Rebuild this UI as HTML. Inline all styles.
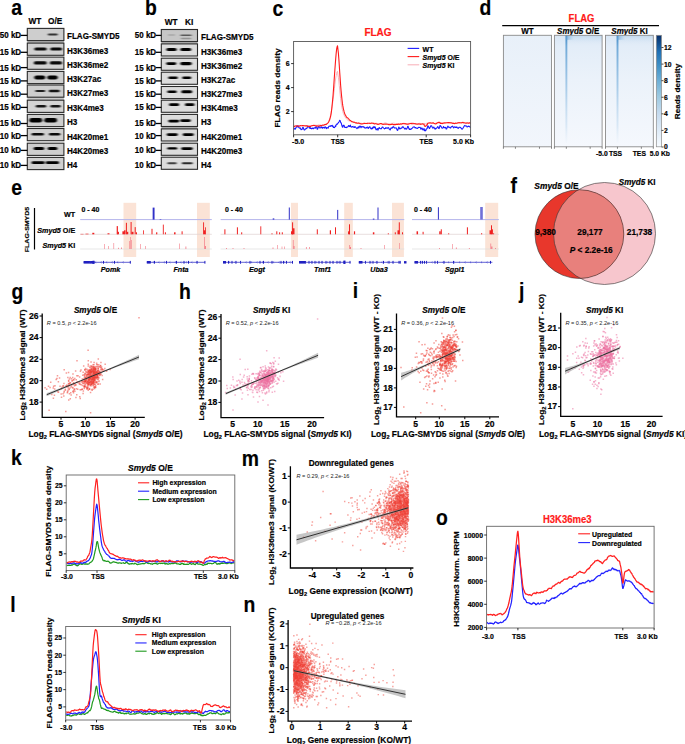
<!DOCTYPE html>
<html><head><meta charset="utf-8"><title>Figure</title>
<style>html,body{margin:0;padding:0;background:#fff;width:685px;height:744px;overflow:hidden;font-family:"Liberation Sans", sans-serif;}svg{display:block;}</style>
</head><body>
<svg width="685" height="744" viewBox="0 0 685 744" font-family='"Liberation Sans", sans-serif'><defs><filter id="blur1" x="-20%" y="-100%" width="140%" height="300%"><feGaussianBlur stdDeviation="0.9 0.45"/></filter><linearGradient id="hmv" x1="0" y1="0" x2="0" y2="1"><stop offset="0" stop-color="#d9e7f5"/><stop offset="0.1" stop-color="#e3edf8"/><stop offset="0.4" stop-color="#ebf2fa"/><stop offset="1" stop-color="#f5f8fd"/></linearGradient><linearGradient id="hmw" x1="0" y1="0" x2="0" y2="1"><stop offset="0" stop-color="#e8f0f9"/><stop offset="1" stop-color="#f2f6fc"/></linearGradient><linearGradient id="streak" x1="0" y1="0" x2="0" y2="1"><stop offset="0" stop-color="#3f88c5" stop-opacity="0.95"/><stop offset="0.1" stop-color="#5b9dd2" stop-opacity="0.85"/><stop offset="0.5" stop-color="#86b8e0" stop-opacity="0.65"/><stop offset="0.85" stop-color="#b5d3ec" stop-opacity="0.4"/><stop offset="1" stop-color="#d6e6f4" stop-opacity="0.1"/></linearGradient><linearGradient id="corner" x1="0" y1="0" x2="1" y2="0"><stop offset="0" stop-color="#6aa6d6" stop-opacity="0.75"/><stop offset="1" stop-color="#a9cbe9" stop-opacity="0"/></linearGradient><linearGradient id="topband" x1="0" y1="0" x2="0" y2="1"><stop offset="0" stop-color="#bcd6ee" stop-opacity="0.8"/><stop offset="1" stop-color="#dbe8f5" stop-opacity="0"/></linearGradient><linearGradient id="cbar" x1="0" y1="1" x2="0" y2="0"><stop offset="0" stop-color="#f7fbff"/><stop offset="0.15" stop-color="#deebf7"/><stop offset="0.3" stop-color="#c6dbef"/><stop offset="0.45" stop-color="#9ecae1"/><stop offset="0.6" stop-color="#6baed6"/><stop offset="0.72" stop-color="#4292c6"/><stop offset="0.85" stop-color="#2171b5"/><stop offset="1" stop-color="#08306b"/></linearGradient><clipPath id="c1"><circle cx="579.4" cy="234.1" r="44.4"/></clipPath></defs><rect x="27.3" y="40" width="36.6" height="3.5" fill="#b8b8b8" stroke="none" stroke-width="1" />
<rect x="27.3" y="96.8" width="36.6" height="3.6" fill="#c8c8c8" stroke="none" stroke-width="1" />
<rect x="27.3" y="28.4" width="36.6" height="12.2" fill="#cecece" stroke="#2a2a2a" stroke-width="1.1" />
<rect x="47.8" y="33.6" width="9.9" height="2" rx="1" fill="#000" opacity="0.75" filter="url(#blur1)"/>
<rect x="27.3" y="43.1" width="36.6" height="12.2" fill="#d0d0d0" stroke="#2a2a2a" stroke-width="1.1" />
<rect x="34.3" y="47.4" width="12.4" height="3" rx="1.5" fill="#000" opacity="0.95" filter="url(#blur1)"/>
<rect x="50.3" y="47.4" width="11.7" height="3" rx="1.5" fill="#000" opacity="0.95" filter="url(#blur1)"/>
<rect x="27.3" y="57.1" width="36.6" height="12.2" fill="#d2d2d2" stroke="#2a2a2a" stroke-width="1.1" />
<rect x="33.8" y="61.3" width="12.9" height="3.2" rx="1.6" fill="#000" opacity="0.95" filter="url(#blur1)"/>
<rect x="49.8" y="61.3" width="12.2" height="3.2" rx="1.6" fill="#000" opacity="0.95" filter="url(#blur1)"/>
<rect x="27.3" y="71.4" width="36.6" height="12.2" fill="#d0d0d0" stroke="#2a2a2a" stroke-width="1.1" />
<rect x="34.3" y="75.4" width="10.9" height="4.2" rx="2.1" fill="#000" opacity="1" filter="url(#blur1)"/>
<rect x="47.3" y="75.4" width="10.4" height="4.2" rx="2.1" fill="#000" opacity="1" filter="url(#blur1)"/>
<rect x="27.3" y="85" width="36.6" height="12.2" fill="#cecece" stroke="#2a2a2a" stroke-width="1.1" />
<rect x="35.3" y="89.9" width="9.9" height="2.2" rx="1.1" fill="#000" opacity="0.85" filter="url(#blur1)"/>
<rect x="48.8" y="89.75" width="10.9" height="2.5" rx="1.25" fill="#000" opacity="0.9" filter="url(#blur1)"/>
<rect x="27.3" y="100.2" width="36.6" height="12.2" fill="#d4d4d4" stroke="#2a2a2a" stroke-width="1.1" />
<rect x="35.8" y="105.1" width="10.4" height="2.4" rx="1.2" fill="#000" opacity="0.9" filter="url(#blur1)"/>
<rect x="50.4" y="105.1" width="10.2" height="2.4" rx="1.2" fill="#000" opacity="0.9" filter="url(#blur1)"/>
<rect x="27.3" y="114.4" width="36.6" height="12.2" fill="#cecece" stroke="#2a2a2a" stroke-width="1.1" />
<rect x="29.4" y="118.1" width="12.8" height="4.4" rx="2.2" fill="#000" opacity="1" filter="url(#blur1)"/>
<rect x="44.3" y="118.1" width="12.7" height="4.4" rx="2.2" fill="#000" opacity="1" filter="url(#blur1)"/>
<rect x="27.3" y="128.5" width="36.6" height="12.2" fill="#d0d0d0" stroke="#2a2a2a" stroke-width="1.1" />
<rect x="31.6" y="132.9" width="12.3" height="2.6" rx="1.3" fill="#000" opacity="0.95" filter="url(#blur1)"/>
<rect x="49" y="132.9" width="11.2" height="2.6" rx="1.3" fill="#000" opacity="0.95" filter="url(#blur1)"/>
<rect x="27.3" y="143.2" width="36.6" height="12.2" fill="#cecece" stroke="#2a2a2a" stroke-width="1.1" />
<rect x="33.7" y="146.9" width="10.5" height="3" rx="1.5" fill="#000" opacity="1" filter="url(#blur1)"/>
<rect x="47.7" y="146.9" width="9.7" height="3" rx="1.5" fill="#000" opacity="1" filter="url(#blur1)"/>
<rect x="27.3" y="157.4" width="36.6" height="12.2" fill="#d0d0d0" stroke="#2a2a2a" stroke-width="1.1" />
<rect x="31.6" y="161.3" width="13.1" height="2.8" rx="1.4" fill="#000" opacity="1" filter="url(#blur1)"/>
<rect x="45.8" y="161.3" width="13.2" height="2.8" rx="1.4" fill="#000" opacity="1" filter="url(#blur1)"/>
<line x1="20.8" y1="35.4" x2="27.3" y2="35.4" stroke="#000" stroke-width="1.3" />
<text font-size="8" font-weight="bold" text-anchor="end" stroke="#000" stroke-width="0.18" transform="translate(21.1 38.3) scale(1 1.12)">50 kD</text>
<text font-size="8.1" font-weight="bold" stroke="#000" stroke-width="0.18" transform="translate(67 39.4) scale(1 1.12)">FLAG-SMYD5</text>
<line x1="20.8" y1="52.3" x2="27.3" y2="52.3" stroke="#000" stroke-width="1.3" />
<text font-size="8" font-weight="bold" text-anchor="end" stroke="#000" stroke-width="0.18" transform="translate(21.1 55.2) scale(1 1.12)">15 kD</text>
<text font-size="8.1" font-weight="bold" stroke="#000" stroke-width="0.18" transform="translate(67 54.1) scale(1 1.12)">H3K36me3</text>
<line x1="20.8" y1="67.6" x2="27.3" y2="67.6" stroke="#000" stroke-width="1.3" />
<text font-size="8" font-weight="bold" text-anchor="end" stroke="#000" stroke-width="0.18" transform="translate(21.1 70.5) scale(1 1.12)">15 kD</text>
<text font-size="8.1" font-weight="bold" stroke="#000" stroke-width="0.18" transform="translate(67 68.1) scale(1 1.12)">H3K36me2</text>
<line x1="20.8" y1="80.9" x2="27.3" y2="80.9" stroke="#000" stroke-width="1.3" />
<text font-size="8" font-weight="bold" text-anchor="end" stroke="#000" stroke-width="0.18" transform="translate(21.1 83.8) scale(1 1.12)">15 kD</text>
<text font-size="8.1" font-weight="bold" stroke="#000" stroke-width="0.18" transform="translate(67 82.4) scale(1 1.12)">H3K27ac</text>
<line x1="20.8" y1="94.2" x2="27.3" y2="94.2" stroke="#000" stroke-width="1.3" />
<text font-size="8" font-weight="bold" text-anchor="end" stroke="#000" stroke-width="0.18" transform="translate(21.1 97.1) scale(1 1.12)">15 kD</text>
<text font-size="8.1" font-weight="bold" stroke="#000" stroke-width="0.18" transform="translate(67 96) scale(1 1.12)">H3K27me3</text>
<line x1="20.8" y1="107.4" x2="27.3" y2="107.4" stroke="#000" stroke-width="1.3" />
<text font-size="8" font-weight="bold" text-anchor="end" stroke="#000" stroke-width="0.18" transform="translate(21.1 110.3) scale(1 1.12)">15 kD</text>
<text font-size="8.1" font-weight="bold" stroke="#000" stroke-width="0.18" transform="translate(67 111.2) scale(1 1.12)">H3K4me3</text>
<line x1="20.8" y1="123.5" x2="27.3" y2="123.5" stroke="#000" stroke-width="1.3" />
<text font-size="8" font-weight="bold" text-anchor="end" stroke="#000" stroke-width="0.18" transform="translate(21.1 126.4) scale(1 1.12)">15 kD</text>
<text font-size="8.1" font-weight="bold" stroke="#000" stroke-width="0.18" transform="translate(67 125.4) scale(1 1.12)">H3</text>
<line x1="20.8" y1="135.6" x2="27.3" y2="135.6" stroke="#000" stroke-width="1.3" />
<text font-size="8" font-weight="bold" text-anchor="end" stroke="#000" stroke-width="0.18" transform="translate(21.1 138.5) scale(1 1.12)">10 kD</text>
<text font-size="8.1" font-weight="bold" stroke="#000" stroke-width="0.18" transform="translate(67 139.5) scale(1 1.12)">H4K20me1</text>
<line x1="20.8" y1="150.4" x2="27.3" y2="150.4" stroke="#000" stroke-width="1.3" />
<text font-size="8" font-weight="bold" text-anchor="end" stroke="#000" stroke-width="0.18" transform="translate(21.1 153.3) scale(1 1.12)">10 kD</text>
<text font-size="8.1" font-weight="bold" stroke="#000" stroke-width="0.18" transform="translate(67 154.2) scale(1 1.12)">H4K20me3</text>
<line x1="20.8" y1="165.4" x2="27.3" y2="165.4" stroke="#000" stroke-width="1.3" />
<text font-size="8" font-weight="bold" text-anchor="end" stroke="#000" stroke-width="0.18" transform="translate(21.1 168.3) scale(1 1.12)">10 kD</text>
<text font-size="8.1" font-weight="bold" stroke="#000" stroke-width="0.18" transform="translate(67 168.4) scale(1 1.12)">H4</text>
<text font-size="21.5" font-weight="bold" stroke="#000" stroke-width="0.18" transform="translate(11.2 15) scale(0.9 1)">a</text>
<text font-size="8.3" font-weight="bold" stroke="#000" stroke-width="0.18" transform="translate(28.4 24.3) scale(1 1.12)">WT</text>
<text font-size="8.3" font-weight="bold" stroke="#000" stroke-width="0.18" transform="translate(48 24.3) scale(1 1.12)">O/E</text>
<rect x="161.3" y="126.5" width="36.2" height="2.6" fill="#b0b0b0" stroke="none" stroke-width="1" />
<rect x="161.3" y="41" width="36.2" height="3" fill="#bcbcbc" stroke="none" stroke-width="1" />
<rect x="161.3" y="29.5" width="36.2" height="12.1" fill="#c6c6c6" stroke="#2a2a2a" stroke-width="1.1" />
<rect x="167.8" y="34.25" width="7.4" height="1.5" rx="0.75" fill="#000" opacity="0.15" filter="url(#blur1)"/>
<rect x="180.3" y="34.4" width="11.4" height="1.6" rx="0.8" fill="#000" opacity="0.55" filter="url(#blur1)"/>
<rect x="180.8" y="37.8" width="10.4" height="1.4" rx="0.7" fill="#000" opacity="0.25" filter="url(#blur1)"/>
<rect x="161.3" y="43.9" width="36.2" height="12.1" fill="#dcdcdc" stroke="#2a2a2a" stroke-width="1.1" />
<rect x="166.4" y="48.1" width="10.2" height="3" rx="1.5" fill="#000" opacity="1" filter="url(#blur1)"/>
<rect x="180.4" y="48.1" width="10.8" height="3" rx="1.5" fill="#000" opacity="1" filter="url(#blur1)"/>
<rect x="161.3" y="58.2" width="36.2" height="12.1" fill="#dcdcdc" stroke="#2a2a2a" stroke-width="1.1" />
<rect x="166.3" y="62.2" width="9.9" height="2.8" rx="1.4" fill="#000" opacity="1" filter="url(#blur1)"/>
<rect x="180.3" y="62" width="11.4" height="3.2" rx="1.6" fill="#000" opacity="1" filter="url(#blur1)"/>
<rect x="161.3" y="72.2" width="36.2" height="12.1" fill="#dcdcdc" stroke="#2a2a2a" stroke-width="1.1" />
<rect x="168.3" y="76.5" width="9.4" height="2.4" rx="1.2" fill="#000" opacity="1" filter="url(#blur1)"/>
<rect x="182.3" y="76.5" width="8.9" height="2.4" rx="1.2" fill="#000" opacity="1" filter="url(#blur1)"/>
<rect x="161.3" y="86.5" width="36.2" height="12.1" fill="#dcdcdc" stroke="#2a2a2a" stroke-width="1.1" />
<rect x="167.3" y="90.5" width="9.4" height="2.6" rx="1.3" fill="#000" opacity="1" filter="url(#blur1)"/>
<rect x="181.3" y="90.3" width="10.9" height="3" rx="1.5" fill="#000" opacity="1" filter="url(#blur1)"/>
<rect x="161.3" y="100.2" width="36.2" height="12.1" fill="#dcdcdc" stroke="#2a2a2a" stroke-width="1.1" />
<rect x="169.1" y="103.3" width="10" height="2.8" rx="1.4" fill="#000" opacity="1" filter="url(#blur1)"/>
<rect x="185" y="103.3" width="9.4" height="2.8" rx="1.4" fill="#000" opacity="1" filter="url(#blur1)"/>
<rect x="161.3" y="114.4" width="36.2" height="12.1" fill="#dcdcdc" stroke="#2a2a2a" stroke-width="1.1" />
<rect x="168.3" y="119.8" width="10.9" height="2.6" rx="1.3" fill="#000" opacity="1" filter="url(#blur1)"/>
<rect x="180.3" y="119.3" width="10.4" height="2.6" rx="1.3" fill="#000" opacity="1" filter="url(#blur1)"/>
<rect x="161.3" y="128.9" width="36.2" height="12.1" fill="#dadada" stroke="#2a2a2a" stroke-width="1.1" />
<rect x="166.8" y="133.3" width="10.9" height="2.6" rx="1.3" fill="#000" opacity="1" filter="url(#blur1)"/>
<rect x="182.8" y="133.3" width="10.9" height="2.6" rx="1.3" fill="#000" opacity="1" filter="url(#blur1)"/>
<rect x="161.3" y="143.2" width="36.2" height="12.1" fill="#dcdcdc" stroke="#2a2a2a" stroke-width="1.1" />
<rect x="167.3" y="147.2" width="9.9" height="2.4" rx="1.2" fill="#000" opacity="1" filter="url(#blur1)"/>
<rect x="181.3" y="147.2" width="11.4" height="2.8" rx="1.4" fill="#000" opacity="1" filter="url(#blur1)"/>
<rect x="161.3" y="157.2" width="36.2" height="12.1" fill="#dcdcdc" stroke="#2a2a2a" stroke-width="1.1" />
<rect x="167.3" y="162.35" width="9.4" height="1.9" rx="0.95" fill="#000" opacity="0.7" filter="url(#blur1)"/>
<rect x="181.8" y="162.3" width="10.9" height="2" rx="1" fill="#000" opacity="0.8" filter="url(#blur1)"/>
<line x1="155.8" y1="35.4" x2="161.3" y2="35.4" stroke="#000" stroke-width="1.3" />
<text font-size="8" font-weight="bold" text-anchor="end" stroke="#000" stroke-width="0.18" transform="translate(156.1 38.3) scale(1 1.12)">50 kD</text>
<text font-size="8.1" font-weight="bold" stroke="#000" stroke-width="0.18" transform="translate(201 40.45) scale(1 1.12)">FLAG-SMYD5</text>
<line x1="155.8" y1="52.3" x2="161.3" y2="52.3" stroke="#000" stroke-width="1.3" />
<text font-size="8" font-weight="bold" text-anchor="end" stroke="#000" stroke-width="0.18" transform="translate(156.1 55.2) scale(1 1.12)">15 kD</text>
<text font-size="8.1" font-weight="bold" stroke="#000" stroke-width="0.18" transform="translate(201 54.85) scale(1 1.12)">H3K36me3</text>
<line x1="155.8" y1="67.6" x2="161.3" y2="67.6" stroke="#000" stroke-width="1.3" />
<text font-size="8" font-weight="bold" text-anchor="end" stroke="#000" stroke-width="0.18" transform="translate(156.1 70.5) scale(1 1.12)">15 kD</text>
<text font-size="8.1" font-weight="bold" stroke="#000" stroke-width="0.18" transform="translate(201 69.15) scale(1 1.12)">H3K36me2</text>
<line x1="155.8" y1="80.9" x2="161.3" y2="80.9" stroke="#000" stroke-width="1.3" />
<text font-size="8" font-weight="bold" text-anchor="end" stroke="#000" stroke-width="0.18" transform="translate(156.1 83.8) scale(1 1.12)">15 kD</text>
<text font-size="8.1" font-weight="bold" stroke="#000" stroke-width="0.18" transform="translate(201 83.15) scale(1 1.12)">H3K27ac</text>
<line x1="155.8" y1="94.2" x2="161.3" y2="94.2" stroke="#000" stroke-width="1.3" />
<text font-size="8" font-weight="bold" text-anchor="end" stroke="#000" stroke-width="0.18" transform="translate(156.1 97.1) scale(1 1.12)">15 kD</text>
<text font-size="8.1" font-weight="bold" stroke="#000" stroke-width="0.18" transform="translate(201 97.45) scale(1 1.12)">H3K27me3</text>
<line x1="155.8" y1="107.4" x2="161.3" y2="107.4" stroke="#000" stroke-width="1.3" />
<text font-size="8" font-weight="bold" text-anchor="end" stroke="#000" stroke-width="0.18" transform="translate(156.1 110.3) scale(1 1.12)">15 kD</text>
<text font-size="8.1" font-weight="bold" stroke="#000" stroke-width="0.18" transform="translate(201 111.15) scale(1 1.12)">H3K4me3</text>
<line x1="155.8" y1="123.5" x2="161.3" y2="123.5" stroke="#000" stroke-width="1.3" />
<text font-size="8" font-weight="bold" text-anchor="end" stroke="#000" stroke-width="0.18" transform="translate(156.1 126.4) scale(1 1.12)">15 kD</text>
<text font-size="8.1" font-weight="bold" stroke="#000" stroke-width="0.18" transform="translate(201 125.35) scale(1 1.12)">H3</text>
<line x1="155.8" y1="135.6" x2="161.3" y2="135.6" stroke="#000" stroke-width="1.3" />
<text font-size="8" font-weight="bold" text-anchor="end" stroke="#000" stroke-width="0.18" transform="translate(156.1 138.5) scale(1 1.12)">10 kD</text>
<text font-size="8.1" font-weight="bold" stroke="#000" stroke-width="0.18" transform="translate(201 139.85) scale(1 1.12)">H4K20me1</text>
<line x1="155.8" y1="150.4" x2="161.3" y2="150.4" stroke="#000" stroke-width="1.3" />
<text font-size="8" font-weight="bold" text-anchor="end" stroke="#000" stroke-width="0.18" transform="translate(156.1 153.3) scale(1 1.12)">10 kD</text>
<text font-size="8.1" font-weight="bold" stroke="#000" stroke-width="0.18" transform="translate(201 154.15) scale(1 1.12)">H4K20me3</text>
<line x1="155.8" y1="165.4" x2="161.3" y2="165.4" stroke="#000" stroke-width="1.3" />
<text font-size="8" font-weight="bold" text-anchor="end" stroke="#000" stroke-width="0.18" transform="translate(156.1 168.3) scale(1 1.12)">10 kD</text>
<text font-size="8.1" font-weight="bold" stroke="#000" stroke-width="0.18" transform="translate(201 168.15) scale(1 1.12)">H4</text>
<text font-size="21.5" font-weight="bold" stroke="#000" stroke-width="0.18" transform="translate(145 15) scale(0.9 1)">b</text>
<text font-size="8.3" font-weight="bold" stroke="#000" stroke-width="0.18" transform="translate(164.8 24.8) scale(1 1.12)">WT</text>
<text font-size="8.3" font-weight="bold" stroke="#000" stroke-width="0.18" transform="translate(185 24.8) scale(1 1.12)">KI</text>
<text font-size="21.5" font-weight="bold" stroke="#000" stroke-width="0.18" transform="translate(272.5 16) scale(0.9 1)">c</text>
<path d="M293.6 125.32 294.04 125.31 294.49 125.38 294.93 125.27 295.37 125.56 295.82 125.54 296.26 125.52 296.71 125.48 297.15 125.58 297.59 125.53 298.04 125.66 298.48 125.52 298.92 125.6 299.37 125.6 299.81 125.45 300.25 125.48 300.7 125.54 301.14 125.58 301.58 125.43 302.03 125.51 302.47 125.73 302.92 125.83 303.36 125.94 303.8 126 304.25 126.01 304.69 126.06 305.13 126.06 305.58 125.86 306.02 126.03 306.46 125.88 306.91 125.96 307.35 126.08 307.8 126.07 308.24 126 308.68 126.14 309.13 126.01 309.57 126.01 310.01 125.87 310.46 125.75 310.9 125.7 311.34 125.72 311.79 125.68 312.23 125.68 312.68 125.6 313.12 125.49 313.56 125.35 314.01 125.43 314.45 125.36 314.89 125.22 315.34 125.19 315.78 125.19 316.22 125.19 316.67 125.34 317.11 125.32 317.55 125.28 318 125.17 318.44 124.86 318.89 124.9 319.33 124.92 319.77 125.02 320.22 124.94 320.66 124.88 321.1 125.08 321.55 125.19 321.99 125.26 322.43 125.21 322.88 124.92 323.32 124.98 323.77 124.82 324.21 124.54 324.65 124.63 325.1 124.49 325.54 124.27 325.98 124.11 326.43 123.89 326.87 123.72 327.31 123.48 327.76 122.92 328.2 122.16 328.65 121.46 329.09 120.41 329.53 119.07 329.98 117.63 330.42 115.89 330.86 113.82 331.31 111.57 331.75 109.12 332.19 106.28 332.64 103.17 333.08 99.59 333.52 95.99 333.97 92.26 334.41 88.47 334.86 84.49 335.3 81.06 335.74 77.95 336.19 75.4 336.63 73.37 337.07 71.98 337.52 71.32 337.96 75.02 338.4 77.32 338.85 81.08 339.29 85.56 339.74 90.15 340.18 94.49 340.62 98.56 341.07 102.12 341.51 105.26 341.95 107.69 342.4 109.82 342.84 111.63 343.28 113.27 343.73 114.39 344.17 115.28 344.62 116.17 345.06 116.99 345.5 117.63 345.95 118.26 346.39 118.72 346.83 119.24 347.28 119.74 347.72 120.11 348.16 120.55 348.61 120.75 349.05 120.76 349.49 120.97 349.94 121.1 350.38 121.28 350.83 121.36 351.27 121.52 351.71 121.61 352.16 121.92 352.6 121.89 353.04 122.02 353.49 122.16 353.93 122.33 354.37 122.19 354.82 122.48 355.26 122.54 355.71 122.76 356.15 122.97 356.59 122.87 357.04 122.85 357.48 122.98 357.92 122.83 358.37 122.92 358.81 122.92 359.25 122.64 359.7 122.7 360.14 122.99 360.58 123.31 361.03 123.54 361.47 123.38 361.92 123.44 362.36 123.64 362.8 123.69 363.25 123.59 363.69 123.28 364.13 123.13 364.58 123.2 365.02 123.14 365.46 123.19 365.91 123.21 366.35 123.18 366.8 123.09 367.24 122.94 367.68 123.06 368.13 123.31 368.57 123.3 369.01 123.32 369.46 123.2 369.9 123.23 370.34 123.54 370.79 123.55 371.23 123.25 371.68 123.31 372.12 123.26 372.56 123.38 373.01 123.41 373.45 123.28 373.89 123.15 374.34 123.19 374.78 123.19 375.22 123.27 375.67 123.25 376.11 123.29 376.55 123.25 377 123.35 377.44 123.49 377.89 123.47 378.33 123.53 378.77 123.47 379.22 123.57 379.66 123.58 380.1 123.54 380.55 123.5 380.99 123.55 381.43 123.51 381.88 123.51 382.32 123.6 382.77 123.6 383.21 123.48 383.65 123.43 384.1 123.27 384.54 123.07 384.98 123.03 385.43 122.95 385.87 123.06 386.31 123.23 386.76 123.27 387.2 123.54 387.65 123.69 388.09 123.86 388.53 123.76 388.98 123.78 389.42 123.68 389.86 123.7 390.31 123.56 390.75 123.58 391.19 123.4 391.64 123.44 392.08 123.31 392.52 123.36 392.97 123.38 393.41 123.17 393.86 123.3 394.3 123.33 394.74 123.35 395.19 123.44 395.63 123.57 396.07 123.6 396.52 123.64 396.96 123.55 397.4 123.64 397.85 123.64 398.29 123.64 398.74 123.66 399.18 123.68 399.62 123.79 400.07 123.89 400.51 123.96 400.95 123.92 401.4 123.98 401.84 123.87 402.28 123.62 402.73 123.51 403.17 123.33 403.62 123.26 404.06 123.3 404.5 123.42 404.95 123.44 405.39 123.78 405.83 123.92 406.28 123.97 406.72 123.82 407.16 123.68 407.61 123.63 408.05 123.55 408.49 123.44 408.94 123.31 409.38 123.39 409.83 123.46 410.27 123.31 410.71 123.15 411.16 122.99 411.6 122.9 412.04 123 412.49 122.87 412.93 122.79 413.37 123.08 413.82 123.16 414.26 123.5 414.71 123.53 415.15 123.42 415.59 123.55 416.04 123.76 416.48 123.84 416.92 123.81 417.37 123.61 417.81 123.54 418.25 123.59 418.7 123.7 419.14 123.49 419.58 123.37 420.03 123.41 420.47 123.42 420.92 123.67 421.36 123.7 421.8 123.6 422.25 123.72 422.69 123.6 423.13 123.54 423.58 123.77 424.02 123.61 424.46 123.58 424.91 123.56 425.35 123.71 425.8 123.98 426.24 123.38 426.68 123.19 427.13 123.16 427.57 123.33 428.01 123.18 428.46 123.33 428.9 123.21 429.34 123.07 429.79 123.12 430.23 123.1 430.68 123.05 431.12 123.08 431.56 122.94 432.01 122.88 432.45 123.06 432.89 123.14 433.34 123.08 433.78 123.1 434.22 123.29 434.67 123.17 435.11 123.23 435.55 123.2 436 123.02 436.44 123.13 436.89 123.05 437.33 123.04 437.77 123.07 438.22 122.96 438.66 123.02 439.1 123.07 439.55 123.05 439.99 123.07 440.43 122.95 440.88 123.01 441.32 123.08 441.77 122.93 442.21 123.06 442.65 123.06 443.1 123.13 443.54 123.25 443.98 123.29 444.43 123.33 444.87 123.51 445.31 123.4 445.76 123.25 446.2 123.08 446.65 122.98 447.09 122.85 447.53 122.83 447.98 122.86 448.42 123.04 448.86 123.17 449.31 123.05 449.75 123.07 450.19 123.11 450.64 122.94 451.08 122.9 451.52 122.8 451.97 122.91 452.41 123.15 452.86 123.21 453.3 122.98 453.74 123.15 454.19 123.21 454.63 123.21 455.07 123.12 455.52 123.18 455.96 123.15 456.4 123.27 456.85 123.22 457.29 123.07 457.74 123.13 458.18 123.27 458.62 123 459.07 122.91 459.51 123.11 459.95 123.12 460.4 123.17 460.84 123.01 461.28 122.83 461.73 123 462.17 123.08 462.62 122.92 463.06 122.95 463.5 123.12 463.95 123.44 464.39 123.53 464.83 123.63 465.28 123.63 465.72 123.58 466.16 123.55 466.61 123.41 467.05 123.14 467.49 122.96 467.94 122.88 468.38 122.81 468.83 122.82 469.27 122.82 469.71 122.65 470.16 122.72 470.6 122.74" fill="none" stroke="#f9b4bc" stroke-width="1" stroke-linejoin="round" />
<path d="M293.6 129.52 294.04 128.81 294.49 128.9 294.93 128.32 295.37 129.13 295.82 128.1 296.26 127.18 296.71 126.47 297.15 126.17 297.59 126.82 298.04 125.82 298.48 126.6 298.92 127.69 299.37 128.04 299.81 128.15 300.25 127.86 300.7 128.96 301.14 129.72 301.58 129.27 302.03 129.47 302.47 127.87 302.92 127.43 303.36 127.73 303.8 129.26 304.25 129.88 304.69 130 305.13 129.28 305.58 129 306.02 128.39 306.46 128.61 306.91 128.32 307.35 127.18 307.8 126.12 308.24 126.35 308.68 126.62 309.13 127.76 309.57 127.55 310.01 128.47 310.46 127.7 310.9 128.53 311.34 128.52 311.79 128.89 312.23 127.95 312.68 128.18 313.12 128.43 313.56 128.63 314.01 127.76 314.45 127.9 314.89 127.9 315.34 128.14 315.78 126.97 316.22 126.72 316.67 127.24 317.11 129.08 317.55 129.29 318 127.99 318.44 126.75 318.89 126.33 319.33 127.17 319.77 127.94 320.22 127.99 320.66 127.67 321.1 126.6 321.55 127.68 321.99 127.62 322.43 128.27 322.88 127.13 323.32 127.5 323.77 127.48 324.21 128.17 324.65 127.21 325.1 126.87 325.54 126.94 325.98 128.1 326.43 128.63 326.87 127.48 327.31 127.87 327.76 127.75 328.2 128.16 328.65 126.61 329.09 126.24 329.53 126.15 329.98 126.35 330.42 125.75 330.86 126.12 331.31 125.64 331.75 126.01 332.19 125.21 332.64 126.58 333.08 126.13 333.52 127.48 333.97 127.56 334.41 127.61 334.86 127.17 335.3 125.88 335.74 126.33 336.19 124.66 336.63 124.41 337.07 123.92 337.52 124.13 337.96 123.19 338.4 122.56 338.85 122.05 339.29 121.24 339.74 120.34 340.18 120.7 340.62 122.28 341.07 122.78 341.51 124.01 341.95 125.79 342.4 126.95 342.84 127.24 343.28 125.26 343.73 125.25 344.17 125.55 344.62 127.32 345.06 127.36 345.5 127.44 345.95 127.26 346.39 127.65 346.83 127.24 347.28 126.94 347.72 126.86 348.16 126.26 348.61 125.46 349.05 126.38 349.49 125.74 349.94 126.57 350.38 125.1 350.83 126.81 351.27 126.73 351.71 127.27 352.16 126.85 352.6 126.6 353.04 126.4 353.49 127 353.93 127.51 354.37 127.48 354.82 126.63 355.26 126.76 355.71 127.29 356.15 127.74 356.59 128.16 357.04 128.69 357.48 127.82 357.92 127.48 358.37 126.79 358.81 127.99 359.25 127.14 359.7 126.31 360.14 126.06 360.58 126.47 361.03 127.78 361.47 126.78 361.92 126.58 362.36 126.64 362.8 126.92 363.25 127.23 363.69 126.6 364.13 127.07 364.58 127.61 365.02 128.12 365.46 128 365.91 127.69 366.35 127.92 366.8 127.21 367.24 127.3 367.68 127.12 368.13 128.53 368.57 128.08 369.01 127.31 369.46 126.83 369.9 126.75 370.34 128.03 370.79 128.36 371.23 129.06 371.68 128.3 372.12 127.86 372.56 128.68 373.01 127.09 373.45 127.79 373.89 126.58 374.34 127.76 374.78 126.89 375.22 126.95 375.67 128.88 376.11 129.88 376.55 129.63 377 128.61 377.44 128.61 377.89 130.21 378.33 129.12 378.77 128.33 379.22 127.58 379.66 128.29 380.1 128.61 380.55 128.73 380.99 128.81 381.43 128.63 381.88 127.78 382.32 127 382.77 127.12 383.21 127.65 383.65 128.09 384.1 128.44 384.54 128.85 384.98 128.47 385.43 128.35 385.87 127.64 386.31 127.9 386.76 128.28 387.2 128.01 387.65 128.12 388.09 127.6 388.53 127.73 388.98 128.35 389.42 129.43 389.86 129.78 390.31 129.86 390.75 128.29 391.19 128.01 391.64 127.81 392.08 128.23 392.52 127.68 392.97 126.82 393.41 126.66 393.86 127.13 394.3 127.86 394.74 128.11 395.19 128.03 395.63 127.95 396.07 127.73 396.52 128.61 396.96 129.41 397.4 130.43 397.85 130.08 398.29 128.55 398.74 127.07 399.18 127.35 399.62 128.84 400.07 129.04 400.51 128.29 400.95 128.19 401.4 128.06 401.84 128.2 402.28 126.82 402.73 127.19 403.17 126.82 403.62 127.34 404.06 128 404.5 128.58 404.95 129.09 405.39 128.18 405.83 128.57 406.28 129.01 406.72 129.09 407.16 127.99 407.61 126.46 408.05 126.25 408.49 127.61 408.94 128.71 409.38 129.55 409.83 128.79 410.27 129.54 410.71 129.26 411.16 129.11 411.6 128.49 412.04 128.43 412.49 127.96 412.93 127.45 413.37 126.96 413.82 127.06 414.26 126.87 414.71 127.21 415.15 127.93 415.59 127.5 416.04 127.94 416.48 128.11 416.92 128.38 417.37 128.51 417.81 127.93 418.25 127.75 418.7 127.34 419.14 127.5 419.58 127.57 420.03 127.23 420.47 128.07 420.92 129.22 421.36 128.92 421.8 127.93 422.25 128.32 422.69 129.7 423.13 129.89 423.58 129.32 424.02 128.39 424.46 130.76 424.91 130 425.35 130.84 425.8 130.56 426.24 129.09 426.68 128.89 427.13 128.54 427.57 126.64 428.01 125.9 428.46 126.61 428.9 127.71 429.34 128.49 429.79 128.06 430.23 126.96 430.68 125.88 431.12 125.78 431.56 125.82 432.01 126.67 432.45 127.78 432.89 128.14 433.34 127.66 433.78 127 434.22 127.88 434.67 128.41 435.11 129.21 435.55 128.35 436 128.63 436.44 127.95 436.89 127.86 437.33 127.25 437.77 126.46 438.22 127.2 438.66 128.39 439.1 128.6 439.55 127.32 439.99 125.46 440.43 125.8 440.88 126.24 441.32 126.91 441.77 127.72 442.21 128.29 442.65 128.1 443.1 127.73 443.54 126.46 443.98 127.5 444.43 127.43 444.87 127.84 445.31 127.36 445.76 127.72 446.2 128.98 446.65 129.05 447.09 127.69 447.53 126.78 447.98 126.14 448.42 127.18 448.86 126.96 449.31 127.17 449.75 127.38 450.19 128.04 450.64 127.99 451.08 126.92 451.52 126.71 451.97 126.56 452.41 126.13 452.86 126.51 453.3 127.4 453.74 127.93 454.19 127.3 454.63 126.71 455.07 127.08 455.52 127.47 455.96 127.16 456.4 127.46 456.85 126.88 457.29 127.75 457.74 128 458.18 128.35 458.62 127.99 459.07 127.21 459.51 127.29 459.95 127.33 460.4 127.58 460.84 127.83 461.28 128.35 461.73 129.04 462.17 129.18 462.62 128.62 463.06 127.98 463.5 127.1 463.95 126.58 464.39 125.71 464.83 125.53 465.28 125.9 465.72 125.97 466.16 126.02 466.61 126.15 467.05 126.84 467.49 126.88 467.94 126.53 468.38 126.16 468.83 126.52 469.27 126.28 469.71 126.97 470.16 126.98 470.6 127.52" fill="none" stroke="#1a1aff" stroke-width="1.1" stroke-linejoin="round" />
<path d="M293.6 126.48 294.04 126.8 294.49 126.56 294.93 126.15 295.37 126.03 295.82 126.02 296.26 126.03 296.71 125.84 297.15 125.95 297.59 125.89 298.04 126.29 298.48 126.36 298.92 126.17 299.37 126.16 299.81 126.06 300.25 125.69 300.7 125.55 301.14 125.69 301.58 125.69 302.03 125.74 302.47 125.44 302.92 125.48 303.36 125.73 303.8 125.67 304.25 125.72 304.69 125.73 305.13 125.68 305.58 125.87 306.02 125.82 306.46 125.69 306.91 126.23 307.35 125.95 307.8 126.05 308.24 126.4 308.68 126.44 309.13 126.35 309.57 126.5 310.01 126.25 310.46 126.38 310.9 126.24 311.34 125.79 311.79 125.72 312.23 125.78 312.68 125.54 313.12 125.4 313.56 125.52 314.01 125.41 314.45 125.51 314.89 125.63 315.34 125.74 315.78 125.85 316.22 126.14 316.67 125.89 317.11 125.87 317.55 126.15 318 126.08 318.44 126.06 318.89 125.95 319.33 125.84 319.77 126.02 320.22 125.94 320.66 125.49 321.1 125.75 321.55 125.63 321.99 125.63 322.43 125.37 322.88 124.95 323.32 125.15 323.77 125.19 324.21 124.95 324.65 124.59 325.1 124.55 325.54 124.4 325.98 124.75 326.43 124.18 326.87 123.91 327.31 123.39 327.76 123.08 328.2 122.55 328.65 121.96 329.09 120.99 329.53 120.23 329.98 118.7 330.42 117.18 330.86 115.11 331.31 112.36 331.75 108.8 332.19 104.55 332.64 99.95 333.08 95.13 333.52 89.16 333.97 82.77 334.41 76.27 334.86 69.93 335.3 63.97 335.74 58.17 336.19 53.15 336.63 49.22 337.07 46.9 337.52 45.71 337.96 49.62 338.4 53.26 338.85 59.04 339.29 65.48 339.74 72.47 340.18 78.89 340.62 85.29 341.07 90.65 341.51 95.37 341.95 99.19 342.4 103.14 342.84 105.93 343.28 108.3 343.73 110.15 344.17 111.91 344.62 113.35 345.06 114.64 345.5 115.27 345.95 116.05 346.39 117.01 346.83 117.4 347.28 117.85 347.72 118.01 348.16 118.38 348.61 118.69 349.05 119.51 349.49 119.84 349.94 120.36 350.38 120.44 350.83 120.83 351.27 121.2 351.71 121.66 352.16 121.61 352.6 121.85 353.04 122.02 353.49 122.3 353.93 122.17 354.37 122.27 354.82 122.39 355.26 122.73 355.71 122.91 356.15 122.78 356.59 122.81 357.04 123.23 357.48 123.22 357.92 123.18 358.37 123.05 358.81 123.13 359.25 123.33 359.7 123.48 360.14 123.63 360.58 123.79 361.03 123.96 361.47 124.07 361.92 123.76 362.36 123.79 362.8 123.86 363.25 123.66 363.69 123.53 364.13 123.19 364.58 123.47 365.02 123.49 365.46 123.52 365.91 123.5 366.35 123.52 366.8 123.47 367.24 123.58 367.68 123.28 368.13 123.19 368.57 123.18 369.01 123.23 369.46 123.25 369.9 123.5 370.34 123.35 370.79 123.24 371.23 123.17 371.68 123.14 372.12 123.19 372.56 123.29 373.01 123.11 373.45 123.51 373.89 123.61 374.34 123.93 374.78 123.71 375.22 123.75 375.67 123.64 376.11 123.84 376.55 123.9 377 124.06 377.44 124.23 377.89 124.45 378.33 124.21 378.77 124.34 379.22 124.17 379.66 123.81 380.1 123.67 380.55 123.48 380.99 123.54 381.43 123.92 381.88 123.84 382.32 124.18 382.77 124.33 383.21 124.37 383.65 124.24 384.1 124.22 384.54 124.11 384.98 124.17 385.43 124 385.87 124.12 386.31 124.12 386.76 124.3 387.2 124.32 387.65 124.32 388.09 124.4 388.53 124.63 388.98 124.63 389.42 124.81 389.86 124.63 390.31 124.43 390.75 124.59 391.19 124.54 391.64 124.26 392.08 124.39 392.52 124.14 392.97 124.37 393.41 124.8 393.86 124.57 394.3 124.61 394.74 124.58 395.19 124.61 395.63 124.59 396.07 124.43 396.52 124.34 396.96 124.4 397.4 124.39 397.85 124.48 398.29 124.06 398.74 124.12 399.18 124.37 399.62 124.32 400.07 124.24 400.51 123.9 400.95 123.85 401.4 124.08 401.84 124.03 402.28 123.9 402.73 123.46 403.17 123.53 403.62 123.75 404.06 123.7 404.5 123.63 404.95 123.88 405.39 123.62 405.83 123.96 406.28 123.88 406.72 124.12 407.16 124.25 407.61 124.26 408.05 123.95 408.49 124.1 408.94 123.91 409.38 123.81 409.83 123.67 410.27 123.45 410.71 123.45 411.16 123.6 411.6 123.61 412.04 123.6 412.49 123.67 412.93 123.72 413.37 123.74 413.82 123.55 414.26 123.57 414.71 123.69 415.15 123.89 415.59 123.75 416.04 123.96 416.48 124.01 416.92 124.11 417.37 124.2 417.81 123.97 418.25 123.88 418.7 124.13 419.14 123.84 419.58 124.11 420.03 124.36 420.47 123.99 420.92 124.33 421.36 124.14 421.8 124.07 422.25 123.96 422.69 123.74 423.13 123.97 423.58 124.32 424.02 124.16 424.46 126.03 424.91 126.21 425.35 126.3 425.8 126.4 426.24 125.13 426.68 125.15 427.13 125.05 427.57 123.52 428.01 123.19 428.46 123.03 428.9 122.93 429.34 122.85 429.79 122.94 430.23 123.06 430.68 122.87 431.12 122.96 431.56 123.1 432.01 123.17 432.45 122.97 432.89 122.85 433.34 122.89 433.78 123.2 434.22 123.46 434.67 123.61 435.11 123.7 435.55 123.88 436 123.72 436.44 123.69 436.89 123.09 437.33 122.74 437.77 122.76 438.22 122.49 438.66 122.3 439.1 122.49 439.55 122.32 439.99 122.85 440.43 123.41 440.88 123.21 441.32 123.41 441.77 123.25 442.21 123.24 442.65 123.57 443.1 123.24 443.54 122.96 443.98 123.04 444.43 122.75 444.87 122.94 445.31 122.86 445.76 122.68 446.2 122.78 446.65 122.74 447.09 122.68 447.53 122.81 447.98 122.49 448.42 122.53 448.86 122.67 449.31 122.69 449.75 122.63 450.19 122.67 450.64 122.74 451.08 122.9 451.52 122.95 451.97 122.83 452.41 123.3 452.86 123.37 453.3 123.19 453.74 123.31 454.19 123.57 454.63 123.65 455.07 123.56 455.52 123.17 455.96 123.21 456.4 123.34 456.85 123.2 457.29 123 457.74 122.91 458.18 122.75 458.62 122.72 459.07 122.56 459.51 122.73 459.95 122.8 460.4 122.79 460.84 122.74 461.28 122.83 461.73 122.81 462.17 122.6 462.62 122.41 463.06 122.38 463.5 122.78 463.95 122.69 464.39 122.74 464.83 122.8 465.28 122.91 465.72 123.09 466.16 123.14 466.61 123 467.05 122.85 467.49 122.94 467.94 123.03 468.38 123.3 468.83 123.25 469.27 122.99 469.71 122.79 470.16 123.09 470.6 122.91" fill="none" stroke="#ff1a1a" stroke-width="1.1" stroke-linejoin="round" />
<rect x="293.6" y="41.5" width="177" height="93.3" fill="none" stroke="#555" stroke-width="0.9" />
<line x1="291.1" y1="111.6" x2="293.6" y2="111.6" stroke="#000" stroke-width="0.8" />
<text font-size="7" font-weight="bold" text-anchor="end" stroke="#000" stroke-width="0.18" transform="translate(289.6 114.1) scale(1 1.12)">2</text>
<line x1="291.1" y1="87.6" x2="293.6" y2="87.6" stroke="#000" stroke-width="0.8" />
<text font-size="7" font-weight="bold" text-anchor="end" stroke="#000" stroke-width="0.18" transform="translate(289.6 90.1) scale(1 1.12)">4</text>
<line x1="291.1" y1="63.6" x2="293.6" y2="63.6" stroke="#000" stroke-width="0.8" />
<text font-size="7" font-weight="bold" text-anchor="end" stroke="#000" stroke-width="0.18" transform="translate(289.6 66.1) scale(1 1.12)">6</text>
<line x1="293.6" y1="134.8" x2="293.6" y2="137.3" stroke="#000" stroke-width="0.8" />
<line x1="337.7" y1="134.8" x2="337.7" y2="137.3" stroke="#000" stroke-width="0.8" />
<line x1="426.2" y1="134.8" x2="426.2" y2="137.3" stroke="#000" stroke-width="0.8" />
<line x1="470.6" y1="134.8" x2="470.6" y2="137.3" stroke="#000" stroke-width="0.8" />
<text font-size="7" font-weight="bold" stroke="#000" stroke-width="0.18" transform="translate(292.1 144) scale(1 1.12)">-5.0</text>
<text font-size="7" font-weight="bold" text-anchor="middle" stroke="#000" stroke-width="0.18" transform="translate(337.7 144) scale(1 1.12)">TSS</text>
<text font-size="7" font-weight="bold" text-anchor="middle" stroke="#000" stroke-width="0.18" transform="translate(426.2 144) scale(1 1.12)">TES</text>
<text font-size="7" font-weight="bold" text-anchor="end" stroke="#000" stroke-width="0.18" transform="translate(474.1 144) scale(1 1.12)">5.0 Kb</text>
<text font-size="8.4" font-weight="bold" text-anchor="middle" stroke="#000" stroke-width="0.18" transform="translate(280.2 88) scale(0.89 1) rotate(-90)">FLAG reads density</text>
<text font-size="10" font-weight="bold" text-anchor="middle" fill="#ff1a1a" stroke="#ff1a1a" stroke-width="0.18" transform="translate(378 36) scale(1 1.12)">FLAG</text>
<line x1="407.6" y1="48.4" x2="419.2" y2="48.4" stroke="#1a1aff" stroke-width="1.1" />
<text font-size="7" font-weight="bold" stroke="#000" stroke-width="0.18" transform="translate(422.6 51.6) scale(1 1.12)">WT</text>
<line x1="407.6" y1="56.6" x2="419.2" y2="56.6" stroke="#ff1a1a" stroke-width="1.1" />
<text font-size="7" font-weight="bold" stroke="#000" stroke-width="0.18" transform="translate(422.6 59.8) scale(1 1.12)"><tspan font-style="italic">Smyd5</tspan> O/E</text>
<line x1="407.6" y1="64.8" x2="419.2" y2="64.8" stroke="#f9b4bc" stroke-width="1.1" />
<text font-size="7" font-weight="bold" stroke="#000" stroke-width="0.18" transform="translate(422.6 68) scale(1 1.12)"><tspan font-style="italic">Smyd5</tspan> KI</text>
<text font-size="21.5" font-weight="bold" stroke="#000" stroke-width="0.18" transform="translate(479.5 15) scale(0.9 1)">d</text>
<text font-size="9.5" font-weight="bold" text-anchor="middle" fill="#ff1a1a" stroke="#ff1a1a" stroke-width="0.18" transform="translate(581.5 22.4) scale(1 1.12)">FLAG</text>
<line x1="502.2" y1="25.6" x2="659" y2="25.6" stroke="#000" stroke-width="1.1" />
<text font-size="8" font-weight="bold" text-anchor="middle" stroke="#000" stroke-width="0.18" transform="translate(527.5 34.3) scale(1 1.12)">WT</text>
<text font-size="8" font-weight="bold" text-anchor="middle" stroke="#000" stroke-width="0.18" transform="translate(578.2 34.3) scale(1 1.12)"><tspan font-style="italic">Smyd5</tspan> O/E</text>
<text font-size="8" font-weight="bold" text-anchor="middle" stroke="#000" stroke-width="0.18" transform="translate(629.5 34.3) scale(1 1.12)"><tspan font-style="italic">Smyd5</tspan> KI</text>
<rect x="503.4" y="35.3" width="48.1" height="111.5" fill="url(#hmw)" stroke="none" stroke-width="1" />
<rect x="503.4" y="35.3" width="48.1" height="111.5" fill="none" stroke="#8a8a8a" stroke-width="0.9" />
<line x1="503.4" y1="146.8" x2="503.4" y2="148.8" stroke="#555" stroke-width="0.7" />
<line x1="515.42" y1="146.8" x2="515.42" y2="148.8" stroke="#555" stroke-width="0.7" />
<line x1="539.48" y1="146.8" x2="539.48" y2="148.8" stroke="#555" stroke-width="0.7" />
<line x1="551.5" y1="146.8" x2="551.5" y2="148.8" stroke="#555" stroke-width="0.7" />
<rect x="554.4" y="35.3" width="47.7" height="111.5" fill="url(#hmv)" stroke="none" stroke-width="1" />
<rect x="566.33" y="35.3" width="35.78" height="9" fill="url(#topband)" stroke="none" stroke-width="1" />
<rect x="565.43" y="35.3" width="1.9" height="107.5" fill="url(#streak)" stroke="none" stroke-width="1" />
<rect x="566.33" y="35.3" width="8" height="4.5" fill="url(#corner)" stroke="none" stroke-width="1" />
<rect x="554.4" y="35.3" width="47.7" height="111.5" fill="none" stroke="#8a8a8a" stroke-width="0.9" />
<line x1="554.4" y1="146.8" x2="554.4" y2="148.8" stroke="#555" stroke-width="0.7" />
<line x1="566.33" y1="146.8" x2="566.33" y2="148.8" stroke="#555" stroke-width="0.7" />
<line x1="590.17" y1="146.8" x2="590.17" y2="148.8" stroke="#555" stroke-width="0.7" />
<line x1="602.1" y1="146.8" x2="602.1" y2="148.8" stroke="#555" stroke-width="0.7" />
<rect x="605.5" y="35.3" width="47.8" height="111.5" fill="url(#hmv)" stroke="none" stroke-width="1" />
<rect x="617.45" y="35.3" width="35.85" height="9" fill="url(#topband)" stroke="none" stroke-width="1" />
<rect x="616.55" y="35.3" width="1.9" height="107.5" fill="url(#streak)" stroke="none" stroke-width="1" />
<rect x="617.45" y="35.3" width="8" height="4.5" fill="url(#corner)" stroke="none" stroke-width="1" />
<rect x="605.5" y="35.3" width="47.8" height="111.5" fill="none" stroke="#8a8a8a" stroke-width="0.9" />
<line x1="605.5" y1="146.8" x2="605.5" y2="148.8" stroke="#555" stroke-width="0.7" />
<line x1="617.45" y1="146.8" x2="617.45" y2="148.8" stroke="#555" stroke-width="0.7" />
<line x1="641.35" y1="146.8" x2="641.35" y2="148.8" stroke="#555" stroke-width="0.7" />
<line x1="653.3" y1="146.8" x2="653.3" y2="148.8" stroke="#555" stroke-width="0.7" />
<rect x="656.3" y="35.3" width="5.2" height="111.5" fill="url(#cbar)" stroke="#8a8a8a" stroke-width="0.7" />
<line x1="661.5" y1="147" x2="663.5" y2="147" stroke="#000" stroke-width="0.7" />
<text font-size="6.8" font-weight="bold" stroke="#000" stroke-width="0.18" transform="translate(664 149.4) scale(1 1.12)">0</text>
<line x1="661.5" y1="130.42" x2="663.5" y2="130.42" stroke="#000" stroke-width="0.7" />
<text font-size="6.8" font-weight="bold" stroke="#000" stroke-width="0.18" transform="translate(664 132.82) scale(1 1.12)">2</text>
<line x1="661.5" y1="113.84" x2="663.5" y2="113.84" stroke="#000" stroke-width="0.7" />
<text font-size="6.8" font-weight="bold" stroke="#000" stroke-width="0.18" transform="translate(664 116.24) scale(1 1.12)">4</text>
<line x1="661.5" y1="97.26" x2="663.5" y2="97.26" stroke="#000" stroke-width="0.7" />
<text font-size="6.8" font-weight="bold" stroke="#000" stroke-width="0.18" transform="translate(664 99.66) scale(1 1.12)">6</text>
<line x1="661.5" y1="80.68" x2="663.5" y2="80.68" stroke="#000" stroke-width="0.7" />
<text font-size="6.8" font-weight="bold" stroke="#000" stroke-width="0.18" transform="translate(664 83.08) scale(1 1.12)">8</text>
<line x1="661.5" y1="64.1" x2="663.5" y2="64.1" stroke="#000" stroke-width="0.7" />
<text font-size="6.8" font-weight="bold" stroke="#000" stroke-width="0.18" transform="translate(664 66.5) scale(1 1.12)">10</text>
<line x1="661.5" y1="47.52" x2="663.5" y2="47.52" stroke="#000" stroke-width="0.7" />
<text font-size="6.8" font-weight="bold" stroke="#000" stroke-width="0.18" transform="translate(664 49.92) scale(1 1.12)">12</text>
<text font-size="8.2" font-weight="bold" text-anchor="middle" stroke="#000" stroke-width="0.18" transform="translate(679.6 91.5) scale(0.89 1) rotate(-90)">Reads density</text>
<text font-size="6.8" font-weight="bold" stroke="#000" stroke-width="0.18" transform="translate(596 155.8) scale(1 1.12)">-5.0</text>
<text font-size="6.8" font-weight="bold" text-anchor="middle" stroke="#000" stroke-width="0.18" transform="translate(615.5 155.8) scale(1 1.12)">TSS</text>
<text font-size="6.8" font-weight="bold" text-anchor="middle" stroke="#000" stroke-width="0.18" transform="translate(639.3 155.8) scale(1 1.12)">TES</text>
<text font-size="6.8" font-weight="bold" text-anchor="end" stroke="#000" stroke-width="0.18" transform="translate(670 155.8) scale(1 1.12)">5.0 Kb</text>
<text font-size="21.5" font-weight="bold" stroke="#000" stroke-width="0.18" transform="translate(11.2 194.5) scale(0.9 1)">e</text>
<text font-size="7" font-weight="bold" text-anchor="middle" stroke="#000" stroke-width="0.18" transform="translate(28.6 229.5) scale(0.89 1) rotate(-90)">FLAG-SMYD5</text>
<line x1="34.5" y1="208" x2="34.5" y2="249.5" stroke="#000" stroke-width="1.2" />
<text font-size="7.2" font-weight="bold" text-anchor="end" stroke="#000" stroke-width="0.18" transform="translate(75.2 216.8) scale(1 1.12)">WT</text>
<text font-size="7.2" font-weight="bold" text-anchor="end" stroke="#000" stroke-width="0.18" transform="translate(75.2 232.6) scale(1 1.12)"><tspan font-style="italic">Smyd5</tspan> O/E</text>
<text font-size="7.2" font-weight="bold" text-anchor="end" stroke="#000" stroke-width="0.18" transform="translate(75.2 247.6) scale(1 1.12)"><tspan font-style="italic">Smyd5</tspan> KI</text>
<rect x="123.5" y="202.8" width="12.7" height="54.2" fill="#fbe3d6" stroke="none" stroke-width="1" />
<rect x="197" y="202.8" width="12.8" height="54.2" fill="#fbe3d6" stroke="none" stroke-width="1" />
<rect x="291" y="202.8" width="7" height="54.2" fill="#fbe3d6" stroke="none" stroke-width="1" />
<rect x="344.2" y="202.8" width="8.6" height="54.2" fill="#fbe3d6" stroke="none" stroke-width="1" />
<rect x="392" y="202.8" width="11.9" height="54.2" fill="#fbe3d6" stroke="none" stroke-width="1" />
<rect x="485.2" y="202.8" width="13" height="54.2" fill="#fbe3d6" stroke="none" stroke-width="1" />
<text font-size="7" font-weight="bold" stroke="#000" stroke-width="0.18" transform="translate(81.4 211.8) scale(1 1.12)">0 - 40</text>
<line x1="80.2" y1="219.6" x2="211.8" y2="219.6" stroke="#b4b4ec" stroke-width="1" />
<line x1="80.2" y1="234.3" x2="211.8" y2="234.3" stroke="#e0d0d0" stroke-width="0.7" />
<line x1="80.2" y1="249" x2="211.8" y2="249" stroke="#dcdcdc" stroke-width="0.7" />
<text font-size="7" font-weight="bold" stroke="#000" stroke-width="0.18" transform="translate(224.9 211.8) scale(1 1.12)">0 - 40</text>
<line x1="220.6" y1="219.6" x2="404.3" y2="219.6" stroke="#b4b4ec" stroke-width="1" />
<line x1="220.6" y1="234.3" x2="404.3" y2="234.3" stroke="#e0d0d0" stroke-width="0.7" />
<line x1="220.6" y1="249" x2="404.3" y2="249" stroke="#dcdcdc" stroke-width="0.7" />
<text font-size="7" font-weight="bold" stroke="#000" stroke-width="0.18" transform="translate(414 211.8) scale(1 1.12)">0 - 40</text>
<line x1="412" y1="219.6" x2="498.9" y2="219.6" stroke="#b4b4ec" stroke-width="1" />
<line x1="412" y1="234.3" x2="498.9" y2="234.3" stroke="#e0d0d0" stroke-width="0.7" />
<line x1="412" y1="249" x2="498.9" y2="249" stroke="#dcdcdc" stroke-width="0.7" />
<rect x="152.65" y="207.6" width="1.9" height="12" fill="#3030c8" stroke="none" stroke-width="1" />
<rect x="288.8" y="207.5" width="1" height="12.1" fill="#3030c8" stroke="none" stroke-width="1" />
<rect x="337.2" y="209.9" width="1" height="9.7" fill="#3030c8" stroke="none" stroke-width="1" />
<rect x="377.5" y="207.5" width="1" height="12.1" fill="#3030c8" stroke="none" stroke-width="1" />
<rect x="437.9" y="207.2" width="1" height="12.4" fill="#3030c8" stroke="none" stroke-width="1" />
<rect x="480.2" y="207" width="2.6" height="12.6" fill="#7070d8" stroke="none" stroke-width="1" />
<rect x="272.7" y="218.4" width="1.6" height="1.2" fill="#3030c8" stroke="none" stroke-width="1" />
<rect x="372.8" y="218.6" width="1.6" height="1" fill="#3030c8" stroke="none" stroke-width="1" />
<rect x="159.7" y="219.1" width="1.6" height="0.5" fill="#3030c8" stroke="none" stroke-width="1" />
<rect x="92.3" y="232.8" width="2" height="1.5" fill="#f02020" stroke="none" stroke-width="1" />
<rect x="107.5" y="233.3" width="2" height="1" fill="#f02020" stroke="none" stroke-width="1" />
<rect x="116.7" y="226.1" width="1.2" height="8.2" fill="#f02020" stroke="none" stroke-width="1" />
<rect x="117.45" y="231.8" width="1.5" height="2.5" fill="#f02020" stroke="none" stroke-width="1" />
<rect x="122.4" y="231.3" width="2" height="3" fill="#f02020" stroke="none" stroke-width="1" />
<rect x="124.05" y="230.3" width="1.5" height="4" fill="#f02020" stroke="none" stroke-width="1" />
<rect x="125.9" y="222.8" width="1" height="11.5" fill="#f02020" stroke="none" stroke-width="1" />
<rect x="126.75" y="231.8" width="1.5" height="2.5" fill="#f02020" stroke="none" stroke-width="1" />
<rect x="130.6" y="222" width="1" height="12.3" fill="#f02020" stroke="none" stroke-width="1" />
<rect x="131.5" y="231.8" width="2" height="2.5" fill="#f02020" stroke="none" stroke-width="1" />
<rect x="134.7" y="227.1" width="1" height="7.2" fill="#f02020" stroke="none" stroke-width="1" />
<rect x="136" y="232.3" width="1" height="2" fill="#f02020" stroke="none" stroke-width="1" />
<rect x="143" y="230.3" width="0.8" height="4" fill="#f02020" stroke="none" stroke-width="1" />
<rect x="85.5" y="233.7" width="3" height="0.6" fill="#f02020" stroke="none" stroke-width="1" />
<rect x="80.5" y="233.9" width="3" height="0.4" fill="#f02020" stroke="none" stroke-width="1" />
<rect x="151.5" y="228.8" width="1" height="5.5" fill="#f02020" stroke="none" stroke-width="1" />
<rect x="156.1" y="232.3" width="1.2" height="2" fill="#f02020" stroke="none" stroke-width="1" />
<rect x="162.85" y="224.6" width="0.9" height="9.7" fill="#f02020" stroke="none" stroke-width="1" />
<rect x="164.9" y="232.3" width="1" height="2" fill="#f02020" stroke="none" stroke-width="1" />
<rect x="174.05" y="232.3" width="1.5" height="2" fill="#f02020" stroke="none" stroke-width="1" />
<rect x="181.6" y="231.3" width="1" height="3" fill="#f02020" stroke="none" stroke-width="1" />
<rect x="203.15" y="222.3" width="0.9" height="12" fill="#f02020" stroke="none" stroke-width="1" />
<rect x="203.85" y="230.3" width="1.5" height="4" fill="#f02020" stroke="none" stroke-width="1" />
<rect x="205.2" y="227.3" width="0.8" height="7" fill="#f02020" stroke="none" stroke-width="1" />
<rect x="224.4" y="229.3" width="1" height="5" fill="#f02020" stroke="none" stroke-width="1" />
<rect x="236.9" y="227.3" width="1" height="7" fill="#f02020" stroke="none" stroke-width="1" />
<rect x="241.2" y="232.3" width="1" height="2" fill="#f02020" stroke="none" stroke-width="1" />
<rect x="260.35" y="226.3" width="0.9" height="8" fill="#f02020" stroke="none" stroke-width="1" />
<rect x="271.5" y="233.3" width="1" height="1" fill="#f02020" stroke="none" stroke-width="1" />
<rect x="276.3" y="231.3" width="1" height="3" fill="#f02020" stroke="none" stroke-width="1" />
<rect x="279.1" y="232.3" width="1" height="2" fill="#f02020" stroke="none" stroke-width="1" />
<rect x="281.8" y="232.3" width="1" height="2" fill="#f02020" stroke="none" stroke-width="1" />
<rect x="292.1" y="222.3" width="1" height="12" fill="#f02020" stroke="none" stroke-width="1" />
<rect x="292.5" y="228.3" width="2" height="6" fill="#f02020" stroke="none" stroke-width="1" />
<rect x="291" y="231.3" width="2" height="3" fill="#f02020" stroke="none" stroke-width="1" />
<rect x="316.8" y="229.3" width="1" height="5" fill="#f02020" stroke="none" stroke-width="1" />
<rect x="329.8" y="230.3" width="1.2" height="4" fill="#f02020" stroke="none" stroke-width="1" />
<rect x="335" y="227.3" width="1" height="7" fill="#f02020" stroke="none" stroke-width="1" />
<rect x="349" y="224.3" width="1" height="10" fill="#f02020" stroke="none" stroke-width="1" />
<rect x="348.05" y="231.3" width="1.5" height="3" fill="#f02020" stroke="none" stroke-width="1" />
<rect x="353.9" y="231.3" width="1.2" height="3" fill="#f02020" stroke="none" stroke-width="1" />
<rect x="372.85" y="232.3" width="1.5" height="2" fill="#f02020" stroke="none" stroke-width="1" />
<rect x="387.8" y="233.3" width="1" height="1" fill="#f02020" stroke="none" stroke-width="1" />
<rect x="394.8" y="232.3" width="1" height="2" fill="#f02020" stroke="none" stroke-width="1" />
<rect x="398.8" y="222.3" width="1" height="12" fill="#f02020" stroke="none" stroke-width="1" />
<rect x="397.5" y="230.3" width="2" height="4" fill="#f02020" stroke="none" stroke-width="1" />
<rect x="402" y="232.3" width="1" height="2" fill="#f02020" stroke="none" stroke-width="1" />
<rect x="416.55" y="231.3" width="1.5" height="3" fill="#f02020" stroke="none" stroke-width="1" />
<rect x="422.6" y="231.8" width="1" height="2.5" fill="#f02020" stroke="none" stroke-width="1" />
<rect x="439.25" y="231.3" width="1.5" height="3" fill="#f02020" stroke="none" stroke-width="1" />
<rect x="440.8" y="229.3" width="1" height="5" fill="#f02020" stroke="none" stroke-width="1" />
<rect x="448.2" y="233.3" width="1" height="1" fill="#f02020" stroke="none" stroke-width="1" />
<rect x="466.9" y="227.3" width="1" height="7" fill="#f02020" stroke="none" stroke-width="1" />
<rect x="481" y="233.3" width="1.2" height="1" fill="#f02020" stroke="none" stroke-width="1" />
<rect x="489.55" y="230.3" width="1.5" height="4" fill="#f02020" stroke="none" stroke-width="1" />
<rect x="491" y="225.3" width="1" height="9" fill="#f02020" stroke="none" stroke-width="1" />
<rect x="491.7" y="229.3" width="1.2" height="5" fill="#f02020" stroke="none" stroke-width="1" />
<rect x="493.1" y="233.3" width="1" height="1" fill="#f02020" stroke="none" stroke-width="1" />
<rect x="104.1" y="244" width="0.6" height="5" fill="#f47a86" stroke="none" stroke-width="1" />
<rect x="108.2" y="246" width="0.6" height="3" fill="#f47a86" stroke="none" stroke-width="1" />
<rect x="113.5" y="243" width="0.6" height="6" fill="#f47a86" stroke="none" stroke-width="1" />
<rect x="118.1" y="247.8" width="0.8" height="1.2" fill="#f47a86" stroke="none" stroke-width="1" />
<rect x="121.1" y="247.5" width="0.8" height="1.5" fill="#f47a86" stroke="none" stroke-width="1" />
<rect x="129.3" y="241" width="0.6" height="8" fill="#f47a86" stroke="none" stroke-width="1" />
<rect x="130.3" y="237" width="0.6" height="12" fill="#f47a86" stroke="none" stroke-width="1" />
<rect x="131.3" y="240" width="0.6" height="9" fill="#f47a86" stroke="none" stroke-width="1" />
<rect x="140" y="244" width="0.6" height="5" fill="#f47a86" stroke="none" stroke-width="1" />
<rect x="145.1" y="246" width="0.6" height="3" fill="#f47a86" stroke="none" stroke-width="1" />
<rect x="179.2" y="243.5" width="0.6" height="5.5" fill="#f47a86" stroke="none" stroke-width="1" />
<rect x="185.5" y="246.5" width="0.8" height="2.5" fill="#f47a86" stroke="none" stroke-width="1" />
<rect x="204.25" y="237" width="0.7" height="12" fill="#f47a86" stroke="none" stroke-width="1" />
<rect x="204.9" y="246" width="1" height="3" fill="#f47a86" stroke="none" stroke-width="1" />
<rect x="226" y="248" width="0.8" height="1" fill="#f47a86" stroke="none" stroke-width="1" />
<rect x="232.6" y="248" width="0.8" height="1" fill="#f47a86" stroke="none" stroke-width="1" />
<rect x="243.6" y="248" width="0.8" height="1" fill="#f47a86" stroke="none" stroke-width="1" />
<rect x="272.6" y="247.5" width="0.8" height="1.5" fill="#f47a86" stroke="none" stroke-width="1" />
<rect x="277.1" y="245" width="0.6" height="4" fill="#f47a86" stroke="none" stroke-width="1" />
<rect x="281.7" y="246.5" width="0.6" height="2.5" fill="#f47a86" stroke="none" stroke-width="1" />
<rect x="284.1" y="246.5" width="0.6" height="2.5" fill="#f47a86" stroke="none" stroke-width="1" />
<rect x="292.85" y="240" width="0.7" height="9" fill="#f47a86" stroke="none" stroke-width="1" />
<rect x="293.5" y="246" width="1" height="3" fill="#f47a86" stroke="none" stroke-width="1" />
<rect x="305.95" y="247" width="0.7" height="2" fill="#f47a86" stroke="none" stroke-width="1" />
<rect x="309.25" y="247" width="0.7" height="2" fill="#f47a86" stroke="none" stroke-width="1" />
<rect x="349.3" y="245" width="0.8" height="4" fill="#f47a86" stroke="none" stroke-width="1" />
<rect x="350" y="247" width="1" height="2" fill="#f47a86" stroke="none" stroke-width="1" />
<rect x="360.6" y="248" width="0.8" height="1" fill="#f47a86" stroke="none" stroke-width="1" />
<rect x="384.3" y="245" width="0.6" height="4" fill="#f47a86" stroke="none" stroke-width="1" />
<rect x="399" y="243" width="0.6" height="6" fill="#f47a86" stroke="none" stroke-width="1" />
<rect x="439.1" y="248" width="0.8" height="1" fill="#f47a86" stroke="none" stroke-width="1" />
<rect x="452.2" y="244" width="0.6" height="5" fill="#f47a86" stroke="none" stroke-width="1" />
<rect x="455.9" y="247.5" width="0.8" height="1.5" fill="#f47a86" stroke="none" stroke-width="1" />
<rect x="468.9" y="248" width="0.8" height="1" fill="#f47a86" stroke="none" stroke-width="1" />
<rect x="490.45" y="243.5" width="0.7" height="5.5" fill="#f47a86" stroke="none" stroke-width="1" />
<rect x="491.2" y="246.5" width="1.2" height="2.5" fill="#f47a86" stroke="none" stroke-width="1" />
<rect x="495" y="248" width="0.8" height="1" fill="#f47a86" stroke="none" stroke-width="1" />
<line x1="83.6" y1="262.3" x2="130.6" y2="262.3" stroke="#2020c0" stroke-width="0.7" />
<rect x="83.6" y="261" width="9.7" height="2.6" fill="#2020c0" stroke="none" stroke-width="1" />
<rect x="93" y="260.9" width="1" height="2.8" fill="#2020c0" stroke="none" stroke-width="1" />
<rect x="103" y="260.9" width="1" height="2.8" fill="#2020c0" stroke="none" stroke-width="1" />
<rect x="114" y="260.9" width="1" height="2.8" fill="#2020c0" stroke="none" stroke-width="1" />
<rect x="129.8" y="260.9" width="1" height="2.8" fill="#2020c0" stroke="none" stroke-width="1" />
<path d="M89.6 262.3 l1.1 -0.9 M89.6 262.3 l1.1 0.9" stroke="#4040d0" stroke-width="0.5" fill="none"/>
<path d="M95.1 262.3 l1.1 -0.9 M95.1 262.3 l1.1 0.9" stroke="#4040d0" stroke-width="0.5" fill="none"/>
<path d="M100.6 262.3 l1.1 -0.9 M100.6 262.3 l1.1 0.9" stroke="#4040d0" stroke-width="0.5" fill="none"/>
<path d="M106.1 262.3 l1.1 -0.9 M106.1 262.3 l1.1 0.9" stroke="#4040d0" stroke-width="0.5" fill="none"/>
<path d="M111.6 262.3 l1.1 -0.9 M111.6 262.3 l1.1 0.9" stroke="#4040d0" stroke-width="0.5" fill="none"/>
<path d="M117.1 262.3 l1.1 -0.9 M117.1 262.3 l1.1 0.9" stroke="#4040d0" stroke-width="0.5" fill="none"/>
<path d="M122.6 262.3 l1.1 -0.9 M122.6 262.3 l1.1 0.9" stroke="#4040d0" stroke-width="0.5" fill="none"/>
<rect x="92.3" y="260.8" width="2.4" height="3" fill="#2020c0" stroke="none" stroke-width="1" />
<line x1="146.8" y1="262.3" x2="205.1" y2="262.3" stroke="#2020c0" stroke-width="0.7" />
<rect x="146.8" y="261" width="4" height="2.6" fill="#2020c0" stroke="none" stroke-width="1" />
<rect x="154" y="260.9" width="1" height="2.8" fill="#2020c0" stroke="none" stroke-width="1" />
<rect x="166" y="260.9" width="1" height="2.8" fill="#2020c0" stroke="none" stroke-width="1" />
<rect x="176" y="260.9" width="1" height="2.8" fill="#2020c0" stroke="none" stroke-width="1" />
<rect x="183.5" y="260.9" width="1" height="2.8" fill="#2020c0" stroke="none" stroke-width="1" />
<rect x="188" y="260.9" width="1" height="2.8" fill="#2020c0" stroke="none" stroke-width="1" />
<rect x="196.5" y="260.9" width="1" height="2.8" fill="#2020c0" stroke="none" stroke-width="1" />
<rect x="204.4" y="260.9" width="1" height="2.8" fill="#2020c0" stroke="none" stroke-width="1" />
<path d="M152.8 262.3 l1.1 -0.9 M152.8 262.3 l1.1 0.9" stroke="#4040d0" stroke-width="0.5" fill="none"/>
<path d="M158.3 262.3 l1.1 -0.9 M158.3 262.3 l1.1 0.9" stroke="#4040d0" stroke-width="0.5" fill="none"/>
<path d="M163.8 262.3 l1.1 -0.9 M163.8 262.3 l1.1 0.9" stroke="#4040d0" stroke-width="0.5" fill="none"/>
<path d="M169.3 262.3 l1.1 -0.9 M169.3 262.3 l1.1 0.9" stroke="#4040d0" stroke-width="0.5" fill="none"/>
<path d="M174.8 262.3 l1.1 -0.9 M174.8 262.3 l1.1 0.9" stroke="#4040d0" stroke-width="0.5" fill="none"/>
<path d="M180.3 262.3 l1.1 -0.9 M180.3 262.3 l1.1 0.9" stroke="#4040d0" stroke-width="0.5" fill="none"/>
<path d="M185.8 262.3 l1.1 -0.9 M185.8 262.3 l1.1 0.9" stroke="#4040d0" stroke-width="0.5" fill="none"/>
<path d="M191.3 262.3 l1.1 -0.9 M191.3 262.3 l1.1 0.9" stroke="#4040d0" stroke-width="0.5" fill="none"/>
<path d="M196.8 262.3 l1.1 -0.9 M196.8 262.3 l1.1 0.9" stroke="#4040d0" stroke-width="0.5" fill="none"/>
<line x1="223" y1="262.3" x2="293" y2="262.3" stroke="#2020c0" stroke-width="0.7" />
<rect x="223" y="261" width="3" height="2.6" fill="#2020c0" stroke="none" stroke-width="1" />
<rect x="228" y="260.9" width="1" height="2.8" fill="#2020c0" stroke="none" stroke-width="1" />
<rect x="231.5" y="260.9" width="1" height="2.8" fill="#2020c0" stroke="none" stroke-width="1" />
<rect x="235.5" y="260.9" width="1" height="2.8" fill="#2020c0" stroke="none" stroke-width="1" />
<rect x="240" y="260.9" width="1" height="2.8" fill="#2020c0" stroke="none" stroke-width="1" />
<rect x="249.5" y="260.9" width="1" height="2.8" fill="#2020c0" stroke="none" stroke-width="1" />
<rect x="259.5" y="260.9" width="1" height="2.8" fill="#2020c0" stroke="none" stroke-width="1" />
<rect x="263" y="260.9" width="1" height="2.8" fill="#2020c0" stroke="none" stroke-width="1" />
<rect x="271.5" y="260.9" width="1" height="2.8" fill="#2020c0" stroke="none" stroke-width="1" />
<rect x="280.5" y="260.9" width="1" height="2.8" fill="#2020c0" stroke="none" stroke-width="1" />
<rect x="283" y="260.9" width="1" height="2.8" fill="#2020c0" stroke="none" stroke-width="1" />
<rect x="286" y="260.9" width="1" height="2.8" fill="#2020c0" stroke="none" stroke-width="1" />
<rect x="292" y="260.9" width="1" height="2.8" fill="#2020c0" stroke="none" stroke-width="1" />
<path d="M229 262.3 l1.1 -0.9 M229 262.3 l1.1 0.9" stroke="#4040d0" stroke-width="0.5" fill="none"/>
<path d="M234.5 262.3 l1.1 -0.9 M234.5 262.3 l1.1 0.9" stroke="#4040d0" stroke-width="0.5" fill="none"/>
<path d="M240 262.3 l1.1 -0.9 M240 262.3 l1.1 0.9" stroke="#4040d0" stroke-width="0.5" fill="none"/>
<path d="M245.5 262.3 l1.1 -0.9 M245.5 262.3 l1.1 0.9" stroke="#4040d0" stroke-width="0.5" fill="none"/>
<path d="M251 262.3 l1.1 -0.9 M251 262.3 l1.1 0.9" stroke="#4040d0" stroke-width="0.5" fill="none"/>
<path d="M256.5 262.3 l1.1 -0.9 M256.5 262.3 l1.1 0.9" stroke="#4040d0" stroke-width="0.5" fill="none"/>
<path d="M262 262.3 l1.1 -0.9 M262 262.3 l1.1 0.9" stroke="#4040d0" stroke-width="0.5" fill="none"/>
<path d="M267.5 262.3 l1.1 -0.9 M267.5 262.3 l1.1 0.9" stroke="#4040d0" stroke-width="0.5" fill="none"/>
<path d="M273 262.3 l1.1 -0.9 M273 262.3 l1.1 0.9" stroke="#4040d0" stroke-width="0.5" fill="none"/>
<path d="M278.5 262.3 l1.1 -0.9 M278.5 262.3 l1.1 0.9" stroke="#4040d0" stroke-width="0.5" fill="none"/>
<path d="M284 262.3 l1.1 -0.9 M284 262.3 l1.1 0.9" stroke="#4040d0" stroke-width="0.5" fill="none"/>
<path d="M289.5 262.3 l1.1 -0.9 M289.5 262.3 l1.1 0.9" stroke="#4040d0" stroke-width="0.5" fill="none"/>
<line x1="299" y1="262.3" x2="350.5" y2="262.3" stroke="#2020c0" stroke-width="0.7" />
<rect x="299" y="261" width="7" height="2.6" fill="#2020c0" stroke="none" stroke-width="1" />
<rect x="308.5" y="260.9" width="1" height="2.8" fill="#2020c0" stroke="none" stroke-width="1" />
<rect x="311.5" y="260.9" width="1" height="2.8" fill="#2020c0" stroke="none" stroke-width="1" />
<rect x="314.5" y="260.9" width="1" height="2.8" fill="#2020c0" stroke="none" stroke-width="1" />
<rect x="318.5" y="260.9" width="1" height="2.8" fill="#2020c0" stroke="none" stroke-width="1" />
<rect x="321.5" y="260.9" width="1" height="2.8" fill="#2020c0" stroke="none" stroke-width="1" />
<rect x="325.5" y="260.9" width="1" height="2.8" fill="#2020c0" stroke="none" stroke-width="1" />
<rect x="329.5" y="260.9" width="1" height="2.8" fill="#2020c0" stroke="none" stroke-width="1" />
<rect x="332.5" y="260.9" width="1" height="2.8" fill="#2020c0" stroke="none" stroke-width="1" />
<rect x="336.5" y="260.9" width="1" height="2.8" fill="#2020c0" stroke="none" stroke-width="1" />
<rect x="339.5" y="260.9" width="1" height="2.8" fill="#2020c0" stroke="none" stroke-width="1" />
<rect x="343.5" y="260.9" width="1" height="2.8" fill="#2020c0" stroke="none" stroke-width="1" />
<rect x="349.5" y="260.9" width="1" height="2.8" fill="#2020c0" stroke="none" stroke-width="1" />
<path d="M305 262.3 l1.1 -0.9 M305 262.3 l1.1 0.9" stroke="#4040d0" stroke-width="0.5" fill="none"/>
<path d="M310.5 262.3 l1.1 -0.9 M310.5 262.3 l1.1 0.9" stroke="#4040d0" stroke-width="0.5" fill="none"/>
<path d="M316 262.3 l1.1 -0.9 M316 262.3 l1.1 0.9" stroke="#4040d0" stroke-width="0.5" fill="none"/>
<path d="M321.5 262.3 l1.1 -0.9 M321.5 262.3 l1.1 0.9" stroke="#4040d0" stroke-width="0.5" fill="none"/>
<path d="M327 262.3 l1.1 -0.9 M327 262.3 l1.1 0.9" stroke="#4040d0" stroke-width="0.5" fill="none"/>
<path d="M332.5 262.3 l1.1 -0.9 M332.5 262.3 l1.1 0.9" stroke="#4040d0" stroke-width="0.5" fill="none"/>
<path d="M338 262.3 l1.1 -0.9 M338 262.3 l1.1 0.9" stroke="#4040d0" stroke-width="0.5" fill="none"/>
<path d="M343.5 262.3 l1.1 -0.9 M343.5 262.3 l1.1 0.9" stroke="#4040d0" stroke-width="0.5" fill="none"/>
<rect x="343.5" y="260.6" width="2" height="3.4" fill="#2020c0" stroke="none" stroke-width="1" />
<line x1="358.8" y1="262.3" x2="400.4" y2="262.3" stroke="#2020c0" stroke-width="0.7" />
<rect x="358.8" y="261" width="3.7" height="2.6" fill="#2020c0" stroke="none" stroke-width="1" />
<rect x="365" y="260.9" width="1" height="2.8" fill="#2020c0" stroke="none" stroke-width="1" />
<rect x="369.5" y="260.9" width="1" height="2.8" fill="#2020c0" stroke="none" stroke-width="1" />
<rect x="372.5" y="260.9" width="1" height="2.8" fill="#2020c0" stroke="none" stroke-width="1" />
<rect x="376.5" y="260.9" width="1" height="2.8" fill="#2020c0" stroke="none" stroke-width="1" />
<rect x="383" y="260.9" width="1" height="2.8" fill="#2020c0" stroke="none" stroke-width="1" />
<rect x="388.5" y="260.9" width="1" height="2.8" fill="#2020c0" stroke="none" stroke-width="1" />
<rect x="392.5" y="260.9" width="1" height="2.8" fill="#2020c0" stroke="none" stroke-width="1" />
<rect x="398.5" y="260.9" width="1" height="2.8" fill="#2020c0" stroke="none" stroke-width="1" />
<rect x="399.7" y="260.9" width="1" height="2.8" fill="#2020c0" stroke="none" stroke-width="1" />
<path d="M364.8 262.3 l1.1 -0.9 M364.8 262.3 l1.1 0.9" stroke="#4040d0" stroke-width="0.5" fill="none"/>
<path d="M370.3 262.3 l1.1 -0.9 M370.3 262.3 l1.1 0.9" stroke="#4040d0" stroke-width="0.5" fill="none"/>
<path d="M375.8 262.3 l1.1 -0.9 M375.8 262.3 l1.1 0.9" stroke="#4040d0" stroke-width="0.5" fill="none"/>
<path d="M381.3 262.3 l1.1 -0.9 M381.3 262.3 l1.1 0.9" stroke="#4040d0" stroke-width="0.5" fill="none"/>
<path d="M386.8 262.3 l1.1 -0.9 M386.8 262.3 l1.1 0.9" stroke="#4040d0" stroke-width="0.5" fill="none"/>
<path d="M392.3 262.3 l1.1 -0.9 M392.3 262.3 l1.1 0.9" stroke="#4040d0" stroke-width="0.5" fill="none"/>
<line x1="414.5" y1="262.3" x2="492.4" y2="262.3" stroke="#2020c0" stroke-width="0.7" />
<rect x="414.5" y="261" width="3.5" height="2.6" fill="#2020c0" stroke="none" stroke-width="1" />
<rect x="420" y="260.9" width="1" height="2.8" fill="#2020c0" stroke="none" stroke-width="1" />
<rect x="422" y="260.9" width="1" height="2.8" fill="#2020c0" stroke="none" stroke-width="1" />
<rect x="424" y="260.9" width="1" height="2.8" fill="#2020c0" stroke="none" stroke-width="1" />
<rect x="426" y="260.9" width="1" height="2.8" fill="#2020c0" stroke="none" stroke-width="1" />
<rect x="434.5" y="260.9" width="1" height="2.8" fill="#2020c0" stroke="none" stroke-width="1" />
<rect x="437" y="260.9" width="1" height="2.8" fill="#2020c0" stroke="none" stroke-width="1" />
<rect x="443.5" y="260.9" width="1" height="2.8" fill="#2020c0" stroke="none" stroke-width="1" />
<rect x="453" y="260.9" width="1" height="2.8" fill="#2020c0" stroke="none" stroke-width="1" />
<rect x="490" y="260.9" width="1" height="2.8" fill="#2020c0" stroke="none" stroke-width="1" />
<path d="M420.5 262.3 l1.1 -0.9 M420.5 262.3 l1.1 0.9" stroke="#4040d0" stroke-width="0.5" fill="none"/>
<path d="M426 262.3 l1.1 -0.9 M426 262.3 l1.1 0.9" stroke="#4040d0" stroke-width="0.5" fill="none"/>
<path d="M431.5 262.3 l1.1 -0.9 M431.5 262.3 l1.1 0.9" stroke="#4040d0" stroke-width="0.5" fill="none"/>
<path d="M437 262.3 l1.1 -0.9 M437 262.3 l1.1 0.9" stroke="#4040d0" stroke-width="0.5" fill="none"/>
<path d="M442.5 262.3 l1.1 -0.9 M442.5 262.3 l1.1 0.9" stroke="#4040d0" stroke-width="0.5" fill="none"/>
<path d="M448 262.3 l1.1 -0.9 M448 262.3 l1.1 0.9" stroke="#4040d0" stroke-width="0.5" fill="none"/>
<path d="M453.5 262.3 l1.1 -0.9 M453.5 262.3 l1.1 0.9" stroke="#4040d0" stroke-width="0.5" fill="none"/>
<path d="M459 262.3 l1.1 -0.9 M459 262.3 l1.1 0.9" stroke="#4040d0" stroke-width="0.5" fill="none"/>
<path d="M464.5 262.3 l1.1 -0.9 M464.5 262.3 l1.1 0.9" stroke="#4040d0" stroke-width="0.5" fill="none"/>
<path d="M470 262.3 l1.1 -0.9 M470 262.3 l1.1 0.9" stroke="#4040d0" stroke-width="0.5" fill="none"/>
<path d="M475.5 262.3 l1.1 -0.9 M475.5 262.3 l1.1 0.9" stroke="#4040d0" stroke-width="0.5" fill="none"/>
<path d="M481 262.3 l1.1 -0.9 M481 262.3 l1.1 0.9" stroke="#4040d0" stroke-width="0.5" fill="none"/>
<path d="M486.5 262.3 l1.1 -0.9 M486.5 262.3 l1.1 0.9" stroke="#4040d0" stroke-width="0.5" fill="none"/>
<line x1="404" y1="262.3" x2="406.5" y2="262.3" stroke="#2020c0" stroke-width="2.4" />
<text font-size="7.2" font-weight="bold" text-anchor="middle" stroke="#000" stroke-width="0.18" font-style="italic" transform="translate(110.5 271.6) scale(1 1.12)">Pomk</text>
<text font-size="7.2" font-weight="bold" text-anchor="middle" stroke="#000" stroke-width="0.18" font-style="italic" transform="translate(181 271.6) scale(1 1.12)">Fnta</text>
<text font-size="7.2" font-weight="bold" text-anchor="middle" stroke="#000" stroke-width="0.18" font-style="italic" transform="translate(257 271.6) scale(1 1.12)">Eogt</text>
<text font-size="7.2" font-weight="bold" text-anchor="middle" stroke="#000" stroke-width="0.18" font-style="italic" transform="translate(322.5 271.6) scale(1 1.12)">Tmf1</text>
<text font-size="7.2" font-weight="bold" text-anchor="middle" stroke="#000" stroke-width="0.18" font-style="italic" transform="translate(379 271.6) scale(1 1.12)">Uba3</text>
<text font-size="7.2" font-weight="bold" text-anchor="middle" stroke="#000" stroke-width="0.18" font-style="italic" transform="translate(454.8 271.6) scale(1 1.12)">Sgpl1</text>
<text font-size="21.5" font-weight="bold" stroke="#000" stroke-width="0.18" transform="translate(510.5 193.4) scale(0.9 1)">f</text>
<circle cx="604.5" cy="233.5" r="51.0" fill="#f7c6cd"/>
<circle cx="579.4" cy="234.1" r="44.4" fill="#e8372c"/>
<circle cx="604.5" cy="233.5" r="51.0" fill="#e8807c" clip-path="url(#c1)"/>
<circle cx="604.5" cy="233.5" r="51.0" fill="none" stroke="#333" stroke-width="0.6"/>
<circle cx="579.4" cy="234.1" r="44.4" fill="none" stroke="#333" stroke-width="0.6"/>
<text font-size="8.4" font-weight="bold" text-anchor="middle" stroke="#000" stroke-width="0.18" transform="translate(556.5 188.6) scale(1 1.12)"><tspan font-style="italic">Smyd5</tspan> O/E</text>
<text font-size="8.1" font-weight="bold" text-anchor="middle" stroke="#000" stroke-width="0.18" transform="translate(637.2 185.2) scale(1 1.12)"><tspan font-style="italic">Smyd5</tspan> KI</text>
<text font-size="8.3" font-weight="bold" text-anchor="middle" stroke="#000" stroke-width="0.18" transform="translate(545.5 234.8) scale(1 1.12)">9,380</text>
<text font-size="8.3" font-weight="bold" text-anchor="middle" stroke="#000" stroke-width="0.18" transform="translate(590 234.8) scale(1 1.12)">29,177</text>
<text font-size="8.3" font-weight="bold" text-anchor="middle" stroke="#000" stroke-width="0.18" transform="translate(639.5 234.8) scale(1 1.12)">21,738</text>
<text font-size="8.3" font-weight="bold" text-anchor="middle" stroke="#000" stroke-width="0.18" transform="translate(591.2 252.7) scale(1 1.12)"><tspan font-style="italic">P</tspan> &lt; 2.2e-16</text>
<text font-size="21.5" font-weight="bold" stroke="#000" stroke-width="0.18" transform="translate(11.5 299) scale(0.9 1)">g</text>
<text font-size="8.2" font-weight="bold" text-anchor="middle" stroke="#000" stroke-width="0.18" transform="translate(95.5 313.4) scale(1 1.12)"><tspan font-style="italic">Smyd5</tspan> O/E</text>
<path d="M92.72 376.47h1.5v1.5h-1.5zM83.84 376.02h1.5v1.5h-1.5zM90.24 371h1.5v1.5h-1.5zM96.65 376.93h1.5v1.5h-1.5zM95.03 384.83h1.5v1.5h-1.5zM90.36 375.05h1.5v1.5h-1.5zM94.25 377.25h1.5v1.5h-1.5zM90.62 368.31h1.5v1.5h-1.5zM75.19 396.78h1.5v1.5h-1.5zM61.26 386.59h1.5v1.5h-1.5zM87.06 386.28h1.5v1.5h-1.5zM97.6 378.75h1.5v1.5h-1.5zM93.91 366.12h1.5v1.5h-1.5zM138.25 316.95h1.5v1.5h-1.5zM88.81 387.78h1.5v1.5h-1.5zM83.84 380.2h1.5v1.5h-1.5zM96.71 371.56h1.5v1.5h-1.5zM93.48 367.33h1.5v1.5h-1.5zM94.77 380.54h1.5v1.5h-1.5zM92.99 380.93h1.5v1.5h-1.5zM89.15 369.55h1.5v1.5h-1.5zM95.02 368.89h1.5v1.5h-1.5zM97.55 375.34h1.5v1.5h-1.5zM95.19 367.71h1.5v1.5h-1.5zM87.9 381.48h1.5v1.5h-1.5zM99.3 374.07h1.5v1.5h-1.5zM87.18 373.44h1.5v1.5h-1.5zM88.84 375.53h1.5v1.5h-1.5zM89.11 374.7h1.5v1.5h-1.5zM90.43 372.35h1.5v1.5h-1.5zM98.53 371.63h1.5v1.5h-1.5zM67.85 379.65h1.5v1.5h-1.5zM60.77 396.54h1.5v1.5h-1.5zM72.24 387.26h1.5v1.5h-1.5zM93.19 366.67h1.5v1.5h-1.5zM56.22 377.84h1.5v1.5h-1.5zM95.23 374.68h1.5v1.5h-1.5zM93.96 378.07h1.5v1.5h-1.5zM97.37 368.34h1.5v1.5h-1.5zM86.21 371.6h1.5v1.5h-1.5zM87.1 376.02h1.5v1.5h-1.5zM86.84 382.78h1.5v1.5h-1.5zM92.79 381.07h1.5v1.5h-1.5zM91.9 375.56h1.5v1.5h-1.5zM88.31 381.89h1.5v1.5h-1.5zM87.92 376.53h1.5v1.5h-1.5zM65.62 372.24h1.5v1.5h-1.5zM87.81 376.47h1.5v1.5h-1.5zM92.96 368.16h1.5v1.5h-1.5zM93.09 372.36h1.5v1.5h-1.5zM92.35 364.02h1.5v1.5h-1.5zM73.2 382.69h1.5v1.5h-1.5zM93.44 369.18h1.5v1.5h-1.5zM66.64 391.97h1.5v1.5h-1.5zM89.01 377.23h1.5v1.5h-1.5zM88.96 366.82h1.5v1.5h-1.5zM91.56 370.84h1.5v1.5h-1.5zM96.19 374.93h1.5v1.5h-1.5zM92.39 372.89h1.5v1.5h-1.5zM91.47 369.45h1.5v1.5h-1.5zM86.71 381.56h1.5v1.5h-1.5zM95.38 366h1.5v1.5h-1.5zM86.58 370.66h1.5v1.5h-1.5zM86.87 380.92h1.5v1.5h-1.5zM68.42 388.86h1.5v1.5h-1.5zM97.21 375.56h1.5v1.5h-1.5zM93.95 380.05h1.5v1.5h-1.5zM83.67 379.93h1.5v1.5h-1.5zM94.84 386.25h1.5v1.5h-1.5zM93.41 373.83h1.5v1.5h-1.5zM82.85 378.67h1.5v1.5h-1.5zM87.47 371.01h1.5v1.5h-1.5zM94.43 376.9h1.5v1.5h-1.5zM92.12 376.75h1.5v1.5h-1.5zM77.29 375.02h1.5v1.5h-1.5zM89.03 373.5h1.5v1.5h-1.5zM94.1 368.01h1.5v1.5h-1.5zM94.82 377.15h1.5v1.5h-1.5zM92.73 378.54h1.5v1.5h-1.5zM89.07 379.79h1.5v1.5h-1.5zM62.74 385.22h1.5v1.5h-1.5zM89.86 375.02h1.5v1.5h-1.5zM92.01 378.4h1.5v1.5h-1.5zM92.05 381.73h1.5v1.5h-1.5zM90.97 371h1.5v1.5h-1.5zM68.54 382.98h1.5v1.5h-1.5zM79.37 383.6h1.5v1.5h-1.5zM80.26 369.32h1.5v1.5h-1.5zM52.51 387.19h1.5v1.5h-1.5zM96.76 369.7h1.5v1.5h-1.5zM86.49 386.94h1.5v1.5h-1.5zM92.83 379.04h1.5v1.5h-1.5zM87.29 378.09h1.5v1.5h-1.5zM49.97 381.46h1.5v1.5h-1.5zM84.17 369.24h1.5v1.5h-1.5zM85.41 376.71h1.5v1.5h-1.5zM94.08 373.93h1.5v1.5h-1.5zM91.99 375.69h1.5v1.5h-1.5zM92.08 370.02h1.5v1.5h-1.5zM84.86 379.19h1.5v1.5h-1.5zM95.05 374.48h1.5v1.5h-1.5zM91.17 378.46h1.5v1.5h-1.5zM99.97 372.25h1.5v1.5h-1.5zM83.47 380.51h1.5v1.5h-1.5zM66.13 384.41h1.5v1.5h-1.5zM84.83 372.84h1.5v1.5h-1.5zM87.51 371.88h1.5v1.5h-1.5zM95.47 365.85h1.5v1.5h-1.5zM87.58 373.58h1.5v1.5h-1.5zM91.05 382.48h1.5v1.5h-1.5zM93.08 370.96h1.5v1.5h-1.5zM84.83 380.56h1.5v1.5h-1.5zM70.39 394.22h1.5v1.5h-1.5zM96.63 374.21h1.5v1.5h-1.5z" fill="#ee3a2f" fill-opacity="0.5"/>
<path d="M91.2 380.22h1.5v1.5h-1.5zM95.84 373.7h1.5v1.5h-1.5zM92.21 384.14h1.5v1.5h-1.5zM95.22 371.01h1.5v1.5h-1.5zM87.63 373.6h1.5v1.5h-1.5zM95.99 371.4h1.5v1.5h-1.5zM60.43 393.33h1.5v1.5h-1.5zM69.97 392.04h1.5v1.5h-1.5zM63.24 391.73h1.5v1.5h-1.5zM90.62 383.29h1.5v1.5h-1.5zM92.47 372.81h1.5v1.5h-1.5zM72.71 378.8h1.5v1.5h-1.5zM91.16 376.55h1.5v1.5h-1.5zM98.05 364.09h1.5v1.5h-1.5zM75.76 387.93h1.5v1.5h-1.5zM94.11 385.97h1.5v1.5h-1.5zM94.24 373.59h1.5v1.5h-1.5zM96.24 373.66h1.5v1.5h-1.5zM92.21 388.51h1.5v1.5h-1.5zM93.11 370.94h1.5v1.5h-1.5zM89.9 370.33h1.5v1.5h-1.5zM92.85 378.16h1.5v1.5h-1.5zM91.85 379.37h1.5v1.5h-1.5zM90.89 375.24h1.5v1.5h-1.5zM65.06 385.28h1.5v1.5h-1.5zM90.93 369.76h1.5v1.5h-1.5zM88.03 383.44h1.5v1.5h-1.5zM89.5 383.93h1.5v1.5h-1.5zM92.17 374.39h1.5v1.5h-1.5zM100.35 373.45h1.5v1.5h-1.5zM96.65 364h1.5v1.5h-1.5zM92.12 375.73h1.5v1.5h-1.5zM93.18 374.04h1.5v1.5h-1.5zM92.33 373.85h1.5v1.5h-1.5zM89.35 378.16h1.5v1.5h-1.5zM86.73 380.3h1.5v1.5h-1.5zM92.76 367.69h1.5v1.5h-1.5zM90.38 383.68h1.5v1.5h-1.5zM95.95 371.71h1.5v1.5h-1.5zM93.42 377.45h1.5v1.5h-1.5zM88.61 369.84h1.5v1.5h-1.5zM95.27 373.24h1.5v1.5h-1.5zM93.59 371.56h1.5v1.5h-1.5zM85.39 379.14h1.5v1.5h-1.5zM91.47 376.89h1.5v1.5h-1.5zM86.54 374.03h1.5v1.5h-1.5zM94.68 368.03h1.5v1.5h-1.5zM64.71 389.5h1.5v1.5h-1.5zM69.03 387.44h1.5v1.5h-1.5zM49.32 386.8h1.5v1.5h-1.5zM88.45 376.05h1.5v1.5h-1.5zM93.22 378.98h1.5v1.5h-1.5zM62.34 392.95h1.5v1.5h-1.5zM99.07 371.33h1.5v1.5h-1.5zM92.99 375.35h1.5v1.5h-1.5zM97.61 367.76h1.5v1.5h-1.5zM92.89 373.33h1.5v1.5h-1.5zM56.72 375.05h1.5v1.5h-1.5zM82.67 382.53h1.5v1.5h-1.5zM109.37 368.63h1.5v1.5h-1.5zM94.74 370.38h1.5v1.5h-1.5zM101.79 368.56h1.5v1.5h-1.5zM97.81 373.38h1.5v1.5h-1.5zM87.81 382.5h1.5v1.5h-1.5zM94.36 375.95h1.5v1.5h-1.5zM88.51 369.51h1.5v1.5h-1.5zM89.75 373.28h1.5v1.5h-1.5zM85.04 371.01h1.5v1.5h-1.5zM88.28 373.12h1.5v1.5h-1.5zM76.02 393.9h1.5v1.5h-1.5zM92.53 368.51h1.5v1.5h-1.5zM97.56 358.13h1.5v1.5h-1.5zM90.11 371.31h1.5v1.5h-1.5zM91.03 381.13h1.5v1.5h-1.5zM85.28 380.97h1.5v1.5h-1.5zM92.03 382.96h1.5v1.5h-1.5zM88.91 382.07h1.5v1.5h-1.5zM84.99 380.18h1.5v1.5h-1.5zM93.89 383.76h1.5v1.5h-1.5zM57.79 391.57h1.5v1.5h-1.5zM97.76 370.12h1.5v1.5h-1.5zM69.45 376.66h1.5v1.5h-1.5zM93.6 376.04h1.5v1.5h-1.5zM88.38 372.06h1.5v1.5h-1.5zM72.78 392h1.5v1.5h-1.5zM98 372.92h1.5v1.5h-1.5zM66.09 384.75h1.5v1.5h-1.5zM87.61 383.02h1.5v1.5h-1.5zM93.49 373.67h1.5v1.5h-1.5zM97.63 377.32h1.5v1.5h-1.5zM69.75 382.18h1.5v1.5h-1.5zM97.86 377.36h1.5v1.5h-1.5zM90.14 375.55h1.5v1.5h-1.5zM52.88 385.43h1.5v1.5h-1.5zM81.65 388.46h1.5v1.5h-1.5zM83.68 382.34h1.5v1.5h-1.5zM90.57 382.84h1.5v1.5h-1.5zM96.49 377.04h1.5v1.5h-1.5zM68.41 385.09h1.5v1.5h-1.5zM101.37 374.65h1.5v1.5h-1.5zM87.94 369.71h1.5v1.5h-1.5zM68.54 387.9h1.5v1.5h-1.5zM94.95 369.01h1.5v1.5h-1.5zM88.72 376.92h1.5v1.5h-1.5zM90.18 378.08h1.5v1.5h-1.5zM90.72 375.87h1.5v1.5h-1.5zM88.79 381.83h1.5v1.5h-1.5zM93.24 379.77h1.5v1.5h-1.5zM67.51 387.14h1.5v1.5h-1.5zM92.51 370.38h1.5v1.5h-1.5zM66.83 385.75h1.5v1.5h-1.5zM99.4 371.67h1.5v1.5h-1.5zM88.28 376.48h1.5v1.5h-1.5z" fill="#ee3a2f" fill-opacity="0.5"/>
<path d="M92.79 385.01h1.5v1.5h-1.5zM58.78 377.13h1.5v1.5h-1.5zM65.05 410.75h1.5v1.5h-1.5zM92.49 368.61h1.5v1.5h-1.5zM87.7 379.06h1.5v1.5h-1.5zM91.36 370.96h1.5v1.5h-1.5zM91.04 365.75h1.5v1.5h-1.5zM96.32 371.12h1.5v1.5h-1.5zM88.6 388.43h1.5v1.5h-1.5zM98.82 365.92h1.5v1.5h-1.5zM88.69 372.07h1.5v1.5h-1.5zM93.02 373.11h1.5v1.5h-1.5zM90.23 369.32h1.5v1.5h-1.5zM89.85 377.49h1.5v1.5h-1.5zM90.2 381.78h1.5v1.5h-1.5zM91.12 381.81h1.5v1.5h-1.5zM92.47 365.92h1.5v1.5h-1.5zM92.21 371.86h1.5v1.5h-1.5zM93.58 377.16h1.5v1.5h-1.5zM44.34 386.98h1.5v1.5h-1.5zM93.71 374.24h1.5v1.5h-1.5zM95.69 371.72h1.5v1.5h-1.5zM74.06 377.73h1.5v1.5h-1.5zM96.86 373.19h1.5v1.5h-1.5zM84.94 380.61h1.5v1.5h-1.5zM96.46 373.92h1.5v1.5h-1.5zM96.06 363.59h1.5v1.5h-1.5zM92.11 382.06h1.5v1.5h-1.5zM91.81 378.2h1.5v1.5h-1.5zM76.25 359.95h1.5v1.5h-1.5zM91.71 366.02h1.5v1.5h-1.5zM100.91 366.31h1.5v1.5h-1.5zM95.36 381.84h1.5v1.5h-1.5zM81.74 380.9h1.5v1.5h-1.5zM85.9 375.74h1.5v1.5h-1.5zM89.43 381.01h1.5v1.5h-1.5zM94.11 372.7h1.5v1.5h-1.5zM68.68 378.22h1.5v1.5h-1.5zM88.2 379.73h1.5v1.5h-1.5zM67.49 385.44h1.5v1.5h-1.5zM84.02 379.89h1.5v1.5h-1.5zM82.19 382.77h1.5v1.5h-1.5zM96.68 365.68h1.5v1.5h-1.5zM88.51 371.19h1.5v1.5h-1.5zM90.69 388.84h1.5v1.5h-1.5zM89.93 372.06h1.5v1.5h-1.5zM72.54 383.05h1.5v1.5h-1.5zM97.92 376.95h1.5v1.5h-1.5zM98.38 380.19h1.5v1.5h-1.5zM94.74 368.41h1.5v1.5h-1.5zM98.02 380.76h1.5v1.5h-1.5zM90.78 376.25h1.5v1.5h-1.5zM88.78 370.62h1.5v1.5h-1.5zM96.44 374.92h1.5v1.5h-1.5zM96.72 372.21h1.5v1.5h-1.5zM80.56 388.99h1.5v1.5h-1.5zM83.38 380.67h1.5v1.5h-1.5zM79.66 370.56h1.5v1.5h-1.5zM93.03 377.03h1.5v1.5h-1.5zM98.18 371.67h1.5v1.5h-1.5zM68.73 392.9h1.5v1.5h-1.5zM74.99 383.75h1.5v1.5h-1.5zM94.86 367.77h1.5v1.5h-1.5zM69.22 381.95h1.5v1.5h-1.5zM90.36 371.52h1.5v1.5h-1.5zM87.56 377.76h1.5v1.5h-1.5zM83.36 374.07h1.5v1.5h-1.5zM95.91 362.54h1.5v1.5h-1.5zM85.95 382.22h1.5v1.5h-1.5zM86.22 374.6h1.5v1.5h-1.5zM91.39 376.13h1.5v1.5h-1.5zM55.43 378.67h1.5v1.5h-1.5zM81.63 381.95h1.5v1.5h-1.5zM73.03 379.2h1.5v1.5h-1.5zM78.88 376.17h1.5v1.5h-1.5zM73.76 384.94h1.5v1.5h-1.5zM96.67 370.31h1.5v1.5h-1.5zM88.43 379.1h1.5v1.5h-1.5zM79.01 395.96h1.5v1.5h-1.5zM92.26 380.43h1.5v1.5h-1.5zM77.34 381.95h1.5v1.5h-1.5zM64.56 388.5h1.5v1.5h-1.5zM76.11 374.88h1.5v1.5h-1.5zM84 381.2h1.5v1.5h-1.5zM88.94 378.08h1.5v1.5h-1.5zM92.64 365.97h1.5v1.5h-1.5zM94.23 383.48h1.5v1.5h-1.5zM92.99 383.67h1.5v1.5h-1.5zM89.17 369.67h1.5v1.5h-1.5zM80.45 383.92h1.5v1.5h-1.5zM97.75 373.15h1.5v1.5h-1.5zM87.34 373.79h1.5v1.5h-1.5zM83.88 385.76h1.5v1.5h-1.5zM87.34 378.71h1.5v1.5h-1.5zM92.93 375.45h1.5v1.5h-1.5zM76.96 388.49h1.5v1.5h-1.5zM94.94 377.05h1.5v1.5h-1.5zM90.63 377.68h1.5v1.5h-1.5zM91.48 389.38h1.5v1.5h-1.5zM91.96 369.96h1.5v1.5h-1.5zM96.5 374.51h1.5v1.5h-1.5zM95.31 371.9h1.5v1.5h-1.5zM82.58 390.14h1.5v1.5h-1.5zM88.77 375.97h1.5v1.5h-1.5zM95.67 371.71h1.5v1.5h-1.5zM99.88 364.64h1.5v1.5h-1.5zM91.06 375.8h1.5v1.5h-1.5zM100.41 368.56h1.5v1.5h-1.5zM72.19 390.7h1.5v1.5h-1.5zM90.86 388.9h1.5v1.5h-1.5zM72.22 373.31h1.5v1.5h-1.5zM91.07 378.15h1.5v1.5h-1.5zM79.51 397.66h1.5v1.5h-1.5z" fill="#ee3a2f" fill-opacity="0.5"/>
<path d="M93.36 361.68h1.5v1.5h-1.5zM89.49 365.39h1.5v1.5h-1.5zM81.81 384.75h1.5v1.5h-1.5zM81.51 378.37h1.5v1.5h-1.5zM81.3 388.51h1.5v1.5h-1.5zM92.75 376.24h1.5v1.5h-1.5zM78.95 381.74h1.5v1.5h-1.5zM87.76 370.69h1.5v1.5h-1.5zM93.76 373.64h1.5v1.5h-1.5zM90.43 375.39h1.5v1.5h-1.5zM87.51 383.95h1.5v1.5h-1.5zM92.96 380.9h1.5v1.5h-1.5zM96.06 376.91h1.5v1.5h-1.5zM93.71 373.61h1.5v1.5h-1.5zM91.32 367.98h1.5v1.5h-1.5zM63.51 390.43h1.5v1.5h-1.5zM83.67 385.46h1.5v1.5h-1.5zM87.35 349.45h1.5v1.5h-1.5zM94.41 368.29h1.5v1.5h-1.5zM85.96 387.17h1.5v1.5h-1.5zM86.39 376.93h1.5v1.5h-1.5zM94.29 373.75h1.5v1.5h-1.5zM63.18 382.82h1.5v1.5h-1.5zM84.46 377.06h1.5v1.5h-1.5zM70.24 386.34h1.5v1.5h-1.5zM86.53 371.82h1.5v1.5h-1.5zM91.42 378.63h1.5v1.5h-1.5zM67.97 380.39h1.5v1.5h-1.5zM90.77 384.99h1.5v1.5h-1.5zM85.23 382.51h1.5v1.5h-1.5zM88.7 377.8h1.5v1.5h-1.5zM90.49 380.19h1.5v1.5h-1.5zM84.01 369.05h1.5v1.5h-1.5zM86.87 386.45h1.5v1.5h-1.5zM92.31 376.56h1.5v1.5h-1.5zM90.08 366.79h1.5v1.5h-1.5zM93.61 375.86h1.5v1.5h-1.5zM90.26 380.16h1.5v1.5h-1.5zM75.49 378.94h1.5v1.5h-1.5zM93.97 371.47h1.5v1.5h-1.5zM72.97 389.79h1.5v1.5h-1.5zM92.95 386.4h1.5v1.5h-1.5zM88.59 371.75h1.5v1.5h-1.5zM89.84 370h1.5v1.5h-1.5zM87.15 381.26h1.5v1.5h-1.5zM88.07 378.04h1.5v1.5h-1.5zM92.56 366.85h1.5v1.5h-1.5zM91.84 377.66h1.5v1.5h-1.5zM60.42 388.36h1.5v1.5h-1.5zM53.93 388.17h1.5v1.5h-1.5zM89.39 376.77h1.5v1.5h-1.5zM82.36 392.85h1.5v1.5h-1.5zM71.31 380.14h1.5v1.5h-1.5zM93.74 371.37h1.5v1.5h-1.5zM93.97 373.2h1.5v1.5h-1.5zM72.54 390.41h1.5v1.5h-1.5zM90.13 368.49h1.5v1.5h-1.5zM84.92 384.1h1.5v1.5h-1.5zM67.73 382.82h1.5v1.5h-1.5zM90.19 375.29h1.5v1.5h-1.5zM97.28 367.13h1.5v1.5h-1.5zM66.78 390.99h1.5v1.5h-1.5zM87.76 379.61h1.5v1.5h-1.5zM89.74 384.23h1.5v1.5h-1.5zM92.83 380.25h1.5v1.5h-1.5zM93.57 368.72h1.5v1.5h-1.5zM98.38 372.75h1.5v1.5h-1.5zM87.12 369.27h1.5v1.5h-1.5zM86.1 368.61h1.5v1.5h-1.5zM92.57 378.58h1.5v1.5h-1.5zM95.93 381.92h1.5v1.5h-1.5zM92.58 382.34h1.5v1.5h-1.5zM73.79 388.22h1.5v1.5h-1.5zM97.62 383.2h1.5v1.5h-1.5zM100.45 367.2h1.5v1.5h-1.5zM84.36 382.8h1.5v1.5h-1.5zM94.32 372.34h1.5v1.5h-1.5zM89.41 377.26h1.5v1.5h-1.5zM84.51 380.47h1.5v1.5h-1.5zM89.64 365.26h1.5v1.5h-1.5zM72.89 382.04h1.5v1.5h-1.5zM95.35 372.16h1.5v1.5h-1.5zM90.73 375.35h1.5v1.5h-1.5zM85.28 368.96h1.5v1.5h-1.5zM52.62 397.59h1.5v1.5h-1.5zM92.63 365.93h1.5v1.5h-1.5zM94.81 381.7h1.5v1.5h-1.5zM79.45 388.97h1.5v1.5h-1.5zM90.28 368.96h1.5v1.5h-1.5zM97.54 372.69h1.5v1.5h-1.5zM93.5 386.99h1.5v1.5h-1.5zM90.79 383.68h1.5v1.5h-1.5zM93.77 379.28h1.5v1.5h-1.5zM86.18 387.9h1.5v1.5h-1.5zM95.37 372.47h1.5v1.5h-1.5zM71.92 376.72h1.5v1.5h-1.5zM94.26 366.91h1.5v1.5h-1.5zM94.05 376.86h1.5v1.5h-1.5zM85.8 381.95h1.5v1.5h-1.5zM96.21 381.07h1.5v1.5h-1.5zM89.15 373.05h1.5v1.5h-1.5zM90.7 378.79h1.5v1.5h-1.5zM101.3 368.04h1.5v1.5h-1.5zM97.73 365.75h1.5v1.5h-1.5zM87.19 369.6h1.5v1.5h-1.5zM93.66 367.63h1.5v1.5h-1.5zM81.69 380.03h1.5v1.5h-1.5zM89.4 378.04h1.5v1.5h-1.5zM88.43 381.69h1.5v1.5h-1.5zM87.42 380.82h1.5v1.5h-1.5zM87.55 360.06h1.5v1.5h-1.5zM57.64 381.08h1.5v1.5h-1.5zM88.94 375.89h1.5v1.5h-1.5z" fill="#ee3a2f" fill-opacity="0.5"/>
<path d="M94.99 370.74h1.5v1.5h-1.5zM92.96 369.52h1.5v1.5h-1.5zM90.14 372.2h1.5v1.5h-1.5zM51.06 393.73h1.5v1.5h-1.5zM83.63 387.86h1.5v1.5h-1.5zM85.44 375.06h1.5v1.5h-1.5zM69.53 398.02h1.5v1.5h-1.5zM90.79 379.55h1.5v1.5h-1.5zM85.49 377.97h1.5v1.5h-1.5zM63.06 395.25h1.5v1.5h-1.5zM47.74 385.57h1.5v1.5h-1.5zM89.56 373.89h1.5v1.5h-1.5zM95.21 376.6h1.5v1.5h-1.5zM98.97 374.66h1.5v1.5h-1.5zM63.44 368.89h1.5v1.5h-1.5zM91.05 368.52h1.5v1.5h-1.5zM90.42 383.52h1.5v1.5h-1.5zM97.9 372.77h1.5v1.5h-1.5zM93.19 372.12h1.5v1.5h-1.5zM85.6 378.42h1.5v1.5h-1.5zM100.21 369.13h1.5v1.5h-1.5zM89.7 376.17h1.5v1.5h-1.5zM98.89 374.13h1.5v1.5h-1.5zM90.22 374.51h1.5v1.5h-1.5zM90.29 361.37h1.5v1.5h-1.5zM85 377.62h1.5v1.5h-1.5zM86.93 387.42h1.5v1.5h-1.5zM89.27 381.59h1.5v1.5h-1.5zM86.1 373.7h1.5v1.5h-1.5zM53.66 394.62h1.5v1.5h-1.5zM96 374.53h1.5v1.5h-1.5zM67.21 390.08h1.5v1.5h-1.5zM87.59 376.46h1.5v1.5h-1.5zM90.78 375.42h1.5v1.5h-1.5zM90.19 379.74h1.5v1.5h-1.5zM93.02 382.22h1.5v1.5h-1.5zM103.2 369.51h1.5v1.5h-1.5zM67.11 376.77h1.5v1.5h-1.5zM93.55 379.29h1.5v1.5h-1.5zM89.51 371.28h1.5v1.5h-1.5zM84.7 367.74h1.5v1.5h-1.5zM96.74 376.2h1.5v1.5h-1.5zM96.61 378.73h1.5v1.5h-1.5zM92.94 370.11h1.5v1.5h-1.5zM96.52 376.01h1.5v1.5h-1.5zM94.14 372.91h1.5v1.5h-1.5zM99.08 373.36h1.5v1.5h-1.5zM74.87 370.19h1.5v1.5h-1.5zM94.34 371.31h1.5v1.5h-1.5zM94.24 368.94h1.5v1.5h-1.5zM104.44 363.41h1.5v1.5h-1.5zM99.43 383.36h1.5v1.5h-1.5zM99.15 370.91h1.5v1.5h-1.5zM74.99 384.53h1.5v1.5h-1.5zM67.23 389.47h1.5v1.5h-1.5zM92 381.8h1.5v1.5h-1.5zM45.95 388.45h1.5v1.5h-1.5zM105.82 370.52h1.5v1.5h-1.5zM88.42 374.62h1.5v1.5h-1.5zM96.19 374.78h1.5v1.5h-1.5zM82.94 365.35h1.5v1.5h-1.5zM95.16 374.73h1.5v1.5h-1.5zM59.3 385.53h1.5v1.5h-1.5zM71.75 386.77h1.5v1.5h-1.5zM70.7 384.91h1.5v1.5h-1.5zM89.3 378.05h1.5v1.5h-1.5zM65.95 386.08h1.5v1.5h-1.5zM95.93 371.69h1.5v1.5h-1.5zM70.64 377.93h1.5v1.5h-1.5zM90.3 380.77h1.5v1.5h-1.5zM84.93 380.99h1.5v1.5h-1.5zM74.15 390.58h1.5v1.5h-1.5zM93.69 372.34h1.5v1.5h-1.5zM91.17 376.77h1.5v1.5h-1.5zM84.61 373.84h1.5v1.5h-1.5zM92.74 380.48h1.5v1.5h-1.5zM84.05 372.74h1.5v1.5h-1.5zM97.13 383.42h1.5v1.5h-1.5zM88.82 381.37h1.5v1.5h-1.5zM96.33 373.95h1.5v1.5h-1.5zM99.25 374.23h1.5v1.5h-1.5zM88.3 378.96h1.5v1.5h-1.5zM87.53 363.48h1.5v1.5h-1.5zM94.28 374.17h1.5v1.5h-1.5zM85.52 386.21h1.5v1.5h-1.5zM93.07 377.79h1.5v1.5h-1.5zM88.98 369.22h1.5v1.5h-1.5zM101.9 378.73h1.5v1.5h-1.5zM90.21 379.46h1.5v1.5h-1.5zM91.06 374.5h1.5v1.5h-1.5zM93.96 378.97h1.5v1.5h-1.5zM87.52 365.18h1.5v1.5h-1.5zM94.98 373.07h1.5v1.5h-1.5zM93.64 370.45h1.5v1.5h-1.5zM93.9 375.02h1.5v1.5h-1.5zM90.68 370.63h1.5v1.5h-1.5zM48.35 409.55h1.5v1.5h-1.5zM89.49 384.95h1.5v1.5h-1.5zM83.74 385.64h1.5v1.5h-1.5zM93 370.72h1.5v1.5h-1.5zM89.16 376.81h1.5v1.5h-1.5zM80.85 381.06h1.5v1.5h-1.5zM82.01 374.6h1.5v1.5h-1.5zM93.22 364.08h1.5v1.5h-1.5zM87.18 380.91h1.5v1.5h-1.5zM71 384.03h1.5v1.5h-1.5zM82.41 371.49h1.5v1.5h-1.5zM96.49 375.43h1.5v1.5h-1.5zM87.58 383.39h1.5v1.5h-1.5zM94.14 371.26h1.5v1.5h-1.5zM71.58 379.69h1.5v1.5h-1.5zM94.26 370.94h1.5v1.5h-1.5zM94.08 386.48h1.5v1.5h-1.5z" fill="#ee3a2f" fill-opacity="0.5"/>
<path d="M88.55 381.86h1.5v1.5h-1.5zM91.18 370.88h1.5v1.5h-1.5zM101.37 370.45h1.5v1.5h-1.5zM94.15 374.1h1.5v1.5h-1.5zM83.79 380.55h1.5v1.5h-1.5zM67.8 371.75h1.5v1.5h-1.5zM91.29 374.36h1.5v1.5h-1.5zM93.92 387.75h1.5v1.5h-1.5zM68.17 383.44h1.5v1.5h-1.5zM87.16 384.64h1.5v1.5h-1.5zM91.98 374.58h1.5v1.5h-1.5zM83.55 378.13h1.5v1.5h-1.5zM102.07 369h1.5v1.5h-1.5zM62.12 385.32h1.5v1.5h-1.5zM104.1 367.68h1.5v1.5h-1.5zM83.25 381.09h1.5v1.5h-1.5zM89.09 370.8h1.5v1.5h-1.5zM94.91 375.18h1.5v1.5h-1.5zM97.88 369.4h1.5v1.5h-1.5zM95.7 371.5h1.5v1.5h-1.5zM94.65 373.39h1.5v1.5h-1.5zM54.24 384.99h1.5v1.5h-1.5zM89.7 382.57h1.5v1.5h-1.5zM89.85 412.05h1.5v1.5h-1.5zM73.61 388.82h1.5v1.5h-1.5zM99.58 366.57h1.5v1.5h-1.5zM89.62 376.44h1.5v1.5h-1.5zM97.05 372.55h1.5v1.5h-1.5zM91.88 370.39h1.5v1.5h-1.5zM84.59 385.69h1.5v1.5h-1.5zM91.99 380.52h1.5v1.5h-1.5zM83.51 386.78h1.5v1.5h-1.5zM92.18 373.91h1.5v1.5h-1.5zM87.5 384.29h1.5v1.5h-1.5zM89.05 371.06h1.5v1.5h-1.5zM96.64 374.55h1.5v1.5h-1.5zM92.21 377.33h1.5v1.5h-1.5zM92.93 370.19h1.5v1.5h-1.5zM99.71 366.34h1.5v1.5h-1.5zM92.08 378.05h1.5v1.5h-1.5zM83.75 374.68h1.5v1.5h-1.5zM96.03 381.6h1.5v1.5h-1.5zM88.15 383.46h1.5v1.5h-1.5zM88.01 370.59h1.5v1.5h-1.5zM87.44 374.32h1.5v1.5h-1.5zM85.42 379.53h1.5v1.5h-1.5zM94.1 368.58h1.5v1.5h-1.5zM93.97 378.9h1.5v1.5h-1.5zM96.21 374.48h1.5v1.5h-1.5zM92.94 374.7h1.5v1.5h-1.5zM95.42 375.04h1.5v1.5h-1.5zM95.74 376.23h1.5v1.5h-1.5zM90.08 381.09h1.5v1.5h-1.5zM93.11 381.96h1.5v1.5h-1.5zM87.02 382.85h1.5v1.5h-1.5zM84.99 377.79h1.5v1.5h-1.5zM87.73 373.95h1.5v1.5h-1.5zM96.48 375.31h1.5v1.5h-1.5zM88.91 377.76h1.5v1.5h-1.5zM88.38 379.16h1.5v1.5h-1.5zM91.43 366.83h1.5v1.5h-1.5zM88.67 370.55h1.5v1.5h-1.5zM93.17 376.96h1.5v1.5h-1.5zM94.41 377.1h1.5v1.5h-1.5zM94.29 369.46h1.5v1.5h-1.5zM99.7 365.05h1.5v1.5h-1.5zM97.35 370.19h1.5v1.5h-1.5zM100.2 361.8h1.5v1.5h-1.5zM93.54 367.14h1.5v1.5h-1.5zM89.76 371.5h1.5v1.5h-1.5zM78.68 383.04h1.5v1.5h-1.5zM89.81 391.87h1.5v1.5h-1.5zM91.13 374.57h1.5v1.5h-1.5zM57.05 390.96h1.5v1.5h-1.5zM90 371.4h1.5v1.5h-1.5zM91.72 378.63h1.5v1.5h-1.5zM97.87 371.21h1.5v1.5h-1.5zM93.55 376.01h1.5v1.5h-1.5zM88.43 388.49h1.5v1.5h-1.5zM87.56 373.79h1.5v1.5h-1.5zM76.38 380.9h1.5v1.5h-1.5zM91.88 383.06h1.5v1.5h-1.5zM73.36 383.86h1.5v1.5h-1.5zM90.66 381.24h1.5v1.5h-1.5zM84 386.23h1.5v1.5h-1.5zM90.74 373.49h1.5v1.5h-1.5zM83.46 377.61h1.5v1.5h-1.5zM62.49 385.14h1.5v1.5h-1.5zM90.86 365.24h1.5v1.5h-1.5zM87.52 379.5h1.5v1.5h-1.5zM93.45 381.71h1.5v1.5h-1.5zM91.16 374.82h1.5v1.5h-1.5zM92.38 371.17h1.5v1.5h-1.5zM93.26 376.54h1.5v1.5h-1.5zM68 399.3h1.5v1.5h-1.5zM94.39 375.5h1.5v1.5h-1.5zM83.87 384.23h1.5v1.5h-1.5zM94.32 379.07h1.5v1.5h-1.5zM94.67 371.34h1.5v1.5h-1.5zM88.64 383.37h1.5v1.5h-1.5zM94.85 386.8h1.5v1.5h-1.5zM83.34 385.13h1.5v1.5h-1.5zM91.08 373.91h1.5v1.5h-1.5zM96.33 375.97h1.5v1.5h-1.5zM91.7 372.01h1.5v1.5h-1.5zM92.71 371.49h1.5v1.5h-1.5zM86.9 384.8h1.5v1.5h-1.5zM86.44 388.33h1.5v1.5h-1.5zM78.66 383.3h1.5v1.5h-1.5zM94.16 378.98h1.5v1.5h-1.5zM87.49 389.57h1.5v1.5h-1.5zM90.54 383.57h1.5v1.5h-1.5zM95.17 378.02h1.5v1.5h-1.5z" fill="#ee3a2f" fill-opacity="0.5"/>
<path d="M46.7 393.1 L49.78 391.97 L52.85 390.84 L55.93 389.69 L59.01 388.54 L62.08 387.37 L65.16 386.2 L68.24 385.02 L71.31 383.83 L74.39 382.63 L77.47 381.42 L80.54 380.21 L83.62 378.98 L86.7 377.75 L89.77 376.5 L92.85 375.25 L95.93 373.99 L99 372.71 L102.08 371.42 L105.16 370.11 L108.23 368.79 L111.31 367.45 L114.39 366.1 L117.46 364.74 L120.54 363.36 L123.62 361.97 L126.69 360.57 L129.77 359.15 L132.85 357.71 L135.92 356.26 L139 354.8 L139 359.2 L135.92 360.25 L132.85 361.32 L129.77 362.39 L126.69 363.49 L123.62 364.59 L120.54 365.72 L117.46 366.85 L114.39 368 L111.31 369.17 L108.23 370.34 L105.16 371.54 L102.08 372.74 L99 373.97 L95.93 375.2 L92.85 376.45 L89.77 377.71 L86.7 378.98 L83.62 380.26 L80.54 381.55 L77.47 382.84 L74.39 384.15 L71.31 385.46 L68.24 386.79 L65.16 388.12 L62.08 389.46 L59.01 390.81 L55.93 392.17 L52.85 393.54 L49.78 394.91 L46.7 396.3Z" fill="#a0a0a0" fill-opacity="0.6"/>
<line x1="46.7" y1="394.7" x2="139" y2="357" stroke="#151515" stroke-width="0.85" />
<path d="M42.2 313.5 V417.3 H144.8" fill="none" stroke="#000" stroke-width="1.3"/>
<line x1="39.6" y1="316" x2="42.2" y2="316" stroke="#000" stroke-width="1" />
<text font-size="8.6" font-weight="bold" text-anchor="end" stroke="#000" stroke-width="0.18" transform="translate(38.6 318.8) scale(1 1.12)">26</text>
<line x1="39.6" y1="337.6" x2="42.2" y2="337.6" stroke="#000" stroke-width="1" />
<text font-size="8.6" font-weight="bold" text-anchor="end" stroke="#000" stroke-width="0.18" transform="translate(38.6 340.4) scale(1 1.12)">24</text>
<line x1="39.6" y1="359.3" x2="42.2" y2="359.3" stroke="#000" stroke-width="1" />
<text font-size="8.6" font-weight="bold" text-anchor="end" stroke="#000" stroke-width="0.18" transform="translate(38.6 362.1) scale(1 1.12)">22</text>
<line x1="39.6" y1="380.7" x2="42.2" y2="380.7" stroke="#000" stroke-width="1" />
<text font-size="8.6" font-weight="bold" text-anchor="end" stroke="#000" stroke-width="0.18" transform="translate(38.6 383.5) scale(1 1.12)">20</text>
<line x1="39.6" y1="402.1" x2="42.2" y2="402.1" stroke="#000" stroke-width="1" />
<text font-size="8.6" font-weight="bold" text-anchor="end" stroke="#000" stroke-width="0.18" transform="translate(38.6 404.9) scale(1 1.12)">18</text>
<line x1="61" y1="417.3" x2="61" y2="419.7" stroke="#000" stroke-width="1" />
<text font-size="8.6" font-weight="bold" text-anchor="middle" stroke="#000" stroke-width="0.18" transform="translate(61 426.6) scale(1 1.12)">5</text>
<line x1="85.4" y1="417.3" x2="85.4" y2="419.7" stroke="#000" stroke-width="1" />
<text font-size="8.6" font-weight="bold" text-anchor="middle" stroke="#000" stroke-width="0.18" transform="translate(85.4 426.6) scale(1 1.12)">10</text>
<line x1="110.5" y1="417.3" x2="110.5" y2="419.7" stroke="#000" stroke-width="1" />
<text font-size="8.6" font-weight="bold" text-anchor="middle" stroke="#000" stroke-width="0.18" transform="translate(110.5 426.6) scale(1 1.12)">15</text>
<line x1="135.1" y1="417.3" x2="135.1" y2="419.7" stroke="#000" stroke-width="1" />
<text font-size="8.6" font-weight="bold" text-anchor="middle" stroke="#000" stroke-width="0.18" transform="translate(135.1 426.6) scale(1 1.12)">20</text>
<text font-size="5.6" fill="#1a1a1a" transform="translate(46.8 325.4) scale(1 1.12)"><tspan font-style="italic">R</tspan> = 0.5, <tspan font-style="italic">p</tspan> &lt; 2.2e-16</text>
<text font-size="8.4" font-weight="bold" text-anchor="middle" stroke="#000" stroke-width="0.18" transform="translate(24.6 365) scale(0.89 1) rotate(-90)">Log<tspan font-size="5.6" dy="1.8">2</tspan><tspan dy="-1.8"> H3K36me3 signal (WT)</tspan></text>
<text font-size="8.4" font-weight="bold" stroke="#000" stroke-width="0.18" transform="translate(28.4 437.2) scale(1 1.12)">Log<tspan font-size="5.6" dy="1.8">2</tspan><tspan dy="-1.8"> FLAG-SMYD5 signal (<tspan font-style="italic">Smyd5</tspan> O/E)</tspan></text>
<text font-size="21.5" font-weight="bold" stroke="#000" stroke-width="0.18" transform="translate(179 298.6) scale(0.9 1)">h</text>
<text font-size="8.2" font-weight="bold" text-anchor="middle" stroke="#000" stroke-width="0.18" transform="translate(271.6 312.8) scale(1 1.12)"><tspan font-style="italic">Smyd5</tspan> KI</text>
<path d="M265.88 392.34h1.5v1.5h-1.5zM263.45 386.84h1.5v1.5h-1.5zM235.04 388.29h1.5v1.5h-1.5zM266.58 386.08h1.5v1.5h-1.5zM271.51 372.48h1.5v1.5h-1.5zM270.87 373.93h1.5v1.5h-1.5zM252.18 372.79h1.5v1.5h-1.5zM268.46 381.05h1.5v1.5h-1.5zM234.43 394.25h1.5v1.5h-1.5zM266.76 373.68h1.5v1.5h-1.5zM276.8 376.88h1.5v1.5h-1.5zM259.53 379h1.5v1.5h-1.5zM261.74 383.98h1.5v1.5h-1.5zM251.02 386.5h1.5v1.5h-1.5zM273.7 375.75h1.5v1.5h-1.5zM252.77 382.15h1.5v1.5h-1.5zM265.73 373.7h1.5v1.5h-1.5zM270.58 380.27h1.5v1.5h-1.5zM269.45 374.46h1.5v1.5h-1.5zM261.95 381.29h1.5v1.5h-1.5zM263.23 376.96h1.5v1.5h-1.5zM260.12 371.46h1.5v1.5h-1.5zM267.33 381.93h1.5v1.5h-1.5zM262.2 380.67h1.5v1.5h-1.5zM264.94 386.2h1.5v1.5h-1.5zM236.88 384.06h1.5v1.5h-1.5zM272.9 380.27h1.5v1.5h-1.5zM258.89 384.15h1.5v1.5h-1.5zM271.11 370.33h1.5v1.5h-1.5zM255.14 378.75h1.5v1.5h-1.5zM242.86 376.23h1.5v1.5h-1.5zM266.95 376.58h1.5v1.5h-1.5zM258.87 374.45h1.5v1.5h-1.5zM269.35 362.28h1.5v1.5h-1.5zM264.92 377.35h1.5v1.5h-1.5zM270.07 376.23h1.5v1.5h-1.5zM267.52 371.52h1.5v1.5h-1.5zM261.59 370.61h1.5v1.5h-1.5zM267.5 379.04h1.5v1.5h-1.5zM268.1 373.02h1.5v1.5h-1.5zM265.95 350.05h1.5v1.5h-1.5zM271.44 381.74h1.5v1.5h-1.5zM267.94 370.85h1.5v1.5h-1.5zM271.87 373.34h1.5v1.5h-1.5zM267.97 377.38h1.5v1.5h-1.5zM263.75 373.66h1.5v1.5h-1.5zM268.35 378.49h1.5v1.5h-1.5zM262.86 379.89h1.5v1.5h-1.5zM272.8 365.81h1.5v1.5h-1.5zM268.83 381.4h1.5v1.5h-1.5zM247.45 380.09h1.5v1.5h-1.5zM271.82 380.08h1.5v1.5h-1.5zM266.39 380.86h1.5v1.5h-1.5zM268.13 374.39h1.5v1.5h-1.5zM263.44 383.31h1.5v1.5h-1.5zM251.09 373.45h1.5v1.5h-1.5zM256.14 391.39h1.5v1.5h-1.5zM259.56 382.47h1.5v1.5h-1.5zM265.18 374.54h1.5v1.5h-1.5zM267.02 377.74h1.5v1.5h-1.5zM260.88 368.66h1.5v1.5h-1.5zM247.55 382.54h1.5v1.5h-1.5zM262.28 381.12h1.5v1.5h-1.5zM260.6 382.18h1.5v1.5h-1.5zM266.59 384.33h1.5v1.5h-1.5zM263.1 381.92h1.5v1.5h-1.5zM265.76 372.07h1.5v1.5h-1.5zM259.75 367.08h1.5v1.5h-1.5zM268.48 384.4h1.5v1.5h-1.5zM273.31 381.53h1.5v1.5h-1.5zM265.23 376.73h1.5v1.5h-1.5zM268.89 366.99h1.5v1.5h-1.5zM264.8 386.14h1.5v1.5h-1.5zM272.42 371.76h1.5v1.5h-1.5zM269.05 377.05h1.5v1.5h-1.5zM262.86 382.89h1.5v1.5h-1.5zM260.61 380.8h1.5v1.5h-1.5zM267.3 374.12h1.5v1.5h-1.5zM264.58 375.11h1.5v1.5h-1.5zM257.17 372.75h1.5v1.5h-1.5zM251.08 382.3h1.5v1.5h-1.5zM248.49 377.51h1.5v1.5h-1.5zM269.72 367.27h1.5v1.5h-1.5zM262.79 379.71h1.5v1.5h-1.5zM261.49 383.31h1.5v1.5h-1.5zM270.23 370.57h1.5v1.5h-1.5zM270.51 375.08h1.5v1.5h-1.5zM251.84 383.39h1.5v1.5h-1.5zM267.29 378.47h1.5v1.5h-1.5zM262.93 376.18h1.5v1.5h-1.5zM272.53 378.36h1.5v1.5h-1.5zM270.54 376.77h1.5v1.5h-1.5zM268.22 376.01h1.5v1.5h-1.5zM241.42 378.64h1.5v1.5h-1.5zM271.47 369.19h1.5v1.5h-1.5zM254.33 387.68h1.5v1.5h-1.5zM272.34 373.88h1.5v1.5h-1.5zM261.9 382.68h1.5v1.5h-1.5zM277.61 371.44h1.5v1.5h-1.5zM269.73 376.68h1.5v1.5h-1.5zM267.5 373.6h1.5v1.5h-1.5z" fill="#ec6a9c" fill-opacity="0.5"/>
<path d="M268.48 377.79h1.5v1.5h-1.5zM267.9 385.27h1.5v1.5h-1.5zM266.5 382.84h1.5v1.5h-1.5zM253.94 376.95h1.5v1.5h-1.5zM271.61 378h1.5v1.5h-1.5zM263.68 370.8h1.5v1.5h-1.5zM242.26 384.26h1.5v1.5h-1.5zM266.56 375.77h1.5v1.5h-1.5zM267.45 376.75h1.5v1.5h-1.5zM247.52 384.54h1.5v1.5h-1.5zM266.28 379.39h1.5v1.5h-1.5zM272.83 371.94h1.5v1.5h-1.5zM264.36 375.74h1.5v1.5h-1.5zM267.63 376.37h1.5v1.5h-1.5zM264.07 385.18h1.5v1.5h-1.5zM266.92 380.3h1.5v1.5h-1.5zM257.27 376.35h1.5v1.5h-1.5zM270.03 386.98h1.5v1.5h-1.5zM255.4 380.45h1.5v1.5h-1.5zM246.93 385.75h1.5v1.5h-1.5zM264.29 379.59h1.5v1.5h-1.5zM257.37 389.37h1.5v1.5h-1.5zM266.8 378.09h1.5v1.5h-1.5zM269.47 383.14h1.5v1.5h-1.5zM270.87 365.98h1.5v1.5h-1.5zM262.95 381.39h1.5v1.5h-1.5zM262.28 399.38h1.5v1.5h-1.5zM270.79 372.91h1.5v1.5h-1.5zM265.63 378.94h1.5v1.5h-1.5zM246.67 389.42h1.5v1.5h-1.5zM271.99 373.23h1.5v1.5h-1.5zM239.54 387.98h1.5v1.5h-1.5zM258.18 372.8h1.5v1.5h-1.5zM269.13 377.1h1.5v1.5h-1.5zM277.17 382.52h1.5v1.5h-1.5zM264.65 382.47h1.5v1.5h-1.5zM236.59 384.68h1.5v1.5h-1.5zM260.6 376.16h1.5v1.5h-1.5zM262.74 380.22h1.5v1.5h-1.5zM268.2 376.35h1.5v1.5h-1.5zM271.38 378.43h1.5v1.5h-1.5zM279.34 375.61h1.5v1.5h-1.5zM242.98 384.66h1.5v1.5h-1.5zM266.73 368.94h1.5v1.5h-1.5zM274.64 375.87h1.5v1.5h-1.5zM269.66 362.46h1.5v1.5h-1.5zM263.43 380.67h1.5v1.5h-1.5zM268.33 389.53h1.5v1.5h-1.5zM271.36 375.2h1.5v1.5h-1.5zM265.61 377.38h1.5v1.5h-1.5zM269.47 380.8h1.5v1.5h-1.5zM263.39 385.18h1.5v1.5h-1.5zM272.12 376.13h1.5v1.5h-1.5zM269.77 376.36h1.5v1.5h-1.5zM263.95 374.1h1.5v1.5h-1.5zM271.3 368.75h1.5v1.5h-1.5zM263.41 378.45h1.5v1.5h-1.5zM267.43 378.52h1.5v1.5h-1.5zM270.41 372.49h1.5v1.5h-1.5zM257.94 389.1h1.5v1.5h-1.5zM261.43 375.16h1.5v1.5h-1.5zM274.57 360.38h1.5v1.5h-1.5zM275.12 368.35h1.5v1.5h-1.5zM263.06 377.8h1.5v1.5h-1.5zM268.85 381.43h1.5v1.5h-1.5zM265.35 373.67h1.5v1.5h-1.5zM270.85 365.62h1.5v1.5h-1.5zM270.24 376.7h1.5v1.5h-1.5zM279.33 375.69h1.5v1.5h-1.5zM255.81 385.7h1.5v1.5h-1.5zM269.09 374.26h1.5v1.5h-1.5zM272.63 385.47h1.5v1.5h-1.5zM248.46 379.01h1.5v1.5h-1.5zM259.06 370.42h1.5v1.5h-1.5zM261.93 378.38h1.5v1.5h-1.5zM258.57 387.97h1.5v1.5h-1.5zM267.16 370.91h1.5v1.5h-1.5zM248.64 380.95h1.5v1.5h-1.5zM273.96 390.73h1.5v1.5h-1.5zM316.85 318.15h1.5v1.5h-1.5zM257.34 388.68h1.5v1.5h-1.5zM262.67 387.75h1.5v1.5h-1.5zM257.31 373.82h1.5v1.5h-1.5zM266.31 375.32h1.5v1.5h-1.5zM265.72 369.53h1.5v1.5h-1.5zM277.72 363.49h1.5v1.5h-1.5zM273.1 374.52h1.5v1.5h-1.5zM266.03 385.98h1.5v1.5h-1.5zM266.65 387.18h1.5v1.5h-1.5zM272.5 376.23h1.5v1.5h-1.5zM245.7 386.78h1.5v1.5h-1.5zM264.3 370.28h1.5v1.5h-1.5zM273.34 356.96h1.5v1.5h-1.5zM267.75 387.72h1.5v1.5h-1.5zM270.55 372.31h1.5v1.5h-1.5zM265.86 383.25h1.5v1.5h-1.5zM264.33 378.51h1.5v1.5h-1.5zM266.38 375.05h1.5v1.5h-1.5zM266.56 378.53h1.5v1.5h-1.5zM267.46 380.29h1.5v1.5h-1.5zM260.37 380.71h1.5v1.5h-1.5z" fill="#ec6a9c" fill-opacity="0.5"/>
<path d="M282.11 371.08h1.5v1.5h-1.5zM269.63 373.77h1.5v1.5h-1.5zM226.52 387.68h1.5v1.5h-1.5zM271.65 373.93h1.5v1.5h-1.5zM250.99 384.62h1.5v1.5h-1.5zM269 382.72h1.5v1.5h-1.5zM260.75 369.67h1.5v1.5h-1.5zM252.83 373.36h1.5v1.5h-1.5zM261.22 380.07h1.5v1.5h-1.5zM239.54 373.63h1.5v1.5h-1.5zM262.94 384.82h1.5v1.5h-1.5zM265.32 367.82h1.5v1.5h-1.5zM264.28 392.19h1.5v1.5h-1.5zM272.97 363.17h1.5v1.5h-1.5zM264.91 378.75h1.5v1.5h-1.5zM266.2 374.11h1.5v1.5h-1.5zM257.57 385.06h1.5v1.5h-1.5zM271.57 375.68h1.5v1.5h-1.5zM271.94 361.78h1.5v1.5h-1.5zM260.1 377.17h1.5v1.5h-1.5zM267.41 374.99h1.5v1.5h-1.5zM264.96 374.42h1.5v1.5h-1.5zM250.33 388.72h1.5v1.5h-1.5zM260.15 366.83h1.5v1.5h-1.5zM266.05 378.75h1.5v1.5h-1.5zM267.8 387.26h1.5v1.5h-1.5zM266.79 376.83h1.5v1.5h-1.5zM271.72 379.68h1.5v1.5h-1.5zM267.61 375.88h1.5v1.5h-1.5zM236.26 380.24h1.5v1.5h-1.5zM243.72 381.74h1.5v1.5h-1.5zM264.23 381.71h1.5v1.5h-1.5zM235.69 384.84h1.5v1.5h-1.5zM274.72 374.77h1.5v1.5h-1.5zM267.3 384.21h1.5v1.5h-1.5zM264.66 376.16h1.5v1.5h-1.5zM266.94 379.13h1.5v1.5h-1.5zM265.17 379.95h1.5v1.5h-1.5zM268.32 373.67h1.5v1.5h-1.5zM247.57 387.59h1.5v1.5h-1.5zM267.6 378.8h1.5v1.5h-1.5zM278.05 378.2h1.5v1.5h-1.5zM264.07 370.22h1.5v1.5h-1.5zM260.3 379.5h1.5v1.5h-1.5zM258.39 386.7h1.5v1.5h-1.5zM269.85 376.76h1.5v1.5h-1.5zM261.5 374.2h1.5v1.5h-1.5zM239.43 387.8h1.5v1.5h-1.5zM266.6 380.41h1.5v1.5h-1.5zM246.23 383.13h1.5v1.5h-1.5zM263.22 383.04h1.5v1.5h-1.5zM255.65 378.85h1.5v1.5h-1.5zM262.86 382.55h1.5v1.5h-1.5zM265.13 379.13h1.5v1.5h-1.5zM259.95 381.69h1.5v1.5h-1.5zM265.45 385.54h1.5v1.5h-1.5zM267.11 381.07h1.5v1.5h-1.5zM233.04 386.76h1.5v1.5h-1.5zM263.24 377.71h1.5v1.5h-1.5zM260.71 384.32h1.5v1.5h-1.5zM271.77 371.75h1.5v1.5h-1.5zM270.25 382.8h1.5v1.5h-1.5zM263.62 384.99h1.5v1.5h-1.5zM256.13 381.15h1.5v1.5h-1.5zM256.39 376.88h1.5v1.5h-1.5zM257.7 377.99h1.5v1.5h-1.5zM265.43 377.75h1.5v1.5h-1.5zM271.73 371.96h1.5v1.5h-1.5zM268.34 375.21h1.5v1.5h-1.5zM273.31 371.54h1.5v1.5h-1.5zM251.15 385.8h1.5v1.5h-1.5zM259.39 374.73h1.5v1.5h-1.5zM273.1 373.11h1.5v1.5h-1.5zM265.55 384.05h1.5v1.5h-1.5zM278.46 357.16h1.5v1.5h-1.5zM257.18 376.3h1.5v1.5h-1.5zM257.52 383.86h1.5v1.5h-1.5zM262.09 376.36h1.5v1.5h-1.5zM264.68 385.75h1.5v1.5h-1.5zM258.39 383.68h1.5v1.5h-1.5zM251.72 391.42h1.5v1.5h-1.5zM258.87 371.74h1.5v1.5h-1.5zM248.54 378.21h1.5v1.5h-1.5zM271.47 380.6h1.5v1.5h-1.5zM270.63 362.97h1.5v1.5h-1.5zM266.69 378.23h1.5v1.5h-1.5zM263.66 385.48h1.5v1.5h-1.5zM255.45 385.94h1.5v1.5h-1.5zM262.97 378.54h1.5v1.5h-1.5zM261.96 385.66h1.5v1.5h-1.5zM264.07 379.16h1.5v1.5h-1.5zM259.16 381.63h1.5v1.5h-1.5zM246.2 386.83h1.5v1.5h-1.5zM271.73 386.28h1.5v1.5h-1.5zM232.83 385.42h1.5v1.5h-1.5zM252 391.71h1.5v1.5h-1.5zM268.31 369.75h1.5v1.5h-1.5zM265.47 386.55h1.5v1.5h-1.5zM266.04 373.98h1.5v1.5h-1.5zM270.56 380.2h1.5v1.5h-1.5z" fill="#ec6a9c" fill-opacity="0.5"/>
<path d="M257.69 382.19h1.5v1.5h-1.5zM246.51 384.32h1.5v1.5h-1.5zM254.21 386.13h1.5v1.5h-1.5zM268.62 382.52h1.5v1.5h-1.5zM264.71 374.23h1.5v1.5h-1.5zM274.14 372.78h1.5v1.5h-1.5zM257.75 376.5h1.5v1.5h-1.5zM271.64 382.26h1.5v1.5h-1.5zM247.34 380.46h1.5v1.5h-1.5zM262.24 381.28h1.5v1.5h-1.5zM273.37 372.41h1.5v1.5h-1.5zM247.24 393.96h1.5v1.5h-1.5zM266.67 376.96h1.5v1.5h-1.5zM273.58 374.05h1.5v1.5h-1.5zM277.39 378.53h1.5v1.5h-1.5zM250.77 380.08h1.5v1.5h-1.5zM267.86 376.33h1.5v1.5h-1.5zM262.5 374.69h1.5v1.5h-1.5zM252.21 383.4h1.5v1.5h-1.5zM261.6 377.62h1.5v1.5h-1.5zM268.47 369.54h1.5v1.5h-1.5zM266.94 381.79h1.5v1.5h-1.5zM267.83 380.56h1.5v1.5h-1.5zM252.16 372.96h1.5v1.5h-1.5zM269.42 383.46h1.5v1.5h-1.5zM259.88 383.94h1.5v1.5h-1.5zM272.44 376.17h1.5v1.5h-1.5zM267.81 379.44h1.5v1.5h-1.5zM258.44 372.7h1.5v1.5h-1.5zM261.5 379.38h1.5v1.5h-1.5zM257.3 385.18h1.5v1.5h-1.5zM270.37 380.61h1.5v1.5h-1.5zM269.51 372.07h1.5v1.5h-1.5zM241.79 392.24h1.5v1.5h-1.5zM272.96 377.58h1.5v1.5h-1.5zM268.11 382.26h1.5v1.5h-1.5zM269.35 371.9h1.5v1.5h-1.5zM266.2 379.25h1.5v1.5h-1.5zM239.22 380.62h1.5v1.5h-1.5zM255.9 382.7h1.5v1.5h-1.5zM256.73 391.75h1.5v1.5h-1.5zM268.03 381.25h1.5v1.5h-1.5zM271.93 369.19h1.5v1.5h-1.5zM266.26 376.79h1.5v1.5h-1.5zM243.45 374.46h1.5v1.5h-1.5zM269.8 372.39h1.5v1.5h-1.5zM233.86 386.49h1.5v1.5h-1.5zM230.69 384.38h1.5v1.5h-1.5zM274.99 380.49h1.5v1.5h-1.5zM224.84 391.63h1.5v1.5h-1.5zM239.17 381.36h1.5v1.5h-1.5zM263.39 372.67h1.5v1.5h-1.5zM266.81 371.75h1.5v1.5h-1.5zM255.53 372.91h1.5v1.5h-1.5zM244.46 368.8h1.5v1.5h-1.5zM253.84 387.59h1.5v1.5h-1.5zM264.04 388.07h1.5v1.5h-1.5zM263.09 384.58h1.5v1.5h-1.5zM250.07 385.88h1.5v1.5h-1.5zM255.32 372.95h1.5v1.5h-1.5zM264.63 375.72h1.5v1.5h-1.5zM267.59 373.61h1.5v1.5h-1.5zM273.57 378.54h1.5v1.5h-1.5zM268.68 367.75h1.5v1.5h-1.5zM261.49 379.53h1.5v1.5h-1.5zM258.75 390.81h1.5v1.5h-1.5zM268.16 374.36h1.5v1.5h-1.5zM269.31 378.08h1.5v1.5h-1.5zM262.47 384.44h1.5v1.5h-1.5zM264.5 383.17h1.5v1.5h-1.5zM267.75 381.99h1.5v1.5h-1.5zM272.13 376.66h1.5v1.5h-1.5zM265.3 382.03h1.5v1.5h-1.5zM268.04 372.36h1.5v1.5h-1.5zM266.94 382.44h1.5v1.5h-1.5zM256.26 386.64h1.5v1.5h-1.5zM268.2 368.67h1.5v1.5h-1.5zM263.17 375.7h1.5v1.5h-1.5zM265.1 370.15h1.5v1.5h-1.5zM271.5 371.1h1.5v1.5h-1.5zM266.64 380.39h1.5v1.5h-1.5zM265.42 379.99h1.5v1.5h-1.5zM271.62 375.63h1.5v1.5h-1.5zM266.25 371.51h1.5v1.5h-1.5zM261.04 389.92h1.5v1.5h-1.5zM264.08 383.88h1.5v1.5h-1.5zM268.19 390.99h1.5v1.5h-1.5zM272.88 366.04h1.5v1.5h-1.5zM261.66 392.02h1.5v1.5h-1.5zM266.45 371.58h1.5v1.5h-1.5zM270.94 380.03h1.5v1.5h-1.5zM244.31 383.06h1.5v1.5h-1.5zM248.68 375.31h1.5v1.5h-1.5zM259.03 378.28h1.5v1.5h-1.5zM264.51 382.17h1.5v1.5h-1.5zM265.01 370.44h1.5v1.5h-1.5zM267.54 381.85h1.5v1.5h-1.5zM266.92 376.01h1.5v1.5h-1.5zM267.74 372.84h1.5v1.5h-1.5zM274.7 370.49h1.5v1.5h-1.5z" fill="#ec6a9c" fill-opacity="0.5"/>
<path d="M229.63 387.27h1.5v1.5h-1.5zM253.05 381.58h1.5v1.5h-1.5zM265.35 383.36h1.5v1.5h-1.5zM267.66 370.02h1.5v1.5h-1.5zM269.01 369.88h1.5v1.5h-1.5zM261.04 381.35h1.5v1.5h-1.5zM267.5 374.12h1.5v1.5h-1.5zM267 372.4h1.5v1.5h-1.5zM268.07 376.06h1.5v1.5h-1.5zM268.16 380.4h1.5v1.5h-1.5zM257.36 383.88h1.5v1.5h-1.5zM272.76 377.24h1.5v1.5h-1.5zM258.67 374.24h1.5v1.5h-1.5zM247.38 383.24h1.5v1.5h-1.5zM268.19 376.1h1.5v1.5h-1.5zM266.99 378.9h1.5v1.5h-1.5zM266.63 378.37h1.5v1.5h-1.5zM258.22 377.5h1.5v1.5h-1.5zM265.63 385.12h1.5v1.5h-1.5zM262.65 389.43h1.5v1.5h-1.5zM264.22 372.79h1.5v1.5h-1.5zM246.42 376.09h1.5v1.5h-1.5zM266.11 380.82h1.5v1.5h-1.5zM260.25 377.56h1.5v1.5h-1.5zM269.69 378.78h1.5v1.5h-1.5zM265.98 382.87h1.5v1.5h-1.5zM265.09 375.34h1.5v1.5h-1.5zM264.71 378.35h1.5v1.5h-1.5zM264.76 367.06h1.5v1.5h-1.5zM271.53 371.52h1.5v1.5h-1.5zM268.48 373.64h1.5v1.5h-1.5zM263.61 378.12h1.5v1.5h-1.5zM258.87 379.18h1.5v1.5h-1.5zM268.25 373.53h1.5v1.5h-1.5zM269.06 372.34h1.5v1.5h-1.5zM273 362.3h1.5v1.5h-1.5zM275.13 369.19h1.5v1.5h-1.5zM232.38 378.73h1.5v1.5h-1.5zM268.17 383.74h1.5v1.5h-1.5zM254.17 386.39h1.5v1.5h-1.5zM267.07 378.64h1.5v1.5h-1.5zM265.05 375.23h1.5v1.5h-1.5zM268.15 371.74h1.5v1.5h-1.5zM245.22 384.33h1.5v1.5h-1.5zM252.19 389.58h1.5v1.5h-1.5zM271.15 368.2h1.5v1.5h-1.5zM226.01 384.74h1.5v1.5h-1.5zM254.5 382.51h1.5v1.5h-1.5zM263.47 376.97h1.5v1.5h-1.5zM259.96 372.01h1.5v1.5h-1.5zM275.7 369h1.5v1.5h-1.5zM264.55 375.91h1.5v1.5h-1.5zM265.39 379.92h1.5v1.5h-1.5zM252.75 396.25h1.5v1.5h-1.5zM262.72 378.88h1.5v1.5h-1.5zM262.34 375.86h1.5v1.5h-1.5zM255.44 389.04h1.5v1.5h-1.5zM269.18 375.19h1.5v1.5h-1.5zM282.82 380.58h1.5v1.5h-1.5zM239.45 386.87h1.5v1.5h-1.5zM269.02 379.48h1.5v1.5h-1.5zM280.53 370.03h1.5v1.5h-1.5zM264.75 393.25h1.5v1.5h-1.5zM262.33 374.62h1.5v1.5h-1.5zM264.72 376.3h1.5v1.5h-1.5zM253.13 382.34h1.5v1.5h-1.5zM260.38 379.65h1.5v1.5h-1.5zM264.15 381.27h1.5v1.5h-1.5zM273.62 369.9h1.5v1.5h-1.5zM264.13 378.94h1.5v1.5h-1.5zM256.87 377.3h1.5v1.5h-1.5zM265.15 379.71h1.5v1.5h-1.5zM271.25 370.37h1.5v1.5h-1.5zM263.9 375.54h1.5v1.5h-1.5zM273.96 372.05h1.5v1.5h-1.5zM267.79 371.96h1.5v1.5h-1.5zM237.98 379.5h1.5v1.5h-1.5zM250.65 384.39h1.5v1.5h-1.5zM267.77 385.47h1.5v1.5h-1.5zM262.02 374.64h1.5v1.5h-1.5zM262.92 369.94h1.5v1.5h-1.5zM267.4 379.14h1.5v1.5h-1.5zM266.15 381.99h1.5v1.5h-1.5zM261.47 374.94h1.5v1.5h-1.5zM261.14 373.1h1.5v1.5h-1.5zM274.74 372.93h1.5v1.5h-1.5zM256.78 377.95h1.5v1.5h-1.5zM261.48 379.47h1.5v1.5h-1.5zM240.45 388.94h1.5v1.5h-1.5zM259.72 382.14h1.5v1.5h-1.5zM259.63 387h1.5v1.5h-1.5zM258.56 381.47h1.5v1.5h-1.5zM264.43 380.45h1.5v1.5h-1.5zM241.23 381.56h1.5v1.5h-1.5zM264.61 368.91h1.5v1.5h-1.5zM247.74 379.79h1.5v1.5h-1.5zM278.43 379.55h1.5v1.5h-1.5zM265.96 391.14h1.5v1.5h-1.5zM271.56 391.61h1.5v1.5h-1.5zM260.2 380.44h1.5v1.5h-1.5z" fill="#ec6a9c" fill-opacity="0.5"/>
<path d="M258.61 374.33h1.5v1.5h-1.5zM264.47 381.61h1.5v1.5h-1.5zM262.29 365.9h1.5v1.5h-1.5zM267.89 378.12h1.5v1.5h-1.5zM265.15 382.66h1.5v1.5h-1.5zM268.72 378.26h1.5v1.5h-1.5zM259.33 384.44h1.5v1.5h-1.5zM257.77 379.99h1.5v1.5h-1.5zM267 378.27h1.5v1.5h-1.5zM262.04 385.75h1.5v1.5h-1.5zM273.33 373.38h1.5v1.5h-1.5zM239.58 382.67h1.5v1.5h-1.5zM269.64 377.9h1.5v1.5h-1.5zM246.58 378.16h1.5v1.5h-1.5zM267.81 376.74h1.5v1.5h-1.5zM275.82 382.91h1.5v1.5h-1.5zM261.52 379.97h1.5v1.5h-1.5zM272.33 377.83h1.5v1.5h-1.5zM256.61 379.08h1.5v1.5h-1.5zM232.1 376.22h1.5v1.5h-1.5zM263.06 379.3h1.5v1.5h-1.5zM247.04 368.48h1.5v1.5h-1.5zM268.1 377.75h1.5v1.5h-1.5zM266.66 372.83h1.5v1.5h-1.5zM265.26 382.78h1.5v1.5h-1.5zM263.36 378.51h1.5v1.5h-1.5zM261.69 379.73h1.5v1.5h-1.5zM274.92 374.41h1.5v1.5h-1.5zM241.19 398.32h1.5v1.5h-1.5zM263.97 385.15h1.5v1.5h-1.5zM269.93 374.79h1.5v1.5h-1.5zM266.1 373.22h1.5v1.5h-1.5zM239.35 358.55h1.5v1.5h-1.5zM280.11 372.01h1.5v1.5h-1.5zM257.25 401.25h1.5v1.5h-1.5zM263.26 386.4h1.5v1.5h-1.5zM264.67 379.96h1.5v1.5h-1.5zM262.59 373.06h1.5v1.5h-1.5zM260.73 381.11h1.5v1.5h-1.5zM269.76 372.8h1.5v1.5h-1.5zM264.5 365.35h1.5v1.5h-1.5zM266.88 377.49h1.5v1.5h-1.5zM258.87 379.2h1.5v1.5h-1.5zM256.16 384.59h1.5v1.5h-1.5zM264.45 387.29h1.5v1.5h-1.5zM267.73 366.35h1.5v1.5h-1.5zM232.25 409.25h1.5v1.5h-1.5zM266.08 377.42h1.5v1.5h-1.5zM276.4 383.23h1.5v1.5h-1.5zM269.5 379.63h1.5v1.5h-1.5zM243.93 385.32h1.5v1.5h-1.5zM264.46 378.53h1.5v1.5h-1.5zM257.89 381.29h1.5v1.5h-1.5zM268.71 378.78h1.5v1.5h-1.5zM265.54 380.39h1.5v1.5h-1.5zM258.73 395.87h1.5v1.5h-1.5zM267.25 404.25h1.5v1.5h-1.5zM272.94 369.52h1.5v1.5h-1.5zM267.82 375.31h1.5v1.5h-1.5zM249.01 388.84h1.5v1.5h-1.5zM265.71 378.65h1.5v1.5h-1.5zM262.32 385.26h1.5v1.5h-1.5zM271.4 379.63h1.5v1.5h-1.5zM263.65 377.59h1.5v1.5h-1.5zM270.61 369.72h1.5v1.5h-1.5zM264.34 380h1.5v1.5h-1.5zM272.44 379.58h1.5v1.5h-1.5zM269.02 377.76h1.5v1.5h-1.5zM264.65 377.57h1.5v1.5h-1.5zM254.09 377.69h1.5v1.5h-1.5zM257.67 378.43h1.5v1.5h-1.5zM259.41 386.27h1.5v1.5h-1.5zM266.48 376.68h1.5v1.5h-1.5zM266.7 375.47h1.5v1.5h-1.5zM272.7 369.3h1.5v1.5h-1.5zM263.16 371.01h1.5v1.5h-1.5zM258.57 382.1h1.5v1.5h-1.5zM271.9 376.1h1.5v1.5h-1.5zM264.06 379.7h1.5v1.5h-1.5zM258.11 382.07h1.5v1.5h-1.5zM271.26 375.24h1.5v1.5h-1.5zM263.88 380.2h1.5v1.5h-1.5zM269.39 370.05h1.5v1.5h-1.5zM262.92 388.07h1.5v1.5h-1.5zM271.78 373.27h1.5v1.5h-1.5zM269.01 369.92h1.5v1.5h-1.5zM266.8 376.09h1.5v1.5h-1.5zM273.76 372.28h1.5v1.5h-1.5zM260.75 384.74h1.5v1.5h-1.5zM259.1 380.2h1.5v1.5h-1.5zM264.05 378.36h1.5v1.5h-1.5zM266.65 374.88h1.5v1.5h-1.5zM258.02 375.17h1.5v1.5h-1.5zM262.6 371.24h1.5v1.5h-1.5zM267.58 385.04h1.5v1.5h-1.5zM266.07 380.83h1.5v1.5h-1.5zM272.7 378.99h1.5v1.5h-1.5zM252.16 383.13h1.5v1.5h-1.5zM267.43 377.12h1.5v1.5h-1.5zM269.04 377.66h1.5v1.5h-1.5z" fill="#ec6a9c" fill-opacity="0.5"/>
<path d="M225.8 392.4 L228.88 391.2 L231.95 390 L235.03 388.79 L238.11 387.57 L241.18 386.35 L244.26 385.12 L247.34 383.89 L250.41 382.66 L253.49 381.41 L256.57 380.17 L259.64 378.91 L262.72 377.66 L265.8 376.39 L268.87 375.12 L271.95 373.85 L275.03 372.56 L278.1 371.26 L281.18 369.94 L284.26 368.61 L287.33 367.26 L290.41 365.89 L293.49 364.5 L296.56 363.1 L299.64 361.68 L302.72 360.24 L305.79 358.78 L308.87 357.31 L311.95 355.83 L315.02 354.32 L318.1 352.8 L318.1 357.8 L315.02 358.83 L311.95 359.88 L308.87 360.95 L305.79 362.03 L302.72 363.13 L299.64 364.24 L296.56 365.38 L293.49 366.53 L290.41 367.69 L287.33 368.88 L284.26 370.08 L281.18 371.3 L278.1 372.53 L275.03 373.78 L271.95 375.05 L268.87 376.33 L265.8 377.61 L262.72 378.9 L259.64 380.2 L256.57 381.5 L253.49 382.81 L250.41 384.12 L247.34 385.43 L244.26 386.76 L241.18 388.08 L238.11 389.42 L235.03 390.75 L231.95 392.1 L228.88 393.45 L225.8 394.8Z" fill="#a0a0a0" fill-opacity="0.6"/>
<line x1="225.8" y1="393.6" x2="318.1" y2="355.3" stroke="#151515" stroke-width="0.85" />
<path d="M221 314 V417.6 H324.1" fill="none" stroke="#000" stroke-width="1.3"/>
<line x1="218.4" y1="316.8" x2="221" y2="316.8" stroke="#000" stroke-width="1" />
<text font-size="8.6" font-weight="bold" text-anchor="end" stroke="#000" stroke-width="0.18" transform="translate(217.4 319.6) scale(1 1.12)">26</text>
<line x1="218.4" y1="338.2" x2="221" y2="338.2" stroke="#000" stroke-width="1" />
<text font-size="8.6" font-weight="bold" text-anchor="end" stroke="#000" stroke-width="0.18" transform="translate(217.4 341) scale(1 1.12)">24</text>
<line x1="218.4" y1="359.6" x2="221" y2="359.6" stroke="#000" stroke-width="1" />
<text font-size="8.6" font-weight="bold" text-anchor="end" stroke="#000" stroke-width="0.18" transform="translate(217.4 362.4) scale(1 1.12)">22</text>
<line x1="218.4" y1="381" x2="221" y2="381" stroke="#000" stroke-width="1" />
<text font-size="8.6" font-weight="bold" text-anchor="end" stroke="#000" stroke-width="0.18" transform="translate(217.4 383.8) scale(1 1.12)">20</text>
<line x1="218.4" y1="402.4" x2="221" y2="402.4" stroke="#000" stroke-width="1" />
<text font-size="8.6" font-weight="bold" text-anchor="end" stroke="#000" stroke-width="0.18" transform="translate(217.4 405.2) scale(1 1.12)">18</text>
<text font-size="8.6" font-weight="bold" text-anchor="middle" stroke="#000" stroke-width="0.18" transform="translate(232.6 426.8) scale(1 1.12)">5</text>
<text font-size="8.6" font-weight="bold" text-anchor="middle" stroke="#000" stroke-width="0.18" transform="translate(257.8 426.8) scale(1 1.12)">10</text>
<text font-size="8.6" font-weight="bold" text-anchor="middle" stroke="#000" stroke-width="0.18" transform="translate(284.7 426.8) scale(1 1.12)">15</text>
<text font-size="8.6" font-weight="bold" text-anchor="middle" stroke="#000" stroke-width="0.18" transform="translate(312 426.8) scale(1 1.12)">20</text>
<text font-size="5.6" fill="#1a1a1a" transform="translate(225.7 325.4) scale(1 1.12)"><tspan font-style="italic">R</tspan> = 0.52, <tspan font-style="italic">p</tspan> &lt; 2.2e-16</text>
<text font-size="8.4" font-weight="bold" text-anchor="middle" stroke="#000" stroke-width="0.18" transform="translate(204.4 365) scale(0.89 1) rotate(-90)">Log<tspan font-size="5.6" dy="1.8">2</tspan><tspan dy="-1.8"> H3K36me3 signal (WT)</tspan></text>
<text font-size="8.4" font-weight="bold" stroke="#000" stroke-width="0.18" transform="translate(203.4 437.2) scale(1 1.12)">Log<tspan font-size="5.6" dy="1.8">2</tspan><tspan dy="-1.8"> FLAG-SMYD5 signal (<tspan font-style="italic">Smyd5</tspan> KI)</tspan></text>
<text font-size="21.5" font-weight="bold" stroke="#000" stroke-width="0.18" transform="translate(352.8 297.9) scale(0.9 1)">i</text>
<text font-size="8.2" font-weight="bold" text-anchor="middle" stroke="#000" stroke-width="0.18" transform="translate(443.8 313.4) scale(1 1.12)"><tspan font-style="italic">Smyd5</tspan> O/E</text>
<path d="M454.4 356.71h1.5v1.5h-1.5zM449.66 338.98h1.5v1.5h-1.5zM442.78 349.53h1.5v1.5h-1.5zM441.28 356.87h1.5v1.5h-1.5zM453.15 359.04h1.5v1.5h-1.5zM400.25 366.75h1.5v1.5h-1.5zM454.29 342.87h1.5v1.5h-1.5zM427.39 368.61h1.5v1.5h-1.5zM452.14 353.58h1.5v1.5h-1.5zM445.81 355.34h1.5v1.5h-1.5zM437.64 360.94h1.5v1.5h-1.5zM434.26 376.11h1.5v1.5h-1.5zM446.71 335.39h1.5v1.5h-1.5zM444.44 361.83h1.5v1.5h-1.5zM442.1 352.99h1.5v1.5h-1.5zM446.14 352.22h1.5v1.5h-1.5zM451.94 357.05h1.5v1.5h-1.5zM446.36 337.74h1.5v1.5h-1.5zM440.49 356.45h1.5v1.5h-1.5zM452.94 348.98h1.5v1.5h-1.5zM443.02 340.39h1.5v1.5h-1.5zM451.64 351.62h1.5v1.5h-1.5zM448.51 351.58h1.5v1.5h-1.5zM456.2 349.09h1.5v1.5h-1.5zM450.57 361.07h1.5v1.5h-1.5zM453.7 348.11h1.5v1.5h-1.5zM455.29 346.08h1.5v1.5h-1.5zM429.36 363.91h1.5v1.5h-1.5zM442.07 373.3h1.5v1.5h-1.5zM445.13 372.13h1.5v1.5h-1.5zM451.89 345.07h1.5v1.5h-1.5zM447.78 351.14h1.5v1.5h-1.5zM443.53 361.53h1.5v1.5h-1.5zM441.85 342.42h1.5v1.5h-1.5zM445.69 350.76h1.5v1.5h-1.5zM432.84 374.3h1.5v1.5h-1.5zM432.23 357.4h1.5v1.5h-1.5zM433.5 389.81h1.5v1.5h-1.5zM441.62 351.03h1.5v1.5h-1.5zM428.78 360.91h1.5v1.5h-1.5zM445.28 355.12h1.5v1.5h-1.5zM428.64 354.38h1.5v1.5h-1.5zM448.78 359.88h1.5v1.5h-1.5zM444.85 357.34h1.5v1.5h-1.5zM446.23 352.93h1.5v1.5h-1.5zM457.14 345.21h1.5v1.5h-1.5zM447.76 360.8h1.5v1.5h-1.5zM415.84 366.25h1.5v1.5h-1.5zM436.73 370.03h1.5v1.5h-1.5zM449.17 350.86h1.5v1.5h-1.5zM447.15 375.58h1.5v1.5h-1.5zM452.29 345.65h1.5v1.5h-1.5zM449.56 349.31h1.5v1.5h-1.5zM441.39 358.3h1.5v1.5h-1.5zM453.84 331.04h1.5v1.5h-1.5zM443.54 360.95h1.5v1.5h-1.5zM442.42 359.9h1.5v1.5h-1.5zM442.64 346.43h1.5v1.5h-1.5zM449.1 350.18h1.5v1.5h-1.5zM444.89 349.24h1.5v1.5h-1.5zM450.61 354.88h1.5v1.5h-1.5zM450.86 347.79h1.5v1.5h-1.5zM449.46 357.65h1.5v1.5h-1.5zM447.09 353.08h1.5v1.5h-1.5zM429.6 351.43h1.5v1.5h-1.5zM441.53 364.89h1.5v1.5h-1.5zM444.37 380.66h1.5v1.5h-1.5zM450.32 346.93h1.5v1.5h-1.5zM455.1 344.41h1.5v1.5h-1.5zM445.98 340.6h1.5v1.5h-1.5zM435.82 355.73h1.5v1.5h-1.5zM451.4 325.01h1.5v1.5h-1.5zM448.35 350.09h1.5v1.5h-1.5zM448.23 339.22h1.5v1.5h-1.5zM450.59 347.46h1.5v1.5h-1.5zM448.07 351.99h1.5v1.5h-1.5zM446.01 340.46h1.5v1.5h-1.5zM424.14 343.69h1.5v1.5h-1.5zM452.4 334.17h1.5v1.5h-1.5zM443.73 351.15h1.5v1.5h-1.5zM447.42 342.02h1.5v1.5h-1.5zM447.29 359.64h1.5v1.5h-1.5zM439.86 356.21h1.5v1.5h-1.5zM444.36 356.83h1.5v1.5h-1.5zM454.37 364.77h1.5v1.5h-1.5zM455.36 348.54h1.5v1.5h-1.5zM448.09 362.28h1.5v1.5h-1.5zM446.88 374.91h1.5v1.5h-1.5zM442.9 356.42h1.5v1.5h-1.5zM439.74 347.84h1.5v1.5h-1.5zM447.33 359.85h1.5v1.5h-1.5zM423.88 376.72h1.5v1.5h-1.5zM425.53 353.81h1.5v1.5h-1.5zM453.84 344.05h1.5v1.5h-1.5zM452.7 352.35h1.5v1.5h-1.5zM428.02 376.33h1.5v1.5h-1.5zM452.97 351.91h1.5v1.5h-1.5zM447.62 355.93h1.5v1.5h-1.5zM444.4 356.91h1.5v1.5h-1.5zM446.68 358.08h1.5v1.5h-1.5zM442.09 354h1.5v1.5h-1.5zM453.99 353.37h1.5v1.5h-1.5zM441.6 346h1.5v1.5h-1.5zM444.22 340.13h1.5v1.5h-1.5zM450.07 363.85h1.5v1.5h-1.5zM444.86 353.35h1.5v1.5h-1.5zM448.44 359.08h1.5v1.5h-1.5zM442.59 336.1h1.5v1.5h-1.5zM442.98 350.49h1.5v1.5h-1.5zM440.22 369.31h1.5v1.5h-1.5zM448.47 353.15h1.5v1.5h-1.5zM431 364.85h1.5v1.5h-1.5zM446.57 344.64h1.5v1.5h-1.5zM442.48 352h1.5v1.5h-1.5zM445.32 360.65h1.5v1.5h-1.5zM426.54 369.49h1.5v1.5h-1.5zM449.11 334.58h1.5v1.5h-1.5zM443.87 363.02h1.5v1.5h-1.5z" fill="#ee3a2f" fill-opacity="0.5"/>
<path d="M450.28 358.74h1.5v1.5h-1.5zM445.47 360.87h1.5v1.5h-1.5zM450.33 350.73h1.5v1.5h-1.5zM454.19 349.8h1.5v1.5h-1.5zM442.59 342.12h1.5v1.5h-1.5zM425.37 361.61h1.5v1.5h-1.5zM442.82 343.2h1.5v1.5h-1.5zM448.4 354.99h1.5v1.5h-1.5zM419.21 381.46h1.5v1.5h-1.5zM444.38 360.54h1.5v1.5h-1.5zM452.76 344.1h1.5v1.5h-1.5zM448.97 344.97h1.5v1.5h-1.5zM440.06 359.21h1.5v1.5h-1.5zM447.28 352.99h1.5v1.5h-1.5zM428 353.48h1.5v1.5h-1.5zM426.13 401.89h1.5v1.5h-1.5zM424.83 375.89h1.5v1.5h-1.5zM424.62 355.31h1.5v1.5h-1.5zM441.59 366.98h1.5v1.5h-1.5zM451.01 351.47h1.5v1.5h-1.5zM446.99 350.45h1.5v1.5h-1.5zM438.83 347.44h1.5v1.5h-1.5zM455.38 345.84h1.5v1.5h-1.5zM428.74 386.46h1.5v1.5h-1.5zM448.31 372.72h1.5v1.5h-1.5zM445.99 352.45h1.5v1.5h-1.5zM452.79 352.33h1.5v1.5h-1.5zM434.6 356.17h1.5v1.5h-1.5zM452.08 348.14h1.5v1.5h-1.5zM450.23 352.42h1.5v1.5h-1.5zM449.59 350.77h1.5v1.5h-1.5zM451.69 348.29h1.5v1.5h-1.5zM445.66 352.99h1.5v1.5h-1.5zM427.45 371.28h1.5v1.5h-1.5zM454.77 380.29h1.5v1.5h-1.5zM447.97 359.23h1.5v1.5h-1.5zM449.34 336.5h1.5v1.5h-1.5zM440.58 365.5h1.5v1.5h-1.5zM440.88 343.23h1.5v1.5h-1.5zM445.13 354.25h1.5v1.5h-1.5zM443.91 348.99h1.5v1.5h-1.5zM437.22 347.33h1.5v1.5h-1.5zM448.71 341.21h1.5v1.5h-1.5zM445.11 364.68h1.5v1.5h-1.5zM444.07 354.46h1.5v1.5h-1.5zM454.59 345.12h1.5v1.5h-1.5zM439.6 356.22h1.5v1.5h-1.5zM431.93 362.02h1.5v1.5h-1.5zM450.25 346.04h1.5v1.5h-1.5zM449.23 354.79h1.5v1.5h-1.5zM443.05 339.59h1.5v1.5h-1.5zM427.37 358.75h1.5v1.5h-1.5zM450.6 354.77h1.5v1.5h-1.5zM444.33 369.98h1.5v1.5h-1.5zM447.64 344.01h1.5v1.5h-1.5zM430.59 368.69h1.5v1.5h-1.5zM446.64 350.28h1.5v1.5h-1.5zM450.58 355.24h1.5v1.5h-1.5zM449.19 357.34h1.5v1.5h-1.5zM441.18 365.74h1.5v1.5h-1.5zM449.59 355.1h1.5v1.5h-1.5zM449.19 341.41h1.5v1.5h-1.5zM444.35 408.75h1.5v1.5h-1.5zM443.8 368.22h1.5v1.5h-1.5zM426.51 360.64h1.5v1.5h-1.5zM428.57 359.87h1.5v1.5h-1.5zM446.44 367.31h1.5v1.5h-1.5zM436.65 365.01h1.5v1.5h-1.5zM447.04 357.03h1.5v1.5h-1.5zM450.17 346.45h1.5v1.5h-1.5zM425.71 370.41h1.5v1.5h-1.5zM455.7 346.36h1.5v1.5h-1.5zM445.19 342.79h1.5v1.5h-1.5zM454.4 340.72h1.5v1.5h-1.5zM441.52 354.1h1.5v1.5h-1.5zM447.65 334h1.5v1.5h-1.5zM444.21 362.73h1.5v1.5h-1.5zM436.88 355.9h1.5v1.5h-1.5zM441.7 363.9h1.5v1.5h-1.5zM452.42 357.72h1.5v1.5h-1.5zM421.79 353.12h1.5v1.5h-1.5zM447.41 356.33h1.5v1.5h-1.5zM446.17 356.07h1.5v1.5h-1.5zM443.88 354.92h1.5v1.5h-1.5zM446.41 357.44h1.5v1.5h-1.5zM446.42 373.26h1.5v1.5h-1.5zM445.1 349.07h1.5v1.5h-1.5zM455.99 333.72h1.5v1.5h-1.5zM420.01 370.59h1.5v1.5h-1.5zM433.28 363.66h1.5v1.5h-1.5zM435.81 355.36h1.5v1.5h-1.5zM443.97 367.58h1.5v1.5h-1.5zM420.42 360.95h1.5v1.5h-1.5zM440.64 369.51h1.5v1.5h-1.5zM448.43 361.8h1.5v1.5h-1.5zM433.33 342.17h1.5v1.5h-1.5zM455.45 345.97h1.5v1.5h-1.5zM447.64 334.3h1.5v1.5h-1.5zM435.24 354.78h1.5v1.5h-1.5zM443.83 349.51h1.5v1.5h-1.5zM454.17 344.35h1.5v1.5h-1.5zM447.58 358.48h1.5v1.5h-1.5zM439.63 363.71h1.5v1.5h-1.5zM451.46 352.58h1.5v1.5h-1.5zM440.41 341.02h1.5v1.5h-1.5zM443.27 347.02h1.5v1.5h-1.5zM451.16 347.27h1.5v1.5h-1.5zM447.07 356.08h1.5v1.5h-1.5zM450.2 352.98h1.5v1.5h-1.5zM452.12 358.67h1.5v1.5h-1.5zM447.01 360.24h1.5v1.5h-1.5zM444.09 346.53h1.5v1.5h-1.5zM450.89 353.12h1.5v1.5h-1.5zM451.99 370.07h1.5v1.5h-1.5zM457.92 350.64h1.5v1.5h-1.5zM448.51 343.62h1.5v1.5h-1.5zM451.21 347.35h1.5v1.5h-1.5zM451.51 363.83h1.5v1.5h-1.5z" fill="#ee3a2f" fill-opacity="0.5"/>
<path d="M455.24 329.51h1.5v1.5h-1.5zM447.59 364.51h1.5v1.5h-1.5zM446.38 344.87h1.5v1.5h-1.5zM444.4 353.29h1.5v1.5h-1.5zM444.97 357.88h1.5v1.5h-1.5zM443.33 350.82h1.5v1.5h-1.5zM433.32 364.78h1.5v1.5h-1.5zM447.35 358.75h1.5v1.5h-1.5zM421.11 362.52h1.5v1.5h-1.5zM414.57 356.55h1.5v1.5h-1.5zM444.98 360.52h1.5v1.5h-1.5zM450.32 346.64h1.5v1.5h-1.5zM436.72 346.13h1.5v1.5h-1.5zM442.67 363.68h1.5v1.5h-1.5zM447.68 358h1.5v1.5h-1.5zM421.21 367.35h1.5v1.5h-1.5zM425.52 349.84h1.5v1.5h-1.5zM442.3 350.07h1.5v1.5h-1.5zM451.83 360.41h1.5v1.5h-1.5zM439.21 355.56h1.5v1.5h-1.5zM448.02 355.19h1.5v1.5h-1.5zM428.28 375.35h1.5v1.5h-1.5zM444.68 343.62h1.5v1.5h-1.5zM417.37 370.77h1.5v1.5h-1.5zM449.52 337.01h1.5v1.5h-1.5zM450.57 368.4h1.5v1.5h-1.5zM434.78 362.23h1.5v1.5h-1.5zM446.09 341.34h1.5v1.5h-1.5zM418 361.82h1.5v1.5h-1.5zM449.78 364.05h1.5v1.5h-1.5zM444.79 352.93h1.5v1.5h-1.5zM452.61 352.14h1.5v1.5h-1.5zM431.89 377.94h1.5v1.5h-1.5zM440.62 364.44h1.5v1.5h-1.5zM445.69 345.22h1.5v1.5h-1.5zM433.51 350.32h1.5v1.5h-1.5zM445.86 349.45h1.5v1.5h-1.5zM457.8 338.03h1.5v1.5h-1.5zM450.73 350.65h1.5v1.5h-1.5zM448.9 351.02h1.5v1.5h-1.5zM439.31 363.58h1.5v1.5h-1.5zM435.72 373.84h1.5v1.5h-1.5zM450.05 350.15h1.5v1.5h-1.5zM438.03 355.42h1.5v1.5h-1.5zM454.08 358.49h1.5v1.5h-1.5zM411.13 369.19h1.5v1.5h-1.5zM446.77 351.74h1.5v1.5h-1.5zM442.28 364.61h1.5v1.5h-1.5zM448.03 357.93h1.5v1.5h-1.5zM450.23 355.27h1.5v1.5h-1.5zM441.85 362.84h1.5v1.5h-1.5zM440.54 368.14h1.5v1.5h-1.5zM435.38 348.02h1.5v1.5h-1.5zM451.46 339.47h1.5v1.5h-1.5zM444.91 348.25h1.5v1.5h-1.5zM456.49 349.5h1.5v1.5h-1.5zM445.67 367.77h1.5v1.5h-1.5zM417.52 362.65h1.5v1.5h-1.5zM426.16 352.29h1.5v1.5h-1.5zM441.48 344.43h1.5v1.5h-1.5zM441.65 348.35h1.5v1.5h-1.5zM428.86 348.67h1.5v1.5h-1.5zM455.69 365.5h1.5v1.5h-1.5zM445.55 357.85h1.5v1.5h-1.5zM442.75 353.5h1.5v1.5h-1.5zM434.45 371.09h1.5v1.5h-1.5zM449.09 367.47h1.5v1.5h-1.5zM448.07 345.16h1.5v1.5h-1.5zM456.68 336.13h1.5v1.5h-1.5zM449.26 347.24h1.5v1.5h-1.5zM411.47 367.05h1.5v1.5h-1.5zM450.73 353.47h1.5v1.5h-1.5zM450.65 326.43h1.5v1.5h-1.5zM451.14 360.75h1.5v1.5h-1.5zM445.32 339.34h1.5v1.5h-1.5zM450.55 341.47h1.5v1.5h-1.5zM443.81 359.62h1.5v1.5h-1.5zM445.65 364.39h1.5v1.5h-1.5zM438.78 357.69h1.5v1.5h-1.5zM444.92 354.03h1.5v1.5h-1.5zM449.67 359.02h1.5v1.5h-1.5zM445.71 349.49h1.5v1.5h-1.5zM442.93 362.86h1.5v1.5h-1.5zM448.69 351.25h1.5v1.5h-1.5zM449.45 354.94h1.5v1.5h-1.5zM450.8 346.53h1.5v1.5h-1.5zM448.16 346.29h1.5v1.5h-1.5zM444.28 366.04h1.5v1.5h-1.5zM451.51 353.32h1.5v1.5h-1.5zM448.75 353.45h1.5v1.5h-1.5zM450.15 344.17h1.5v1.5h-1.5zM427.12 370.86h1.5v1.5h-1.5zM450.09 345.95h1.5v1.5h-1.5zM447.62 340.33h1.5v1.5h-1.5zM443.72 350.31h1.5v1.5h-1.5zM444.62 360.63h1.5v1.5h-1.5zM449.87 370.17h1.5v1.5h-1.5zM445.07 355.87h1.5v1.5h-1.5zM445.28 353.38h1.5v1.5h-1.5zM445.01 359.01h1.5v1.5h-1.5zM443.79 349.59h1.5v1.5h-1.5zM442.31 355.84h1.5v1.5h-1.5zM447.21 347.62h1.5v1.5h-1.5zM421.37 343.9h1.5v1.5h-1.5zM450.3 338.33h1.5v1.5h-1.5zM430.44 347.22h1.5v1.5h-1.5zM441.7 363.82h1.5v1.5h-1.5zM416.35 356.28h1.5v1.5h-1.5zM447.02 339.07h1.5v1.5h-1.5zM425.05 385.62h1.5v1.5h-1.5zM443.75 353.58h1.5v1.5h-1.5zM449.74 362.95h1.5v1.5h-1.5zM446.89 359.51h1.5v1.5h-1.5zM438.6 356.94h1.5v1.5h-1.5zM418.29 340.92h1.5v1.5h-1.5zM445.9 359.5h1.5v1.5h-1.5zM439.22 377.37h1.5v1.5h-1.5zM439.46 369.33h1.5v1.5h-1.5z" fill="#ee3a2f" fill-opacity="0.5"/>
<path d="M450.72 356.24h1.5v1.5h-1.5zM444.26 344.53h1.5v1.5h-1.5zM445.27 365.96h1.5v1.5h-1.5zM462 359.71h1.5v1.5h-1.5zM452.89 344.91h1.5v1.5h-1.5zM440.23 359.14h1.5v1.5h-1.5zM448.93 339.55h1.5v1.5h-1.5zM418.45 372.05h1.5v1.5h-1.5zM433.33 390.86h1.5v1.5h-1.5zM419.83 361.01h1.5v1.5h-1.5zM454.6 333.98h1.5v1.5h-1.5zM431.71 348.06h1.5v1.5h-1.5zM444.3 355.46h1.5v1.5h-1.5zM451.89 358.6h1.5v1.5h-1.5zM444.49 348.26h1.5v1.5h-1.5zM432.94 361.71h1.5v1.5h-1.5zM451.8 357.78h1.5v1.5h-1.5zM449.43 357.15h1.5v1.5h-1.5zM456.04 341.05h1.5v1.5h-1.5zM446.08 353.01h1.5v1.5h-1.5zM447.51 361.01h1.5v1.5h-1.5zM431.36 353.97h1.5v1.5h-1.5zM453.57 365.06h1.5v1.5h-1.5zM444.14 362.38h1.5v1.5h-1.5zM454.58 348.76h1.5v1.5h-1.5zM453.96 355.76h1.5v1.5h-1.5zM446.23 363.09h1.5v1.5h-1.5zM446.35 343.87h1.5v1.5h-1.5zM435.07 382.2h1.5v1.5h-1.5zM448.07 346.38h1.5v1.5h-1.5zM443.55 352.7h1.5v1.5h-1.5zM448.21 367.59h1.5v1.5h-1.5zM419.95 411.95h1.5v1.5h-1.5zM446.07 354.83h1.5v1.5h-1.5zM441.45 346.09h1.5v1.5h-1.5zM448.86 353.13h1.5v1.5h-1.5zM452.98 356.75h1.5v1.5h-1.5zM449.6 358.52h1.5v1.5h-1.5zM446.81 359.03h1.5v1.5h-1.5zM434.04 390.29h1.5v1.5h-1.5zM453.12 360.55h1.5v1.5h-1.5zM449.31 352.69h1.5v1.5h-1.5zM446.76 365.41h1.5v1.5h-1.5zM451.1 357.83h1.5v1.5h-1.5zM426.11 375.19h1.5v1.5h-1.5zM451.18 371.1h1.5v1.5h-1.5zM431.75 403.25h1.5v1.5h-1.5zM435.25 371.63h1.5v1.5h-1.5zM449.42 354.46h1.5v1.5h-1.5zM452.15 345.69h1.5v1.5h-1.5zM444.78 358.02h1.5v1.5h-1.5zM452.99 358.77h1.5v1.5h-1.5zM441.35 363.5h1.5v1.5h-1.5zM446.95 353.89h1.5v1.5h-1.5zM446.69 354.39h1.5v1.5h-1.5zM442.12 352.88h1.5v1.5h-1.5zM437.69 351.58h1.5v1.5h-1.5zM451.59 348.93h1.5v1.5h-1.5zM444.93 361.92h1.5v1.5h-1.5zM435.09 381.81h1.5v1.5h-1.5zM447.53 357.48h1.5v1.5h-1.5zM439.85 360.48h1.5v1.5h-1.5zM437.23 367.56h1.5v1.5h-1.5zM447.09 341.92h1.5v1.5h-1.5zM444.54 340.41h1.5v1.5h-1.5zM444.74 347.53h1.5v1.5h-1.5zM445.7 360.97h1.5v1.5h-1.5zM444 346.89h1.5v1.5h-1.5zM455.01 329.79h1.5v1.5h-1.5zM455.39 360.65h1.5v1.5h-1.5zM440.67 343.97h1.5v1.5h-1.5zM426.82 389.09h1.5v1.5h-1.5zM428.25 358.18h1.5v1.5h-1.5zM453.06 342.21h1.5v1.5h-1.5zM455.8 346.39h1.5v1.5h-1.5zM441.92 350.06h1.5v1.5h-1.5zM449.42 357.6h1.5v1.5h-1.5zM439.16 354.4h1.5v1.5h-1.5zM449.88 339.01h1.5v1.5h-1.5zM424.51 355.09h1.5v1.5h-1.5zM452.3 349.47h1.5v1.5h-1.5zM443.36 345.74h1.5v1.5h-1.5zM430.4 366.24h1.5v1.5h-1.5zM454.42 353.82h1.5v1.5h-1.5zM443.19 357.51h1.5v1.5h-1.5zM431.87 362.81h1.5v1.5h-1.5zM445.65 344.85h1.5v1.5h-1.5zM445.93 358.77h1.5v1.5h-1.5zM456.73 336.16h1.5v1.5h-1.5zM446.43 335.93h1.5v1.5h-1.5zM451.88 354.65h1.5v1.5h-1.5zM442.35 348.21h1.5v1.5h-1.5zM441.08 332.76h1.5v1.5h-1.5zM461.7 341.25h1.5v1.5h-1.5zM447.35 362.94h1.5v1.5h-1.5zM428.02 372.11h1.5v1.5h-1.5zM447.89 340.44h1.5v1.5h-1.5zM446.61 342.69h1.5v1.5h-1.5zM454.52 360.24h1.5v1.5h-1.5zM448.87 345.21h1.5v1.5h-1.5zM439.21 350.42h1.5v1.5h-1.5zM439.8 361.11h1.5v1.5h-1.5zM444.49 341.66h1.5v1.5h-1.5zM448.62 341.12h1.5v1.5h-1.5zM436.56 361.94h1.5v1.5h-1.5zM444.57 351.48h1.5v1.5h-1.5zM452.26 344.03h1.5v1.5h-1.5zM443.39 343.08h1.5v1.5h-1.5zM452.29 366.28h1.5v1.5h-1.5zM425.79 383.1h1.5v1.5h-1.5zM448.38 354.82h1.5v1.5h-1.5zM451.32 347.26h1.5v1.5h-1.5zM453.32 365.18h1.5v1.5h-1.5zM444.93 361.08h1.5v1.5h-1.5zM443.55 341.58h1.5v1.5h-1.5zM453 340.63h1.5v1.5h-1.5zM441.9 359.64h1.5v1.5h-1.5zM451.56 357.33h1.5v1.5h-1.5z" fill="#ee3a2f" fill-opacity="0.5"/>
<path d="M449.89 362.03h1.5v1.5h-1.5zM426.33 349.99h1.5v1.5h-1.5zM446.37 357.66h1.5v1.5h-1.5zM449.81 359.32h1.5v1.5h-1.5zM454.7 344.15h1.5v1.5h-1.5zM453.16 347.81h1.5v1.5h-1.5zM445.29 356.88h1.5v1.5h-1.5zM451.76 348.71h1.5v1.5h-1.5zM445.21 361.21h1.5v1.5h-1.5zM444.67 352.61h1.5v1.5h-1.5zM444.96 361.44h1.5v1.5h-1.5zM450.21 350.96h1.5v1.5h-1.5zM435.73 357.08h1.5v1.5h-1.5zM442.01 359.02h1.5v1.5h-1.5zM429.32 380.29h1.5v1.5h-1.5zM433.21 382.82h1.5v1.5h-1.5zM448.66 357.77h1.5v1.5h-1.5zM446.96 354.99h1.5v1.5h-1.5zM445.6 368.78h1.5v1.5h-1.5zM439.11 368.85h1.5v1.5h-1.5zM442.64 347.18h1.5v1.5h-1.5zM434.9 360.58h1.5v1.5h-1.5zM434.88 348.77h1.5v1.5h-1.5zM433.4 360.83h1.5v1.5h-1.5zM441.53 356.56h1.5v1.5h-1.5zM447.01 359.75h1.5v1.5h-1.5zM433.31 352.21h1.5v1.5h-1.5zM448.24 348.12h1.5v1.5h-1.5zM448.91 350.19h1.5v1.5h-1.5zM451.03 357.5h1.5v1.5h-1.5zM449.19 350.22h1.5v1.5h-1.5zM448.39 352.87h1.5v1.5h-1.5zM453.44 360.55h1.5v1.5h-1.5zM450.97 345.8h1.5v1.5h-1.5zM435.24 340.08h1.5v1.5h-1.5zM441.29 349.53h1.5v1.5h-1.5zM433.06 351.08h1.5v1.5h-1.5zM451.92 346.91h1.5v1.5h-1.5zM450.64 355.11h1.5v1.5h-1.5zM422.56 359.87h1.5v1.5h-1.5zM455.36 343.66h1.5v1.5h-1.5zM441.4 388.25h1.5v1.5h-1.5zM444.98 348.65h1.5v1.5h-1.5zM439.96 345.21h1.5v1.5h-1.5zM427.82 384.77h1.5v1.5h-1.5zM447.97 355.07h1.5v1.5h-1.5zM445.34 367.85h1.5v1.5h-1.5zM447.67 342.54h1.5v1.5h-1.5zM443.05 336.62h1.5v1.5h-1.5zM450.5 351.83h1.5v1.5h-1.5zM452.26 350.52h1.5v1.5h-1.5zM434.84 382.13h1.5v1.5h-1.5zM450.04 360.68h1.5v1.5h-1.5zM440.95 405.04h1.5v1.5h-1.5zM447 352.27h1.5v1.5h-1.5zM442.08 343.64h1.5v1.5h-1.5zM440.73 351.79h1.5v1.5h-1.5zM444.83 361.46h1.5v1.5h-1.5zM451.9 356.71h1.5v1.5h-1.5zM450.18 342.33h1.5v1.5h-1.5zM454.63 349.06h1.5v1.5h-1.5zM450.14 359.02h1.5v1.5h-1.5zM439.23 364.77h1.5v1.5h-1.5zM445.96 352.89h1.5v1.5h-1.5zM453.75 340.5h1.5v1.5h-1.5zM442.06 355.98h1.5v1.5h-1.5zM449.86 348.29h1.5v1.5h-1.5zM443.62 364.88h1.5v1.5h-1.5zM453.29 335.69h1.5v1.5h-1.5zM448.69 346.04h1.5v1.5h-1.5zM447.76 362.05h1.5v1.5h-1.5zM445.52 352.37h1.5v1.5h-1.5zM421.18 361.22h1.5v1.5h-1.5zM440.17 359.34h1.5v1.5h-1.5zM453.45 357.84h1.5v1.5h-1.5zM445.96 352.12h1.5v1.5h-1.5zM447.85 357.93h1.5v1.5h-1.5zM450.76 347.72h1.5v1.5h-1.5zM415.68 352.52h1.5v1.5h-1.5zM449.14 365.58h1.5v1.5h-1.5zM438.05 343.75h1.5v1.5h-1.5zM444.53 354.23h1.5v1.5h-1.5zM444.42 349.34h1.5v1.5h-1.5zM443.35 339.88h1.5v1.5h-1.5zM421.97 369.28h1.5v1.5h-1.5zM451.94 345.1h1.5v1.5h-1.5zM445.22 338.34h1.5v1.5h-1.5zM446.45 344.22h1.5v1.5h-1.5zM441.75 317.35h1.5v1.5h-1.5zM447.47 353.09h1.5v1.5h-1.5zM450.42 359.46h1.5v1.5h-1.5zM440.36 367.12h1.5v1.5h-1.5zM443.34 352.68h1.5v1.5h-1.5zM445.05 357.9h1.5v1.5h-1.5zM453.51 342.96h1.5v1.5h-1.5zM458.42 350.11h1.5v1.5h-1.5zM446.33 359.28h1.5v1.5h-1.5zM441.83 358.16h1.5v1.5h-1.5zM445.2 357.86h1.5v1.5h-1.5zM453.47 356.34h1.5v1.5h-1.5zM447.37 370.41h1.5v1.5h-1.5zM446.88 351.96h1.5v1.5h-1.5zM438.68 354.36h1.5v1.5h-1.5zM444.76 346.44h1.5v1.5h-1.5zM450.76 342.15h1.5v1.5h-1.5zM446.5 361.12h1.5v1.5h-1.5zM440.07 365.84h1.5v1.5h-1.5zM444.91 353.48h1.5v1.5h-1.5zM449.29 355.55h1.5v1.5h-1.5zM450.92 352.97h1.5v1.5h-1.5zM438.93 363.76h1.5v1.5h-1.5zM442.37 341.64h1.5v1.5h-1.5zM445.2 357.25h1.5v1.5h-1.5zM441.23 355.7h1.5v1.5h-1.5zM449.13 343.82h1.5v1.5h-1.5zM439.27 372.4h1.5v1.5h-1.5zM439.78 364.4h1.5v1.5h-1.5zM443.18 341.49h1.5v1.5h-1.5z" fill="#ee3a2f" fill-opacity="0.5"/>
<path d="M441.76 354.14h1.5v1.5h-1.5zM444.43 361.56h1.5v1.5h-1.5zM446.38 344.26h1.5v1.5h-1.5zM446.05 367.08h1.5v1.5h-1.5zM446.22 356.95h1.5v1.5h-1.5zM438.96 364.23h1.5v1.5h-1.5zM420.48 353.26h1.5v1.5h-1.5zM455.46 366.82h1.5v1.5h-1.5zM459.18 354.23h1.5v1.5h-1.5zM443.69 365.01h1.5v1.5h-1.5zM442.21 351.69h1.5v1.5h-1.5zM451.17 341.91h1.5v1.5h-1.5zM422.91 388.21h1.5v1.5h-1.5zM439.86 359.92h1.5v1.5h-1.5zM442.48 349.6h1.5v1.5h-1.5zM449.72 349.56h1.5v1.5h-1.5zM436.5 353.95h1.5v1.5h-1.5zM443.98 379.48h1.5v1.5h-1.5zM441.04 360.6h1.5v1.5h-1.5zM439.2 362.75h1.5v1.5h-1.5zM452.96 344.18h1.5v1.5h-1.5zM447.87 349.94h1.5v1.5h-1.5zM444.82 365.65h1.5v1.5h-1.5zM434.8 361.34h1.5v1.5h-1.5zM427.23 362.47h1.5v1.5h-1.5zM444.32 352.21h1.5v1.5h-1.5zM428.89 383.35h1.5v1.5h-1.5zM456.5 349.37h1.5v1.5h-1.5zM422.97 354.46h1.5v1.5h-1.5zM448.98 356.63h1.5v1.5h-1.5zM446.98 348.84h1.5v1.5h-1.5zM451.84 362.98h1.5v1.5h-1.5zM437.25 354.09h1.5v1.5h-1.5zM445.58 365.11h1.5v1.5h-1.5zM444.1 364.84h1.5v1.5h-1.5zM445.67 349.34h1.5v1.5h-1.5zM443.18 349.14h1.5v1.5h-1.5zM447.97 363.27h1.5v1.5h-1.5zM427.96 362.76h1.5v1.5h-1.5zM439.47 363.34h1.5v1.5h-1.5zM442.2 351.02h1.5v1.5h-1.5zM443.88 349.23h1.5v1.5h-1.5zM447.99 343.07h1.5v1.5h-1.5zM451.91 356.81h1.5v1.5h-1.5zM447.46 341.63h1.5v1.5h-1.5zM454.18 344.93h1.5v1.5h-1.5zM403.05 406.15h1.5v1.5h-1.5zM451.81 346.66h1.5v1.5h-1.5zM436.04 356.24h1.5v1.5h-1.5zM455.5 345.38h1.5v1.5h-1.5zM441.78 354.91h1.5v1.5h-1.5zM431.14 360.33h1.5v1.5h-1.5zM437.47 381.43h1.5v1.5h-1.5zM448.95 362h1.5v1.5h-1.5zM429.72 348.28h1.5v1.5h-1.5zM454.12 348.32h1.5v1.5h-1.5zM445.37 347.28h1.5v1.5h-1.5zM441.21 341.59h1.5v1.5h-1.5zM443.64 356.03h1.5v1.5h-1.5zM432.76 359.03h1.5v1.5h-1.5zM445.2 341.11h1.5v1.5h-1.5zM430.74 372.59h1.5v1.5h-1.5zM440.71 350.1h1.5v1.5h-1.5zM448.38 369.84h1.5v1.5h-1.5zM445.46 371.68h1.5v1.5h-1.5zM441.48 370.21h1.5v1.5h-1.5zM450.92 354.46h1.5v1.5h-1.5zM448.67 360.12h1.5v1.5h-1.5zM432.79 358.84h1.5v1.5h-1.5zM453.61 325.39h1.5v1.5h-1.5zM433.75 356.35h1.5v1.5h-1.5zM439.66 367.44h1.5v1.5h-1.5zM443.87 351.66h1.5v1.5h-1.5zM449.07 351.35h1.5v1.5h-1.5zM448.75 339.21h1.5v1.5h-1.5zM418.92 361.91h1.5v1.5h-1.5zM438.07 368.1h1.5v1.5h-1.5zM430.88 352.58h1.5v1.5h-1.5zM444.26 345.62h1.5v1.5h-1.5zM442.03 376.3h1.5v1.5h-1.5zM450.42 366.91h1.5v1.5h-1.5zM446.91 348.6h1.5v1.5h-1.5zM442.68 370.56h1.5v1.5h-1.5zM443.29 349.01h1.5v1.5h-1.5zM441.1 365.03h1.5v1.5h-1.5zM432.62 356.36h1.5v1.5h-1.5zM446.11 355.99h1.5v1.5h-1.5zM429.77 354.9h1.5v1.5h-1.5zM427.5 364.58h1.5v1.5h-1.5zM422.99 369.75h1.5v1.5h-1.5zM446.25 356.1h1.5v1.5h-1.5zM427.12 347.4h1.5v1.5h-1.5zM453.29 354.69h1.5v1.5h-1.5zM451.94 336.68h1.5v1.5h-1.5zM424.97 365.44h1.5v1.5h-1.5zM433.02 357.63h1.5v1.5h-1.5zM439.9 356.15h1.5v1.5h-1.5zM449.06 358.23h1.5v1.5h-1.5zM450.49 347.01h1.5v1.5h-1.5zM443.51 346.41h1.5v1.5h-1.5zM428.46 371.95h1.5v1.5h-1.5zM448.22 342.34h1.5v1.5h-1.5zM423.57 355.19h1.5v1.5h-1.5zM448.08 344.12h1.5v1.5h-1.5zM447.15 344.46h1.5v1.5h-1.5zM449.37 348.93h1.5v1.5h-1.5zM445.25 357.65h1.5v1.5h-1.5zM448.71 356.31h1.5v1.5h-1.5zM444.75 356.42h1.5v1.5h-1.5zM437.03 356.25h1.5v1.5h-1.5zM435.1 374.47h1.5v1.5h-1.5zM440.11 346.4h1.5v1.5h-1.5zM451.17 336.99h1.5v1.5h-1.5zM439.88 367h1.5v1.5h-1.5zM443.03 345.84h1.5v1.5h-1.5zM449.42 354.42h1.5v1.5h-1.5zM422.72 358.23h1.5v1.5h-1.5zM440.27 348.93h1.5v1.5h-1.5z" fill="#ee3a2f" fill-opacity="0.5"/>
<path d="M401.1 372.8 L403.07 372.25 L405.05 371.69 L407.02 371.09 L408.99 370.48 L410.97 369.84 L412.94 369.18 L414.91 368.5 L416.89 367.8 L418.86 367.07 L420.83 366.32 L422.81 365.55 L424.78 364.75 L426.75 363.93 L428.73 363.09 L430.7 362.22 L432.67 361.34 L434.65 360.43 L436.62 359.51 L438.59 358.59 L440.57 357.65 L442.54 356.71 L444.51 355.76 L446.49 354.81 L448.46 353.84 L450.43 352.87 L452.41 351.89 L454.38 350.91 L456.35 349.91 L458.33 348.91 L460.3 347.9 L460.3 350.7 L458.33 351.51 L456.35 352.33 L454.38 353.15 L452.41 353.99 L450.43 354.83 L448.46 355.68 L446.49 356.53 L444.51 357.4 L442.54 358.27 L440.57 359.15 L438.59 360.03 L436.62 360.93 L434.65 361.83 L432.67 362.74 L430.7 363.68 L428.73 364.63 L426.75 365.61 L424.78 366.61 L422.81 367.63 L420.83 368.68 L418.86 369.75 L416.89 370.84 L414.91 371.96 L412.94 373.1 L410.97 374.26 L408.99 375.44 L407.02 376.65 L405.05 377.87 L403.07 379.13 L401.1 380.4Z" fill="#a0a0a0" fill-opacity="0.6"/>
<line x1="401.1" y1="376.6" x2="460.3" y2="349.3" stroke="#151515" stroke-width="0.85" />
<path d="M396.5 313.6 V416.8 H499" fill="none" stroke="#000" stroke-width="1.3"/>
<line x1="393.9" y1="329.4" x2="396.5" y2="329.4" stroke="#000" stroke-width="1" />
<text font-size="8.6" font-weight="bold" text-anchor="end" stroke="#000" stroke-width="0.18" transform="translate(392.9 332.2) scale(1 1.12)">21</text>
<line x1="393.9" y1="348.9" x2="396.5" y2="348.9" stroke="#000" stroke-width="1" />
<text font-size="8.6" font-weight="bold" text-anchor="end" stroke="#000" stroke-width="0.18" transform="translate(392.9 351.7) scale(1 1.12)">20</text>
<line x1="393.9" y1="368.4" x2="396.5" y2="368.4" stroke="#000" stroke-width="1" />
<text font-size="8.6" font-weight="bold" text-anchor="end" stroke="#000" stroke-width="0.18" transform="translate(392.9 371.2) scale(1 1.12)">19</text>
<line x1="393.9" y1="387.9" x2="396.5" y2="387.9" stroke="#000" stroke-width="1" />
<text font-size="8.6" font-weight="bold" text-anchor="end" stroke="#000" stroke-width="0.18" transform="translate(392.9 390.7) scale(1 1.12)">18</text>
<line x1="393.9" y1="407.4" x2="396.5" y2="407.4" stroke="#000" stroke-width="1" />
<text font-size="8.6" font-weight="bold" text-anchor="end" stroke="#000" stroke-width="0.18" transform="translate(392.9 410.2) scale(1 1.12)">17</text>
<line x1="415.7" y1="416.8" x2="415.7" y2="419.2" stroke="#000" stroke-width="1" />
<text font-size="8.6" font-weight="bold" text-anchor="middle" stroke="#000" stroke-width="0.18" transform="translate(415.7 426.8) scale(1 1.12)">5</text>
<line x1="439.3" y1="416.8" x2="439.3" y2="419.2" stroke="#000" stroke-width="1" />
<text font-size="8.6" font-weight="bold" text-anchor="middle" stroke="#000" stroke-width="0.18" transform="translate(439.3 426.8) scale(1 1.12)">10</text>
<line x1="464.8" y1="416.8" x2="464.8" y2="419.2" stroke="#000" stroke-width="1" />
<text font-size="8.6" font-weight="bold" text-anchor="middle" stroke="#000" stroke-width="0.18" transform="translate(464.8 426.8) scale(1 1.12)">15</text>
<line x1="489.8" y1="416.8" x2="489.8" y2="419.2" stroke="#000" stroke-width="1" />
<text font-size="8.6" font-weight="bold" text-anchor="middle" stroke="#000" stroke-width="0.18" transform="translate(489.8 426.8) scale(1 1.12)">20</text>
<text font-size="5.6" fill="#1a1a1a" transform="translate(401.2 325.2) scale(1 1.12)"><tspan font-style="italic">R</tspan> = 0.36, <tspan font-style="italic">p</tspan> &lt; 2.2e-16</text>
<text font-size="8.4" font-weight="bold" text-anchor="middle" stroke="#000" stroke-width="0.18" transform="translate(379.4 359.5) scale(0.89 1) rotate(-90)">Log<tspan font-size="5.6" dy="1.8">2</tspan><tspan dy="-1.8"> H3K36me3 signal (WT - KO)</tspan></text>
<text font-size="8.4" font-weight="bold" stroke="#000" stroke-width="0.18" transform="translate(371 437.2) scale(1 1.12)">Log<tspan font-size="5.6" dy="1.8">2</tspan><tspan dy="-1.8"> FLAG-SMYD5 signal (<tspan font-style="italic">Smyd5</tspan> O/E)</tspan></text>
<text font-size="21.5" font-weight="bold" stroke="#000" stroke-width="0.18" transform="translate(519 298) scale(0.9 1)">j</text>
<text font-size="8.2" font-weight="bold" text-anchor="middle" stroke="#000" stroke-width="0.18" transform="translate(604.6 312.8) scale(1 1.12)"><tspan font-style="italic">Smyd5</tspan> KI</text>
<path d="M609.55 351.45h1.5v1.5h-1.5zM602.03 372.89h1.5v1.5h-1.5zM612.41 353.18h1.5v1.5h-1.5zM586.22 356.76h1.5v1.5h-1.5zM614.92 341.58h1.5v1.5h-1.5zM605.55 351.04h1.5v1.5h-1.5zM612.87 348.43h1.5v1.5h-1.5zM603.71 353.03h1.5v1.5h-1.5zM612.04 349.06h1.5v1.5h-1.5zM612.24 345.28h1.5v1.5h-1.5zM606.27 348.17h1.5v1.5h-1.5zM600.15 393.55h1.5v1.5h-1.5zM604.49 359.68h1.5v1.5h-1.5zM602.5 349.58h1.5v1.5h-1.5zM604.56 347.21h1.5v1.5h-1.5zM603.44 361.71h1.5v1.5h-1.5zM606 345.98h1.5v1.5h-1.5zM592.54 365.36h1.5v1.5h-1.5zM600.12 374.1h1.5v1.5h-1.5zM599.55 360.93h1.5v1.5h-1.5zM600.01 370.22h1.5v1.5h-1.5zM593.53 354.87h1.5v1.5h-1.5zM592.67 352.92h1.5v1.5h-1.5zM605.89 351.52h1.5v1.5h-1.5zM601.05 344.53h1.5v1.5h-1.5zM582.85 354.03h1.5v1.5h-1.5zM608.22 348.93h1.5v1.5h-1.5zM597.34 364.99h1.5v1.5h-1.5zM604.28 364.12h1.5v1.5h-1.5zM592.94 362.57h1.5v1.5h-1.5zM608.84 347.82h1.5v1.5h-1.5zM603.7 351.95h1.5v1.5h-1.5zM600.01 354.34h1.5v1.5h-1.5zM603.55 347.78h1.5v1.5h-1.5zM608.66 361.68h1.5v1.5h-1.5zM574.33 366.99h1.5v1.5h-1.5zM597.95 356.01h1.5v1.5h-1.5zM606.71 346.03h1.5v1.5h-1.5zM606.48 354.63h1.5v1.5h-1.5zM602.85 360.08h1.5v1.5h-1.5zM619.44 346.28h1.5v1.5h-1.5zM610.02 358.69h1.5v1.5h-1.5zM606.44 355.86h1.5v1.5h-1.5zM600.23 358.36h1.5v1.5h-1.5zM598.53 361.28h1.5v1.5h-1.5zM603.56 352.06h1.5v1.5h-1.5zM610.15 353.33h1.5v1.5h-1.5zM590.07 357.88h1.5v1.5h-1.5zM606.13 351.25h1.5v1.5h-1.5zM592.95 345.37h1.5v1.5h-1.5zM612.86 345.85h1.5v1.5h-1.5zM604.57 370.43h1.5v1.5h-1.5zM616.37 336.74h1.5v1.5h-1.5zM606.31 359.81h1.5v1.5h-1.5zM587.2 363.34h1.5v1.5h-1.5zM603.86 354.43h1.5v1.5h-1.5zM601.78 365.17h1.5v1.5h-1.5zM603.5 352.33h1.5v1.5h-1.5zM598.68 363.13h1.5v1.5h-1.5zM582.56 364.93h1.5v1.5h-1.5zM587.02 354.25h1.5v1.5h-1.5zM608.14 364.1h1.5v1.5h-1.5zM598.45 352.93h1.5v1.5h-1.5zM599.58 356.41h1.5v1.5h-1.5zM604.99 353.97h1.5v1.5h-1.5zM584.68 360.37h1.5v1.5h-1.5zM592.64 353.26h1.5v1.5h-1.5zM590.1 369.69h1.5v1.5h-1.5zM610.81 345.52h1.5v1.5h-1.5zM605.88 359.53h1.5v1.5h-1.5zM607.74 359.45h1.5v1.5h-1.5zM592.27 358.39h1.5v1.5h-1.5zM598.76 352.53h1.5v1.5h-1.5zM606.01 349.44h1.5v1.5h-1.5zM610.74 358.33h1.5v1.5h-1.5zM593.91 340.04h1.5v1.5h-1.5zM614.56 344.72h1.5v1.5h-1.5zM583.43 353.32h1.5v1.5h-1.5zM603.18 346.55h1.5v1.5h-1.5zM608.44 347.14h1.5v1.5h-1.5zM613.61 357.73h1.5v1.5h-1.5zM602.2 357.62h1.5v1.5h-1.5zM589.71 353.07h1.5v1.5h-1.5zM586.5 342.45h1.5v1.5h-1.5zM615.75 334.09h1.5v1.5h-1.5zM606.03 359.57h1.5v1.5h-1.5zM608.3 357.64h1.5v1.5h-1.5zM604.77 353.34h1.5v1.5h-1.5zM606.61 361.11h1.5v1.5h-1.5zM600 360.4h1.5v1.5h-1.5zM606.78 366.19h1.5v1.5h-1.5zM599.69 354.57h1.5v1.5h-1.5zM606.85 361.68h1.5v1.5h-1.5zM601.13 356.11h1.5v1.5h-1.5zM610.2 355.19h1.5v1.5h-1.5zM601.84 342.03h1.5v1.5h-1.5zM600.76 351.39h1.5v1.5h-1.5zM602.99 362.01h1.5v1.5h-1.5zM575.88 361.77h1.5v1.5h-1.5zM596.85 356.18h1.5v1.5h-1.5zM609.16 339.3h1.5v1.5h-1.5zM603.11 343.77h1.5v1.5h-1.5zM599.74 351.47h1.5v1.5h-1.5zM609.77 337.9h1.5v1.5h-1.5zM601.88 352.34h1.5v1.5h-1.5zM608.05 367.39h1.5v1.5h-1.5zM602.4 350.11h1.5v1.5h-1.5zM599.41 355.72h1.5v1.5h-1.5zM609.94 361.42h1.5v1.5h-1.5zM617.81 340.05h1.5v1.5h-1.5zM600.15 369.57h1.5v1.5h-1.5zM603.82 365.4h1.5v1.5h-1.5zM603.71 344.66h1.5v1.5h-1.5z" fill="#ec6a9c" fill-opacity="0.5"/>
<path d="M599.87 362.01h1.5v1.5h-1.5zM602.88 353.5h1.5v1.5h-1.5zM603.33 369.24h1.5v1.5h-1.5zM600.36 363.35h1.5v1.5h-1.5zM602.87 346.7h1.5v1.5h-1.5zM596.79 354.88h1.5v1.5h-1.5zM599.67 343.42h1.5v1.5h-1.5zM611.47 354.34h1.5v1.5h-1.5zM598.97 366.55h1.5v1.5h-1.5zM598.92 353.26h1.5v1.5h-1.5zM607.78 347.99h1.5v1.5h-1.5zM602.48 360.68h1.5v1.5h-1.5zM605.15 362.37h1.5v1.5h-1.5zM611.19 363.12h1.5v1.5h-1.5zM606.68 348.55h1.5v1.5h-1.5zM612.49 372.51h1.5v1.5h-1.5zM585.35 345.77h1.5v1.5h-1.5zM605.2 359.8h1.5v1.5h-1.5zM608.36 358.69h1.5v1.5h-1.5zM607.82 350.7h1.5v1.5h-1.5zM601.76 341.34h1.5v1.5h-1.5zM606.89 353.51h1.5v1.5h-1.5zM612.78 350.35h1.5v1.5h-1.5zM600.91 352.1h1.5v1.5h-1.5zM601.94 362.49h1.5v1.5h-1.5zM583.18 364.38h1.5v1.5h-1.5zM599.41 357.24h1.5v1.5h-1.5zM607.97 342.76h1.5v1.5h-1.5zM599.32 354.86h1.5v1.5h-1.5zM604.35 355.49h1.5v1.5h-1.5zM602.61 364.38h1.5v1.5h-1.5zM602.89 362.27h1.5v1.5h-1.5zM608.24 360.89h1.5v1.5h-1.5zM611.14 354.5h1.5v1.5h-1.5zM595.53 343.21h1.5v1.5h-1.5zM607.25 350.52h1.5v1.5h-1.5zM598.68 364.09h1.5v1.5h-1.5zM608.95 360.51h1.5v1.5h-1.5zM607.22 362.43h1.5v1.5h-1.5zM599.21 350.41h1.5v1.5h-1.5zM602.47 330.64h1.5v1.5h-1.5zM605.15 355.2h1.5v1.5h-1.5zM609.49 356.85h1.5v1.5h-1.5zM569.12 369.07h1.5v1.5h-1.5zM582.8 366.26h1.5v1.5h-1.5zM610.09 353.96h1.5v1.5h-1.5zM606.86 369.56h1.5v1.5h-1.5zM608.17 354.86h1.5v1.5h-1.5zM594.49 371.92h1.5v1.5h-1.5zM609.98 343.22h1.5v1.5h-1.5zM597.21 356.02h1.5v1.5h-1.5zM602.89 360.37h1.5v1.5h-1.5zM607.61 364.23h1.5v1.5h-1.5zM611.88 346.08h1.5v1.5h-1.5zM607.73 359.52h1.5v1.5h-1.5zM609.93 360.09h1.5v1.5h-1.5zM602.35 359.25h1.5v1.5h-1.5zM604.14 362.59h1.5v1.5h-1.5zM609.43 370.97h1.5v1.5h-1.5zM604.43 345.9h1.5v1.5h-1.5zM605.93 369.94h1.5v1.5h-1.5zM600.23 352.81h1.5v1.5h-1.5zM605.28 352.38h1.5v1.5h-1.5zM605.81 364.32h1.5v1.5h-1.5zM609.66 350.29h1.5v1.5h-1.5zM610.17 358.24h1.5v1.5h-1.5zM594.47 383.53h1.5v1.5h-1.5zM580.79 356.41h1.5v1.5h-1.5zM618.61 360.22h1.5v1.5h-1.5zM600.12 364.53h1.5v1.5h-1.5zM605.49 347.16h1.5v1.5h-1.5zM597.55 377.22h1.5v1.5h-1.5zM596.92 365.79h1.5v1.5h-1.5zM609.27 350.44h1.5v1.5h-1.5zM597.04 354.58h1.5v1.5h-1.5zM576.05 346.29h1.5v1.5h-1.5zM612.59 345.8h1.5v1.5h-1.5zM586.08 363.12h1.5v1.5h-1.5zM593.99 349.05h1.5v1.5h-1.5zM578.77 345.29h1.5v1.5h-1.5zM604.52 354.08h1.5v1.5h-1.5zM596.1 345.13h1.5v1.5h-1.5zM604.36 344.42h1.5v1.5h-1.5zM572.11 353.06h1.5v1.5h-1.5zM572.05 407.95h1.5v1.5h-1.5zM590.19 362.75h1.5v1.5h-1.5zM612.52 363.15h1.5v1.5h-1.5zM609.41 355.73h1.5v1.5h-1.5zM595.59 354.48h1.5v1.5h-1.5zM610.06 358.18h1.5v1.5h-1.5zM601.21 349.52h1.5v1.5h-1.5zM592.25 355.39h1.5v1.5h-1.5zM605.46 337.76h1.5v1.5h-1.5zM604.69 332.08h1.5v1.5h-1.5zM601.04 352.36h1.5v1.5h-1.5zM582.98 345.3h1.5v1.5h-1.5zM614.78 346.32h1.5v1.5h-1.5zM603.61 347.04h1.5v1.5h-1.5zM589.48 363.27h1.5v1.5h-1.5zM601.27 358.62h1.5v1.5h-1.5zM609.09 365.63h1.5v1.5h-1.5zM598.16 366.11h1.5v1.5h-1.5zM602.08 368.95h1.5v1.5h-1.5zM616.92 349.32h1.5v1.5h-1.5zM595.04 351.72h1.5v1.5h-1.5zM605.73 369.28h1.5v1.5h-1.5zM605.39 365.12h1.5v1.5h-1.5zM599.75 364.59h1.5v1.5h-1.5zM593.27 380.88h1.5v1.5h-1.5zM609.85 349.43h1.5v1.5h-1.5zM599.14 350.72h1.5v1.5h-1.5zM609.4 363.32h1.5v1.5h-1.5z" fill="#ec6a9c" fill-opacity="0.5"/>
<path d="M610.04 351.9h1.5v1.5h-1.5zM608.57 340.05h1.5v1.5h-1.5zM615.12 362.25h1.5v1.5h-1.5zM610.16 352.65h1.5v1.5h-1.5zM603.83 355.36h1.5v1.5h-1.5zM593.26 381.18h1.5v1.5h-1.5zM580.65 366.26h1.5v1.5h-1.5zM591.25 353.61h1.5v1.5h-1.5zM610.71 352.36h1.5v1.5h-1.5zM606.93 339.91h1.5v1.5h-1.5zM595.57 363.01h1.5v1.5h-1.5zM584.43 342.16h1.5v1.5h-1.5zM611.25 356.78h1.5v1.5h-1.5zM599.71 352.1h1.5v1.5h-1.5zM610.31 339.4h1.5v1.5h-1.5zM611.79 357.57h1.5v1.5h-1.5zM602.64 347.82h1.5v1.5h-1.5zM600.01 356.47h1.5v1.5h-1.5zM610.45 353.88h1.5v1.5h-1.5zM604.02 342.28h1.5v1.5h-1.5zM606.68 360.52h1.5v1.5h-1.5zM599.67 372.4h1.5v1.5h-1.5zM585.09 337.84h1.5v1.5h-1.5zM609.05 339.28h1.5v1.5h-1.5zM612.1 366.3h1.5v1.5h-1.5zM604.12 346.49h1.5v1.5h-1.5zM584.34 351.87h1.5v1.5h-1.5zM603.93 371.62h1.5v1.5h-1.5zM603.39 365h1.5v1.5h-1.5zM607.84 365.16h1.5v1.5h-1.5zM609.91 356.72h1.5v1.5h-1.5zM609.11 350.34h1.5v1.5h-1.5zM610.81 359.28h1.5v1.5h-1.5zM601.83 368.8h1.5v1.5h-1.5zM599.85 368.55h1.5v1.5h-1.5zM607.22 352.18h1.5v1.5h-1.5zM601.25 356.68h1.5v1.5h-1.5zM610.86 327.04h1.5v1.5h-1.5zM610.16 341.22h1.5v1.5h-1.5zM566.75 359.25h1.5v1.5h-1.5zM592.93 371.19h1.5v1.5h-1.5zM590.13 363.25h1.5v1.5h-1.5zM582.29 365.19h1.5v1.5h-1.5zM594.78 368.1h1.5v1.5h-1.5zM605.75 357.64h1.5v1.5h-1.5zM604.61 348.61h1.5v1.5h-1.5zM605.81 357.78h1.5v1.5h-1.5zM613.46 357.42h1.5v1.5h-1.5zM604.41 359.08h1.5v1.5h-1.5zM606 348.77h1.5v1.5h-1.5zM609.07 370.86h1.5v1.5h-1.5zM589.71 362.25h1.5v1.5h-1.5zM598.54 365.6h1.5v1.5h-1.5zM600.41 349.2h1.5v1.5h-1.5zM582.02 363.06h1.5v1.5h-1.5zM608.36 361.82h1.5v1.5h-1.5zM581.87 357h1.5v1.5h-1.5zM600.89 353.15h1.5v1.5h-1.5zM593.18 354.62h1.5v1.5h-1.5zM578.58 368.62h1.5v1.5h-1.5zM602.59 378.61h1.5v1.5h-1.5zM592.17 375.22h1.5v1.5h-1.5zM611.37 368.12h1.5v1.5h-1.5zM604.17 355.15h1.5v1.5h-1.5zM609.51 344.46h1.5v1.5h-1.5zM599.47 348.93h1.5v1.5h-1.5zM574.73 351.48h1.5v1.5h-1.5zM587.38 365.01h1.5v1.5h-1.5zM590.21 353.46h1.5v1.5h-1.5zM601.64 356.05h1.5v1.5h-1.5zM596.35 352.7h1.5v1.5h-1.5zM613 342.44h1.5v1.5h-1.5zM603.33 361.35h1.5v1.5h-1.5zM604.94 336.45h1.5v1.5h-1.5zM602.52 363.93h1.5v1.5h-1.5zM601.34 363.7h1.5v1.5h-1.5zM605.5 357.33h1.5v1.5h-1.5zM619.29 345.77h1.5v1.5h-1.5zM608.8 338.96h1.5v1.5h-1.5zM597.44 351.99h1.5v1.5h-1.5zM601.92 362.43h1.5v1.5h-1.5zM599.85 375.88h1.5v1.5h-1.5zM597.02 361.45h1.5v1.5h-1.5zM616.33 344.67h1.5v1.5h-1.5zM611.78 345.68h1.5v1.5h-1.5zM608.36 366.07h1.5v1.5h-1.5zM598.79 359.34h1.5v1.5h-1.5zM597.34 385.86h1.5v1.5h-1.5zM598.94 350.32h1.5v1.5h-1.5zM602.42 335.75h1.5v1.5h-1.5zM594.41 354.12h1.5v1.5h-1.5zM600.99 389h1.5v1.5h-1.5zM602.32 363.64h1.5v1.5h-1.5zM600.49 364.82h1.5v1.5h-1.5zM611.69 353.08h1.5v1.5h-1.5zM585.35 357.03h1.5v1.5h-1.5zM607.77 349.36h1.5v1.5h-1.5zM603.08 351.45h1.5v1.5h-1.5zM609.33 350.4h1.5v1.5h-1.5zM608.39 350.19h1.5v1.5h-1.5zM607.73 338.17h1.5v1.5h-1.5zM604.34 368.32h1.5v1.5h-1.5zM608.62 355.01h1.5v1.5h-1.5zM605.35 359.11h1.5v1.5h-1.5zM597.7 353.78h1.5v1.5h-1.5zM606.73 350.88h1.5v1.5h-1.5zM615.63 363.92h1.5v1.5h-1.5zM616.69 344.03h1.5v1.5h-1.5zM607.04 339.05h1.5v1.5h-1.5zM598.61 349.71h1.5v1.5h-1.5zM603.94 350.74h1.5v1.5h-1.5zM609.6 357.2h1.5v1.5h-1.5z" fill="#ec6a9c" fill-opacity="0.5"/>
<path d="M595.32 358.35h1.5v1.5h-1.5zM593.56 340.37h1.5v1.5h-1.5zM596.76 354.62h1.5v1.5h-1.5zM596.67 344.27h1.5v1.5h-1.5zM594.55 364.73h1.5v1.5h-1.5zM605.87 355.28h1.5v1.5h-1.5zM600.29 353.67h1.5v1.5h-1.5zM616.1 341.4h1.5v1.5h-1.5zM606.08 363.86h1.5v1.5h-1.5zM604.14 375.53h1.5v1.5h-1.5zM595.17 361.16h1.5v1.5h-1.5zM600.46 355.1h1.5v1.5h-1.5zM605.81 342h1.5v1.5h-1.5zM606.22 356.41h1.5v1.5h-1.5zM606.95 358.15h1.5v1.5h-1.5zM610.1 374.59h1.5v1.5h-1.5zM609.64 354.8h1.5v1.5h-1.5zM608.9 371.71h1.5v1.5h-1.5zM606.09 362.58h1.5v1.5h-1.5zM609.66 354.31h1.5v1.5h-1.5zM596.22 365.09h1.5v1.5h-1.5zM606.75 350.89h1.5v1.5h-1.5zM604.9 344.44h1.5v1.5h-1.5zM594.73 379.98h1.5v1.5h-1.5zM605.01 353.72h1.5v1.5h-1.5zM596.14 384.48h1.5v1.5h-1.5zM605.76 355.3h1.5v1.5h-1.5zM606.09 349.15h1.5v1.5h-1.5zM600.16 348.89h1.5v1.5h-1.5zM605.6 358.65h1.5v1.5h-1.5zM604.33 348.04h1.5v1.5h-1.5zM606.71 365.21h1.5v1.5h-1.5zM604.9 355.58h1.5v1.5h-1.5zM607.72 359.91h1.5v1.5h-1.5zM611.21 355.19h1.5v1.5h-1.5zM599.24 362.94h1.5v1.5h-1.5zM598.67 363.66h1.5v1.5h-1.5zM603.71 343.37h1.5v1.5h-1.5zM601.7 357.93h1.5v1.5h-1.5zM610.54 353.77h1.5v1.5h-1.5zM603.98 350.57h1.5v1.5h-1.5zM604.94 349.89h1.5v1.5h-1.5zM594.91 359.9h1.5v1.5h-1.5zM608.13 354.3h1.5v1.5h-1.5zM609.05 354.12h1.5v1.5h-1.5zM604.48 353.27h1.5v1.5h-1.5zM607.85 343.26h1.5v1.5h-1.5zM600.35 341.12h1.5v1.5h-1.5zM605.44 359.79h1.5v1.5h-1.5zM610.43 353.87h1.5v1.5h-1.5zM601.75 360.44h1.5v1.5h-1.5zM602.7 347.38h1.5v1.5h-1.5zM608.99 346.85h1.5v1.5h-1.5zM612.08 347.71h1.5v1.5h-1.5zM605.13 344.88h1.5v1.5h-1.5zM601.33 360.61h1.5v1.5h-1.5zM609.32 373.24h1.5v1.5h-1.5zM599.44 343.35h1.5v1.5h-1.5zM601.44 348.13h1.5v1.5h-1.5zM603.81 360.26h1.5v1.5h-1.5zM608.34 352.8h1.5v1.5h-1.5zM600.78 365.79h1.5v1.5h-1.5zM583.14 354.87h1.5v1.5h-1.5zM606.58 365.93h1.5v1.5h-1.5zM611.41 360.97h1.5v1.5h-1.5zM595.64 372.34h1.5v1.5h-1.5zM605.59 350.26h1.5v1.5h-1.5zM600.48 355.95h1.5v1.5h-1.5zM607.09 350.58h1.5v1.5h-1.5zM599.71 352.36h1.5v1.5h-1.5zM604.14 367.65h1.5v1.5h-1.5zM599.14 351.35h1.5v1.5h-1.5zM604.45 349.25h1.5v1.5h-1.5zM598.05 382.86h1.5v1.5h-1.5zM605.18 345.6h1.5v1.5h-1.5zM606.1 369.1h1.5v1.5h-1.5zM601.47 365.19h1.5v1.5h-1.5zM587.64 350.87h1.5v1.5h-1.5zM609.41 347.52h1.5v1.5h-1.5zM601.34 356.97h1.5v1.5h-1.5zM599.48 355.04h1.5v1.5h-1.5zM592.51 355.36h1.5v1.5h-1.5zM604.05 327.82h1.5v1.5h-1.5zM599.38 360.09h1.5v1.5h-1.5zM608.04 358.87h1.5v1.5h-1.5zM602.66 371.06h1.5v1.5h-1.5zM616.81 351.63h1.5v1.5h-1.5zM610.32 350.98h1.5v1.5h-1.5zM610.09 350.62h1.5v1.5h-1.5zM607.8 342.74h1.5v1.5h-1.5zM605.61 349.32h1.5v1.5h-1.5zM594.95 356.53h1.5v1.5h-1.5zM592.02 350.93h1.5v1.5h-1.5zM605.7 355.42h1.5v1.5h-1.5zM582.33 367.59h1.5v1.5h-1.5zM603.11 358.09h1.5v1.5h-1.5zM602.75 341.2h1.5v1.5h-1.5zM596.38 354.49h1.5v1.5h-1.5zM607.37 360.97h1.5v1.5h-1.5zM609.5 347.86h1.5v1.5h-1.5zM582.7 373.91h1.5v1.5h-1.5zM580.17 361.47h1.5v1.5h-1.5zM600.03 353.78h1.5v1.5h-1.5zM602.06 364.7h1.5v1.5h-1.5zM609.65 353.48h1.5v1.5h-1.5zM600.93 373.52h1.5v1.5h-1.5zM575.96 357.41h1.5v1.5h-1.5zM603.4 370.5h1.5v1.5h-1.5zM592.19 355.76h1.5v1.5h-1.5zM597.85 353.22h1.5v1.5h-1.5zM600.38 341.01h1.5v1.5h-1.5zM604.43 339.14h1.5v1.5h-1.5z" fill="#ec6a9c" fill-opacity="0.5"/>
<path d="M606.03 346.09h1.5v1.5h-1.5zM615.68 339.77h1.5v1.5h-1.5zM608.75 346.65h1.5v1.5h-1.5zM609.04 354.7h1.5v1.5h-1.5zM606.32 339.57h1.5v1.5h-1.5zM607.06 358.78h1.5v1.5h-1.5zM606.52 359.97h1.5v1.5h-1.5zM611.03 359.86h1.5v1.5h-1.5zM594.35 344.16h1.5v1.5h-1.5zM600.22 362.63h1.5v1.5h-1.5zM613.02 324.13h1.5v1.5h-1.5zM603.82 342.33h1.5v1.5h-1.5zM580.91 372.08h1.5v1.5h-1.5zM597.11 347.19h1.5v1.5h-1.5zM607.43 359.29h1.5v1.5h-1.5zM599.21 356.49h1.5v1.5h-1.5zM600.57 358.15h1.5v1.5h-1.5zM584.94 354.94h1.5v1.5h-1.5zM608.83 361.27h1.5v1.5h-1.5zM566.75 355.25h1.5v1.5h-1.5zM609.78 349.5h1.5v1.5h-1.5zM602.2 371.48h1.5v1.5h-1.5zM596.2 387.74h1.5v1.5h-1.5zM584.14 363.97h1.5v1.5h-1.5zM601.98 335.65h1.5v1.5h-1.5zM617.18 350.9h1.5v1.5h-1.5zM602.65 361.5h1.5v1.5h-1.5zM604.92 358.42h1.5v1.5h-1.5zM594.67 367.44h1.5v1.5h-1.5zM611.25 350.05h1.5v1.5h-1.5zM599.42 359.72h1.5v1.5h-1.5zM605.13 352.92h1.5v1.5h-1.5zM602.71 351.96h1.5v1.5h-1.5zM604.99 368.97h1.5v1.5h-1.5zM596.27 359.17h1.5v1.5h-1.5zM600.47 350.12h1.5v1.5h-1.5zM604.07 341.32h1.5v1.5h-1.5zM599.04 354.99h1.5v1.5h-1.5zM609.31 340.96h1.5v1.5h-1.5zM602.06 365.75h1.5v1.5h-1.5zM611.63 350.41h1.5v1.5h-1.5zM598.71 360.21h1.5v1.5h-1.5zM598.56 359.95h1.5v1.5h-1.5zM607.36 353.03h1.5v1.5h-1.5zM604.07 359.39h1.5v1.5h-1.5zM611.55 359.39h1.5v1.5h-1.5zM579.47 344.75h1.5v1.5h-1.5zM603.63 366.19h1.5v1.5h-1.5zM613.43 349.65h1.5v1.5h-1.5zM605.13 344.85h1.5v1.5h-1.5zM600.36 365.93h1.5v1.5h-1.5zM609.29 357.76h1.5v1.5h-1.5zM583.63 363.82h1.5v1.5h-1.5zM607.93 360.41h1.5v1.5h-1.5zM590.87 350.9h1.5v1.5h-1.5zM610.37 350.89h1.5v1.5h-1.5zM604.7 354.02h1.5v1.5h-1.5zM594.36 371.05h1.5v1.5h-1.5zM608.58 361.88h1.5v1.5h-1.5zM599.58 358.98h1.5v1.5h-1.5zM598.14 381.89h1.5v1.5h-1.5zM604.1 351.66h1.5v1.5h-1.5zM618.41 357.13h1.5v1.5h-1.5zM611.1 360.95h1.5v1.5h-1.5zM601.15 352.78h1.5v1.5h-1.5zM599.34 348.59h1.5v1.5h-1.5zM601.71 365.83h1.5v1.5h-1.5zM612.71 352.87h1.5v1.5h-1.5zM605.4 356.23h1.5v1.5h-1.5zM606.24 369.33h1.5v1.5h-1.5zM603.36 356.1h1.5v1.5h-1.5zM609.22 347.65h1.5v1.5h-1.5zM612.47 357.3h1.5v1.5h-1.5zM598.69 377.18h1.5v1.5h-1.5zM612.27 357.53h1.5v1.5h-1.5zM610.82 338.93h1.5v1.5h-1.5zM589.51 379.53h1.5v1.5h-1.5zM608.15 352.47h1.5v1.5h-1.5zM602.98 347.31h1.5v1.5h-1.5zM606.23 355.05h1.5v1.5h-1.5zM609.72 346.78h1.5v1.5h-1.5zM606.7 364.75h1.5v1.5h-1.5zM609.79 345.99h1.5v1.5h-1.5zM593.12 342.28h1.5v1.5h-1.5zM606.25 316.75h1.5v1.5h-1.5zM593.2 385.49h1.5v1.5h-1.5zM604.89 363.2h1.5v1.5h-1.5zM605.73 345.21h1.5v1.5h-1.5zM604.45 360.14h1.5v1.5h-1.5zM622.09 357.51h1.5v1.5h-1.5zM597.76 347.51h1.5v1.5h-1.5zM594.43 376.15h1.5v1.5h-1.5zM583.4 344.6h1.5v1.5h-1.5zM604.89 358.02h1.5v1.5h-1.5zM571.2 367.36h1.5v1.5h-1.5zM611.72 356.26h1.5v1.5h-1.5zM599.87 352.45h1.5v1.5h-1.5zM591.81 383.55h1.5v1.5h-1.5zM607.91 358.23h1.5v1.5h-1.5zM617.78 357.56h1.5v1.5h-1.5zM594.3 343.49h1.5v1.5h-1.5zM608.58 360.67h1.5v1.5h-1.5zM606.37 350.93h1.5v1.5h-1.5zM607.03 344.89h1.5v1.5h-1.5zM598.37 338.22h1.5v1.5h-1.5zM592.79 361.81h1.5v1.5h-1.5zM606.59 365.91h1.5v1.5h-1.5zM606.76 361.01h1.5v1.5h-1.5zM603.59 331h1.5v1.5h-1.5zM598.11 366.28h1.5v1.5h-1.5zM607.78 358.58h1.5v1.5h-1.5zM613.63 345.48h1.5v1.5h-1.5z" fill="#ec6a9c" fill-opacity="0.5"/>
<path d="M605.07 341.34h1.5v1.5h-1.5zM611.68 353.35h1.5v1.5h-1.5zM606.76 355.25h1.5v1.5h-1.5zM606.91 350.08h1.5v1.5h-1.5zM597.74 346.7h1.5v1.5h-1.5zM599.06 350.57h1.5v1.5h-1.5zM612.14 342.19h1.5v1.5h-1.5zM606.41 348.41h1.5v1.5h-1.5zM607.7 348.53h1.5v1.5h-1.5zM617.03 343.69h1.5v1.5h-1.5zM601.44 350.07h1.5v1.5h-1.5zM604.22 366.48h1.5v1.5h-1.5zM606.92 336.57h1.5v1.5h-1.5zM599.59 346.39h1.5v1.5h-1.5zM609.17 357.13h1.5v1.5h-1.5zM614.37 349.29h1.5v1.5h-1.5zM614 341.8h1.5v1.5h-1.5zM599.06 344.74h1.5v1.5h-1.5zM585.53 345.62h1.5v1.5h-1.5zM600.28 356.52h1.5v1.5h-1.5zM601.69 357.03h1.5v1.5h-1.5zM601.8 357.43h1.5v1.5h-1.5zM607.9 366.79h1.5v1.5h-1.5zM605.69 374.92h1.5v1.5h-1.5zM606.14 357.95h1.5v1.5h-1.5zM599.31 362.84h1.5v1.5h-1.5zM612.08 368.21h1.5v1.5h-1.5zM600.32 371.1h1.5v1.5h-1.5zM594.77 362.83h1.5v1.5h-1.5zM607.88 357.19h1.5v1.5h-1.5zM597.76 359.53h1.5v1.5h-1.5zM609.91 340.22h1.5v1.5h-1.5zM599.17 359.32h1.5v1.5h-1.5zM601.45 345.14h1.5v1.5h-1.5zM612.45 352.67h1.5v1.5h-1.5zM567.68 371.52h1.5v1.5h-1.5zM588.04 347.31h1.5v1.5h-1.5zM601.39 361.35h1.5v1.5h-1.5zM599.15 351.18h1.5v1.5h-1.5zM588.34 346.08h1.5v1.5h-1.5zM578.21 357.42h1.5v1.5h-1.5zM606.66 348.01h1.5v1.5h-1.5zM604.62 364.02h1.5v1.5h-1.5zM600.53 363.89h1.5v1.5h-1.5zM612.11 341.94h1.5v1.5h-1.5zM591.12 359.36h1.5v1.5h-1.5zM608.71 357h1.5v1.5h-1.5zM577.42 355.29h1.5v1.5h-1.5zM605.15 365.06h1.5v1.5h-1.5zM601.3 359.93h1.5v1.5h-1.5zM610.6 363.85h1.5v1.5h-1.5zM598.43 350.29h1.5v1.5h-1.5zM600.42 363.5h1.5v1.5h-1.5zM597.17 357.02h1.5v1.5h-1.5zM606.32 365.08h1.5v1.5h-1.5zM613.35 348.1h1.5v1.5h-1.5zM604.97 348.55h1.5v1.5h-1.5zM606.64 355.32h1.5v1.5h-1.5zM607.12 347.52h1.5v1.5h-1.5zM608.51 370.48h1.5v1.5h-1.5zM585.09 347.25h1.5v1.5h-1.5zM603.41 347.82h1.5v1.5h-1.5zM603.33 349.75h1.5v1.5h-1.5zM613.74 355.95h1.5v1.5h-1.5zM604.33 354.59h1.5v1.5h-1.5zM602.91 356.71h1.5v1.5h-1.5zM601.81 367.77h1.5v1.5h-1.5zM606.15 352.59h1.5v1.5h-1.5zM608.64 349.04h1.5v1.5h-1.5zM600.17 388.36h1.5v1.5h-1.5zM605.25 340.89h1.5v1.5h-1.5zM606.48 346.43h1.5v1.5h-1.5zM595.8 345.22h1.5v1.5h-1.5zM600.17 358.65h1.5v1.5h-1.5zM603.86 348.01h1.5v1.5h-1.5zM615.51 354.08h1.5v1.5h-1.5zM600.07 370.09h1.5v1.5h-1.5zM607.09 359.38h1.5v1.5h-1.5zM610.91 355.72h1.5v1.5h-1.5zM584.22 359.45h1.5v1.5h-1.5zM617.93 343.61h1.5v1.5h-1.5zM595.89 369.72h1.5v1.5h-1.5zM602.73 354.91h1.5v1.5h-1.5zM608.75 352.49h1.5v1.5h-1.5zM600.94 370.57h1.5v1.5h-1.5zM598.61 351.61h1.5v1.5h-1.5zM582.07 340.93h1.5v1.5h-1.5zM607.94 355.62h1.5v1.5h-1.5zM608.85 361.38h1.5v1.5h-1.5zM611.16 353.19h1.5v1.5h-1.5zM603.65 360.29h1.5v1.5h-1.5zM617.46 352.18h1.5v1.5h-1.5zM590.93 360.35h1.5v1.5h-1.5zM601.27 361.94h1.5v1.5h-1.5zM600.35 366.15h1.5v1.5h-1.5zM609.67 353.53h1.5v1.5h-1.5zM605.87 340.53h1.5v1.5h-1.5zM610.15 343.44h1.5v1.5h-1.5zM596.67 365.64h1.5v1.5h-1.5zM605.57 366.91h1.5v1.5h-1.5zM601.78 364.6h1.5v1.5h-1.5zM605.86 351.81h1.5v1.5h-1.5zM609.52 352.04h1.5v1.5h-1.5zM610.16 343.92h1.5v1.5h-1.5zM607.47 355.09h1.5v1.5h-1.5zM608.67 344.96h1.5v1.5h-1.5zM601.74 358.58h1.5v1.5h-1.5zM601.2 360.63h1.5v1.5h-1.5zM601.36 364.84h1.5v1.5h-1.5zM597.46 366.3h1.5v1.5h-1.5zM608.58 360.4h1.5v1.5h-1.5zM595.82 357.37h1.5v1.5h-1.5z" fill="#ec6a9c" fill-opacity="0.5"/>
<path d="M565.1 368 L566.92 367.52 L568.75 367.02 L570.57 366.5 L572.39 365.96 L574.22 365.4 L576.04 364.83 L577.86 364.23 L579.69 363.62 L581.51 362.99 L583.33 362.35 L585.16 361.68 L586.98 360.99 L588.8 360.29 L590.63 359.57 L592.45 358.83 L594.27 358.07 L596.1 357.3 L597.92 356.51 L599.74 355.72 L601.57 354.92 L603.39 354.11 L605.21 353.3 L607.04 352.47 L608.86 351.64 L610.68 350.81 L612.51 349.96 L614.33 349.11 L616.15 348.25 L617.98 347.38 L619.8 346.5 L619.8 349.3 L617.98 349.98 L616.15 350.66 L614.33 351.35 L612.51 352.05 L610.68 352.76 L608.86 353.48 L607.04 354.2 L605.21 354.93 L603.39 355.67 L601.57 356.41 L599.74 357.17 L597.92 357.93 L596.1 358.7 L594.27 359.48 L592.45 360.27 L590.63 361.08 L588.8 361.92 L586.98 362.77 L585.16 363.63 L583.33 364.52 L581.51 365.43 L579.69 366.35 L577.86 367.29 L576.04 368.25 L574.22 369.23 L572.39 370.23 L570.57 371.24 L568.75 372.28 L566.92 373.33 L565.1 374.4Z" fill="#a0a0a0" fill-opacity="0.6"/>
<line x1="565.1" y1="371.2" x2="619.8" y2="347.9" stroke="#151515" stroke-width="0.85" />
<path d="M560.7 312.8 V416.3 H662.6" fill="none" stroke="#000" stroke-width="1.3"/>
<line x1="558.1" y1="328" x2="560.7" y2="328" stroke="#000" stroke-width="1" />
<text font-size="8.6" font-weight="bold" text-anchor="end" stroke="#000" stroke-width="0.18" transform="translate(557.1 330.8) scale(1 1.12)">21</text>
<line x1="558.1" y1="347.65" x2="560.7" y2="347.65" stroke="#000" stroke-width="1" />
<text font-size="8.6" font-weight="bold" text-anchor="end" stroke="#000" stroke-width="0.18" transform="translate(557.1 350.45) scale(1 1.12)">20</text>
<line x1="558.1" y1="367.3" x2="560.7" y2="367.3" stroke="#000" stroke-width="1" />
<text font-size="8.6" font-weight="bold" text-anchor="end" stroke="#000" stroke-width="0.18" transform="translate(557.1 370.1) scale(1 1.12)">19</text>
<line x1="558.1" y1="386.95" x2="560.7" y2="386.95" stroke="#000" stroke-width="1" />
<text font-size="8.6" font-weight="bold" text-anchor="end" stroke="#000" stroke-width="0.18" transform="translate(557.1 389.75) scale(1 1.12)">18</text>
<line x1="558.1" y1="406.6" x2="560.7" y2="406.6" stroke="#000" stroke-width="1" />
<text font-size="8.6" font-weight="bold" text-anchor="end" stroke="#000" stroke-width="0.18" transform="translate(557.1 409.4) scale(1 1.12)">17</text>
<text font-size="8.6" font-weight="bold" text-anchor="middle" stroke="#000" stroke-width="0.18" transform="translate(572.8 426.8) scale(1 1.12)">5</text>
<text font-size="8.6" font-weight="bold" text-anchor="middle" stroke="#000" stroke-width="0.18" transform="translate(597.5 426.8) scale(1 1.12)">10</text>
<text font-size="8.6" font-weight="bold" text-anchor="middle" stroke="#000" stroke-width="0.18" transform="translate(625.3 426.8) scale(1 1.12)">15</text>
<text font-size="8.6" font-weight="bold" text-anchor="middle" stroke="#000" stroke-width="0.18" transform="translate(651.6 426.8) scale(1 1.12)">20</text>
<text font-size="5.6" fill="#1a1a1a" transform="translate(565.4 325.2) scale(1 1.12)"><tspan font-style="italic">R</tspan> = 0.35, <tspan font-style="italic">p</tspan> &lt; 2.2e-16</text>
<text font-size="8.4" font-weight="bold" text-anchor="middle" stroke="#000" stroke-width="0.18" transform="translate(544.4 359.5) scale(0.89 1) rotate(-90)">Log<tspan font-size="5.6" dy="1.8">2</tspan><tspan dy="-1.8"> H3K36me3 signal (WT - KO)</tspan></text>
<text font-size="8.4" font-weight="bold" stroke="#000" stroke-width="0.18" transform="translate(539 437.2) scale(1 1.12)">Log<tspan font-size="5.6" dy="1.8">2</tspan><tspan dy="-1.8"> FLAG-SMYD5 signal (<tspan font-style="italic">Smyd5</tspan> KI)</tspan></text>
<text font-size="21.5" font-weight="bold" stroke="#000" stroke-width="0.18" transform="translate(11 465) scale(0.9 1)">k</text>
<text font-size="8.5" font-weight="bold" text-anchor="middle" stroke="#000" stroke-width="0.18" transform="translate(150.4 471) scale(1 1.12)"><tspan font-style="italic">Smyd5</tspan> O/E</text>
<path d="M66.7 565.4 67.1 565.59 67.5 565.3 67.9 565.36 68.3 565.32 68.7 565.39 69.1 565.15 69.5 565.23 69.9 565.4 70.3 565.33 70.7 565.2 71.1 565.3 71.5 565.07 71.9 564.91 72.3 565.18 72.7 564.79 73.1 564.41 73.5 564.3 73.9 564 74.3 563.72 74.7 564.05 75.1 564.55 75.5 564.65 75.9 565.24 76.3 565.4 76.7 565.74 77.1 565.7 77.5 565.8 77.9 565.62 78.3 565.29 78.7 564.78 79.1 564.41 79.5 564.27 79.9 563.68 80.3 563.79 80.7 563.86 81.1 564.21 81.5 564.13 81.9 564.42 82.3 564.35 82.7 564.03 83.1 563.91 83.5 563.93 83.9 563.69 84.3 563.83 84.7 564.22 85.1 564.17 85.5 563.77 85.9 564.22 86.3 564.13 86.7 564.13 87.1 563.87 87.5 564.27 87.9 564.29 88.3 564.04 88.7 563.93 89.1 563.67 89.5 563.21 89.9 562.7 90.3 562.31 90.7 562.33 91.1 562.19 91.5 561.71 91.9 561.46 92.3 560.89 92.7 560.07 93.1 559.56 93.5 558.5 93.9 556.7 94.3 554.92 94.7 553.06 95.1 550.97 95.5 549.59 95.9 547.67 96.3 545.42 96.7 542.45 97.1 541.51 97.5 541.58 97.9 543.32 98.3 545.57 98.7 548.05 99.1 549.58 99.5 551.38 99.9 552.69 100.3 553.57 100.7 554.61 101.1 555.4 101.5 556.18 101.9 557.14 102.3 558.43 102.7 559.58 103.1 560.39 103.5 560.63 103.9 560.83 104.3 560.79 104.7 560.44 105.1 560.9 105.5 561.07 105.9 561.29 106.3 561.29 106.7 561.49 107.1 561.39 107.5 561.37 107.9 561.11 108.3 561.21 108.7 561.5 109.1 561.85 109.5 562.33 109.9 562.84 110.3 563.16 110.7 562.93 111.1 562.99 111.5 562.98 111.9 562.54 112.3 562.22 112.7 562.27 113.1 561.98 113.5 561.72 113.9 561.81 114.3 562.12 114.7 562.09 115.1 562.28 115.5 562.26 115.9 562.28 116.3 562.42 116.7 562.68 117.1 562.83 117.5 562.88 117.9 563.23 118.3 563.17 118.7 563.15 119.1 562.73 119.5 562.97 119.9 562.99 120.3 562.93 120.7 563.02 121.1 563.41 121.5 563.31 121.9 563 122.3 562.98 122.7 563.02 123.1 562.89 123.5 562.69 123.9 563.27 124.3 563.42 124.7 563.32 125.1 563.36 125.5 563.06 125.9 562.44 126.3 562.29 126.7 562.63 127.1 562.34 127.5 562.74 127.9 563.41 128.3 563.61 128.7 563.46 129.1 564.11 129.5 564.25 129.9 563.86 130.3 563.89 130.7 564 131.1 563.58 131.5 563.91 131.9 563.62 132.3 563.35 132.7 563.78 133.1 563.89 133.5 563.73 133.9 563.87 134.3 563.95 134.7 563.21 135.1 563.24 135.5 563.24 135.9 563.78 136.3 564.01 136.7 564.46 137.1 564.44 137.5 564.6 137.9 564.38 138.3 564.47 138.7 564.09 139.1 564.15 139.5 564.13 139.9 564.14 140.3 563.9 140.7 563.85 141.1 563.88 141.5 563.71 141.9 563.73 142.3 563.61 142.7 563.67 143.1 563.78 143.5 563.47 143.9 563.51 144.3 563.62 144.7 563.66 145.1 563.1 145.5 563.01 145.9 562.62 146.3 562.51 146.7 562.32 147.1 562.86 147.5 563.19 147.9 563.34 148.3 563.06 148.7 563.55 149.1 563.42 149.5 563.51 149.9 563.44 150.3 563.84 150.7 563.7 151.1 563.8 151.5 563.88 151.9 563.98 152.3 564.37 152.7 563.87 153.1 563.72 153.5 563.72 153.9 563.71 154.3 563.24 154.7 563.27 155.1 563.61 155.5 563.05 155.9 563.2 156.3 563.33 156.7 563.84 157.1 563.89 157.5 564.13 157.9 563.88 158.3 563.78 158.7 563.28 159.1 563.15 159.5 563.22 159.9 563.4 160.3 563.25 160.7 563.59 161.1 563.31 161.5 563.37 161.9 563.13 162.3 563.55 162.7 563.42 163.1 563.05 163.5 563.19 163.9 563.34 164.3 562.98 164.7 563.59 165.1 564.08 165.5 563.69 165.9 563.63 166.3 563.88 166.7 563.35 167.1 563.61 167.5 564.08 167.9 564.04 168.3 563.98 168.7 564.15 169.1 563.83 169.5 563.54 169.9 563.87 170.3 563.95 170.7 563.56 171.1 563.53 171.5 563.55 171.9 563.35 172.3 563.13 172.7 563.67 173.1 563.59 173.5 563.46 173.9 563.53 174.3 563.23 174.7 562.77 175.1 563.09 175.5 563.04 175.9 562.84 176.3 563.49 176.7 563.79 177.1 563.68 177.5 563.99 177.9 564.02 178.3 563.88 178.7 563.75 179.1 564.23 179.5 564.29 179.9 564.36 180.3 564.29 180.7 564.35 181.1 563.6 181.5 563.34 181.9 563.7 182.3 563.44 182.7 563.32 183.1 563.79 183.5 564.25 183.9 563.76 184.3 564.32 184.7 564.37 185.1 564.49 185.5 564.3 185.9 564.45 186.3 564.31 186.7 564.49 187.1 564.02 187.5 564.35 187.9 564.34 188.3 564.42 188.7 564.23 189.1 564.02 189.5 563.39 189.9 563.44 190.3 563.35 190.7 563.79 191.1 564.17 191.5 564.33 191.9 564.12 192.3 563.98 192.7 563.7 193.1 563.26 193.5 563.57 193.9 564.03 194.3 564.48 194.7 564.25 195.1 564.69 195.5 564.44 195.9 563.97 196.3 563.36 196.7 563.35 197.1 563.44 197.5 563.53 197.9 564.05 198.3 564.14 198.7 564.06 199.1 564.05 199.5 564.04 199.9 563.91 200.3 564.23 200.7 564.39 201.1 564.54 201.5 564.45 201.9 564.63 202.3 564.83 202.7 565.22 203.1 565.34 203.5 565.33 203.9 565.09 204.3 564.82 204.7 564.45 205.1 564.07 205.5 564.65 205.9 564.67 206.3 564.31 206.7 564.18 207.1 564.45 207.5 563.29 207.9 563.08 208.3 563.31 208.7 563.38 209.1 563.19 209.5 563.51 209.9 563.55 210.3 563.42 210.7 563.52 211.1 563.43 211.5 563.62 211.9 563.83 212.3 563.76 212.7 563.63 213.1 563.53 213.5 563.45 213.9 562.93 214.3 562.59 214.7 562.43 215.1 562.53 215.5 562.45 215.9 562.65 216.3 563.57 216.7 564.04 217.1 563.93 217.5 563.92 217.9 564.26 218.3 563.54 218.7 563.55 219.1 563.69 219.5 564.07 219.9 563.65 220.3 563.96 220.7 563.36 221.1 563.2 221.5 563.13 221.9 563.39 222.3 562.84 222.7 563.32 223.1 563.43 223.5 563.19 223.9 562.9 224.3 563.19 224.7 562.93 225.1 563.02 225.5 563.11 225.9 563.44 226.3 563.62 226.7 563.47 227.1 563.3 227.5 563.61 227.9 563.18 228.3 563.08 228.7 563.17 229.1 562.96 229.5 562.57 229.9 562.95 230.3 563.03 230.7 563.26 231.1 563.61 231.5 563.24 231.9 563.2 232.3 563.12 232.7 562.98 233.1 562.78 233.5 562.92 233.9 562.98 234.3 562.74" fill="none" stroke="#1f9a1f" stroke-width="1.2" stroke-linejoin="round" />
<path d="M66.7 563.46 67.1 563.24 67.5 563.29 67.9 563.31 68.3 563.61 68.7 563.77 69.1 563.79 69.5 563.43 69.9 563.32 70.3 563.21 70.7 563.19 71.1 563.51 71.5 563.76 71.9 563.64 72.3 563.21 72.7 563.23 73.1 562.96 73.5 562.85 73.9 562.93 74.3 563.13 74.7 562.93 75.1 563.25 75.5 563.48 75.9 563.56 76.3 563.84 76.7 564.02 77.1 563.71 77.5 563.95 77.9 563.76 78.3 563.74 78.7 563.58 79.1 563.47 79.5 562.66 79.9 562.33 80.3 562.45 80.7 562.72 81.1 562.69 81.5 563.08 81.9 563.48 82.3 563.04 82.7 563.07 83.1 562.95 83.5 562.82 83.9 562.23 84.3 562.64 84.7 562.3 85.1 562.58 85.5 562.24 85.9 562.37 86.3 561.75 86.7 561.39 87.1 561.08 87.5 561.24 87.9 561.03 88.3 560.57 88.7 560.3 89.1 559.8 89.5 559.12 89.9 558.45 90.3 557.86 90.7 556.61 91.1 555.42 91.5 554.6 91.9 552.27 92.3 548.71 92.7 544.1 93.1 538.57 93.5 533.01 93.9 527.63 94.3 522.46 94.7 517.81 95.1 514.43 95.5 511.5 95.9 508.86 96.3 506.06 96.7 504.18 97.1 505.19 97.5 508.14 97.9 512.07 98.3 516.06 98.7 520.59 99.1 524.05 99.5 527.58 99.9 530.91 100.3 534.15 100.7 537.02 101.1 540.32 101.5 543.15 101.9 545.22 102.3 546.67 102.7 547.78 103.1 548.48 103.5 549.46 103.9 550.31 104.3 550.74 104.7 551.25 105.1 552.32 105.5 552.78 105.9 553.31 106.3 553.74 106.7 554.4 107.1 554.47 107.5 554.77 107.9 554.96 108.3 555.56 108.7 555.94 109.1 556.15 109.5 556.64 109.9 557.42 110.3 557.91 110.7 557.84 111.1 558.17 111.5 558.5 111.9 558.37 112.3 558.19 112.7 558.38 113.1 558.3 113.5 558.24 113.9 558.44 114.3 558.35 114.7 558.52 115.1 559 115.5 559.09 115.9 559.27 116.3 559.48 116.7 559.76 117.1 559.5 117.5 559.85 117.9 559.69 118.3 559.72 118.7 559.41 119.1 559.54 119.5 559.21 119.9 559.24 120.3 559.37 120.7 559.7 121.1 559.98 121.5 560.08 121.9 560.46 122.3 560.42 122.7 560.2 123.1 559.93 123.5 560.16 123.9 559.76 124.3 559.76 124.7 560.21 125.1 560.75 125.5 560.95 125.9 561.02 126.3 561.31 126.7 561.28 127.1 561.05 127.5 560.6 127.9 560.84 128.3 560.59 128.7 560.29 129.1 560.68 129.5 561.11 129.9 560.96 130.3 561.04 130.7 561.37 131.1 560.95 131.5 560.96 131.9 561.11 132.3 561.33 132.7 561.29 133.1 561.22 133.5 560.81 133.9 560.72 134.3 560.64 134.7 560.56 135.1 560.73 135.5 561.04 135.9 561.33 136.3 561.3 136.7 561.57 137.1 561.92 137.5 561.99 137.9 561.94 138.3 562.3 138.7 562.18 139.1 561.87 139.5 561.79 139.9 561.63 140.3 561.23 140.7 561.24 141.1 561.41 141.5 561.26 141.9 561.37 142.3 561.61 142.7 561.43 143.1 561.1 143.5 561.22 143.9 560.9 144.3 560.85 144.7 560.88 145.1 561.36 145.5 561.59 145.9 561.86 146.3 561.87 146.7 562.21 147.1 562.13 147.5 562.01 147.9 562.05 148.3 561.81 148.7 561.47 149.1 561.17 149.5 561.02 149.9 561.33 150.3 561.26 150.7 561.3 151.1 561.4 151.5 561.59 151.9 561.59 152.3 561.67 152.7 561.57 153.1 561.52 153.5 561.47 153.9 561.13 154.3 561.24 154.7 561.54 155.1 561.35 155.5 561.24 155.9 561.55 156.3 561.97 156.7 561.94 157.1 561.97 157.5 561.93 157.9 561.54 158.3 561.06 158.7 560.84 159.1 561.2 159.5 561.39 159.9 561.41 160.3 561.47 160.7 561.35 161.1 561.34 161.5 560.97 161.9 561.14 162.3 561.03 162.7 561.05 163.1 560.6 163.5 561.1 163.9 561.04 164.3 561.75 164.7 561.75 165.1 561.82 165.5 561.76 165.9 561.87 166.3 561.36 166.7 561.2 167.1 561.63 167.5 561.63 167.9 561.6 168.3 561.55 168.7 562 169.1 561.66 169.5 561.57 169.9 561.48 170.3 561.79 170.7 561.6 171.1 561.64 171.5 561.82 171.9 561.89 172.3 561.68 172.7 561.72 173.1 561.94 173.5 561.64 173.9 561.69 174.3 562.03 174.7 562.14 175.1 561.85 175.5 561.76 175.9 561.71 176.3 561.16 176.7 560.83 177.1 560.84 177.5 560.86 177.9 560.98 178.3 560.94 178.7 561.48 179.1 561.48 179.5 561.69 179.9 561.65 180.3 561.94 180.7 561.79 181.1 561.76 181.5 561.36 181.9 561.21 182.3 560.89 182.7 560.68 183.1 561 183.5 561.35 183.9 561.29 184.3 561.38 184.7 561.43 185.1 561.24 185.5 561.01 185.9 561.16 186.3 561.17 186.7 561.26 187.1 561.22 187.5 561.65 187.9 561.75 188.3 561.93 188.7 561.88 189.1 562.03 189.5 562.1 189.9 562.14 190.3 562.17 190.7 562.24 191.1 562.44 191.5 561.94 191.9 561.85 192.3 561.68 192.7 561.86 193.1 561.52 193.5 561.78 193.9 561.51 194.3 561.67 194.7 561.58 195.1 561.95 195.5 561.76 195.9 561.87 196.3 562.53 196.7 562.56 197.1 562.28 197.5 562.59 197.9 562.22 198.3 561.84 198.7 561.71 199.1 561.47 199.5 561.59 199.9 561.93 200.3 561.49 200.7 561.56 201.1 561.95 201.5 561.87 201.9 562.26 202.3 562.53 202.7 562.52 203.1 562.84 203.5 563.18 203.9 563.12 204.3 563.17 204.7 563.11 205.1 562.7 205.5 562.09 205.9 562.08 206.3 561.68 206.7 561.58 207.1 561.37 207.5 561.09 207.9 561.01 208.3 561.02 208.7 560.84 209.1 560.88 209.5 560.98 209.9 560.67 210.3 560.59 210.7 560.83 211.1 560.84 211.5 560.78 211.9 560.96 212.3 561.17 212.7 560.91 213.1 560.98 213.5 561.29 213.9 561.45 214.3 561.29 214.7 561.64 215.1 561.58 215.5 561.63 215.9 561.29 216.3 561.44 216.7 561.4 217.1 561.23 217.5 560.79 217.9 560.85 218.3 560.8 218.7 560.75 219.1 561.07 219.5 561.41 219.9 561.63 220.3 561.71 220.7 561.73 221.1 561.78 221.5 561.94 221.9 561.74 222.3 561.79 222.7 561.66 223.1 561.43 223.5 561.37 223.9 561.54 224.3 561.46 224.7 561.75 225.1 562.19 225.5 562.56 225.9 562.44 226.3 562.71 226.7 562.69 227.1 562.51 227.5 562.31 227.9 562.41 228.3 562.39 228.7 562.34 229.1 562.18 229.5 562.1 229.9 562.11 230.3 562.2 230.7 562.25 231.1 562.43 231.5 562.65 231.9 562.42 232.3 562.19 232.7 562.23 233.1 562.13 233.5 561.74 233.9 562.08 234.3 562.12" fill="none" stroke="#2222ff" stroke-width="1.2" stroke-linejoin="round" />
<path d="M66.7 562.64 67.1 562.48 67.5 562.91 67.9 562.64 68.3 562.19 68.7 561.98 69.1 561.93 69.5 561.99 69.9 561.95 70.3 562.29 70.7 562.02 71.1 561.87 71.5 561.64 71.9 562.03 72.3 561.67 72.7 561.53 73.1 561.75 73.5 561.73 73.9 561.25 74.3 561.13 74.7 561.4 75.1 561.31 75.5 561.42 75.9 561.32 76.3 561.97 76.7 562.07 77.1 561.95 77.5 561.93 77.9 562.22 78.3 562.21 78.7 562.41 79.1 562.38 79.5 562.14 79.9 561.97 80.3 561.35 80.7 561.15 81.1 560.97 81.5 561.26 81.9 561.22 82.3 561.14 82.7 561.08 83.1 560.69 83.5 560.06 83.9 560.07 84.3 559.99 84.7 559.67 85.1 560.03 85.5 559.98 85.9 559.71 86.3 559.31 86.7 558.55 87.1 558.08 87.5 557.1 87.9 556.08 88.3 555.73 88.7 555.42 89.1 554.14 89.5 553.32 89.9 552.15 90.3 549.87 90.7 547.46 91.1 545.15 91.5 542.85 91.9 539.37 92.3 534.44 92.7 527.83 93.1 520.83 93.5 513.18 93.9 505.94 94.3 498.64 94.7 492.44 95.1 488.15 95.5 485.26 95.9 481.93 96.3 479.29 96.7 478.9 97.1 480.56 97.5 485.29 97.9 490.12 98.3 494.54 98.7 498.88 99.1 503.38 99.5 507.6 99.9 511.91 100.3 515.95 100.7 520.15 101.1 523.98 101.5 527.26 101.9 530.29 102.3 533.35 102.7 535.76 103.1 537.93 103.5 540.35 103.9 541.87 104.3 543.25 104.7 544.38 105.1 545.25 105.5 545.62 105.9 546.51 106.3 547.29 106.7 547.95 107.1 548.23 107.5 549.08 107.9 549.99 108.3 550.32 108.7 550.88 109.1 552.2 109.5 552.79 109.9 553.13 110.3 553.5 110.7 553.69 111.1 553.72 111.5 553.86 111.9 553.81 112.3 553.99 112.7 554.29 113.1 554.3 113.5 554.35 113.9 554.89 114.3 555.15 114.7 555.38 115.1 555.5 115.5 555.94 115.9 555.89 116.3 556.14 116.7 556.36 117.1 556.19 117.5 556.29 117.9 556.67 118.3 557.11 118.7 557.19 119.1 557.61 119.5 557.79 119.9 557.73 120.3 557.67 120.7 557.94 121.1 558.16 121.5 558.01 121.9 558.14 122.3 557.8 122.7 557.93 123.1 557.81 123.5 558.12 123.9 558.01 124.3 558.47 124.7 558.45 125.1 558.81 125.5 558.53 125.9 558.97 126.3 559 126.7 558.81 127.1 558.75 127.5 559.02 127.9 558.84 128.3 558.78 128.7 559.03 129.1 558.99 129.5 559.06 129.9 558.98 130.3 559.07 130.7 559.15 131.1 559.45 131.5 559.54 131.9 560.07 132.3 560.23 132.7 559.99 133.1 559.92 133.5 559.79 133.9 559.65 134.3 559.92 134.7 560.14 135.1 560.06 135.5 560.81 135.9 560.84 136.3 560.74 136.7 561.02 137.1 561.07 137.5 560.62 137.9 560.71 138.3 560.23 138.7 560.42 139.1 560.28 139.5 560.11 139.9 560.17 140.3 560.66 140.7 560.13 141.1 560.39 141.5 560.39 141.9 560.14 142.3 559.84 142.7 559.93 143.1 559.98 143.5 560.24 143.9 560.45 144.3 560.94 144.7 561.11 145.1 560.9 145.5 560.83 145.9 561.1 146.3 560.93 146.7 561.01 147.1 561.13 147.5 561.24 147.9 561 148.3 561 148.7 560.91 149.1 560.77 149.5 560.56 149.9 560.56 150.3 560.72 150.7 560.94 151.1 561.12 151.5 561.13 151.9 561.18 152.3 561.16 152.7 560.68 153.1 560.83 153.5 561.12 153.9 561.34 154.3 560.99 154.7 561.04 155.1 561.05 155.5 560.57 155.9 560.1 156.3 560.11 156.7 560.17 157.1 559.63 157.5 559.95 157.9 560.3 158.3 560.62 158.7 560.92 159.1 561.24 159.5 561.59 159.9 561.5 160.3 561.63 160.7 561.24 161.1 561.39 161.5 560.87 161.9 560.84 162.3 560.67 162.7 560.77 163.1 560.74 163.5 561.21 163.9 561.25 164.3 561.34 164.7 561.4 165.1 561.23 165.5 560.78 165.9 560.71 166.3 560.84 166.7 561.11 167.1 561.25 167.5 561.25 167.9 561.32 168.3 561.04 168.7 560.58 169.1 560.23 169.5 560.4 169.9 560.13 170.3 560.52 170.7 560.92 171.1 561.07 171.5 561.04 171.9 561.55 172.3 561.03 172.7 561.19 173.1 561.49 173.5 561.89 173.9 561.68 174.3 561.8 174.7 561.76 175.1 561.69 175.5 561.6 175.9 561.48 176.3 561.97 176.7 561.85 177.1 561.93 177.5 561.61 177.9 561.65 178.3 561.27 178.7 561.33 179.1 561.42 179.5 561.45 179.9 561.25 180.3 561.47 180.7 561.38 181.1 561.06 181.5 561.41 181.9 561.73 182.3 560.98 182.7 560.96 183.1 561.25 183.5 561.19 183.9 560.93 184.3 561.78 184.7 561.69 185.1 561.49 185.5 561.35 185.9 561.45 186.3 561.3 186.7 561.67 187.1 561.7 187.5 561.96 187.9 561.82 188.3 561.62 188.7 561.76 189.1 561.79 189.5 561.72 189.9 561.78 190.3 561.77 190.7 561.4 191.1 561.41 191.5 561.13 191.9 561.22 192.3 561.41 192.7 561.68 193.1 561.67 193.5 561.86 193.9 562.05 194.3 561.69 194.7 561.13 195.1 561.44 195.5 561.57 195.9 561.4 196.3 561.69 196.7 561.82 197.1 561.21 197.5 561.01 197.9 560.7 198.3 560.81 198.7 560.87 199.1 561.2 199.5 561.53 199.9 562.21 200.3 561.97 200.7 562.32 201.1 562.16 201.5 561.9 201.9 561.97 202.3 562.73 202.7 562.82 203.1 563.3 203.5 563.12 203.9 561.98 204.3 560.61 204.7 560.04 205.1 559.16 205.5 558.74 205.9 558.85 206.3 558.42 206.7 558.06 207.1 558.07 207.5 558.03 207.9 557.99 208.3 558.02 208.7 557.68 209.1 557.25 209.5 556.77 209.9 556.38 210.3 556.7 210.7 557.15 211.1 557.21 211.5 557.58 211.9 557.52 212.3 557.28 212.7 556.82 213.1 556.65 213.5 556.52 213.9 556.82 214.3 556.84 214.7 556.96 215.1 557.12 215.5 557.11 215.9 557.01 216.3 557.17 216.7 557.06 217.1 557.33 217.5 557.49 217.9 557.9 218.3 558.09 218.7 558.41 219.1 558.27 219.5 557.83 219.9 557.62 220.3 557.73 220.7 558.07 221.1 557.73 221.5 557.99 221.9 557.96 222.3 557.5 222.7 557.24 223.1 557.81 223.5 557.89 223.9 558 224.3 557.93 224.7 557.73 225.1 557.58 225.5 557.91 225.9 557.62 226.3 557.94 226.7 558.34 227.1 558.55 227.5 558.57 227.9 558.81 228.3 558.98 228.7 559.04 229.1 559.54 229.5 559.57 229.9 560.03 230.3 559.98 230.7 559.86 231.1 559.77 231.5 559.78 231.9 559.82 232.3 560 232.7 560.45 233.1 560.65 233.5 560.41 233.9 560.54 234.3 560.51" fill="none" stroke="#ff2020" stroke-width="1.2" stroke-linejoin="round" />
<rect x="66.2" y="475" width="168.6" height="95.6" fill="none" stroke="#666" stroke-width="0.9" />
<line x1="63.8" y1="553.8" x2="66.2" y2="553.8" stroke="#000" stroke-width="0.8" />
<text font-size="6.9" font-weight="bold" text-anchor="end" stroke="#000" stroke-width="0.18" transform="translate(62.7 556.3) scale(1 1.12)">5</text>
<line x1="63.8" y1="536.8" x2="66.2" y2="536.8" stroke="#000" stroke-width="0.8" />
<text font-size="6.9" font-weight="bold" text-anchor="end" stroke="#000" stroke-width="0.18" transform="translate(62.7 539.3) scale(1 1.12)">10</text>
<line x1="63.8" y1="519.8" x2="66.2" y2="519.8" stroke="#000" stroke-width="0.8" />
<text font-size="6.9" font-weight="bold" text-anchor="end" stroke="#000" stroke-width="0.18" transform="translate(62.7 522.3) scale(1 1.12)">15</text>
<line x1="63.8" y1="502.8" x2="66.2" y2="502.8" stroke="#000" stroke-width="0.8" />
<text font-size="6.9" font-weight="bold" text-anchor="end" stroke="#000" stroke-width="0.18" transform="translate(62.7 505.3) scale(1 1.12)">20</text>
<line x1="63.8" y1="485.8" x2="66.2" y2="485.8" stroke="#000" stroke-width="0.8" />
<text font-size="6.9" font-weight="bold" text-anchor="end" stroke="#000" stroke-width="0.18" transform="translate(62.7 488.3) scale(1 1.12)">25</text>
<line x1="66.2" y1="570.6" x2="66.2" y2="572.9" stroke="#000" stroke-width="0.8" />
<line x1="97" y1="570.6" x2="97" y2="572.9" stroke="#000" stroke-width="0.8" />
<line x1="203.3" y1="570.6" x2="203.3" y2="572.9" stroke="#000" stroke-width="0.8" />
<line x1="234.8" y1="570.6" x2="234.8" y2="572.9" stroke="#000" stroke-width="0.8" />
<text font-size="6.9" font-weight="bold" text-anchor="middle" stroke="#000" stroke-width="0.18" transform="translate(67 578.7) scale(1 1.12)">-3.0</text>
<text font-size="6.9" font-weight="bold" text-anchor="middle" stroke="#000" stroke-width="0.18" transform="translate(98 578.7) scale(1 1.12)">TSS</text>
<text font-size="6.9" font-weight="bold" text-anchor="middle" stroke="#000" stroke-width="0.18" transform="translate(200.6 578.7) scale(1 1.12)">TES</text>
<text font-size="6.9" font-weight="bold" text-anchor="end" stroke="#000" stroke-width="0.18" transform="translate(238.8 578.7) scale(1 1.12)">3.0 Kb</text>
<text font-size="8.4" font-weight="bold" text-anchor="middle" stroke="#000" stroke-width="0.18" transform="translate(51.1 521.3) scale(0.89 1) rotate(-90)">FLAG-SMYD5 reads density</text>
<line x1="138" y1="482.8" x2="149.2" y2="482.8" stroke="#ff2020" stroke-width="1.1" />
<text font-size="6.9" font-weight="bold" stroke="#000" stroke-width="0.18" transform="translate(152.4 485.3) scale(1 1.12)">High expression</text>
<line x1="138" y1="491.2" x2="149.2" y2="491.2" stroke="#2222ff" stroke-width="1.1" />
<text font-size="6.9" font-weight="bold" stroke="#000" stroke-width="0.18" transform="translate(152.4 493.7) scale(1 1.12)">Medium expression</text>
<line x1="138" y1="499.6" x2="149.2" y2="499.6" stroke="#1f9a1f" stroke-width="1.1" />
<text font-size="6.9" font-weight="bold" stroke="#000" stroke-width="0.18" transform="translate(152.4 502.1) scale(1 1.12)">Low expression</text>
<text font-size="21.5" font-weight="bold" stroke="#000" stroke-width="0.18" transform="translate(10.3 611.5) scale(0.9 1)">l</text>
<text font-size="8.5" font-weight="bold" text-anchor="middle" stroke="#000" stroke-width="0.18" transform="translate(141.4 622.8) scale(1 1.12)"><tspan font-style="italic">Smyd5</tspan> KI</text>
<path d="M66.2 715.58 66.59 715.45 66.98 715.31 67.37 715.38 67.76 715.18 68.16 715.12 68.55 715.2 68.94 714.89 69.33 715.31 69.72 715.73 70.11 715.91 70.5 715.97 70.89 715.91 71.29 716.07 71.68 715.69 72.07 715.53 72.46 715.47 72.85 715.71 73.24 715.21 73.63 715.14 74.02 714.91 74.41 714.7 74.81 714.89 75.2 714.64 75.59 714.95 75.98 715.1 76.37 715.06 76.76 714.58 77.15 714.66 77.54 714.04 77.94 713.92 78.33 713.93 78.72 713.89 79.11 714 79.5 714.43 79.89 714.19 80.28 714.26 80.67 714.21 81.06 714.6 81.46 714.23 81.85 714.16 82.24 713.76 82.63 713.89 83.02 713.54 83.41 713.75 83.8 713.8 84.19 714.34 84.58 714.47 84.98 714.07 85.37 713.97 85.76 713.65 86.15 713.15 86.54 713.26 86.93 713 87.32 712.63 87.71 712.93 88.11 712.13 88.5 711.7 88.89 711.15 89.28 710.86 89.67 710.33 90.06 710.71 90.45 710.02 90.84 709.25 91.23 707.99 91.63 706.69 92.02 704.39 92.41 702.7 92.8 701.42 93.19 700.48 93.58 699.18 93.97 697.56 94.36 696.16 94.76 694.67 95.15 692.21 95.54 689.45 95.93 687.43 96.32 686.14 96.71 686.5 97.1 688.94 97.49 691.67 97.88 694.14 98.28 696.24 98.67 698.37 99.06 699.18 99.45 700.09 99.84 701.88 100.23 704.18 100.62 705.34 101.01 707.34 101.41 708.25 101.8 708.45 102.19 708.04 102.58 708.18 102.97 708.39 103.36 708.75 103.75 709.02 104.14 709.13 104.53 709.16 104.93 709.24 105.32 709.62 105.71 709.45 106.1 709.96 106.49 710.48 106.88 710.5 107.27 710.45 107.66 710.67 108.06 710.28 108.45 710.53 108.84 710.96 109.23 710.99 109.62 711.18 110.01 711.48 110.4 711.54 110.79 711.75 111.18 711.75 111.58 711.92 111.97 712.02 112.36 712.04 112.75 712.09 113.14 712.09 113.53 711.59 113.92 711.61 114.31 711.16 114.71 711.26 115.1 711.36 115.49 711.83 115.88 711.98 116.27 712.46 116.66 712.02 117.05 712.24 117.44 712.58 117.83 712.51 118.23 712.95 118.62 713.18 119.01 712.68 119.4 712.72 119.79 712.44 120.18 712.13 120.57 712.63 120.96 713.5 121.35 713.07 121.75 713.35 122.14 713.33 122.53 713.19 122.92 712.82 123.31 713.4 123.7 713.72 124.09 713.74 124.48 713.41 124.88 714.03 125.27 713.47 125.66 713.18 126.05 713.46 126.44 713.75 126.83 713.05 127.22 713.19 127.61 713.19 128 713.11 128.4 712.72 128.79 713.36 129.18 713.76 129.57 714.1 129.96 714.02 130.35 714.3 130.74 714.17 131.13 713.99 131.53 713.99 131.92 714.13 132.31 713.98 132.7 714.02 133.09 713.99 133.48 713.75 133.87 713.61 134.26 714.01 134.65 714.13 135.05 713.79 135.44 714.04 135.83 713.88 136.22 713.42 136.61 712.98 137 713.3 137.39 713.11 137.78 713.16 138.18 713.29 138.57 713.09 138.96 712.85 139.35 712.71 139.74 712.51 140.13 712.6 140.52 712.62 140.91 712.89 141.3 713.17 141.7 713.61 142.09 713.48 142.48 713.99 142.87 713.99 143.26 714.04 143.65 714.05 144.04 713.7 144.43 713.55 144.83 713.92 145.22 713.89 145.61 713.65 146 714.44 146.39 714.38 146.78 714.32 147.17 713.73 147.56 713.82 147.95 713.25 148.35 713.32 148.74 713.31 149.13 713.83 149.52 713.76 149.91 713.21 150.3 713.31 150.69 713.35 151.08 713.42 151.47 713.36 151.87 714.11 152.26 714.17 152.65 714.01 153.04 714.47 153.43 714.45 153.82 714.05 154.21 713.92 154.6 714.07 155 713.48 155.39 713.61 155.78 713.78 156.17 713.37 156.56 712.9 156.95 712.52 157.34 712.59 157.73 712.85 158.12 713.35 158.52 713.33 158.91 713.67 159.3 713.21 159.69 712.76 160.08 712.76 160.47 713.62 160.86 713.52 161.25 713.83 161.65 714.39 162.04 714.02 162.43 713.49 162.82 713.67 163.21 713.69 163.6 713.69 163.99 713.79 164.38 713.36 164.77 713.63 165.17 713.71 165.56 713.36 165.95 713.24 166.34 713.67 166.73 713.31 167.12 713.34 167.51 713.7 167.9 713.87 168.3 713.99 168.69 713.84 169.08 713.95 169.47 713.85 169.86 714.31 170.25 714.06 170.64 714.6 171.03 714.42 171.42 714.05 171.82 713.4 172.21 713.23 172.6 713.21 172.99 713.06 173.38 713.33 173.77 713.75 174.16 714.21 174.55 714.25 174.95 714.78 175.34 714.51 175.73 714.18 176.12 713.97 176.51 714.01 176.9 713.78 177.29 713.87 177.68 713.94 178.07 713.48 178.47 713.41 178.86 712.87 179.25 713.1 179.64 713.4 180.03 714.01 180.42 713.44 180.81 713.91 181.2 713.78 181.59 713.46 181.99 713.63 182.38 714.08 182.77 713.7 183.16 713.53 183.55 713.76 183.94 713.43 184.33 713.1 184.72 713.04 185.12 713.17 185.51 712.9 185.9 713.04 186.29 713.16 186.68 713.71 187.07 714.13 187.46 713.85 187.85 713.52 188.24 714.03 188.64 713.77 189.03 713.48 189.42 714.09 189.81 714.05 190.2 713.58 190.59 713.3 190.98 713.43 191.37 713.09 191.77 713.18 192.16 712.67 192.55 713.29 192.94 713.32 193.33 713.25 193.72 713.62 194.11 713.65 194.5 713.4 194.89 712.84 195.29 713.67 195.68 712.76 196.07 713.05 196.46 712.89 196.85 713.48 197.24 713.03 197.63 713.73 198.02 713.96 198.42 714.64 198.81 714.28 199.2 714.16 199.59 714.56 199.98 714.57 200.37 714.29 200.76 715.22 201.15 715.58 201.54 714.99 201.94 715.23 202.33 715.79 202.72 715.38 203.11 715.37 203.5 715.63 203.89 715.37 204.28 715.21 204.67 715.41 205.07 715.42 205.46 715.26 205.85 715.36 206.24 714.95 206.63 714.74 207.02 714.29 207.41 714.12 207.8 714.31 208.19 713.91 208.59 713.62 208.98 713.52 209.37 713.43 209.76 712.75 210.15 712.74 210.54 712.97 210.93 712.93 211.32 712.88 211.72 713.57 212.11 713.44 212.5 713.51 212.89 713.69 213.28 713.55 213.67 713.07 214.06 713.3 214.45 713.37 214.84 713.52 215.24 713.78 215.63 713.61 216.02 713.31 216.41 712.97 216.8 712.44 217.19 712.47 217.58 712.71 217.97 713.21 218.36 713.49 218.76 713.86 219.15 714.02 219.54 714.04 219.93 714.21 220.32 714.17 220.71 714.54 221.1 714.76 221.49 714.64 221.89 714.06 222.28 714.03 222.67 713.93 223.06 713.46 223.45 713.99 223.84 714.37 224.23 714.21 224.62 714.03 225.01 713.87 225.41 713.14 225.8 713.04 226.19 712.79 226.58 712.71 226.97 713.05 227.36 712.84 227.75 712.74 228.14 713.14 228.54 712.61 228.93 712.53 229.32 712.83 229.71 712.56 230.1 712.71" fill="none" stroke="#1f9a1f" stroke-width="1.2" stroke-linejoin="round" />
<path d="M66.2 713.62 66.59 713.89 66.98 714.39 67.37 714.3 67.76 714.44 68.16 714.31 68.55 714.32 68.94 714.12 69.33 713.89 69.72 713.98 70.11 714.01 70.5 713.49 70.89 713.07 71.29 713.28 71.68 713.41 72.07 713.54 72.46 713.78 72.85 713.81 73.24 713.72 73.63 713.47 74.02 712.99 74.41 713.13 74.81 713.1 75.2 713.09 75.59 713.1 75.98 713.52 76.37 713.57 76.76 713.82 77.15 713.45 77.54 713.11 77.94 713.14 78.33 713 78.72 712.52 79.11 712.3 79.5 712.64 79.89 712.84 80.28 712.88 80.67 713.11 81.06 713.52 81.46 712.78 81.85 712.12 82.24 712.13 82.63 712.31 83.02 711.81 83.41 712.54 83.8 712.73 84.19 712.44 84.58 711.8 84.98 711.71 85.37 710.76 85.76 710.21 86.15 709.69 86.54 709.04 86.93 708.6 87.32 708.2 87.71 707.83 88.11 707.34 88.5 706.55 88.89 706.06 89.28 704.55 89.67 701.06 90.06 696.28 90.45 692.08 90.84 687.14 91.23 682.3 91.63 678.08 92.02 673.59 92.41 669.29 92.8 665.08 93.19 661.53 93.58 658.56 93.97 657.05 94.36 655.9 94.76 654.75 95.15 653.33 95.54 652.01 95.93 651.73 96.32 652.65 96.71 654.84 97.1 656.81 97.49 659.99 97.88 664.51 98.28 670.09 98.67 676.14 99.06 683.19 99.45 689.56 99.84 694.06 100.23 696.34 100.62 696.72 101.01 695.91 101.41 696.03 101.8 697.28 102.19 698.72 102.58 699.82 102.97 700.87 103.36 702.11 103.75 702.45 104.14 702.93 104.53 703.74 104.93 704.27 105.32 704.41 105.71 705.8 106.1 706.62 106.49 706.83 106.88 707.36 107.27 708.03 107.66 707.95 108.06 707.91 108.45 707.88 108.84 708.16 109.23 708.17 109.62 707.95 110.01 707.81 110.4 708.02 110.79 707.79 111.18 707.48 111.58 708.19 111.97 708.6 112.36 708.58 112.75 708.74 113.14 709.39 113.53 709.43 113.92 709.28 114.31 709.51 114.71 709.56 115.1 709.59 115.49 709.17 115.88 709 116.27 709.01 116.66 709.18 117.05 709.33 117.44 709.49 117.83 710.18 118.23 710.24 118.62 710.62 119.01 710.49 119.4 710.98 119.79 710.77 120.18 710.84 120.57 710.8 120.96 710.59 121.35 710.16 121.75 710.59 122.14 710.34 122.53 710.13 122.92 710.64 123.31 711.2 123.7 710.82 124.09 711.2 124.48 711.15 124.88 711.04 125.27 711.02 125.66 711.25 126.05 711.27 126.44 711.6 126.83 711.71 127.22 711.55 127.61 711.42 128 711.24 128.4 711.3 128.79 711.05 129.18 711.22 129.57 711.71 129.96 712.2 130.35 712.52 130.74 712.55 131.13 712.4 131.53 711.84 131.92 711.4 132.31 710.63 132.7 710.6 133.09 710.72 133.48 711.03 133.87 711.41 134.26 711.97 134.65 712.36 135.05 712.04 135.44 711.89 135.83 711.81 136.22 711.84 136.61 711.62 137 711.69 137.39 711.63 137.78 711.8 138.18 711.68 138.57 711.69 138.96 711.65 139.35 711.82 139.74 711.19 140.13 711.05 140.52 711 140.91 711.04 141.3 711 141.7 711.41 142.09 712.05 142.48 712.19 142.87 712.44 143.26 712.25 143.65 711.86 144.04 711.49 144.43 711.86 144.83 711.54 145.22 711.68 145.61 712.22 146 712.03 146.39 711.19 146.78 711.59 147.17 711.58 147.56 711.51 147.95 711.31 148.35 711.95 148.74 711.96 149.13 711.85 149.52 711.81 149.91 711.88 150.3 711.61 150.69 711.24 151.08 711.3 151.47 711.08 151.87 711.43 152.26 711.49 152.65 711.45 153.04 711.81 153.43 712.05 153.82 712.01 154.21 712.05 154.6 712.41 155 712.13 155.39 711.85 155.78 711.68 156.17 711.73 156.56 711.62 156.95 711.81 157.34 711.66 157.73 711.71 158.12 711.53 158.52 711.46 158.91 711.38 159.3 711.74 159.69 711.56 160.08 711.86 160.47 711.91 160.86 712.01 161.25 712.24 161.65 712.31 162.04 711.96 162.43 711.99 162.82 711.97 163.21 711.8 163.6 711.65 163.99 711.54 164.38 711.35 164.77 711.02 165.17 711.08 165.56 711.32 165.95 711.82 166.34 711.99 166.73 712.5 167.12 712.38 167.51 712.48 167.9 712.24 168.3 712.35 168.69 712.24 169.08 712.39 169.47 712.54 169.86 712.51 170.25 712.51 170.64 712.64 171.03 712.54 171.42 712.27 171.82 712.35 172.21 712.17 172.6 711.87 172.99 712.09 173.38 712.22 173.77 712.26 174.16 712.21 174.55 711.97 174.95 712.17 175.34 711.99 175.73 712.02 176.12 712.08 176.51 712.34 176.9 711.8 177.29 711.92 177.68 712.18 178.07 712.13 178.47 712.2 178.86 712.27 179.25 712.39 179.64 711.99 180.03 712.21 180.42 711.92 180.81 711.59 181.2 711.21 181.59 711.16 181.99 710.87 182.38 710.99 182.77 711.55 183.16 711.58 183.55 711.85 183.94 712.09 184.33 712.02 184.72 711.64 185.12 711.94 185.51 711.94 185.9 711.85 186.29 711.96 186.68 712.14 187.07 711.81 187.46 711.75 187.85 711.87 188.24 712.24 188.64 712 189.03 712.09 189.42 712.09 189.81 711.92 190.2 711.52 190.59 711.77 190.98 711.88 191.37 711.86 191.77 712.06 192.16 711.83 192.55 711.94 192.94 711.58 193.33 711.91 193.72 712.01 194.11 712.2 194.5 712.29 194.89 712.7 195.29 712.46 195.68 712.43 196.07 712.62 196.46 712.43 196.85 712.58 197.24 712.47 197.63 712.26 198.02 712.02 198.42 711.69 198.81 711.87 199.2 712.06 199.59 711.93 199.98 712.36 200.37 713.04 200.76 712.69 201.15 712.59 201.54 712.84 201.94 712.92 202.33 712.89 202.72 713.35 203.11 713.37 203.5 713.38 203.89 712.64 204.28 712.36 204.67 712.06 205.07 711.57 205.46 711.24 205.85 711.55 206.24 711.64 206.63 711.68 207.02 711.77 207.41 711.71 207.8 711.34 208.19 711.22 208.59 710.8 208.98 710.75 209.37 710.47 209.76 710.61 210.15 710.47 210.54 710.53 210.93 710.59 211.32 710.87 211.72 711.09 212.11 710.77 212.5 710.88 212.89 711.07 213.28 711.19 213.67 711.18 214.06 711.6 214.45 711.67 214.84 711.91 215.24 712.06 215.63 711.89 216.02 711.79 216.41 711.52 216.8 711.28 217.19 710.93 217.58 710.67 217.97 710.58 218.36 710.49 218.76 710.3 219.15 710.36 219.54 710.64 219.93 710.64 220.32 711.05 220.71 711.52 221.1 711.77 221.49 711.5 221.89 711.23 222.28 710.99 222.67 710.53 223.06 710.01 223.45 709.91 223.84 709.93 224.23 709.99 224.62 710.43 225.01 711.12 225.41 711.26 225.8 711.5 226.19 711.35 226.58 710.78 226.97 710.45 227.36 710.65 227.75 710.62 228.14 711 228.54 711.25 228.93 711.47 229.32 711.37 229.71 711.65 230.1 711.5" fill="none" stroke="#2222ff" stroke-width="1.2" stroke-linejoin="round" />
<path d="M66.2 711.82 66.59 712.07 66.98 712.04 67.37 712.6 67.76 712.26 68.16 711.95 68.55 712.18 68.94 712.42 69.33 712.36 69.72 712.47 70.11 712.46 70.5 712.13 70.89 711.65 71.29 710.95 71.68 710.71 72.07 710.6 72.46 710.73 72.85 710.54 73.24 710.8 73.63 710.94 74.02 710.59 74.41 709.8 74.81 710.21 75.2 710.15 75.59 710.14 75.98 710.22 76.37 710.45 76.76 710.27 77.15 710.04 77.54 710.17 77.94 710.24 78.33 710.16 78.72 709.65 79.11 709.7 79.5 709.16 79.89 709.12 80.28 709.57 80.67 709.57 81.06 709.58 81.46 709.9 81.85 709.9 82.24 709.51 82.63 709.74 83.02 709.63 83.41 709.97 83.8 709.93 84.19 709.96 84.58 709.33 84.98 708.86 85.37 707.87 85.76 707.24 86.15 706.74 86.54 706.79 86.93 706.4 87.32 706.14 87.71 705.6 88.11 704.95 88.5 703.31 88.89 701.7 89.28 700.47 89.67 698.96 90.06 697.35 90.45 694.98 90.84 690.6 91.23 683.7 91.63 675.76 92.02 667.96 92.41 660.21 92.8 652.33 93.19 645.69 93.58 641.58 93.97 638.53 94.36 635.36 94.76 632.32 95.15 630.18 95.54 629.65 95.93 629.86 96.32 630.56 96.71 630.83 97.1 633.02 97.49 636.36 97.88 641.73 98.28 647.55 98.67 653.64 99.06 660.61 99.45 668.3 99.84 675.73 100.23 681.39 100.62 684.26 101.01 685.44 101.41 687.15 101.8 688.86 102.19 690.53 102.58 692.11 102.97 693.06 103.36 694.65 103.75 696.37 104.14 697.12 104.53 698.06 104.93 699.68 105.32 700.4 105.71 701.04 106.1 701.43 106.49 701.66 106.88 701.73 107.27 701.95 107.66 701.72 108.06 702.62 108.45 703.37 108.84 704.04 109.23 704.04 109.62 704.72 110.01 705.04 110.4 705.18 110.79 705.57 111.18 705.99 111.58 706.45 111.97 706.5 112.36 707.16 112.75 707.43 113.14 707.51 113.53 707.45 113.92 707.85 114.31 707.45 114.71 707.45 115.1 707.96 115.49 707.87 115.88 707.96 116.27 708.46 116.66 708.31 117.05 708.07 117.44 708.68 117.83 708.5 118.23 708.43 118.62 708.76 119.01 709.15 119.4 708.44 119.79 708.63 120.18 708.58 120.57 708.34 120.96 708.36 121.35 708.94 121.75 709.09 122.14 709.23 122.53 709.56 122.92 709.75 123.31 709.26 123.7 709.77 124.09 709.64 124.48 709.64 124.88 709.06 125.27 709.42 125.66 708.71 126.05 709.12 126.44 709.18 126.83 709.56 127.22 709.67 127.61 710.05 128 709.63 128.4 709.33 128.79 709.18 129.18 709.42 129.57 709.37 129.96 709.32 130.35 709.55 130.74 709.86 131.13 710.01 131.53 709.9 131.92 710.3 132.31 710.7 132.7 710.54 133.09 710.18 133.48 710.44 133.87 710.26 134.26 709.82 134.65 709.81 135.05 709.74 135.44 709.84 135.83 709.89 136.22 709.7 136.61 709.77 137 709.93 137.39 709.83 137.78 710.14 138.18 710.77 138.57 710.59 138.96 710.59 139.35 710.14 139.74 709.99 140.13 709.72 140.52 709.84 140.91 709.7 141.3 709.88 141.7 709.51 142.09 709.53 142.48 710.09 142.87 710.05 143.26 710.63 143.65 710.93 144.04 710.49 144.43 710.19 144.83 710.61 145.22 710.34 145.61 710.31 146 710.98 146.39 710.8 146.78 710.77 147.17 710.83 147.56 710.7 147.95 709.92 148.35 709.61 148.74 709.38 149.13 709.32 149.52 709.13 149.91 709.38 150.3 710.1 150.69 709.79 151.08 709.82 151.47 710.29 151.87 710.62 152.26 709.97 152.65 710.44 153.04 710.03 153.43 710.25 153.82 709.89 154.21 710.3 154.6 710.05 155 710.39 155.39 709.76 155.78 710.02 156.17 710.07 156.56 710.25 156.95 710.58 157.34 711 157.73 711.11 158.12 711.1 158.52 711.52 158.91 711.02 159.3 710.88 159.69 710.67 160.08 710.7 160.47 710.35 160.86 710.68 161.25 710.81 161.65 710.75 162.04 710.6 162.43 710.65 162.82 709.97 163.21 710.21 163.6 710.21 163.99 710.15 164.38 710.12 164.77 710.57 165.17 709.95 165.56 710.03 165.95 710.42 166.34 710.6 166.73 710.94 167.12 711.14 167.51 711.15 167.9 711.08 168.3 711.19 168.69 710.93 169.08 710.84 169.47 710.47 169.86 710.56 170.25 709.9 170.64 709.99 171.03 710.41 171.42 711.57 171.82 711.3 172.21 711.62 172.6 711.64 172.99 711.56 173.38 711.14 173.77 711.26 174.16 711.12 174.55 710.56 174.95 710.52 175.34 710.07 175.73 710.24 176.12 710.12 176.51 710.64 176.9 710.42 177.29 710.38 177.68 710.44 178.07 710.78 178.47 710.7 178.86 711.03 179.25 711.05 179.64 710.6 180.03 710.43 180.42 710.91 180.81 710.83 181.2 711.15 181.59 711.48 181.99 711.59 182.38 711.11 182.77 710.68 183.16 710.65 183.55 710.46 183.94 710.41 184.33 710.72 184.72 710.69 185.12 710.68 185.51 710.32 185.9 710.16 186.29 709.84 186.68 710.55 187.07 710.19 187.46 710.28 187.85 710.27 188.24 710.77 188.64 710.59 189.03 710.95 189.42 711.64 189.81 711.98 190.2 711.06 190.59 710.83 190.98 710.47 191.37 710.47 191.77 710.1 192.16 710.64 192.55 710.64 192.94 710.82 193.33 710.37 193.72 710.66 194.11 710.44 194.5 710.28 194.89 710.24 195.29 710 195.68 709.83 196.07 710.02 196.46 710.26 196.85 710.52 197.24 710.71 197.63 711.35 198.02 711.16 198.42 710.97 198.81 711.1 199.2 711 199.59 710.71 199.98 711.45 200.37 712.25 200.76 712.66 201.15 713.07 201.54 712.37 201.94 710.49 202.33 708.61 202.72 707.11 203.11 705.5 203.5 704.69 203.89 704.37 204.28 704.51 204.67 704.57 205.07 704.6 205.46 704.5 205.85 704.3 206.24 703.78 206.63 703.44 207.02 703.74 207.41 704 207.8 704.43 208.19 704.74 208.59 704.27 208.98 704.41 209.37 704.66 209.76 704.79 210.15 705.11 210.54 706.03 210.93 706.48 211.32 706.31 211.72 706.51 212.11 706.55 212.5 706.51 212.89 705.94 213.28 705.84 213.67 705.29 214.06 705.3 214.45 705.13 214.84 704.95 215.24 704.91 215.63 704.95 216.02 705.24 216.41 705.31 216.8 705.66 217.19 705.61 217.58 705.71 217.97 705.64 218.36 705.7 218.76 705.78 219.15 706.52 219.54 707.28 219.93 707.26 220.32 707.48 220.71 707.54 221.1 707.12 221.49 707.16 221.89 706.79 222.28 706.72 222.67 706.29 223.06 706.12 223.45 705.81 223.84 706.25 224.23 706.4 224.62 706.82 225.01 707 225.41 706.84 225.8 706.71 226.19 706.94 226.58 707.4 226.97 707.71 227.36 707.77 227.75 707.7 228.14 707.58 228.54 707.26 228.93 706.8 229.32 707.29 229.71 707.56 230.1 707.45" fill="none" stroke="#ff2020" stroke-width="1.2" stroke-linejoin="round" />
<rect x="65.7" y="626.5" width="164.9" height="93.5" fill="none" stroke="#666" stroke-width="0.9" />
<line x1="63.3" y1="706.88" x2="65.7" y2="706.88" stroke="#000" stroke-width="0.8" />
<text font-size="6.9" font-weight="bold" text-anchor="end" stroke="#000" stroke-width="0.18" transform="translate(62.2 709.38) scale(1 1.12)">5</text>
<line x1="63.3" y1="689.65" x2="65.7" y2="689.65" stroke="#000" stroke-width="0.8" />
<text font-size="6.9" font-weight="bold" text-anchor="end" stroke="#000" stroke-width="0.18" transform="translate(62.2 692.15) scale(1 1.12)">10</text>
<line x1="63.3" y1="672.43" x2="65.7" y2="672.43" stroke="#000" stroke-width="0.8" />
<text font-size="6.9" font-weight="bold" text-anchor="end" stroke="#000" stroke-width="0.18" transform="translate(62.2 674.93) scale(1 1.12)">15</text>
<line x1="63.3" y1="655.2" x2="65.7" y2="655.2" stroke="#000" stroke-width="0.8" />
<text font-size="6.9" font-weight="bold" text-anchor="end" stroke="#000" stroke-width="0.18" transform="translate(62.2 657.7) scale(1 1.12)">20</text>
<line x1="63.3" y1="637.98" x2="65.7" y2="637.98" stroke="#000" stroke-width="0.8" />
<text font-size="6.9" font-weight="bold" text-anchor="end" stroke="#000" stroke-width="0.18" transform="translate(62.2 640.48) scale(1 1.12)">25</text>
<line x1="65.7" y1="720" x2="65.7" y2="722.3" stroke="#000" stroke-width="0.8" />
<line x1="96.5" y1="720" x2="96.5" y2="722.3" stroke="#000" stroke-width="0.8" />
<line x1="200.4" y1="720" x2="200.4" y2="722.3" stroke="#000" stroke-width="0.8" />
<line x1="230.6" y1="720" x2="230.6" y2="722.3" stroke="#000" stroke-width="0.8" />
<text font-size="6.9" font-weight="bold" text-anchor="middle" stroke="#000" stroke-width="0.18" transform="translate(66.3 729.8) scale(1 1.12)">-3.0</text>
<text font-size="6.9" font-weight="bold" text-anchor="middle" stroke="#000" stroke-width="0.18" transform="translate(97.2 729.8) scale(1 1.12)">TSS</text>
<text font-size="6.9" font-weight="bold" text-anchor="middle" stroke="#000" stroke-width="0.18" transform="translate(199.8 729.8) scale(1 1.12)">TES</text>
<text font-size="6.9" font-weight="bold" text-anchor="end" stroke="#000" stroke-width="0.18" transform="translate(236.2 729.8) scale(1 1.12)">3.0 Kb</text>
<text font-size="8.4" font-weight="bold" text-anchor="middle" stroke="#000" stroke-width="0.18" transform="translate(51.8 673) scale(0.89 1) rotate(-90)">FLAG-SMYD5 reads density</text>
<line x1="135.3" y1="634.7" x2="146.6" y2="634.7" stroke="#ff2020" stroke-width="1.1" />
<text font-size="6.9" font-weight="bold" stroke="#000" stroke-width="0.18" transform="translate(151.8 637.2) scale(1 1.12)">High expression</text>
<line x1="135.3" y1="642.95" x2="146.6" y2="642.95" stroke="#2222ff" stroke-width="1.1" />
<text font-size="6.9" font-weight="bold" stroke="#000" stroke-width="0.18" transform="translate(151.8 645.45) scale(1 1.12)">Medium expression</text>
<line x1="135.3" y1="651.2" x2="146.6" y2="651.2" stroke="#1f9a1f" stroke-width="1.1" />
<text font-size="6.9" font-weight="bold" stroke="#000" stroke-width="0.18" transform="translate(151.8 653.7) scale(1 1.12)">Low expression</text>
<text font-size="21.5" font-weight="bold" stroke="#000" stroke-width="0.18" transform="translate(241.8 466.3) scale(0.9 1)">m</text>
<text font-size="8.2" font-weight="bold" text-anchor="middle" stroke="#000" stroke-width="0.18" transform="translate(351.2 466.3) scale(1 1.12)">Downregulated genes</text>
<path d="M401.57 500.76h1.45v1.45h-1.45zM387.38 523.54h1.45v1.45h-1.45zM384.99 518.16h1.45v1.45h-1.45zM405.64 506.18h1.45v1.45h-1.45zM401.96 507.49h1.45v1.45h-1.45zM379.74 526.59h1.45v1.45h-1.45zM397.42 517.03h1.45v1.45h-1.45zM401.41 515.75h1.45v1.45h-1.45zM390.08 527.33h1.45v1.45h-1.45zM386.1 504.66h1.45v1.45h-1.45zM387.05 518.38h1.45v1.45h-1.45zM402.62 494.43h1.45v1.45h-1.45zM381.84 514.05h1.45v1.45h-1.45zM380.01 505.49h1.45v1.45h-1.45zM400.43 520.04h1.45v1.45h-1.45zM405.54 521.86h1.45v1.45h-1.45zM382.98 499.29h1.45v1.45h-1.45zM407.05 505.38h1.45v1.45h-1.45zM383.78 495.48h1.45v1.45h-1.45zM399.85 497.27h1.45v1.45h-1.45zM393.7 505.14h1.45v1.45h-1.45zM395.15 506.89h1.45v1.45h-1.45zM391.99 536.36h1.45v1.45h-1.45zM404.05 510.77h1.45v1.45h-1.45zM393.41 512.91h1.45v1.45h-1.45zM405.68 510.15h1.45v1.45h-1.45zM395.26 527.31h1.45v1.45h-1.45zM405.57 502.33h1.45v1.45h-1.45zM404.47 483.61h1.45v1.45h-1.45zM404.84 498.02h1.45v1.45h-1.45zM403.78 507.27h1.45v1.45h-1.45zM388.35 502.64h1.45v1.45h-1.45zM376.5 509.09h1.45v1.45h-1.45zM394.54 502.54h1.45v1.45h-1.45zM398.48 527.97h1.45v1.45h-1.45zM397.64 525.41h1.45v1.45h-1.45zM400.21 512.91h1.45v1.45h-1.45zM407.53 507.01h1.45v1.45h-1.45zM393.95 511.25h1.45v1.45h-1.45zM394.97 511.64h1.45v1.45h-1.45zM383.4 515.21h1.45v1.45h-1.45zM359.86 549.33h1.45v1.45h-1.45zM402.46 514h1.45v1.45h-1.45zM386.06 533.68h1.45v1.45h-1.45zM399.63 506.8h1.45v1.45h-1.45zM401.83 518.79h1.45v1.45h-1.45zM396.11 490.02h1.45v1.45h-1.45zM389.16 508.87h1.45v1.45h-1.45zM404.39 494.22h1.45v1.45h-1.45zM394.02 501.7h1.45v1.45h-1.45zM399.62 507.53h1.45v1.45h-1.45zM380.35 526.66h1.45v1.45h-1.45zM407.19 515.67h1.45v1.45h-1.45zM398.65 516.17h1.45v1.45h-1.45zM407.65 485.43h1.45v1.45h-1.45zM388.18 529.2h1.45v1.45h-1.45zM394.7 508.27h1.45v1.45h-1.45zM399.64 513.3h1.45v1.45h-1.45zM399.59 490.77h1.45v1.45h-1.45zM406.68 474.41h1.45v1.45h-1.45zM403.57 514.78h1.45v1.45h-1.45zM404.07 523.27h1.45v1.45h-1.45zM399.65 524.64h1.45v1.45h-1.45zM399.28 508.33h1.45v1.45h-1.45zM399.29 493.7h1.45v1.45h-1.45zM383.28 508.75h1.45v1.45h-1.45zM401.55 516.78h1.45v1.45h-1.45zM400.84 495h1.45v1.45h-1.45zM399.69 496.85h1.45v1.45h-1.45zM403.61 502.61h1.45v1.45h-1.45zM407.39 520.31h1.45v1.45h-1.45zM387.45 517.8h1.45v1.45h-1.45zM402.42 506.35h1.45v1.45h-1.45zM399.86 522.58h1.45v1.45h-1.45zM406.03 505.04h1.45v1.45h-1.45zM396.66 495.17h1.45v1.45h-1.45zM400.55 502.69h1.45v1.45h-1.45zM383.72 510.99h1.45v1.45h-1.45zM383.1 515.71h1.45v1.45h-1.45zM399.65 500.86h1.45v1.45h-1.45zM396.03 493.6h1.45v1.45h-1.45zM402.68 507.35h1.45v1.45h-1.45zM403.63 527.35h1.45v1.45h-1.45zM402.32 501.23h1.45v1.45h-1.45zM376.52 502.2h1.45v1.45h-1.45zM394.26 527.14h1.45v1.45h-1.45zM398.62 492.64h1.45v1.45h-1.45zM394.99 509.49h1.45v1.45h-1.45zM389.5 511.73h1.45v1.45h-1.45zM391.73 478.83h1.45v1.45h-1.45zM395.36 509.35h1.45v1.45h-1.45zM405.53 492.18h1.45v1.45h-1.45zM400.94 500.78h1.45v1.45h-1.45zM398.24 525.51h1.45v1.45h-1.45zM392.22 526.56h1.45v1.45h-1.45zM406.79 499.48h1.45v1.45h-1.45zM399.11 501.12h1.45v1.45h-1.45zM387.47 510.07h1.45v1.45h-1.45zM406.3 500.83h1.45v1.45h-1.45zM393.26 532.42h1.45v1.45h-1.45zM402.54 512.55h1.45v1.45h-1.45zM395.86 524.8h1.45v1.45h-1.45zM384.64 517.11h1.45v1.45h-1.45zM396.28 524.98h1.45v1.45h-1.45zM400.75 491.17h1.45v1.45h-1.45zM389.44 483.94h1.45v1.45h-1.45zM386.28 507.85h1.45v1.45h-1.45zM401.72 497h1.45v1.45h-1.45zM378.95 506.83h1.45v1.45h-1.45zM375.32 512.76h1.45v1.45h-1.45zM401.62 516.71h1.45v1.45h-1.45zM399.05 537.02h1.45v1.45h-1.45zM385.92 513.93h1.45v1.45h-1.45zM385.44 517.46h1.45v1.45h-1.45zM396.23 497.22h1.45v1.45h-1.45zM400.99 485.15h1.45v1.45h-1.45zM405.61 529.99h1.45v1.45h-1.45zM395.3 516.78h1.45v1.45h-1.45zM388.58 513.54h1.45v1.45h-1.45zM407.7 509.48h1.45v1.45h-1.45zM397.09 502.72h1.45v1.45h-1.45zM394.18 534.12h1.45v1.45h-1.45zM388.8 504.7h1.45v1.45h-1.45zM398.14 513.71h1.45v1.45h-1.45zM403.69 512.2h1.45v1.45h-1.45zM397.11 523.47h1.45v1.45h-1.45zM401.56 482.1h1.45v1.45h-1.45zM405.05 533.58h1.45v1.45h-1.45zM393.47 510.11h1.45v1.45h-1.45zM407.15 518.38h1.45v1.45h-1.45zM403.06 490.27h1.45v1.45h-1.45zM402.9 522.72h1.45v1.45h-1.45zM401.05 520.52h1.45v1.45h-1.45zM371.42 503.31h1.45v1.45h-1.45zM403.01 510.25h1.45v1.45h-1.45zM394.66 488.05h1.45v1.45h-1.45zM404.25 495.46h1.45v1.45h-1.45zM350.17 517.14h1.45v1.45h-1.45zM386.53 509.31h1.45v1.45h-1.45zM385.94 529.31h1.45v1.45h-1.45zM388.95 517.88h1.45v1.45h-1.45zM394.81 509.62h1.45v1.45h-1.45zM400.88 505.76h1.45v1.45h-1.45zM406.35 518.14h1.45v1.45h-1.45zM395.67 517.24h1.45v1.45h-1.45zM405.75 508.22h1.45v1.45h-1.45zM396.85 498.3h1.45v1.45h-1.45zM370.36 508.55h1.45v1.45h-1.45zM404.2 527.84h1.45v1.45h-1.45zM403.71 511.02h1.45v1.45h-1.45zM378.3 523.61h1.45v1.45h-1.45zM406.96 513.66h1.45v1.45h-1.45zM399.61 507.43h1.45v1.45h-1.45zM405.02 507.23h1.45v1.45h-1.45zM404.34 522.82h1.45v1.45h-1.45zM401.68 496.17h1.45v1.45h-1.45zM404.76 511.42h1.45v1.45h-1.45zM381.04 517.48h1.45v1.45h-1.45zM371.42 523.36h1.45v1.45h-1.45zM389.02 492.96h1.45v1.45h-1.45zM403.14 513.77h1.45v1.45h-1.45zM398.16 495.43h1.45v1.45h-1.45zM398.79 509.54h1.45v1.45h-1.45zM390.8 501.28h1.45v1.45h-1.45zM403.79 505.61h1.45v1.45h-1.45zM406.48 526.22h1.45v1.45h-1.45zM401.61 522.55h1.45v1.45h-1.45zM395.72 477.72h1.45v1.45h-1.45zM399.7 517.85h1.45v1.45h-1.45zM405.16 503.83h1.45v1.45h-1.45zM397.46 519.27h1.45v1.45h-1.45zM394.87 497.25h1.45v1.45h-1.45zM399.99 496.6h1.45v1.45h-1.45zM398.06 493.05h1.45v1.45h-1.45zM405.79 509h1.45v1.45h-1.45zM394.33 500.28h1.45v1.45h-1.45zM392.64 514.1h1.45v1.45h-1.45zM397.53 507.44h1.45v1.45h-1.45zM397.78 500.9h1.45v1.45h-1.45zM399.65 531.41h1.45v1.45h-1.45zM385.33 497.73h1.45v1.45h-1.45zM393.74 516.71h1.45v1.45h-1.45zM386.74 514.62h1.45v1.45h-1.45zM403.99 501.74h1.45v1.45h-1.45zM402.7 522.85h1.45v1.45h-1.45zM400.88 518.08h1.45v1.45h-1.45zM399.64 509.58h1.45v1.45h-1.45zM386.73 531.4h1.45v1.45h-1.45zM402.99 493.77h1.45v1.45h-1.45zM390.97 513.62h1.45v1.45h-1.45zM407.19 509.85h1.45v1.45h-1.45zM399.85 504.05h1.45v1.45h-1.45zM398.84 502.14h1.45v1.45h-1.45zM386.02 507.6h1.45v1.45h-1.45zM399.92 508.47h1.45v1.45h-1.45zM402.35 507.36h1.45v1.45h-1.45zM404.87 512.97h1.45v1.45h-1.45zM396.88 510.71h1.45v1.45h-1.45zM393.04 488.24h1.45v1.45h-1.45zM403.99 499.62h1.45v1.45h-1.45zM387.89 522.07h1.45v1.45h-1.45zM404.87 499.51h1.45v1.45h-1.45zM388.75 518.2h1.45v1.45h-1.45zM390.76 499.14h1.45v1.45h-1.45zM395.36 503.09h1.45v1.45h-1.45zM384.12 509.26h1.45v1.45h-1.45zM400.32 531.64h1.45v1.45h-1.45zM311.17 524.47h1.45v1.45h-1.45zM391.85 514.52h1.45v1.45h-1.45zM385.95 502.47h1.45v1.45h-1.45zM387.57 505.18h1.45v1.45h-1.45zM384.92 528.7h1.45v1.45h-1.45zM393.94 517.98h1.45v1.45h-1.45zM398.3 486h1.45v1.45h-1.45zM401.12 487.32h1.45v1.45h-1.45zM400.33 509.15h1.45v1.45h-1.45zM404.44 506.65h1.45v1.45h-1.45zM406.92 486.3h1.45v1.45h-1.45zM395.57 521.37h1.45v1.45h-1.45zM403.77 500.37h1.45v1.45h-1.45zM406.21 504.9h1.45v1.45h-1.45zM402.77 484.36h1.45v1.45h-1.45zM407.55 507.68h1.45v1.45h-1.45zM406.93 504.08h1.45v1.45h-1.45zM403.39 511.85h1.45v1.45h-1.45zM394.14 514.88h1.45v1.45h-1.45zM407.19 527.86h1.45v1.45h-1.45zM407.06 502.24h1.45v1.45h-1.45zM393.7 531.54h1.45v1.45h-1.45zM405.29 507.89h1.45v1.45h-1.45zM385.26 528.5h1.45v1.45h-1.45zM398.67 511.87h1.45v1.45h-1.45zM403.57 521.34h1.45v1.45h-1.45zM396.49 484.72h1.45v1.45h-1.45zM383.19 515.45h1.45v1.45h-1.45zM405.33 507.23h1.45v1.45h-1.45zM407.56 509.51h1.45v1.45h-1.45zM402.43 518.18h1.45v1.45h-1.45zM389.22 504.86h1.45v1.45h-1.45zM404.89 502.14h1.45v1.45h-1.45zM389.37 538.89h1.45v1.45h-1.45zM390.21 507.69h1.45v1.45h-1.45zM402.28 521.18h1.45v1.45h-1.45zM398.66 517.12h1.45v1.45h-1.45zM404.99 515.58h1.45v1.45h-1.45zM400.42 503.38h1.45v1.45h-1.45zM394.67 506.05h1.45v1.45h-1.45zM395.65 509.7h1.45v1.45h-1.45zM397.21 500.85h1.45v1.45h-1.45zM380.78 504.63h1.45v1.45h-1.45zM387.65 519.55h1.45v1.45h-1.45zM398.32 506.33h1.45v1.45h-1.45zM405.18 501.26h1.45v1.45h-1.45zM391.44 511.5h1.45v1.45h-1.45zM394.39 511.9h1.45v1.45h-1.45zM376.47 529.24h1.45v1.45h-1.45zM397.72 508.73h1.45v1.45h-1.45zM398.11 514.93h1.45v1.45h-1.45zM405.51 480.89h1.45v1.45h-1.45zM397.3 515.28h1.45v1.45h-1.45zM406.63 522.72h1.45v1.45h-1.45zM401.21 533.45h1.45v1.45h-1.45zM392.01 504.53h1.45v1.45h-1.45zM401.4 485.8h1.45v1.45h-1.45zM403.63 509.75h1.45v1.45h-1.45zM302.9 536.19h1.45v1.45h-1.45zM407.05 484.05h1.45v1.45h-1.45zM397.89 483.01h1.45v1.45h-1.45zM396.81 517.27h1.45v1.45h-1.45zM385.93 496.46h1.45v1.45h-1.45zM396.48 531.35h1.45v1.45h-1.45zM388.86 506.09h1.45v1.45h-1.45zM394.44 519.07h1.45v1.45h-1.45zM402.25 504.48h1.45v1.45h-1.45zM376.77 514.65h1.45v1.45h-1.45zM406.48 485.64h1.45v1.45h-1.45zM390.96 513.53h1.45v1.45h-1.45zM405.25 504.23h1.45v1.45h-1.45zM397.58 501.63h1.45v1.45h-1.45zM395.62 500.22h1.45v1.45h-1.45zM394.41 521.35h1.45v1.45h-1.45zM401.67 512.71h1.45v1.45h-1.45zM404.68 527.05h1.45v1.45h-1.45zM399.63 515.14h1.45v1.45h-1.45zM404.01 485.08h1.45v1.45h-1.45zM406.1 494.54h1.45v1.45h-1.45zM400.63 514.12h1.45v1.45h-1.45zM370.3 513.43h1.45v1.45h-1.45z" fill="#ee3a2f" fill-opacity="0.47"/>
<path d="M390.45 520.37h1.45v1.45h-1.45zM396.7 536.74h1.45v1.45h-1.45zM405.24 488.03h1.45v1.45h-1.45zM389.44 502.12h1.45v1.45h-1.45zM392.33 507.47h1.45v1.45h-1.45zM403.19 507.31h1.45v1.45h-1.45zM404.72 502.11h1.45v1.45h-1.45zM399.86 511.37h1.45v1.45h-1.45zM374.71 520.5h1.45v1.45h-1.45zM405 524.49h1.45v1.45h-1.45zM401.52 513.74h1.45v1.45h-1.45zM407.72 499.21h1.45v1.45h-1.45zM401.81 511.03h1.45v1.45h-1.45zM403.84 508.08h1.45v1.45h-1.45zM389.45 505.32h1.45v1.45h-1.45zM394.74 513.77h1.45v1.45h-1.45zM403.75 503.6h1.45v1.45h-1.45zM397.93 502.01h1.45v1.45h-1.45zM405.92 491.01h1.45v1.45h-1.45zM390.34 480.6h1.45v1.45h-1.45zM396.33 498.59h1.45v1.45h-1.45zM404.15 512.69h1.45v1.45h-1.45zM398.64 517.74h1.45v1.45h-1.45zM406.54 500.69h1.45v1.45h-1.45zM397.34 510.53h1.45v1.45h-1.45zM394.59 521.22h1.45v1.45h-1.45zM397.88 502.3h1.45v1.45h-1.45zM389.95 501.54h1.45v1.45h-1.45zM396.66 499.51h1.45v1.45h-1.45zM394.31 529.36h1.45v1.45h-1.45zM405.15 486.19h1.45v1.45h-1.45zM396.79 486.32h1.45v1.45h-1.45zM391.72 512.26h1.45v1.45h-1.45zM406.19 523.79h1.45v1.45h-1.45zM388.92 531.9h1.45v1.45h-1.45zM398.47 526.43h1.45v1.45h-1.45zM388.16 489.43h1.45v1.45h-1.45zM399.52 513.61h1.45v1.45h-1.45zM392.6 490h1.45v1.45h-1.45zM405.21 505.19h1.45v1.45h-1.45zM397.57 524.49h1.45v1.45h-1.45zM397.52 488.55h1.45v1.45h-1.45zM359.57 532.68h1.45v1.45h-1.45zM407.57 500.55h1.45v1.45h-1.45zM397.37 511.75h1.45v1.45h-1.45zM402.48 502.8h1.45v1.45h-1.45zM394.39 488.66h1.45v1.45h-1.45zM404.23 511.77h1.45v1.45h-1.45zM388.18 497.58h1.45v1.45h-1.45zM387.13 500.55h1.45v1.45h-1.45zM391.19 534.07h1.45v1.45h-1.45zM390.7 506.96h1.45v1.45h-1.45zM400.98 491.25h1.45v1.45h-1.45zM381.56 527.87h1.45v1.45h-1.45zM404.66 503.69h1.45v1.45h-1.45zM405.26 513.43h1.45v1.45h-1.45zM404.41 508.04h1.45v1.45h-1.45zM403.85 501.01h1.45v1.45h-1.45zM391.29 521.47h1.45v1.45h-1.45zM406.33 510.75h1.45v1.45h-1.45zM380.2 490.06h1.45v1.45h-1.45zM399.28 492.07h1.45v1.45h-1.45zM404.5 513.83h1.45v1.45h-1.45zM395.81 518.86h1.45v1.45h-1.45zM398.9 497.08h1.45v1.45h-1.45zM399.97 486.83h1.45v1.45h-1.45zM399.05 514.99h1.45v1.45h-1.45zM331.39 538.3h1.45v1.45h-1.45zM397.07 495.77h1.45v1.45h-1.45zM393.28 509.31h1.45v1.45h-1.45zM394.61 519.29h1.45v1.45h-1.45zM356.18 518.46h1.45v1.45h-1.45zM400.29 500.29h1.45v1.45h-1.45zM403.12 527.39h1.45v1.45h-1.45zM389.19 506.77h1.45v1.45h-1.45zM400.18 510.48h1.45v1.45h-1.45zM402.83 518.8h1.45v1.45h-1.45zM390.43 527.15h1.45v1.45h-1.45zM406.11 508.82h1.45v1.45h-1.45zM401.85 495.21h1.45v1.45h-1.45zM373.15 515.28h1.45v1.45h-1.45zM407.23 504.9h1.45v1.45h-1.45zM405.2 515.16h1.45v1.45h-1.45zM391.22 499.79h1.45v1.45h-1.45zM407.29 491.62h1.45v1.45h-1.45zM393.14 509.68h1.45v1.45h-1.45zM395.45 521.04h1.45v1.45h-1.45zM393.23 519.12h1.45v1.45h-1.45zM401.57 526.88h1.45v1.45h-1.45zM392.7 501.68h1.45v1.45h-1.45zM404.15 525.4h1.45v1.45h-1.45zM399.02 502.01h1.45v1.45h-1.45zM401.31 507.82h1.45v1.45h-1.45zM404.77 488.05h1.45v1.45h-1.45zM392.2 499.95h1.45v1.45h-1.45zM366.66 525.81h1.45v1.45h-1.45zM401.63 520.34h1.45v1.45h-1.45zM406.55 497.63h1.45v1.45h-1.45zM400.51 509.9h1.45v1.45h-1.45zM397.22 496.1h1.45v1.45h-1.45zM378.46 501.26h1.45v1.45h-1.45zM394.65 512.66h1.45v1.45h-1.45zM404.5 517.11h1.45v1.45h-1.45zM406.03 501.67h1.45v1.45h-1.45zM401.51 493.88h1.45v1.45h-1.45zM360.91 529.25h1.45v1.45h-1.45zM392.56 527.71h1.45v1.45h-1.45zM399.03 497.31h1.45v1.45h-1.45zM399.68 483.05h1.45v1.45h-1.45zM369.55 519.99h1.45v1.45h-1.45zM395.37 517.2h1.45v1.45h-1.45zM398.58 510.34h1.45v1.45h-1.45zM399.16 515.34h1.45v1.45h-1.45zM386.35 510.92h1.45v1.45h-1.45zM401.37 513.92h1.45v1.45h-1.45zM401.38 514.04h1.45v1.45h-1.45zM392.46 506.86h1.45v1.45h-1.45zM392.75 511.75h1.45v1.45h-1.45zM378.1 504.03h1.45v1.45h-1.45zM395.88 504.51h1.45v1.45h-1.45zM389.04 517.02h1.45v1.45h-1.45zM399.69 494.45h1.45v1.45h-1.45zM397.89 509.12h1.45v1.45h-1.45zM400.96 514.96h1.45v1.45h-1.45zM397.36 502.45h1.45v1.45h-1.45zM395.24 526.18h1.45v1.45h-1.45zM399.08 497.06h1.45v1.45h-1.45zM391.2 508.83h1.45v1.45h-1.45zM397.95 515.09h1.45v1.45h-1.45zM387.52 527.88h1.45v1.45h-1.45zM393.1 523.03h1.45v1.45h-1.45zM407.46 495.51h1.45v1.45h-1.45zM356.49 506.85h1.45v1.45h-1.45zM406.98 504.54h1.45v1.45h-1.45zM404.81 510h1.45v1.45h-1.45zM402.64 510.11h1.45v1.45h-1.45zM392.01 517.02h1.45v1.45h-1.45zM396.58 495.39h1.45v1.45h-1.45zM392.12 515.71h1.45v1.45h-1.45zM406.75 518.91h1.45v1.45h-1.45zM398.67 498.64h1.45v1.45h-1.45zM392.51 523.81h1.45v1.45h-1.45zM403.18 507.71h1.45v1.45h-1.45zM329.66 512.99h1.45v1.45h-1.45zM398.81 522.36h1.45v1.45h-1.45zM403.21 513.5h1.45v1.45h-1.45zM396.24 528.92h1.45v1.45h-1.45zM405.18 505.28h1.45v1.45h-1.45zM386.16 531.72h1.45v1.45h-1.45zM401.09 497.14h1.45v1.45h-1.45zM402.9 488.15h1.45v1.45h-1.45zM384.61 512.15h1.45v1.45h-1.45zM405.56 480.6h1.45v1.45h-1.45zM400.75 507.13h1.45v1.45h-1.45zM398.33 515.03h1.45v1.45h-1.45zM378.83 498.26h1.45v1.45h-1.45zM407.32 512.46h1.45v1.45h-1.45zM393.3 501.6h1.45v1.45h-1.45zM390.65 513.54h1.45v1.45h-1.45zM393.26 522.15h1.45v1.45h-1.45zM404.49 519.99h1.45v1.45h-1.45zM398.75 503.12h1.45v1.45h-1.45zM397.87 527.14h1.45v1.45h-1.45zM395.2 500.76h1.45v1.45h-1.45zM397.04 513.23h1.45v1.45h-1.45zM406.14 507.23h1.45v1.45h-1.45zM393.78 515.43h1.45v1.45h-1.45zM400.89 512.7h1.45v1.45h-1.45zM388.63 510.38h1.45v1.45h-1.45zM406.37 513.13h1.45v1.45h-1.45zM396.36 515.63h1.45v1.45h-1.45zM385.8 504.51h1.45v1.45h-1.45zM396.08 508.13h1.45v1.45h-1.45zM394.64 538.69h1.45v1.45h-1.45zM404.6 515.45h1.45v1.45h-1.45zM403.84 505.13h1.45v1.45h-1.45zM385.34 506.22h1.45v1.45h-1.45zM402.68 499.63h1.45v1.45h-1.45zM394.69 517.37h1.45v1.45h-1.45zM406.59 489.04h1.45v1.45h-1.45zM405.1 522.46h1.45v1.45h-1.45zM391.39 485.4h1.45v1.45h-1.45zM398.69 499.13h1.45v1.45h-1.45zM406.31 528.69h1.45v1.45h-1.45zM393.24 526.01h1.45v1.45h-1.45zM377.24 507.86h1.45v1.45h-1.45zM383.68 506.08h1.45v1.45h-1.45zM393.13 506.94h1.45v1.45h-1.45zM392.8 519.82h1.45v1.45h-1.45zM398.8 508.89h1.45v1.45h-1.45zM405.7 493.18h1.45v1.45h-1.45zM406.74 507.39h1.45v1.45h-1.45zM396.35 530.48h1.45v1.45h-1.45zM397.65 510.8h1.45v1.45h-1.45zM392.77 528.61h1.45v1.45h-1.45zM395.15 512.36h1.45v1.45h-1.45zM390.45 509.78h1.45v1.45h-1.45zM404.95 489.82h1.45v1.45h-1.45zM406.17 502.28h1.45v1.45h-1.45zM391.15 504.64h1.45v1.45h-1.45zM398.58 521.76h1.45v1.45h-1.45zM402.82 510.75h1.45v1.45h-1.45zM399.22 516.65h1.45v1.45h-1.45zM399.93 498.85h1.45v1.45h-1.45zM399.05 505h1.45v1.45h-1.45zM402.61 494.95h1.45v1.45h-1.45zM388.78 505.63h1.45v1.45h-1.45zM407.22 510.97h1.45v1.45h-1.45zM394.23 521.36h1.45v1.45h-1.45zM393.28 506.42h1.45v1.45h-1.45zM403.55 510.83h1.45v1.45h-1.45zM401.12 523.12h1.45v1.45h-1.45zM398.89 507.98h1.45v1.45h-1.45zM387.43 516.31h1.45v1.45h-1.45zM386.1 521.91h1.45v1.45h-1.45zM400.26 512.69h1.45v1.45h-1.45zM397.63 495.44h1.45v1.45h-1.45zM398.68 499.02h1.45v1.45h-1.45zM399.83 502.45h1.45v1.45h-1.45zM396.25 509.87h1.45v1.45h-1.45zM387.12 524.9h1.45v1.45h-1.45zM395.25 513.43h1.45v1.45h-1.45zM402.02 511.1h1.45v1.45h-1.45zM389.62 494.84h1.45v1.45h-1.45zM393.73 480.56h1.45v1.45h-1.45zM388.07 524.25h1.45v1.45h-1.45zM384.2 534.41h1.45v1.45h-1.45zM398.77 508.05h1.45v1.45h-1.45zM399.37 504.99h1.45v1.45h-1.45zM394.34 516.72h1.45v1.45h-1.45zM400.46 523.6h1.45v1.45h-1.45zM396.37 496.1h1.45v1.45h-1.45zM391.31 506.88h1.45v1.45h-1.45zM393 488.24h1.45v1.45h-1.45zM394.73 515.71h1.45v1.45h-1.45zM394.26 522.9h1.45v1.45h-1.45zM402.93 529.1h1.45v1.45h-1.45zM403.71 498.5h1.45v1.45h-1.45zM396.2 520.99h1.45v1.45h-1.45zM395.93 510.87h1.45v1.45h-1.45zM392.49 510.27h1.45v1.45h-1.45zM401.48 515.58h1.45v1.45h-1.45zM406.79 512.69h1.45v1.45h-1.45zM395.9 510.09h1.45v1.45h-1.45zM406.57 528.67h1.45v1.45h-1.45zM399.28 500.95h1.45v1.45h-1.45zM398.33 486.13h1.45v1.45h-1.45zM396.94 501.9h1.45v1.45h-1.45zM402.22 499.97h1.45v1.45h-1.45zM392.2 476.75h1.45v1.45h-1.45zM387.3 518.09h1.45v1.45h-1.45zM403.77 515.45h1.45v1.45h-1.45zM381.94 509.26h1.45v1.45h-1.45zM322.37 490.81h1.45v1.45h-1.45zM404.65 520.48h1.45v1.45h-1.45zM394.99 498.1h1.45v1.45h-1.45zM370.62 513.42h1.45v1.45h-1.45zM389.54 526.28h1.45v1.45h-1.45zM396.21 503.13h1.45v1.45h-1.45zM399.55 516.48h1.45v1.45h-1.45zM392.73 487.21h1.45v1.45h-1.45zM394.64 502.87h1.45v1.45h-1.45zM400.72 488.06h1.45v1.45h-1.45zM399.09 499.53h1.45v1.45h-1.45zM404.27 485.67h1.45v1.45h-1.45zM402.83 501.36h1.45v1.45h-1.45zM390.31 501.93h1.45v1.45h-1.45zM405.62 499.37h1.45v1.45h-1.45zM396.92 522.54h1.45v1.45h-1.45zM403.1 493.31h1.45v1.45h-1.45zM395.14 515.56h1.45v1.45h-1.45zM394.2 523.35h1.45v1.45h-1.45zM406.02 510.1h1.45v1.45h-1.45zM399.43 510.1h1.45v1.45h-1.45zM403.29 507.89h1.45v1.45h-1.45zM402.72 482.24h1.45v1.45h-1.45zM401.63 514.36h1.45v1.45h-1.45zM407.1 482.06h1.45v1.45h-1.45zM398.41 531.28h1.45v1.45h-1.45zM406.94 509.68h1.45v1.45h-1.45zM393.27 522.62h1.45v1.45h-1.45zM399.66 507.56h1.45v1.45h-1.45zM404.07 503.19h1.45v1.45h-1.45zM402.64 504.3h1.45v1.45h-1.45zM388.13 498.97h1.45v1.45h-1.45zM405.54 511.04h1.45v1.45h-1.45zM399.25 505.89h1.45v1.45h-1.45z" fill="#ee3a2f" fill-opacity="0.47"/>
<path d="M403.97 487.8h1.45v1.45h-1.45zM369.58 520.77h1.45v1.45h-1.45zM404.79 522.9h1.45v1.45h-1.45zM396.28 508.89h1.45v1.45h-1.45zM395.95 513.69h1.45v1.45h-1.45zM386.46 505.22h1.45v1.45h-1.45zM393.29 506.23h1.45v1.45h-1.45zM406.9 525.55h1.45v1.45h-1.45zM394.14 512.16h1.45v1.45h-1.45zM396.14 502.8h1.45v1.45h-1.45zM403.77 499.97h1.45v1.45h-1.45zM403.86 519.23h1.45v1.45h-1.45zM356.48 499.37h1.45v1.45h-1.45zM406.39 507.5h1.45v1.45h-1.45zM401.11 520.19h1.45v1.45h-1.45zM386.95 502.13h1.45v1.45h-1.45zM396.68 513.88h1.45v1.45h-1.45zM400.51 502.28h1.45v1.45h-1.45zM389.22 505.73h1.45v1.45h-1.45zM377.87 501.23h1.45v1.45h-1.45zM405.42 526.32h1.45v1.45h-1.45zM390.43 511.45h1.45v1.45h-1.45zM397.9 509.89h1.45v1.45h-1.45zM389.37 490.65h1.45v1.45h-1.45zM397.38 512.38h1.45v1.45h-1.45zM394.44 503.83h1.45v1.45h-1.45zM391.35 522.53h1.45v1.45h-1.45zM384.12 520.93h1.45v1.45h-1.45zM387.34 493.05h1.45v1.45h-1.45zM394.33 504.47h1.45v1.45h-1.45zM352.07 544.68h1.45v1.45h-1.45zM398.43 520.91h1.45v1.45h-1.45zM396.54 518.55h1.45v1.45h-1.45zM405.87 516.19h1.45v1.45h-1.45zM406.92 500.45h1.45v1.45h-1.45zM391.21 512.3h1.45v1.45h-1.45zM396.1 511.46h1.45v1.45h-1.45zM388.57 508.98h1.45v1.45h-1.45zM407.21 510.13h1.45v1.45h-1.45zM362.14 499.84h1.45v1.45h-1.45zM402.44 495.95h1.45v1.45h-1.45zM402.11 510.5h1.45v1.45h-1.45zM399.39 518.26h1.45v1.45h-1.45zM406.34 496.46h1.45v1.45h-1.45zM403.31 505.61h1.45v1.45h-1.45zM400.1 489.38h1.45v1.45h-1.45zM394.75 518.22h1.45v1.45h-1.45zM392.47 528.76h1.45v1.45h-1.45zM388.35 529.85h1.45v1.45h-1.45zM404.1 524.14h1.45v1.45h-1.45zM397.17 498.51h1.45v1.45h-1.45zM406.73 505.05h1.45v1.45h-1.45zM383.41 510.1h1.45v1.45h-1.45zM392.28 524.65h1.45v1.45h-1.45zM386.03 526.9h1.45v1.45h-1.45zM398.52 517.89h1.45v1.45h-1.45zM405.23 509.27h1.45v1.45h-1.45zM379.97 519.7h1.45v1.45h-1.45zM386.56 511.06h1.45v1.45h-1.45zM394.31 506.63h1.45v1.45h-1.45zM406.86 504.97h1.45v1.45h-1.45zM394.86 508.45h1.45v1.45h-1.45zM399.29 514.94h1.45v1.45h-1.45zM390.08 508.81h1.45v1.45h-1.45zM401.13 501.08h1.45v1.45h-1.45zM399.29 508.51h1.45v1.45h-1.45zM406.82 470.92h1.45v1.45h-1.45zM382.11 517.48h1.45v1.45h-1.45zM398.73 497.73h1.45v1.45h-1.45zM404.08 521.23h1.45v1.45h-1.45zM368.99 495.51h1.45v1.45h-1.45zM386.32 522.78h1.45v1.45h-1.45zM403.6 497.44h1.45v1.45h-1.45zM407.6 487.36h1.45v1.45h-1.45zM401.03 504.36h1.45v1.45h-1.45zM390.76 506.09h1.45v1.45h-1.45zM391.76 541.31h1.45v1.45h-1.45zM394.55 513.04h1.45v1.45h-1.45zM383.57 528.65h1.45v1.45h-1.45zM395.11 489.43h1.45v1.45h-1.45zM399.9 501.49h1.45v1.45h-1.45zM398.5 500.29h1.45v1.45h-1.45zM402.1 523.57h1.45v1.45h-1.45zM404.82 477.78h1.45v1.45h-1.45zM314.9 540.03h1.45v1.45h-1.45zM392.11 513.68h1.45v1.45h-1.45zM391.62 526.86h1.45v1.45h-1.45zM400.07 506.35h1.45v1.45h-1.45zM343.97 500.7h1.45v1.45h-1.45zM405.08 513.05h1.45v1.45h-1.45zM394.92 501.21h1.45v1.45h-1.45zM389.8 515.88h1.45v1.45h-1.45zM403.22 524.82h1.45v1.45h-1.45zM403.71 502.18h1.45v1.45h-1.45zM405.53 500.03h1.45v1.45h-1.45zM392.74 491.98h1.45v1.45h-1.45zM397.64 518.99h1.45v1.45h-1.45zM397.5 536.48h1.45v1.45h-1.45zM402.03 490.3h1.45v1.45h-1.45zM402.55 504.24h1.45v1.45h-1.45zM397.57 502.33h1.45v1.45h-1.45zM393.45 517.04h1.45v1.45h-1.45zM400.08 512.19h1.45v1.45h-1.45zM352.6 510.93h1.45v1.45h-1.45zM400 511.54h1.45v1.45h-1.45zM403.62 508.78h1.45v1.45h-1.45zM396.5 543.23h1.45v1.45h-1.45zM398.65 500.99h1.45v1.45h-1.45zM387.88 507.05h1.45v1.45h-1.45zM402.06 521.7h1.45v1.45h-1.45zM401.16 508.13h1.45v1.45h-1.45zM399.18 515.01h1.45v1.45h-1.45zM403.79 508.89h1.45v1.45h-1.45zM397.7 502.32h1.45v1.45h-1.45zM398.31 491.95h1.45v1.45h-1.45zM396.69 510.15h1.45v1.45h-1.45zM396.03 496.08h1.45v1.45h-1.45zM397.73 508.47h1.45v1.45h-1.45zM397.68 522.8h1.45v1.45h-1.45zM401.35 498.91h1.45v1.45h-1.45zM393.47 524.38h1.45v1.45h-1.45zM377.12 516.25h1.45v1.45h-1.45zM393.9 492.38h1.45v1.45h-1.45zM392.3 509.2h1.45v1.45h-1.45zM396.91 505.52h1.45v1.45h-1.45zM393.27 519.63h1.45v1.45h-1.45zM376.58 508.39h1.45v1.45h-1.45zM384.05 511.43h1.45v1.45h-1.45zM404.62 540.64h1.45v1.45h-1.45zM404.19 521.94h1.45v1.45h-1.45zM334.43 521.39h1.45v1.45h-1.45zM404.32 528.07h1.45v1.45h-1.45zM406.67 492.03h1.45v1.45h-1.45zM407.57 509.14h1.45v1.45h-1.45zM383.16 510.69h1.45v1.45h-1.45zM393.55 497.62h1.45v1.45h-1.45zM402.47 493.95h1.45v1.45h-1.45zM377.82 518.39h1.45v1.45h-1.45zM400.34 519.63h1.45v1.45h-1.45zM406.45 505.13h1.45v1.45h-1.45zM374.66 511.65h1.45v1.45h-1.45zM395.03 498.68h1.45v1.45h-1.45zM393.96 490.41h1.45v1.45h-1.45zM391.75 495.9h1.45v1.45h-1.45zM394.78 491.22h1.45v1.45h-1.45zM391.15 500.74h1.45v1.45h-1.45zM402.51 518.73h1.45v1.45h-1.45zM404.04 523.13h1.45v1.45h-1.45zM393.52 512.05h1.45v1.45h-1.45zM398.03 527.63h1.45v1.45h-1.45zM375.69 526.26h1.45v1.45h-1.45zM380.44 510.02h1.45v1.45h-1.45zM375.2 504.89h1.45v1.45h-1.45zM400.52 508.61h1.45v1.45h-1.45zM400.12 495.37h1.45v1.45h-1.45zM383.81 527.51h1.45v1.45h-1.45zM402.73 550.63h1.45v1.45h-1.45zM384.96 513.39h1.45v1.45h-1.45zM400.48 510.95h1.45v1.45h-1.45zM394.68 510.77h1.45v1.45h-1.45zM394.97 486.75h1.45v1.45h-1.45zM396.91 506.46h1.45v1.45h-1.45zM398.46 520.66h1.45v1.45h-1.45zM405.47 513.39h1.45v1.45h-1.45zM391.13 529.55h1.45v1.45h-1.45zM386.59 505.16h1.45v1.45h-1.45zM400.47 502.98h1.45v1.45h-1.45zM398.13 523.17h1.45v1.45h-1.45zM404.03 497.88h1.45v1.45h-1.45zM403.53 511.74h1.45v1.45h-1.45zM396.94 500.83h1.45v1.45h-1.45zM389.73 527.68h1.45v1.45h-1.45zM403.36 499h1.45v1.45h-1.45zM405.63 502.71h1.45v1.45h-1.45zM384.17 504.48h1.45v1.45h-1.45zM404.49 506.78h1.45v1.45h-1.45zM382.03 492.82h1.45v1.45h-1.45zM343.93 531.96h1.45v1.45h-1.45zM406.76 523.56h1.45v1.45h-1.45zM383.69 510.97h1.45v1.45h-1.45zM387.09 516.82h1.45v1.45h-1.45zM400.28 521.71h1.45v1.45h-1.45zM392.16 509.54h1.45v1.45h-1.45zM404.52 508.66h1.45v1.45h-1.45zM399.15 497.41h1.45v1.45h-1.45zM389.09 501.55h1.45v1.45h-1.45zM399.19 527.23h1.45v1.45h-1.45zM401.32 503.21h1.45v1.45h-1.45zM400.15 490.62h1.45v1.45h-1.45zM395.01 516.81h1.45v1.45h-1.45zM406.76 492.11h1.45v1.45h-1.45zM399.58 520.86h1.45v1.45h-1.45zM398.82 495.77h1.45v1.45h-1.45zM407.24 508.43h1.45v1.45h-1.45zM394.17 510.73h1.45v1.45h-1.45zM389.94 511.53h1.45v1.45h-1.45zM406.97 505.14h1.45v1.45h-1.45zM404.68 525.08h1.45v1.45h-1.45zM399.8 488.26h1.45v1.45h-1.45zM407.36 496h1.45v1.45h-1.45zM395.58 519.38h1.45v1.45h-1.45zM405.71 497.8h1.45v1.45h-1.45zM393.46 526.95h1.45v1.45h-1.45zM397.14 504.09h1.45v1.45h-1.45zM391.98 522.16h1.45v1.45h-1.45zM397.27 497.59h1.45v1.45h-1.45zM403.94 505.59h1.45v1.45h-1.45zM386.15 496.82h1.45v1.45h-1.45zM381.1 531.84h1.45v1.45h-1.45zM390.57 524.03h1.45v1.45h-1.45zM394.87 518.77h1.45v1.45h-1.45zM407.16 494.85h1.45v1.45h-1.45zM397.34 497.8h1.45v1.45h-1.45zM403.88 510.79h1.45v1.45h-1.45zM404.12 491.93h1.45v1.45h-1.45zM406.84 502.22h1.45v1.45h-1.45zM400.24 493.55h1.45v1.45h-1.45zM363.99 502.15h1.45v1.45h-1.45zM376.02 509.15h1.45v1.45h-1.45zM389.9 526.63h1.45v1.45h-1.45zM405.68 517.49h1.45v1.45h-1.45zM396.01 516.69h1.45v1.45h-1.45zM397.7 492.97h1.45v1.45h-1.45zM397.35 496.56h1.45v1.45h-1.45zM382.75 501.58h1.45v1.45h-1.45zM402.2 497.08h1.45v1.45h-1.45zM407.19 497.68h1.45v1.45h-1.45zM398.01 548.55h1.45v1.45h-1.45zM395.92 529.78h1.45v1.45h-1.45zM381.97 525.14h1.45v1.45h-1.45zM311.67 521.3h1.45v1.45h-1.45zM392.76 512.17h1.45v1.45h-1.45zM404.83 501.8h1.45v1.45h-1.45zM407.44 510.22h1.45v1.45h-1.45zM397.79 496.79h1.45v1.45h-1.45zM399.18 494.58h1.45v1.45h-1.45zM385 515.87h1.45v1.45h-1.45zM405.78 512.45h1.45v1.45h-1.45zM397.61 497.39h1.45v1.45h-1.45zM369.34 491.34h1.45v1.45h-1.45zM403.37 517.1h1.45v1.45h-1.45zM404.23 512.19h1.45v1.45h-1.45zM399.39 502.91h1.45v1.45h-1.45zM392.07 505.79h1.45v1.45h-1.45zM373.63 506.57h1.45v1.45h-1.45zM402.16 518.66h1.45v1.45h-1.45zM378.42 500.5h1.45v1.45h-1.45zM391.28 518.22h1.45v1.45h-1.45zM400.79 497.48h1.45v1.45h-1.45zM398.96 523.4h1.45v1.45h-1.45zM377.11 514.9h1.45v1.45h-1.45zM400.39 493.06h1.45v1.45h-1.45zM389.77 494.45h1.45v1.45h-1.45zM347.19 514.22h1.45v1.45h-1.45zM371.88 509.55h1.45v1.45h-1.45zM395.23 509.42h1.45v1.45h-1.45zM404.98 511.63h1.45v1.45h-1.45zM404.01 487.82h1.45v1.45h-1.45zM403.24 472.51h1.45v1.45h-1.45zM406.79 502.24h1.45v1.45h-1.45zM396.12 511.12h1.45v1.45h-1.45zM394.78 497.5h1.45v1.45h-1.45zM392.43 492.67h1.45v1.45h-1.45zM397.62 508.48h1.45v1.45h-1.45zM330.27 512.97h1.45v1.45h-1.45zM402.6 505.04h1.45v1.45h-1.45zM396.58 497.01h1.45v1.45h-1.45zM397.74 499.4h1.45v1.45h-1.45zM407.61 513.59h1.45v1.45h-1.45zM396.24 497.66h1.45v1.45h-1.45zM397.47 500.01h1.45v1.45h-1.45zM395.77 515.53h1.45v1.45h-1.45zM391.13 531.94h1.45v1.45h-1.45zM399.12 506.59h1.45v1.45h-1.45zM382.99 513.3h1.45v1.45h-1.45zM402.93 507.27h1.45v1.45h-1.45zM402.47 511.25h1.45v1.45h-1.45zM403.29 470.17h1.45v1.45h-1.45zM396.48 521.97h1.45v1.45h-1.45zM395.79 535.29h1.45v1.45h-1.45zM406.78 518.02h1.45v1.45h-1.45zM406.89 515.43h1.45v1.45h-1.45zM405.82 503.95h1.45v1.45h-1.45zM400.95 508.24h1.45v1.45h-1.45zM407.05 504.84h1.45v1.45h-1.45zM404.45 496.12h1.45v1.45h-1.45zM399.45 497.42h1.45v1.45h-1.45z" fill="#ee3a2f" fill-opacity="0.47"/>
<path d="M405.18 480.61h1.45v1.45h-1.45zM388.49 504.67h1.45v1.45h-1.45zM403.99 517.01h1.45v1.45h-1.45zM405.63 507.24h1.45v1.45h-1.45zM391.06 520.85h1.45v1.45h-1.45zM404.73 520.12h1.45v1.45h-1.45zM402.97 509.28h1.45v1.45h-1.45zM407.77 519.47h1.45v1.45h-1.45zM395.75 516.84h1.45v1.45h-1.45zM396.37 517.73h1.45v1.45h-1.45zM402.74 509.42h1.45v1.45h-1.45zM389.56 517.24h1.45v1.45h-1.45zM404.37 528.45h1.45v1.45h-1.45zM389.67 508.59h1.45v1.45h-1.45zM401.46 509.79h1.45v1.45h-1.45zM397.35 508.44h1.45v1.45h-1.45zM403.28 501.19h1.45v1.45h-1.45zM403.91 507.9h1.45v1.45h-1.45zM398.52 481.5h1.45v1.45h-1.45zM381.83 533.04h1.45v1.45h-1.45zM393.9 509.09h1.45v1.45h-1.45zM406.73 532.58h1.45v1.45h-1.45zM403.68 494.82h1.45v1.45h-1.45zM401.8 526.54h1.45v1.45h-1.45zM388.35 494.7h1.45v1.45h-1.45zM403.29 497.81h1.45v1.45h-1.45zM375.99 511.73h1.45v1.45h-1.45zM404.42 505.38h1.45v1.45h-1.45zM384.45 500.67h1.45v1.45h-1.45zM396.54 494.3h1.45v1.45h-1.45zM393.51 514.23h1.45v1.45h-1.45zM349.98 497.2h1.45v1.45h-1.45zM404.16 508.25h1.45v1.45h-1.45zM399.15 500.65h1.45v1.45h-1.45zM380.82 515.89h1.45v1.45h-1.45zM401.43 486.65h1.45v1.45h-1.45zM387.13 518.06h1.45v1.45h-1.45zM402.87 502.73h1.45v1.45h-1.45zM398.84 521.39h1.45v1.45h-1.45zM406.62 491.86h1.45v1.45h-1.45zM402 493.22h1.45v1.45h-1.45zM376.31 522.19h1.45v1.45h-1.45zM402.84 520.49h1.45v1.45h-1.45zM403.1 505.91h1.45v1.45h-1.45zM390.79 510.15h1.45v1.45h-1.45zM398.13 484.22h1.45v1.45h-1.45zM406.4 496.57h1.45v1.45h-1.45zM401.47 494.83h1.45v1.45h-1.45zM397.44 508.3h1.45v1.45h-1.45zM387.65 515.99h1.45v1.45h-1.45zM399.35 520.7h1.45v1.45h-1.45zM396.16 513.31h1.45v1.45h-1.45zM384.38 529.83h1.45v1.45h-1.45zM403.22 504.85h1.45v1.45h-1.45zM400.5 502.44h1.45v1.45h-1.45zM395.12 488.77h1.45v1.45h-1.45zM394.28 501.64h1.45v1.45h-1.45zM356.38 504.21h1.45v1.45h-1.45zM393.5 502.51h1.45v1.45h-1.45zM398.78 495.94h1.45v1.45h-1.45zM407.4 485.06h1.45v1.45h-1.45zM403.2 510.28h1.45v1.45h-1.45zM399.47 514.36h1.45v1.45h-1.45zM397.4 519.37h1.45v1.45h-1.45zM405.36 500.1h1.45v1.45h-1.45zM392.46 495.25h1.45v1.45h-1.45zM394.38 532.18h1.45v1.45h-1.45zM389.79 518.1h1.45v1.45h-1.45zM402.27 501.19h1.45v1.45h-1.45zM388.64 502.18h1.45v1.45h-1.45zM391.22 503.35h1.45v1.45h-1.45zM394.27 510.82h1.45v1.45h-1.45zM399.15 523.56h1.45v1.45h-1.45zM386.81 521.66h1.45v1.45h-1.45zM374.2 513.08h1.45v1.45h-1.45zM396.2 519.37h1.45v1.45h-1.45zM401.53 514.05h1.45v1.45h-1.45zM407.01 504.98h1.45v1.45h-1.45zM400.15 511.86h1.45v1.45h-1.45zM390.89 486.52h1.45v1.45h-1.45zM388.18 500.51h1.45v1.45h-1.45zM404.56 513.15h1.45v1.45h-1.45zM393.92 505.09h1.45v1.45h-1.45zM400.09 514.05h1.45v1.45h-1.45zM393.33 499.66h1.45v1.45h-1.45zM401.03 508.36h1.45v1.45h-1.45zM375.97 514.17h1.45v1.45h-1.45zM400.28 483.27h1.45v1.45h-1.45zM386.63 503.28h1.45v1.45h-1.45zM396.52 497.19h1.45v1.45h-1.45zM385.92 508.34h1.45v1.45h-1.45zM397.54 514.53h1.45v1.45h-1.45zM402.69 502.6h1.45v1.45h-1.45zM400.25 534.41h1.45v1.45h-1.45zM402.95 507.95h1.45v1.45h-1.45zM403.39 495.7h1.45v1.45h-1.45zM406.74 485.4h1.45v1.45h-1.45zM389.19 515.76h1.45v1.45h-1.45zM397.32 494.85h1.45v1.45h-1.45zM389.65 525.66h1.45v1.45h-1.45zM388.66 497.81h1.45v1.45h-1.45zM401.89 504.68h1.45v1.45h-1.45zM378.08 526.88h1.45v1.45h-1.45zM398.09 515.94h1.45v1.45h-1.45zM405.57 516.1h1.45v1.45h-1.45zM405.05 510.91h1.45v1.45h-1.45zM395.16 533.35h1.45v1.45h-1.45zM383.39 519.24h1.45v1.45h-1.45zM379.33 502.45h1.45v1.45h-1.45zM388.45 515.32h1.45v1.45h-1.45zM382.01 522.76h1.45v1.45h-1.45zM401.22 529.96h1.45v1.45h-1.45zM389.92 476.29h1.45v1.45h-1.45zM351.34 497.03h1.45v1.45h-1.45zM397.18 527.64h1.45v1.45h-1.45zM393.02 523.98h1.45v1.45h-1.45zM391.65 494.69h1.45v1.45h-1.45zM395.38 535.65h1.45v1.45h-1.45zM392.42 515.21h1.45v1.45h-1.45zM397.54 529.18h1.45v1.45h-1.45zM394.69 523.48h1.45v1.45h-1.45zM364.45 497.86h1.45v1.45h-1.45zM406.33 494.03h1.45v1.45h-1.45zM368.48 513.7h1.45v1.45h-1.45zM405.77 498.08h1.45v1.45h-1.45zM406.76 500.95h1.45v1.45h-1.45zM354.22 501.07h1.45v1.45h-1.45zM406.45 524.12h1.45v1.45h-1.45zM398.34 499.21h1.45v1.45h-1.45zM370.79 530.27h1.45v1.45h-1.45zM406.7 505.66h1.45v1.45h-1.45zM398.42 519.4h1.45v1.45h-1.45zM404.25 511.68h1.45v1.45h-1.45zM400.66 525.06h1.45v1.45h-1.45zM406.96 502.68h1.45v1.45h-1.45zM377.72 525.74h1.45v1.45h-1.45zM394.45 495.36h1.45v1.45h-1.45zM401.69 521.97h1.45v1.45h-1.45zM402.81 503.77h1.45v1.45h-1.45zM383.13 502.24h1.45v1.45h-1.45zM397.54 515.59h1.45v1.45h-1.45zM395.08 502.38h1.45v1.45h-1.45zM399.39 481.64h1.45v1.45h-1.45zM384.27 514.98h1.45v1.45h-1.45zM404.91 522.28h1.45v1.45h-1.45zM392.44 509.38h1.45v1.45h-1.45zM365.33 527.74h1.45v1.45h-1.45zM392.92 510.38h1.45v1.45h-1.45zM405.58 519.4h1.45v1.45h-1.45zM403 495.2h1.45v1.45h-1.45zM407.18 515.56h1.45v1.45h-1.45zM402.99 497.51h1.45v1.45h-1.45zM376.11 523.68h1.45v1.45h-1.45zM361.18 521.39h1.45v1.45h-1.45zM382.34 513.07h1.45v1.45h-1.45zM393.32 508.08h1.45v1.45h-1.45zM395.91 518.11h1.45v1.45h-1.45zM379.32 506.55h1.45v1.45h-1.45zM403.06 503.69h1.45v1.45h-1.45zM390.36 497.81h1.45v1.45h-1.45zM394.9 510.34h1.45v1.45h-1.45zM385.1 500.2h1.45v1.45h-1.45zM395.41 484.85h1.45v1.45h-1.45zM399.19 535.79h1.45v1.45h-1.45zM406.77 508.99h1.45v1.45h-1.45zM404.86 501.3h1.45v1.45h-1.45zM403.48 511.26h1.45v1.45h-1.45zM373.42 515.28h1.45v1.45h-1.45zM396.31 490.48h1.45v1.45h-1.45zM405.76 508.14h1.45v1.45h-1.45zM402.67 509.47h1.45v1.45h-1.45zM351.14 502.4h1.45v1.45h-1.45zM404.84 507.12h1.45v1.45h-1.45zM396.29 500.72h1.45v1.45h-1.45zM363.72 511.58h1.45v1.45h-1.45zM377.76 513.53h1.45v1.45h-1.45zM391.45 522.75h1.45v1.45h-1.45zM401.74 487.05h1.45v1.45h-1.45zM404.56 512.44h1.45v1.45h-1.45zM403.12 516.94h1.45v1.45h-1.45zM402.23 494.34h1.45v1.45h-1.45zM403.64 516.72h1.45v1.45h-1.45zM405.4 517.47h1.45v1.45h-1.45zM407.35 498.62h1.45v1.45h-1.45zM402.37 496.05h1.45v1.45h-1.45zM393.06 500.18h1.45v1.45h-1.45zM394.58 517.59h1.45v1.45h-1.45zM389.44 490.86h1.45v1.45h-1.45zM399.43 524.43h1.45v1.45h-1.45zM400.88 487.06h1.45v1.45h-1.45zM356.98 509.04h1.45v1.45h-1.45zM392.21 521.73h1.45v1.45h-1.45zM392.79 515.41h1.45v1.45h-1.45zM397.65 506.15h1.45v1.45h-1.45zM396.8 504.98h1.45v1.45h-1.45zM405.71 503.09h1.45v1.45h-1.45zM391.16 519.9h1.45v1.45h-1.45zM372.04 521.05h1.45v1.45h-1.45zM396.68 513.26h1.45v1.45h-1.45zM396.87 520.71h1.45v1.45h-1.45zM406.64 512.69h1.45v1.45h-1.45zM372.73 499.34h1.45v1.45h-1.45zM396.14 524.56h1.45v1.45h-1.45zM401.16 506.46h1.45v1.45h-1.45zM396.29 506.87h1.45v1.45h-1.45zM394.82 523.55h1.45v1.45h-1.45zM395.89 522.99h1.45v1.45h-1.45zM400.38 510.3h1.45v1.45h-1.45zM406.38 502.19h1.45v1.45h-1.45zM398.67 509.97h1.45v1.45h-1.45zM382.31 529.69h1.45v1.45h-1.45zM391.49 531.01h1.45v1.45h-1.45zM406.13 504.77h1.45v1.45h-1.45zM382.9 511.79h1.45v1.45h-1.45zM376.85 512.27h1.45v1.45h-1.45zM388.35 505.78h1.45v1.45h-1.45zM400.36 477.8h1.45v1.45h-1.45zM358.5 508.85h1.45v1.45h-1.45zM390.55 503.21h1.45v1.45h-1.45zM395.84 506.65h1.45v1.45h-1.45zM404.22 546.99h1.45v1.45h-1.45zM401.57 493.79h1.45v1.45h-1.45zM390.02 514.9h1.45v1.45h-1.45zM379.53 493.46h1.45v1.45h-1.45zM379.51 512.83h1.45v1.45h-1.45zM393.42 500.18h1.45v1.45h-1.45zM394.72 513.45h1.45v1.45h-1.45zM391.6 504.32h1.45v1.45h-1.45zM401.13 504.82h1.45v1.45h-1.45zM402.77 514.18h1.45v1.45h-1.45zM359.17 495.32h1.45v1.45h-1.45zM348.01 501.91h1.45v1.45h-1.45zM405.77 503.93h1.45v1.45h-1.45zM399.41 511.33h1.45v1.45h-1.45zM392.48 498.21h1.45v1.45h-1.45zM385.16 492.25h1.45v1.45h-1.45zM405.82 489.77h1.45v1.45h-1.45zM399.71 500.64h1.45v1.45h-1.45zM405.14 520.27h1.45v1.45h-1.45zM403.89 516.71h1.45v1.45h-1.45zM397.34 480.12h1.45v1.45h-1.45zM401.95 517.68h1.45v1.45h-1.45zM406.49 501.78h1.45v1.45h-1.45zM319.97 516.85h1.45v1.45h-1.45zM395.22 511.97h1.45v1.45h-1.45zM394.01 520.82h1.45v1.45h-1.45zM405.47 507.48h1.45v1.45h-1.45zM404.78 515.49h1.45v1.45h-1.45zM390.11 507.98h1.45v1.45h-1.45zM398.14 507.74h1.45v1.45h-1.45zM391.04 514.23h1.45v1.45h-1.45zM387.25 502.01h1.45v1.45h-1.45zM399.83 499.29h1.45v1.45h-1.45zM385.7 502.48h1.45v1.45h-1.45zM388.48 537.22h1.45v1.45h-1.45zM394.19 511.83h1.45v1.45h-1.45zM404.72 492.91h1.45v1.45h-1.45zM391.41 515.05h1.45v1.45h-1.45zM406.55 506.42h1.45v1.45h-1.45zM376.88 495.09h1.45v1.45h-1.45zM398.2 518.76h1.45v1.45h-1.45zM398.98 527.72h1.45v1.45h-1.45zM389.27 507.4h1.45v1.45h-1.45zM403.36 499.16h1.45v1.45h-1.45zM406.23 500.22h1.45v1.45h-1.45zM399.94 495.02h1.45v1.45h-1.45zM407.38 489.46h1.45v1.45h-1.45zM384.14 543.41h1.45v1.45h-1.45zM405.85 483.89h1.45v1.45h-1.45zM380.13 528.96h1.45v1.45h-1.45zM369.94 523.26h1.45v1.45h-1.45zM399.94 505.54h1.45v1.45h-1.45zM384.46 509.26h1.45v1.45h-1.45zM401.39 495.37h1.45v1.45h-1.45zM402.45 513.54h1.45v1.45h-1.45zM390.35 490.14h1.45v1.45h-1.45zM389.2 505.97h1.45v1.45h-1.45zM402.57 519.69h1.45v1.45h-1.45zM406.03 496.4h1.45v1.45h-1.45zM404.73 507.53h1.45v1.45h-1.45zM391.48 515.03h1.45v1.45h-1.45zM389.49 519.64h1.45v1.45h-1.45zM398.12 499.05h1.45v1.45h-1.45zM407.1 493.65h1.45v1.45h-1.45zM393.19 499.38h1.45v1.45h-1.45zM401.48 489.97h1.45v1.45h-1.45zM381.3 519.94h1.45v1.45h-1.45z" fill="#ee3a2f" fill-opacity="0.47"/>
<path d="M400.28 524.79h1.45v1.45h-1.45zM361.47 512.42h1.45v1.45h-1.45zM376.8 511.58h1.45v1.45h-1.45zM388.73 527.53h1.45v1.45h-1.45zM400.77 509.16h1.45v1.45h-1.45zM399.34 506.72h1.45v1.45h-1.45zM403.26 525.95h1.45v1.45h-1.45zM401.41 477.82h1.45v1.45h-1.45zM399.1 497.45h1.45v1.45h-1.45zM393.44 505h1.45v1.45h-1.45zM407.23 520.63h1.45v1.45h-1.45zM381.54 526.08h1.45v1.45h-1.45zM406.08 508.44h1.45v1.45h-1.45zM402.51 515.11h1.45v1.45h-1.45zM406.06 486.16h1.45v1.45h-1.45zM394.55 503.86h1.45v1.45h-1.45zM395 537.4h1.45v1.45h-1.45zM388.81 486.23h1.45v1.45h-1.45zM392.86 516.13h1.45v1.45h-1.45zM403.43 499.24h1.45v1.45h-1.45zM391.3 496.4h1.45v1.45h-1.45zM401.39 515.42h1.45v1.45h-1.45zM406.81 507.69h1.45v1.45h-1.45zM407.11 473.81h1.45v1.45h-1.45zM399.26 502.39h1.45v1.45h-1.45zM387.39 513.14h1.45v1.45h-1.45zM395.13 513.52h1.45v1.45h-1.45zM366.25 507.72h1.45v1.45h-1.45zM403.62 499.72h1.45v1.45h-1.45zM382.54 528.05h1.45v1.45h-1.45zM399.62 510.61h1.45v1.45h-1.45zM394.33 529.84h1.45v1.45h-1.45zM385.24 513.21h1.45v1.45h-1.45zM405.67 503.05h1.45v1.45h-1.45zM399.9 489.39h1.45v1.45h-1.45zM401.86 516.93h1.45v1.45h-1.45zM396.61 506.95h1.45v1.45h-1.45zM391.95 492.5h1.45v1.45h-1.45zM390.53 524.98h1.45v1.45h-1.45zM389.68 545.48h1.45v1.45h-1.45zM398.35 528.13h1.45v1.45h-1.45zM397.27 498.87h1.45v1.45h-1.45zM393.1 514.39h1.45v1.45h-1.45zM371.42 514.48h1.45v1.45h-1.45zM395.26 536.73h1.45v1.45h-1.45zM399.48 499.46h1.45v1.45h-1.45zM337.51 526.51h1.45v1.45h-1.45zM360.06 529.37h1.45v1.45h-1.45zM358.6 517.64h1.45v1.45h-1.45zM400.29 485.29h1.45v1.45h-1.45zM392.41 520.15h1.45v1.45h-1.45zM405.44 503.19h1.45v1.45h-1.45zM378.28 501.39h1.45v1.45h-1.45zM401.01 494.01h1.45v1.45h-1.45zM384.4 522.1h1.45v1.45h-1.45zM404.83 497.78h1.45v1.45h-1.45zM391.13 503.38h1.45v1.45h-1.45zM404.56 497.37h1.45v1.45h-1.45zM406.33 496.88h1.45v1.45h-1.45zM397.47 523.29h1.45v1.45h-1.45zM406.45 511.12h1.45v1.45h-1.45zM390.02 510.23h1.45v1.45h-1.45zM406.18 499.03h1.45v1.45h-1.45zM391.51 533.99h1.45v1.45h-1.45zM403 524.2h1.45v1.45h-1.45zM394.05 520.54h1.45v1.45h-1.45zM398.9 515.51h1.45v1.45h-1.45zM399.38 504.4h1.45v1.45h-1.45zM403.21 503.88h1.45v1.45h-1.45zM401.97 514.02h1.45v1.45h-1.45zM402.73 516.94h1.45v1.45h-1.45zM400.5 517.33h1.45v1.45h-1.45zM370.34 513.53h1.45v1.45h-1.45zM357 535.95h1.45v1.45h-1.45zM393.22 494.56h1.45v1.45h-1.45zM406.32 521.66h1.45v1.45h-1.45zM406.1 470.38h1.45v1.45h-1.45zM407.18 512.47h1.45v1.45h-1.45zM406.02 489.77h1.45v1.45h-1.45zM406.73 508.66h1.45v1.45h-1.45zM406.88 505.11h1.45v1.45h-1.45zM372.51 507.67h1.45v1.45h-1.45zM406.82 501.38h1.45v1.45h-1.45zM404.42 525.85h1.45v1.45h-1.45zM406.73 503.06h1.45v1.45h-1.45zM403.03 509.84h1.45v1.45h-1.45zM398.42 515.63h1.45v1.45h-1.45zM392.52 504.84h1.45v1.45h-1.45zM377.11 502.56h1.45v1.45h-1.45zM404.8 492.3h1.45v1.45h-1.45zM399.43 495.09h1.45v1.45h-1.45zM390.33 525.61h1.45v1.45h-1.45zM402.12 511.66h1.45v1.45h-1.45zM407.55 501.89h1.45v1.45h-1.45zM370.67 515.68h1.45v1.45h-1.45zM395.68 494.37h1.45v1.45h-1.45zM380.6 528.39h1.45v1.45h-1.45zM398.27 513.6h1.45v1.45h-1.45zM383.56 512.87h1.45v1.45h-1.45zM392.83 523.92h1.45v1.45h-1.45zM396.13 536.64h1.45v1.45h-1.45zM406.75 509.8h1.45v1.45h-1.45zM399.66 501.64h1.45v1.45h-1.45zM390.6 514.42h1.45v1.45h-1.45zM399.03 499.97h1.45v1.45h-1.45zM388.23 519.08h1.45v1.45h-1.45zM393.87 508.43h1.45v1.45h-1.45zM392.67 495.13h1.45v1.45h-1.45zM407.69 493.75h1.45v1.45h-1.45zM397.55 499.88h1.45v1.45h-1.45zM397.82 502.39h1.45v1.45h-1.45zM391.03 496.27h1.45v1.45h-1.45zM401.63 533.21h1.45v1.45h-1.45zM389.96 504.35h1.45v1.45h-1.45zM394.82 496.42h1.45v1.45h-1.45zM406.61 520.19h1.45v1.45h-1.45zM384.01 493.25h1.45v1.45h-1.45zM384.82 507.61h1.45v1.45h-1.45zM399.22 522.16h1.45v1.45h-1.45zM407.46 485.89h1.45v1.45h-1.45zM405.87 502.21h1.45v1.45h-1.45zM398.97 473.6h1.45v1.45h-1.45zM387.61 494.32h1.45v1.45h-1.45zM400.76 541.14h1.45v1.45h-1.45zM394.57 510.16h1.45v1.45h-1.45zM401.91 510.27h1.45v1.45h-1.45zM387.73 507.44h1.45v1.45h-1.45zM401.52 491.55h1.45v1.45h-1.45zM375.06 504.84h1.45v1.45h-1.45zM395.93 517.68h1.45v1.45h-1.45zM393.24 517.29h1.45v1.45h-1.45zM399.64 516.76h1.45v1.45h-1.45zM400.91 520.52h1.45v1.45h-1.45zM396 489.17h1.45v1.45h-1.45zM399.16 493.63h1.45v1.45h-1.45zM396.22 494.37h1.45v1.45h-1.45zM393.55 501.78h1.45v1.45h-1.45zM402.15 490.94h1.45v1.45h-1.45zM395.6 495.54h1.45v1.45h-1.45zM398.06 503.45h1.45v1.45h-1.45zM391.44 481.7h1.45v1.45h-1.45zM406.69 503.67h1.45v1.45h-1.45zM399.62 509.59h1.45v1.45h-1.45zM390.8 519.76h1.45v1.45h-1.45zM398.07 497.97h1.45v1.45h-1.45zM385.17 542.17h1.45v1.45h-1.45zM396.14 499.34h1.45v1.45h-1.45zM399.86 511.6h1.45v1.45h-1.45zM394.35 489.33h1.45v1.45h-1.45zM403.92 506.08h1.45v1.45h-1.45zM394.63 527.39h1.45v1.45h-1.45zM385.26 496.51h1.45v1.45h-1.45zM405.61 506.66h1.45v1.45h-1.45zM379.95 507.19h1.45v1.45h-1.45zM400.18 507.13h1.45v1.45h-1.45zM406.2 502.61h1.45v1.45h-1.45zM396.98 489.63h1.45v1.45h-1.45zM371.25 537.32h1.45v1.45h-1.45zM400.41 520.98h1.45v1.45h-1.45zM395.97 499.28h1.45v1.45h-1.45zM404.33 486.72h1.45v1.45h-1.45zM399.45 507.04h1.45v1.45h-1.45zM404.9 533.07h1.45v1.45h-1.45zM400.75 516.46h1.45v1.45h-1.45zM399.85 504.32h1.45v1.45h-1.45zM349.8 519.43h1.45v1.45h-1.45zM394.02 501.8h1.45v1.45h-1.45zM397.53 499.58h1.45v1.45h-1.45zM398.39 505.47h1.45v1.45h-1.45zM397.81 491.14h1.45v1.45h-1.45zM376.89 509.63h1.45v1.45h-1.45zM402.48 523.29h1.45v1.45h-1.45zM404.13 516.04h1.45v1.45h-1.45zM397.73 520.09h1.45v1.45h-1.45zM390.55 501.05h1.45v1.45h-1.45zM383.49 524.71h1.45v1.45h-1.45zM384.04 543.38h1.45v1.45h-1.45zM392.91 508.6h1.45v1.45h-1.45zM401.41 524.03h1.45v1.45h-1.45zM406.31 514.6h1.45v1.45h-1.45zM389.01 513.01h1.45v1.45h-1.45zM401.32 513.73h1.45v1.45h-1.45zM397.27 505.59h1.45v1.45h-1.45zM378.27 499.01h1.45v1.45h-1.45zM402.18 514.89h1.45v1.45h-1.45zM404.97 527.05h1.45v1.45h-1.45zM373.67 532.3h1.45v1.45h-1.45zM404.1 506.12h1.45v1.45h-1.45zM396.21 515.35h1.45v1.45h-1.45zM401.96 513.58h1.45v1.45h-1.45zM341.73 541.15h1.45v1.45h-1.45zM365.5 526.4h1.45v1.45h-1.45zM379.47 504.38h1.45v1.45h-1.45zM398.21 516.95h1.45v1.45h-1.45zM388.68 523.02h1.45v1.45h-1.45zM401.63 512.82h1.45v1.45h-1.45zM394.2 520.13h1.45v1.45h-1.45zM396.25 495.23h1.45v1.45h-1.45zM405.82 488.91h1.45v1.45h-1.45zM394.64 523.41h1.45v1.45h-1.45zM395.53 501.54h1.45v1.45h-1.45zM404.28 505.97h1.45v1.45h-1.45zM387.09 487.91h1.45v1.45h-1.45zM399.9 505.9h1.45v1.45h-1.45zM404.66 496.76h1.45v1.45h-1.45zM385.45 523.76h1.45v1.45h-1.45zM398.65 520.13h1.45v1.45h-1.45zM393.85 501.37h1.45v1.45h-1.45zM402.52 507.32h1.45v1.45h-1.45zM392.03 489.33h1.45v1.45h-1.45zM400.6 517.98h1.45v1.45h-1.45zM394.68 501.38h1.45v1.45h-1.45zM395.96 509.2h1.45v1.45h-1.45zM407.75 511.26h1.45v1.45h-1.45zM400.33 510.7h1.45v1.45h-1.45zM395.27 480.48h1.45v1.45h-1.45zM329.35 524.49h1.45v1.45h-1.45zM380.55 527.43h1.45v1.45h-1.45zM403.86 510.71h1.45v1.45h-1.45zM380.99 519.94h1.45v1.45h-1.45zM378.14 512.85h1.45v1.45h-1.45zM375.82 509.74h1.45v1.45h-1.45zM402.37 496.85h1.45v1.45h-1.45zM400.67 505.65h1.45v1.45h-1.45zM401.96 488.85h1.45v1.45h-1.45zM398.07 524.75h1.45v1.45h-1.45zM406.45 503.66h1.45v1.45h-1.45zM400.08 522.2h1.45v1.45h-1.45zM382.77 516.13h1.45v1.45h-1.45zM406.73 512.57h1.45v1.45h-1.45zM395.04 480.45h1.45v1.45h-1.45zM391.43 514.91h1.45v1.45h-1.45zM399.93 491.91h1.45v1.45h-1.45zM399.37 506.86h1.45v1.45h-1.45zM389.58 497.15h1.45v1.45h-1.45zM401.65 510.82h1.45v1.45h-1.45zM405.07 486.99h1.45v1.45h-1.45zM379.86 529.64h1.45v1.45h-1.45zM402.75 505.67h1.45v1.45h-1.45zM393.42 508.2h1.45v1.45h-1.45zM386.16 515.87h1.45v1.45h-1.45zM394.68 526.4h1.45v1.45h-1.45zM391.49 542.15h1.45v1.45h-1.45zM404.05 513.03h1.45v1.45h-1.45zM397.36 505.12h1.45v1.45h-1.45zM400.04 499.92h1.45v1.45h-1.45zM392.44 528.19h1.45v1.45h-1.45zM397.31 519h1.45v1.45h-1.45zM396.26 511.26h1.45v1.45h-1.45zM387.14 515.37h1.45v1.45h-1.45zM380.77 521.99h1.45v1.45h-1.45zM401.86 505.38h1.45v1.45h-1.45zM389.08 502.16h1.45v1.45h-1.45zM403.29 491.26h1.45v1.45h-1.45zM388.8 508.22h1.45v1.45h-1.45zM401.12 496.33h1.45v1.45h-1.45zM374.27 520.56h1.45v1.45h-1.45zM407 491.57h1.45v1.45h-1.45zM390.52 509.77h1.45v1.45h-1.45zM403.32 520.99h1.45v1.45h-1.45zM394.05 506.31h1.45v1.45h-1.45zM400.92 481.86h1.45v1.45h-1.45zM403.47 497.45h1.45v1.45h-1.45zM400.42 529.1h1.45v1.45h-1.45zM399.04 496.93h1.45v1.45h-1.45zM386.19 523.67h1.45v1.45h-1.45zM392.7 513.88h1.45v1.45h-1.45zM405.9 510.57h1.45v1.45h-1.45zM391.86 516.91h1.45v1.45h-1.45zM401.17 508.92h1.45v1.45h-1.45zM394.61 502.85h1.45v1.45h-1.45zM370.47 516.92h1.45v1.45h-1.45zM403.68 510.53h1.45v1.45h-1.45zM387.59 534.83h1.45v1.45h-1.45zM396.01 509.31h1.45v1.45h-1.45zM404.33 482.76h1.45v1.45h-1.45zM392.4 502.73h1.45v1.45h-1.45zM404.77 535.88h1.45v1.45h-1.45zM388.36 491.85h1.45v1.45h-1.45zM382.3 543.07h1.45v1.45h-1.45zM395.66 511.07h1.45v1.45h-1.45zM383.22 504.82h1.45v1.45h-1.45zM356.53 502.53h1.45v1.45h-1.45zM405.24 493.9h1.45v1.45h-1.45zM399.06 526.95h1.45v1.45h-1.45zM395.81 508.84h1.45v1.45h-1.45zM404.98 508.82h1.45v1.45h-1.45z" fill="#ee3a2f" fill-opacity="0.47"/>
<path d="M398.3 523.65h1.45v1.45h-1.45zM405.62 488.7h1.45v1.45h-1.45zM399.15 523.41h1.45v1.45h-1.45zM394.04 520.4h1.45v1.45h-1.45zM407.66 499.29h1.45v1.45h-1.45zM402.28 487.51h1.45v1.45h-1.45zM368.47 530.63h1.45v1.45h-1.45zM400.28 511.98h1.45v1.45h-1.45zM388.22 523.22h1.45v1.45h-1.45zM401.98 513.37h1.45v1.45h-1.45zM390.4 513.51h1.45v1.45h-1.45zM399.26 491.5h1.45v1.45h-1.45zM401.29 515.74h1.45v1.45h-1.45zM402.41 520.89h1.45v1.45h-1.45zM406.65 505.19h1.45v1.45h-1.45zM384.53 511.51h1.45v1.45h-1.45zM406.77 518.53h1.45v1.45h-1.45zM399.06 504.66h1.45v1.45h-1.45zM390.91 516.25h1.45v1.45h-1.45zM403.29 512.97h1.45v1.45h-1.45zM406.19 518.32h1.45v1.45h-1.45zM393.29 502.01h1.45v1.45h-1.45zM391.88 510.63h1.45v1.45h-1.45zM396.34 518.49h1.45v1.45h-1.45zM403.12 506.21h1.45v1.45h-1.45zM394.6 513.59h1.45v1.45h-1.45zM383.96 509.11h1.45v1.45h-1.45zM397.36 507.94h1.45v1.45h-1.45zM404.67 514.22h1.45v1.45h-1.45zM391.55 513.69h1.45v1.45h-1.45zM407.18 530.98h1.45v1.45h-1.45zM392.6 534.48h1.45v1.45h-1.45zM389.23 535.47h1.45v1.45h-1.45zM390.95 498.46h1.45v1.45h-1.45zM396.78 509.13h1.45v1.45h-1.45zM396.32 523.33h1.45v1.45h-1.45zM407.27 507.05h1.45v1.45h-1.45zM394.06 507.88h1.45v1.45h-1.45zM385.58 517.33h1.45v1.45h-1.45zM383.65 513.7h1.45v1.45h-1.45zM402.92 508.9h1.45v1.45h-1.45zM395.81 526.4h1.45v1.45h-1.45zM396.96 507.88h1.45v1.45h-1.45zM401.11 525.01h1.45v1.45h-1.45zM404.32 475.52h1.45v1.45h-1.45zM407.76 501.5h1.45v1.45h-1.45zM400.97 506.29h1.45v1.45h-1.45zM388.98 518.96h1.45v1.45h-1.45zM407.46 516.88h1.45v1.45h-1.45zM394.18 503.03h1.45v1.45h-1.45zM400.56 504.4h1.45v1.45h-1.45zM400.15 535.03h1.45v1.45h-1.45zM400.06 513.96h1.45v1.45h-1.45zM387.45 509.21h1.45v1.45h-1.45zM377.95 521.58h1.45v1.45h-1.45zM351.75 505.29h1.45v1.45h-1.45zM399.59 499.25h1.45v1.45h-1.45zM401.43 499.26h1.45v1.45h-1.45zM394.98 512.02h1.45v1.45h-1.45zM395.79 510.22h1.45v1.45h-1.45zM397.4 486.75h1.45v1.45h-1.45zM388.71 519.49h1.45v1.45h-1.45zM398.17 532.51h1.45v1.45h-1.45zM406.1 513.94h1.45v1.45h-1.45zM399.92 523.04h1.45v1.45h-1.45zM398.19 506.3h1.45v1.45h-1.45zM402.75 492.57h1.45v1.45h-1.45zM404.83 500.73h1.45v1.45h-1.45zM405.06 496.3h1.45v1.45h-1.45zM391.49 515.37h1.45v1.45h-1.45zM403.11 503.6h1.45v1.45h-1.45zM391.29 513.59h1.45v1.45h-1.45zM403.96 504.14h1.45v1.45h-1.45zM402.7 519.37h1.45v1.45h-1.45zM392.89 499.56h1.45v1.45h-1.45zM396.38 515.99h1.45v1.45h-1.45zM392.03 503.28h1.45v1.45h-1.45zM404.1 505.98h1.45v1.45h-1.45zM381.2 512.06h1.45v1.45h-1.45zM401.23 490.22h1.45v1.45h-1.45zM406.4 512.29h1.45v1.45h-1.45zM395.12 518.78h1.45v1.45h-1.45zM405.75 519.06h1.45v1.45h-1.45zM400.47 494.6h1.45v1.45h-1.45zM395.26 509.05h1.45v1.45h-1.45zM404.51 517.21h1.45v1.45h-1.45zM393.17 482.44h1.45v1.45h-1.45zM391.06 513.19h1.45v1.45h-1.45zM402.58 512.79h1.45v1.45h-1.45zM400.77 503.55h1.45v1.45h-1.45zM394.88 519.86h1.45v1.45h-1.45zM404.9 488.39h1.45v1.45h-1.45zM389.4 512.49h1.45v1.45h-1.45zM396.47 501.84h1.45v1.45h-1.45zM400.73 499.7h1.45v1.45h-1.45zM394.25 513.69h1.45v1.45h-1.45zM405.43 503.41h1.45v1.45h-1.45zM389.11 511.07h1.45v1.45h-1.45zM393.06 504.28h1.45v1.45h-1.45zM406.42 497.08h1.45v1.45h-1.45zM386.7 513.05h1.45v1.45h-1.45zM399.9 500.72h1.45v1.45h-1.45zM399.18 486.08h1.45v1.45h-1.45zM392.39 507.02h1.45v1.45h-1.45zM402.31 520.14h1.45v1.45h-1.45zM407.21 500.93h1.45v1.45h-1.45zM402.98 498.5h1.45v1.45h-1.45zM400.04 487.66h1.45v1.45h-1.45zM396.17 518.3h1.45v1.45h-1.45zM397.39 514.5h1.45v1.45h-1.45zM395.48 495.35h1.45v1.45h-1.45zM407.42 512.3h1.45v1.45h-1.45zM381.51 529.45h1.45v1.45h-1.45zM324.28 530.4h1.45v1.45h-1.45zM397.33 504.52h1.45v1.45h-1.45zM390.38 502.37h1.45v1.45h-1.45zM365.77 510.92h1.45v1.45h-1.45zM400.3 512.14h1.45v1.45h-1.45zM385.8 527.13h1.45v1.45h-1.45zM401.18 499.52h1.45v1.45h-1.45zM402.97 508.63h1.45v1.45h-1.45zM388.26 507.86h1.45v1.45h-1.45zM396.77 516.86h1.45v1.45h-1.45zM388.7 524.72h1.45v1.45h-1.45zM399.94 523.48h1.45v1.45h-1.45zM406.12 496.63h1.45v1.45h-1.45zM406.6 503.5h1.45v1.45h-1.45zM396.47 505.92h1.45v1.45h-1.45zM394.66 525.33h1.45v1.45h-1.45zM400.55 510.12h1.45v1.45h-1.45zM397.71 508.05h1.45v1.45h-1.45zM403.49 494.32h1.45v1.45h-1.45zM406.83 500.86h1.45v1.45h-1.45zM405.54 520.16h1.45v1.45h-1.45zM398.14 514.7h1.45v1.45h-1.45zM404.86 498.09h1.45v1.45h-1.45zM391.24 508.12h1.45v1.45h-1.45zM390.65 514.74h1.45v1.45h-1.45zM398.72 491.05h1.45v1.45h-1.45zM404.21 504.45h1.45v1.45h-1.45zM391.64 514.51h1.45v1.45h-1.45zM402.02 526.44h1.45v1.45h-1.45zM397.5 492.6h1.45v1.45h-1.45zM394.67 493.83h1.45v1.45h-1.45zM387.43 504.55h1.45v1.45h-1.45zM387.87 520.22h1.45v1.45h-1.45zM372.58 516.67h1.45v1.45h-1.45zM394.42 502.53h1.45v1.45h-1.45zM400.44 501.76h1.45v1.45h-1.45zM397.4 512.88h1.45v1.45h-1.45zM399.02 491.12h1.45v1.45h-1.45zM388.21 523.97h1.45v1.45h-1.45zM393.96 518.1h1.45v1.45h-1.45zM403.98 514.48h1.45v1.45h-1.45zM398.78 509.5h1.45v1.45h-1.45zM370.54 488.99h1.45v1.45h-1.45zM405.35 506.47h1.45v1.45h-1.45zM405.54 504.4h1.45v1.45h-1.45zM395.99 523.35h1.45v1.45h-1.45zM384.81 520.35h1.45v1.45h-1.45zM385.48 506.52h1.45v1.45h-1.45zM400.69 509.8h1.45v1.45h-1.45zM380.63 516.97h1.45v1.45h-1.45zM397.67 505.01h1.45v1.45h-1.45zM396.78 534.92h1.45v1.45h-1.45zM378.56 502.4h1.45v1.45h-1.45zM399.24 523.49h1.45v1.45h-1.45zM376.02 526.79h1.45v1.45h-1.45zM399.36 506.56h1.45v1.45h-1.45zM306.54 531.27h1.45v1.45h-1.45zM390.72 528.56h1.45v1.45h-1.45zM394.83 509.81h1.45v1.45h-1.45zM390.4 508.64h1.45v1.45h-1.45zM398.97 503.45h1.45v1.45h-1.45zM406.98 484.79h1.45v1.45h-1.45zM398.85 501.22h1.45v1.45h-1.45zM391.61 505.16h1.45v1.45h-1.45zM394.4 500.53h1.45v1.45h-1.45zM402.36 531.22h1.45v1.45h-1.45zM393.98 508.88h1.45v1.45h-1.45zM403.42 515.67h1.45v1.45h-1.45zM388.31 491.08h1.45v1.45h-1.45zM394.41 518.23h1.45v1.45h-1.45zM397.13 495.13h1.45v1.45h-1.45zM388.03 530.61h1.45v1.45h-1.45zM396.12 505.66h1.45v1.45h-1.45zM393.1 494.74h1.45v1.45h-1.45zM381.61 516.71h1.45v1.45h-1.45zM397.81 507.97h1.45v1.45h-1.45zM392.01 507.97h1.45v1.45h-1.45zM398.5 496.48h1.45v1.45h-1.45zM370.06 520.03h1.45v1.45h-1.45zM394.36 523.57h1.45v1.45h-1.45zM403.01 521.46h1.45v1.45h-1.45zM396.88 519.87h1.45v1.45h-1.45zM401.49 504.6h1.45v1.45h-1.45zM385.82 527.02h1.45v1.45h-1.45zM390.55 489.91h1.45v1.45h-1.45zM407 493.62h1.45v1.45h-1.45zM395.44 534.2h1.45v1.45h-1.45zM384.93 523.97h1.45v1.45h-1.45zM396.49 511.4h1.45v1.45h-1.45zM398.2 495.3h1.45v1.45h-1.45zM402.15 518.6h1.45v1.45h-1.45zM381.93 515.68h1.45v1.45h-1.45zM406.77 511.11h1.45v1.45h-1.45zM384.67 490.73h1.45v1.45h-1.45zM393.66 491.66h1.45v1.45h-1.45zM401.55 511.72h1.45v1.45h-1.45zM390.93 519.8h1.45v1.45h-1.45zM397.02 516.98h1.45v1.45h-1.45zM398.27 512.23h1.45v1.45h-1.45zM397.81 500.71h1.45v1.45h-1.45zM392.22 513.5h1.45v1.45h-1.45zM400.73 511.93h1.45v1.45h-1.45zM399.09 500.84h1.45v1.45h-1.45zM398 523.89h1.45v1.45h-1.45zM397.74 519.64h1.45v1.45h-1.45zM407.14 502.48h1.45v1.45h-1.45zM384.03 523.57h1.45v1.45h-1.45zM399.58 508.02h1.45v1.45h-1.45zM397.8 506h1.45v1.45h-1.45zM405.12 512.67h1.45v1.45h-1.45zM404.57 530.7h1.45v1.45h-1.45zM405.06 502.25h1.45v1.45h-1.45zM397.58 530.46h1.45v1.45h-1.45zM390.57 501.37h1.45v1.45h-1.45zM385.61 517.24h1.45v1.45h-1.45zM404.61 502.01h1.45v1.45h-1.45zM391.82 492.26h1.45v1.45h-1.45zM374.27 509.45h1.45v1.45h-1.45zM382.7 542.45h1.45v1.45h-1.45zM389.12 509.22h1.45v1.45h-1.45zM397.93 523.87h1.45v1.45h-1.45zM393.95 504.6h1.45v1.45h-1.45zM391.31 512h1.45v1.45h-1.45zM403.65 499.76h1.45v1.45h-1.45zM376.7 509.84h1.45v1.45h-1.45zM389.22 511.18h1.45v1.45h-1.45zM398.12 513.72h1.45v1.45h-1.45zM383.82 525.78h1.45v1.45h-1.45zM392.95 513.7h1.45v1.45h-1.45zM405.07 516.05h1.45v1.45h-1.45zM400.55 511.07h1.45v1.45h-1.45zM402.69 495.34h1.45v1.45h-1.45zM393.09 505.35h1.45v1.45h-1.45zM400.35 519.52h1.45v1.45h-1.45zM398.91 542.81h1.45v1.45h-1.45zM405.4 522.52h1.45v1.45h-1.45zM384.92 500.41h1.45v1.45h-1.45zM396.61 511.84h1.45v1.45h-1.45zM404.28 506.88h1.45v1.45h-1.45zM407.73 518.43h1.45v1.45h-1.45zM404.83 506.67h1.45v1.45h-1.45zM389.32 515.42h1.45v1.45h-1.45zM404.86 519.06h1.45v1.45h-1.45zM405.25 512.75h1.45v1.45h-1.45zM381.7 522.89h1.45v1.45h-1.45zM394.65 513.21h1.45v1.45h-1.45zM397.56 514.15h1.45v1.45h-1.45zM396.11 502.09h1.45v1.45h-1.45zM394.2 538.39h1.45v1.45h-1.45zM407.61 505.8h1.45v1.45h-1.45zM393.93 527.42h1.45v1.45h-1.45zM395.77 511.55h1.45v1.45h-1.45zM398.8 533.93h1.45v1.45h-1.45zM404.1 500.41h1.45v1.45h-1.45zM397.73 518.66h1.45v1.45h-1.45zM406.97 481.09h1.45v1.45h-1.45zM404.78 528.7h1.45v1.45h-1.45zM390.8 498.03h1.45v1.45h-1.45zM403.45 471.47h1.45v1.45h-1.45zM405.91 504.28h1.45v1.45h-1.45zM387.79 504.33h1.45v1.45h-1.45zM403.15 499.25h1.45v1.45h-1.45zM397.38 534.17h1.45v1.45h-1.45zM384.72 510.04h1.45v1.45h-1.45zM396.04 519.09h1.45v1.45h-1.45zM398.39 494.03h1.45v1.45h-1.45zM397.87 528.03h1.45v1.45h-1.45zM403.4 527.61h1.45v1.45h-1.45zM381.72 522.33h1.45v1.45h-1.45zM387.83 524.03h1.45v1.45h-1.45zM395.21 504.38h1.45v1.45h-1.45zM367.53 517.69h1.45v1.45h-1.45zM399.01 536.43h1.45v1.45h-1.45zM383.65 543.58h1.45v1.45h-1.45z" fill="#ee3a2f" fill-opacity="0.47"/>
<path d="M296.5 534.8 L300.22 534.09 L303.95 533.37 L307.67 532.62 L311.39 531.86 L315.12 531.08 L318.84 530.27 L322.56 529.45 L326.29 528.61 L330.01 527.76 L333.73 526.88 L337.46 525.98 L341.18 525.07 L344.9 524.13 L348.63 523.18 L352.35 522.21 L356.07 521.22 L359.8 520.21 L363.52 519.18 L367.24 518.13 L370.97 517.07 L374.69 516.01 L378.41 514.97 L382.14 513.93 L385.86 512.91 L389.58 511.9 L393.31 510.9 L397.03 509.91 L400.75 508.93 L404.48 507.96 L408.2 507 L408.2 508.6 L404.48 509.78 L400.75 510.94 L397.03 512.09 L393.31 513.24 L389.58 514.37 L385.86 515.49 L382.14 516.6 L378.41 517.7 L374.69 518.79 L370.97 519.87 L367.24 520.94 L363.52 522.02 L359.8 523.13 L356.07 524.25 L352.35 525.39 L348.63 526.55 L344.9 527.73 L341.18 528.93 L337.46 530.15 L333.73 531.39 L330.01 532.64 L326.29 533.92 L322.56 535.21 L318.84 536.53 L315.12 537.86 L311.39 539.21 L307.67 540.58 L303.95 541.97 L300.22 543.37 L296.5 544.8Z" fill="#a0a0a0" fill-opacity="0.6"/>
<line x1="296.5" y1="539.8" x2="408.2" y2="507.8" stroke="#151515" stroke-width="0.85" />
<path d="M290.4 466.3 V568 H413.4" fill="none" stroke="#000" stroke-width="1.3"/>
<line x1="287.8" y1="476.3" x2="290.4" y2="476.3" stroke="#000" stroke-width="1" />
<text font-size="8.6" font-weight="bold" text-anchor="end" stroke="#000" stroke-width="0.18" transform="translate(286.8 479.1) scale(1 1.12)">1</text>
<line x1="287.8" y1="502.1" x2="290.4" y2="502.1" stroke="#000" stroke-width="1" />
<text font-size="8.6" font-weight="bold" text-anchor="end" stroke="#000" stroke-width="0.18" transform="translate(286.8 504.9) scale(1 1.12)">0</text>
<line x1="287.8" y1="527.9" x2="290.4" y2="527.9" stroke="#000" stroke-width="1" />
<text font-size="8.6" font-weight="bold" text-anchor="end" stroke="#000" stroke-width="0.18" transform="translate(286.8 530.7) scale(1 1.12)">-1</text>
<line x1="287.8" y1="553.8" x2="290.4" y2="553.8" stroke="#000" stroke-width="1" />
<text font-size="8.6" font-weight="bold" text-anchor="end" stroke="#000" stroke-width="0.18" transform="translate(286.8 556.6) scale(1 1.12)">-2</text>
<line x1="312.3" y1="568" x2="312.3" y2="570.4" stroke="#000" stroke-width="1" />
<text font-size="8.6" font-weight="bold" text-anchor="middle" stroke="#000" stroke-width="0.18" transform="translate(312.3 578.2) scale(1 1.12)">-4</text>
<line x1="336.7" y1="568" x2="336.7" y2="570.4" stroke="#000" stroke-width="1" />
<text font-size="8.6" font-weight="bold" text-anchor="middle" stroke="#000" stroke-width="0.18" transform="translate(336.7 578.2) scale(1 1.12)">-3</text>
<line x1="361.4" y1="568" x2="361.4" y2="570.4" stroke="#000" stroke-width="1" />
<text font-size="8.6" font-weight="bold" text-anchor="middle" stroke="#000" stroke-width="0.18" transform="translate(361.4 578.2) scale(1 1.12)">-2</text>
<line x1="385.8" y1="568" x2="385.8" y2="570.4" stroke="#000" stroke-width="1" />
<text font-size="8.6" font-weight="bold" text-anchor="middle" stroke="#000" stroke-width="0.18" transform="translate(385.8 578.2) scale(1 1.12)">-1</text>
<line x1="410.8" y1="568" x2="410.8" y2="570.4" stroke="#000" stroke-width="1" />
<text font-size="8.6" font-weight="bold" text-anchor="middle" stroke="#000" stroke-width="0.18" transform="translate(410.8 578.2) scale(1 1.12)">0</text>
<text font-size="5.6" fill="#1a1a1a" transform="translate(296.5 478) scale(1 1.12)"><tspan font-style="italic">R</tspan> = 0.29, <tspan font-style="italic">p</tspan> &lt; 2.2e-16</text>
<text font-size="8.4" font-weight="bold" text-anchor="middle" stroke="#000" stroke-width="0.18" transform="translate(274.2 522) scale(0.89 1) rotate(-90)">Log<tspan font-size="5.6" dy="1.8">2</tspan><tspan dy="-1.8"> H3K36me3 signal (KO/WT)</tspan></text>
<text font-size="8.4" font-weight="bold" stroke="#000" stroke-width="0.18" transform="translate(288.6 593.7) scale(1 1.12)">Log<tspan font-size="5.6" dy="1.8">2</tspan><tspan dy="-1.8"> Gene expression (KO/WT)</tspan></text>
<text font-size="21.5" font-weight="bold" stroke="#000" stroke-width="0.18" transform="translate(243.5 612) scale(0.9 1)">n</text>
<text font-size="8.2" font-weight="bold" text-anchor="middle" stroke="#000" stroke-width="0.18" transform="translate(347.5 618.6) scale(1 1.12)">Upregulated genes</text>
<path d="M302.54 676.05h1.45v1.45h-1.45zM294.67 674.34h1.45v1.45h-1.45zM294.92 690.01h1.45v1.45h-1.45zM299.56 674.56h1.45v1.45h-1.45zM294.26 674.09h1.45v1.45h-1.45zM306.02 669.13h1.45v1.45h-1.45zM293.92 651.15h1.45v1.45h-1.45zM299.8 657.95h1.45v1.45h-1.45zM295.85 652.82h1.45v1.45h-1.45zM305.37 657.02h1.45v1.45h-1.45zM304.89 655.59h1.45v1.45h-1.45zM301.91 661.61h1.45v1.45h-1.45zM311.32 662.76h1.45v1.45h-1.45zM311.42 693.8h1.45v1.45h-1.45zM296.59 684.44h1.45v1.45h-1.45zM303.97 670.54h1.45v1.45h-1.45zM298.07 665.91h1.45v1.45h-1.45zM307.67 686.63h1.45v1.45h-1.45zM293.12 635h1.45v1.45h-1.45zM298.4 663.11h1.45v1.45h-1.45zM298.36 689.18h1.45v1.45h-1.45zM297.72 656.37h1.45v1.45h-1.45zM300.39 671.69h1.45v1.45h-1.45zM299.02 647.82h1.45v1.45h-1.45zM300.85 681.94h1.45v1.45h-1.45zM301.99 684.73h1.45v1.45h-1.45zM296.6 677.26h1.45v1.45h-1.45zM301.94 689.4h1.45v1.45h-1.45zM313.84 662.57h1.45v1.45h-1.45zM306.81 672.76h1.45v1.45h-1.45zM296.65 661.29h1.45v1.45h-1.45zM309.96 662.52h1.45v1.45h-1.45zM295.56 669.06h1.45v1.45h-1.45zM299.13 681.4h1.45v1.45h-1.45zM299.68 656.39h1.45v1.45h-1.45zM294.98 675.27h1.45v1.45h-1.45zM295.28 666.55h1.45v1.45h-1.45zM311.81 666.69h1.45v1.45h-1.45zM304.9 672.56h1.45v1.45h-1.45zM293.2 685.21h1.45v1.45h-1.45zM303.6 665.82h1.45v1.45h-1.45zM294.31 665.3h1.45v1.45h-1.45zM302.64 699.98h1.45v1.45h-1.45zM323.2 671.54h1.45v1.45h-1.45zM293.09 668.06h1.45v1.45h-1.45zM310.71 677.19h1.45v1.45h-1.45zM296.74 669.96h1.45v1.45h-1.45zM294.59 672.38h1.45v1.45h-1.45zM297.31 673.21h1.45v1.45h-1.45zM297.68 668.16h1.45v1.45h-1.45zM315.45 673.31h1.45v1.45h-1.45zM300.46 677.94h1.45v1.45h-1.45zM314.13 690.01h1.45v1.45h-1.45zM316.17 676.85h1.45v1.45h-1.45zM296.05 647.74h1.45v1.45h-1.45zM295.29 682.36h1.45v1.45h-1.45zM305.54 671.79h1.45v1.45h-1.45zM317.27 648.92h1.45v1.45h-1.45zM294.69 665.39h1.45v1.45h-1.45zM325.14 669.25h1.45v1.45h-1.45zM318.78 667.45h1.45v1.45h-1.45zM303.83 653.03h1.45v1.45h-1.45zM298.59 674.08h1.45v1.45h-1.45zM301.88 682.9h1.45v1.45h-1.45zM302.48 656.04h1.45v1.45h-1.45zM308.62 663.84h1.45v1.45h-1.45zM302.95 678.72h1.45v1.45h-1.45zM295.61 672.85h1.45v1.45h-1.45zM299.69 675.61h1.45v1.45h-1.45zM337.1 676.06h1.45v1.45h-1.45zM351.14 697.32h1.45v1.45h-1.45zM326.78 667.5h1.45v1.45h-1.45zM302.3 690.89h1.45v1.45h-1.45zM302.09 671.7h1.45v1.45h-1.45zM296.18 692.41h1.45v1.45h-1.45zM305.73 676.93h1.45v1.45h-1.45zM297.58 653.11h1.45v1.45h-1.45zM316.42 671.58h1.45v1.45h-1.45zM294.45 654.04h1.45v1.45h-1.45zM330.33 672.78h1.45v1.45h-1.45zM307.84 653.06h1.45v1.45h-1.45zM302.66 686.53h1.45v1.45h-1.45zM307 666.84h1.45v1.45h-1.45zM294.38 682.01h1.45v1.45h-1.45zM297.16 675.03h1.45v1.45h-1.45zM301.31 688.42h1.45v1.45h-1.45zM306.88 687.24h1.45v1.45h-1.45zM303.36 679.9h1.45v1.45h-1.45zM312.11 682.91h1.45v1.45h-1.45zM311.03 668.6h1.45v1.45h-1.45zM304.17 668h1.45v1.45h-1.45zM300.41 675.5h1.45v1.45h-1.45zM293.65 664.89h1.45v1.45h-1.45zM330.03 657.32h1.45v1.45h-1.45zM299.08 677.82h1.45v1.45h-1.45zM318.01 677.47h1.45v1.45h-1.45zM296.48 660.25h1.45v1.45h-1.45zM293.77 682.85h1.45v1.45h-1.45zM303.85 678.86h1.45v1.45h-1.45zM300.27 650.38h1.45v1.45h-1.45zM297.14 678.94h1.45v1.45h-1.45zM296.96 664.19h1.45v1.45h-1.45zM308.35 656.79h1.45v1.45h-1.45zM297.34 678.64h1.45v1.45h-1.45zM346.39 680.41h1.45v1.45h-1.45zM302.39 687.78h1.45v1.45h-1.45zM308.03 665.03h1.45v1.45h-1.45zM294.57 672.05h1.45v1.45h-1.45zM296.84 671.35h1.45v1.45h-1.45zM299.89 663.5h1.45v1.45h-1.45zM297.75 661.18h1.45v1.45h-1.45zM297.37 683.2h1.45v1.45h-1.45zM299.87 673.69h1.45v1.45h-1.45zM341.14 679.09h1.45v1.45h-1.45zM313.75 676.04h1.45v1.45h-1.45zM296.13 664.06h1.45v1.45h-1.45zM303.99 680.73h1.45v1.45h-1.45zM293.58 684.58h1.45v1.45h-1.45zM303.51 664.18h1.45v1.45h-1.45zM311.92 691.42h1.45v1.45h-1.45zM297.14 697.22h1.45v1.45h-1.45zM298.32 688.85h1.45v1.45h-1.45zM373.37 681.66h1.45v1.45h-1.45zM293.15 652.49h1.45v1.45h-1.45zM299.8 664.47h1.45v1.45h-1.45zM297.75 668.2h1.45v1.45h-1.45zM302.68 689.47h1.45v1.45h-1.45zM297.29 679.98h1.45v1.45h-1.45zM312.8 670.14h1.45v1.45h-1.45zM299.1 677.57h1.45v1.45h-1.45zM301.52 669.66h1.45v1.45h-1.45zM329.85 661.41h1.45v1.45h-1.45zM296.39 676.13h1.45v1.45h-1.45zM297 659.65h1.45v1.45h-1.45zM300.07 696.18h1.45v1.45h-1.45zM312.09 648.97h1.45v1.45h-1.45zM296.05 690.74h1.45v1.45h-1.45zM299.33 666.63h1.45v1.45h-1.45zM295.18 677.25h1.45v1.45h-1.45zM295.72 675.17h1.45v1.45h-1.45zM311.11 695.58h1.45v1.45h-1.45zM325.67 697.8h1.45v1.45h-1.45zM296.71 668.21h1.45v1.45h-1.45zM307.13 668.05h1.45v1.45h-1.45zM306.18 653.11h1.45v1.45h-1.45zM299.62 669.45h1.45v1.45h-1.45zM312.12 665.47h1.45v1.45h-1.45zM293.73 682.11h1.45v1.45h-1.45zM298.8 683.12h1.45v1.45h-1.45zM340.16 674.32h1.45v1.45h-1.45zM293.72 673.63h1.45v1.45h-1.45zM304.56 668.16h1.45v1.45h-1.45zM296.03 653.89h1.45v1.45h-1.45zM296.53 658.8h1.45v1.45h-1.45zM297.23 675.42h1.45v1.45h-1.45zM297.1 671.94h1.45v1.45h-1.45zM298.77 684.5h1.45v1.45h-1.45zM295.11 664.97h1.45v1.45h-1.45zM304.76 674.58h1.45v1.45h-1.45zM297.33 661.58h1.45v1.45h-1.45zM293.66 672.09h1.45v1.45h-1.45zM294.8 683.68h1.45v1.45h-1.45zM300.27 685.22h1.45v1.45h-1.45zM298.93 673.82h1.45v1.45h-1.45zM293.87 668.68h1.45v1.45h-1.45zM296.86 669.3h1.45v1.45h-1.45zM305.2 672.8h1.45v1.45h-1.45zM305.69 676.59h1.45v1.45h-1.45zM299.8 684.65h1.45v1.45h-1.45zM293.66 669.18h1.45v1.45h-1.45zM296.59 666.83h1.45v1.45h-1.45zM294.93 670.21h1.45v1.45h-1.45zM294.51 675.92h1.45v1.45h-1.45zM294.03 689h1.45v1.45h-1.45zM308.02 675.22h1.45v1.45h-1.45zM293.52 647.47h1.45v1.45h-1.45zM298.55 683.54h1.45v1.45h-1.45zM303.9 663.87h1.45v1.45h-1.45zM298.78 668.32h1.45v1.45h-1.45zM317.14 704.07h1.45v1.45h-1.45zM294.65 669.32h1.45v1.45h-1.45zM303.02 671.18h1.45v1.45h-1.45zM306.04 646.6h1.45v1.45h-1.45zM296.68 663.67h1.45v1.45h-1.45zM315.38 642.77h1.45v1.45h-1.45zM298.03 661.33h1.45v1.45h-1.45zM295.17 688.8h1.45v1.45h-1.45zM314.03 699.07h1.45v1.45h-1.45zM298.17 675.66h1.45v1.45h-1.45zM297.26 645.47h1.45v1.45h-1.45zM298.2 645.05h1.45v1.45h-1.45zM293.42 643.68h1.45v1.45h-1.45zM302.23 678.34h1.45v1.45h-1.45zM302.06 673.34h1.45v1.45h-1.45zM304.41 695.56h1.45v1.45h-1.45zM306.37 675.5h1.45v1.45h-1.45zM307.95 685.41h1.45v1.45h-1.45zM301.9 647.24h1.45v1.45h-1.45zM311.17 674.85h1.45v1.45h-1.45zM293.54 686.53h1.45v1.45h-1.45zM299.76 671.59h1.45v1.45h-1.45zM296.83 657.02h1.45v1.45h-1.45zM294.38 675.79h1.45v1.45h-1.45zM302.68 675.16h1.45v1.45h-1.45zM302.6 648.27h1.45v1.45h-1.45zM296.23 693.74h1.45v1.45h-1.45zM297.38 668.62h1.45v1.45h-1.45zM297.5 687.87h1.45v1.45h-1.45zM293.73 670.81h1.45v1.45h-1.45zM301.71 650.61h1.45v1.45h-1.45zM295.58 672.53h1.45v1.45h-1.45zM321.57 691.23h1.45v1.45h-1.45zM301.64 674.52h1.45v1.45h-1.45zM302.6 651.72h1.45v1.45h-1.45zM304.33 664.39h1.45v1.45h-1.45zM296.19 671.13h1.45v1.45h-1.45zM301.32 668.82h1.45v1.45h-1.45zM300.14 663.75h1.45v1.45h-1.45zM303.11 697.59h1.45v1.45h-1.45zM307.33 679.85h1.45v1.45h-1.45zM306.45 705.4h1.45v1.45h-1.45zM300.04 684.31h1.45v1.45h-1.45zM301.79 689.63h1.45v1.45h-1.45zM302.52 664.44h1.45v1.45h-1.45zM300.65 662.56h1.45v1.45h-1.45zM301.86 665.47h1.45v1.45h-1.45zM306.6 677.91h1.45v1.45h-1.45zM293.98 654.27h1.45v1.45h-1.45zM304.32 671.48h1.45v1.45h-1.45zM300.79 673.21h1.45v1.45h-1.45zM298.04 665.6h1.45v1.45h-1.45zM295.77 654.79h1.45v1.45h-1.45zM293.97 688.03h1.45v1.45h-1.45zM302.19 677.22h1.45v1.45h-1.45zM294.45 675.87h1.45v1.45h-1.45zM295.92 670.76h1.45v1.45h-1.45zM303.66 675.79h1.45v1.45h-1.45zM297.07 657.07h1.45v1.45h-1.45zM304.81 666.47h1.45v1.45h-1.45zM294.65 677.19h1.45v1.45h-1.45zM297.92 666.7h1.45v1.45h-1.45zM302.2 691.37h1.45v1.45h-1.45zM311.96 681.04h1.45v1.45h-1.45zM308.38 662h1.45v1.45h-1.45zM340.13 678.75h1.45v1.45h-1.45zM302.91 672.99h1.45v1.45h-1.45zM299.53 642.51h1.45v1.45h-1.45zM300.91 667.96h1.45v1.45h-1.45zM301.96 666.56h1.45v1.45h-1.45zM294.85 655.84h1.45v1.45h-1.45zM301.93 676.34h1.45v1.45h-1.45zM298.28 660.06h1.45v1.45h-1.45zM297.92 656.4h1.45v1.45h-1.45zM296.58 661.07h1.45v1.45h-1.45zM298.68 661.3h1.45v1.45h-1.45zM304.81 677.24h1.45v1.45h-1.45zM317.8 671.46h1.45v1.45h-1.45zM294.61 654.42h1.45v1.45h-1.45zM293.81 664.49h1.45v1.45h-1.45zM318.68 686.42h1.45v1.45h-1.45zM305.43 682.11h1.45v1.45h-1.45zM301.91 663.67h1.45v1.45h-1.45zM301.42 684.49h1.45v1.45h-1.45zM311.89 668.97h1.45v1.45h-1.45zM297.12 699.71h1.45v1.45h-1.45zM301.8 697.13h1.45v1.45h-1.45zM298.35 673.7h1.45v1.45h-1.45zM294.27 673.72h1.45v1.45h-1.45zM293.39 672.31h1.45v1.45h-1.45z" fill="#ee3a2f" fill-opacity="0.47"/>
<path d="M301.27 693.68h1.45v1.45h-1.45zM308.4 676.24h1.45v1.45h-1.45zM307.31 682.89h1.45v1.45h-1.45zM295.52 691.61h1.45v1.45h-1.45zM295 677.61h1.45v1.45h-1.45zM297.3 667.6h1.45v1.45h-1.45zM296.76 655.24h1.45v1.45h-1.45zM300.65 670.21h1.45v1.45h-1.45zM298.74 662.3h1.45v1.45h-1.45zM315.86 687.48h1.45v1.45h-1.45zM295.35 676.2h1.45v1.45h-1.45zM294.34 674.7h1.45v1.45h-1.45zM295.57 676.65h1.45v1.45h-1.45zM293.28 668.64h1.45v1.45h-1.45zM293.97 685.45h1.45v1.45h-1.45zM308.13 681.27h1.45v1.45h-1.45zM297.71 680.79h1.45v1.45h-1.45zM294.31 682.08h1.45v1.45h-1.45zM305.98 670.57h1.45v1.45h-1.45zM320.41 674.97h1.45v1.45h-1.45zM296.17 681.65h1.45v1.45h-1.45zM298.89 656.43h1.45v1.45h-1.45zM315.15 661.09h1.45v1.45h-1.45zM297.2 660.87h1.45v1.45h-1.45zM295.63 674.58h1.45v1.45h-1.45zM313.3 654.52h1.45v1.45h-1.45zM298.88 670.25h1.45v1.45h-1.45zM299.86 665h1.45v1.45h-1.45zM304.97 663.62h1.45v1.45h-1.45zM325.92 707.03h1.45v1.45h-1.45zM294.39 661.02h1.45v1.45h-1.45zM311.72 675.71h1.45v1.45h-1.45zM301.19 672.83h1.45v1.45h-1.45zM300.48 669.82h1.45v1.45h-1.45zM307.59 655.34h1.45v1.45h-1.45zM307.03 682.5h1.45v1.45h-1.45zM324.8 687.93h1.45v1.45h-1.45zM296.42 688.79h1.45v1.45h-1.45zM335.32 665.01h1.45v1.45h-1.45zM311.3 672.57h1.45v1.45h-1.45zM311.97 670.92h1.45v1.45h-1.45zM300.84 671.72h1.45v1.45h-1.45zM299.7 652.13h1.45v1.45h-1.45zM304.95 679.68h1.45v1.45h-1.45zM303.54 650.69h1.45v1.45h-1.45zM293.53 666.47h1.45v1.45h-1.45zM295.39 680.8h1.45v1.45h-1.45zM300.55 672.02h1.45v1.45h-1.45zM300.36 651.56h1.45v1.45h-1.45zM308.77 640.38h1.45v1.45h-1.45zM301.42 651.28h1.45v1.45h-1.45zM298.95 675.02h1.45v1.45h-1.45zM297.79 649.44h1.45v1.45h-1.45zM301.13 671.79h1.45v1.45h-1.45zM307.13 664.49h1.45v1.45h-1.45zM293.28 667.27h1.45v1.45h-1.45zM296.62 662.69h1.45v1.45h-1.45zM295.04 677.69h1.45v1.45h-1.45zM307.04 666.23h1.45v1.45h-1.45zM306.79 695.15h1.45v1.45h-1.45zM308.43 656.78h1.45v1.45h-1.45zM293.74 678.55h1.45v1.45h-1.45zM293.78 683.16h1.45v1.45h-1.45zM307.98 664.42h1.45v1.45h-1.45zM296.04 657.72h1.45v1.45h-1.45zM293.32 679.94h1.45v1.45h-1.45zM302.77 656.31h1.45v1.45h-1.45zM351.18 679.64h1.45v1.45h-1.45zM309.59 660.46h1.45v1.45h-1.45zM306.66 677.68h1.45v1.45h-1.45zM306.17 658.6h1.45v1.45h-1.45zM300.57 677.31h1.45v1.45h-1.45zM300.55 661.07h1.45v1.45h-1.45zM296.79 668.81h1.45v1.45h-1.45zM319.06 662.72h1.45v1.45h-1.45zM301.71 704.89h1.45v1.45h-1.45zM301.71 638.12h1.45v1.45h-1.45zM306.61 674.07h1.45v1.45h-1.45zM323.75 669.71h1.45v1.45h-1.45zM293.57 643.92h1.45v1.45h-1.45zM295.6 663.42h1.45v1.45h-1.45zM295.33 659.39h1.45v1.45h-1.45zM357.3 684.98h1.45v1.45h-1.45zM301.39 665.86h1.45v1.45h-1.45zM301.9 682.76h1.45v1.45h-1.45zM303.27 673.17h1.45v1.45h-1.45zM294.68 685.14h1.45v1.45h-1.45zM295.19 663.8h1.45v1.45h-1.45zM335.25 697.91h1.45v1.45h-1.45zM302.43 697.46h1.45v1.45h-1.45zM305.59 656.75h1.45v1.45h-1.45zM292.99 678.75h1.45v1.45h-1.45zM318.69 672.03h1.45v1.45h-1.45zM295.07 665.62h1.45v1.45h-1.45zM294.52 656.63h1.45v1.45h-1.45zM296.84 684.73h1.45v1.45h-1.45zM298.6 647.16h1.45v1.45h-1.45zM307.1 693.13h1.45v1.45h-1.45zM346.93 684.88h1.45v1.45h-1.45zM296.6 662.85h1.45v1.45h-1.45zM294.23 671.01h1.45v1.45h-1.45zM310.91 642.85h1.45v1.45h-1.45zM295.31 690.55h1.45v1.45h-1.45zM297.47 658.6h1.45v1.45h-1.45zM294.39 652.27h1.45v1.45h-1.45zM300.39 660.28h1.45v1.45h-1.45zM298.53 682.3h1.45v1.45h-1.45zM305.99 667.28h1.45v1.45h-1.45zM305.4 659.29h1.45v1.45h-1.45zM300.67 658.11h1.45v1.45h-1.45zM295.43 663.72h1.45v1.45h-1.45zM335.22 678.76h1.45v1.45h-1.45zM298.11 662.05h1.45v1.45h-1.45zM303.93 651.63h1.45v1.45h-1.45zM302.09 659.45h1.45v1.45h-1.45zM293.17 676.45h1.45v1.45h-1.45zM300.15 655.9h1.45v1.45h-1.45zM302.7 672.42h1.45v1.45h-1.45zM330.3 680.7h1.45v1.45h-1.45zM332.08 642.41h1.45v1.45h-1.45zM305.25 701.85h1.45v1.45h-1.45zM302.54 669.06h1.45v1.45h-1.45zM303.86 671.27h1.45v1.45h-1.45zM299.54 672.71h1.45v1.45h-1.45zM298.04 646.14h1.45v1.45h-1.45zM316.35 655.79h1.45v1.45h-1.45zM296.31 676.56h1.45v1.45h-1.45zM297.07 670h1.45v1.45h-1.45zM328.96 685.23h1.45v1.45h-1.45zM297.31 686.32h1.45v1.45h-1.45zM298.83 673.16h1.45v1.45h-1.45zM325.94 664.26h1.45v1.45h-1.45zM311.4 674.25h1.45v1.45h-1.45zM300.97 675.02h1.45v1.45h-1.45zM311.3 696.51h1.45v1.45h-1.45zM295.8 661.36h1.45v1.45h-1.45zM299.71 674.25h1.45v1.45h-1.45zM301.59 651.74h1.45v1.45h-1.45zM298 660.17h1.45v1.45h-1.45zM295.23 672.87h1.45v1.45h-1.45zM298.52 653.44h1.45v1.45h-1.45zM304.55 659.09h1.45v1.45h-1.45zM296.08 663.34h1.45v1.45h-1.45zM300.69 673.63h1.45v1.45h-1.45zM295.81 683.24h1.45v1.45h-1.45zM304.11 677.56h1.45v1.45h-1.45zM304.3 679.04h1.45v1.45h-1.45zM305.59 677.65h1.45v1.45h-1.45zM320.26 674.89h1.45v1.45h-1.45zM295.44 669.82h1.45v1.45h-1.45zM305.69 679.45h1.45v1.45h-1.45zM306.06 664.74h1.45v1.45h-1.45zM306.18 674.28h1.45v1.45h-1.45zM307.51 669.05h1.45v1.45h-1.45zM298.57 688.27h1.45v1.45h-1.45zM314.73 682.8h1.45v1.45h-1.45zM301.42 670.51h1.45v1.45h-1.45zM307.03 679.22h1.45v1.45h-1.45zM300.79 681.54h1.45v1.45h-1.45zM298.62 662.27h1.45v1.45h-1.45zM299.24 651.58h1.45v1.45h-1.45zM299.58 685.31h1.45v1.45h-1.45zM302.01 671.51h1.45v1.45h-1.45zM303.84 664.28h1.45v1.45h-1.45zM305.04 693.86h1.45v1.45h-1.45zM301.7 683.26h1.45v1.45h-1.45zM392.51 668.96h1.45v1.45h-1.45zM296.37 682.51h1.45v1.45h-1.45zM320.2 675.08h1.45v1.45h-1.45zM306.78 695.25h1.45v1.45h-1.45zM341.82 658.24h1.45v1.45h-1.45zM293.29 677.88h1.45v1.45h-1.45zM314.2 647.65h1.45v1.45h-1.45zM309.11 687.91h1.45v1.45h-1.45zM299.31 672.12h1.45v1.45h-1.45zM303.47 670.67h1.45v1.45h-1.45zM294.64 668.64h1.45v1.45h-1.45zM300.79 659.66h1.45v1.45h-1.45zM301.06 683.3h1.45v1.45h-1.45zM298.23 657.95h1.45v1.45h-1.45zM312.56 694.68h1.45v1.45h-1.45zM297.09 691.68h1.45v1.45h-1.45zM293.73 690.06h1.45v1.45h-1.45zM318.47 671.68h1.45v1.45h-1.45zM292.96 673.91h1.45v1.45h-1.45zM306.45 673.98h1.45v1.45h-1.45zM294.7 689.34h1.45v1.45h-1.45zM299.68 671.46h1.45v1.45h-1.45zM300.95 658.72h1.45v1.45h-1.45zM313.26 666.54h1.45v1.45h-1.45zM302 674.57h1.45v1.45h-1.45zM300.88 675.94h1.45v1.45h-1.45zM294.67 677.58h1.45v1.45h-1.45zM296.89 678.41h1.45v1.45h-1.45zM293.2 674.43h1.45v1.45h-1.45zM293.17 691.72h1.45v1.45h-1.45zM296.74 675.96h1.45v1.45h-1.45zM298.55 680.46h1.45v1.45h-1.45zM297.04 697.28h1.45v1.45h-1.45zM295.28 674.33h1.45v1.45h-1.45zM295.09 670.04h1.45v1.45h-1.45zM310.63 678.51h1.45v1.45h-1.45zM308.44 680.4h1.45v1.45h-1.45zM293.38 676.17h1.45v1.45h-1.45zM307.79 680.95h1.45v1.45h-1.45zM316.28 674.34h1.45v1.45h-1.45zM305.6 660h1.45v1.45h-1.45zM297.26 700.43h1.45v1.45h-1.45zM309.69 657.2h1.45v1.45h-1.45zM302.32 694.45h1.45v1.45h-1.45zM296.69 677.54h1.45v1.45h-1.45zM322.68 661.59h1.45v1.45h-1.45zM295.2 664.47h1.45v1.45h-1.45zM308.84 666.43h1.45v1.45h-1.45zM304.72 661.16h1.45v1.45h-1.45zM306.65 651.43h1.45v1.45h-1.45zM295.54 653.17h1.45v1.45h-1.45zM295.15 670.67h1.45v1.45h-1.45zM393.35 674.72h1.45v1.45h-1.45zM301.64 673.67h1.45v1.45h-1.45zM300.36 688.6h1.45v1.45h-1.45zM299.57 683.61h1.45v1.45h-1.45zM295.24 672.43h1.45v1.45h-1.45zM337.37 666.22h1.45v1.45h-1.45zM293.38 665.41h1.45v1.45h-1.45zM297.13 677.44h1.45v1.45h-1.45zM362.89 668.31h1.45v1.45h-1.45zM298.39 643.14h1.45v1.45h-1.45zM299.87 683.41h1.45v1.45h-1.45zM293.21 659.4h1.45v1.45h-1.45zM294.23 678.24h1.45v1.45h-1.45zM296.69 673.01h1.45v1.45h-1.45zM302.34 692.71h1.45v1.45h-1.45zM348.54 680.74h1.45v1.45h-1.45zM300.46 704.57h1.45v1.45h-1.45zM295.41 682.2h1.45v1.45h-1.45zM300.75 674.84h1.45v1.45h-1.45zM377.04 688.64h1.45v1.45h-1.45zM299.7 666.45h1.45v1.45h-1.45zM300.82 680.15h1.45v1.45h-1.45zM304.64 662.34h1.45v1.45h-1.45zM301.85 654.35h1.45v1.45h-1.45zM300.54 691.94h1.45v1.45h-1.45zM296.86 673.71h1.45v1.45h-1.45zM297.98 669.71h1.45v1.45h-1.45zM336 680.23h1.45v1.45h-1.45zM299.82 683.31h1.45v1.45h-1.45zM299.72 675.8h1.45v1.45h-1.45zM297.38 673.97h1.45v1.45h-1.45zM294.54 672.55h1.45v1.45h-1.45zM297.99 669.22h1.45v1.45h-1.45zM305.33 692.06h1.45v1.45h-1.45zM295.18 662.51h1.45v1.45h-1.45zM302 672.77h1.45v1.45h-1.45zM308.98 685.83h1.45v1.45h-1.45zM302.65 678.51h1.45v1.45h-1.45zM300.13 663.13h1.45v1.45h-1.45zM300.28 674.85h1.45v1.45h-1.45zM293.33 675.85h1.45v1.45h-1.45zM331.11 678.7h1.45v1.45h-1.45zM307.72 679.42h1.45v1.45h-1.45zM298.38 666.24h1.45v1.45h-1.45zM312.1 677.96h1.45v1.45h-1.45zM295.83 673h1.45v1.45h-1.45zM300.91 650.88h1.45v1.45h-1.45zM303.85 692.5h1.45v1.45h-1.45zM301.95 683.55h1.45v1.45h-1.45zM307.06 675.31h1.45v1.45h-1.45zM293.32 659.99h1.45v1.45h-1.45z" fill="#ee3a2f" fill-opacity="0.47"/>
<path d="M350 680.06h1.45v1.45h-1.45zM295.83 656.48h1.45v1.45h-1.45zM296.4 676.49h1.45v1.45h-1.45zM298.56 675.61h1.45v1.45h-1.45zM306.08 664.79h1.45v1.45h-1.45zM373.03 676.7h1.45v1.45h-1.45zM294.74 678.77h1.45v1.45h-1.45zM299.15 664.94h1.45v1.45h-1.45zM308.64 662.28h1.45v1.45h-1.45zM301.07 660.1h1.45v1.45h-1.45zM298.49 675.05h1.45v1.45h-1.45zM301.8 659.94h1.45v1.45h-1.45zM295.29 685.17h1.45v1.45h-1.45zM301.29 690.18h1.45v1.45h-1.45zM303.43 673.85h1.45v1.45h-1.45zM302.94 677.39h1.45v1.45h-1.45zM326.21 676.96h1.45v1.45h-1.45zM292.94 648.41h1.45v1.45h-1.45zM305.56 671.46h1.45v1.45h-1.45zM297.43 706.25h1.45v1.45h-1.45zM294.45 655.35h1.45v1.45h-1.45zM372.65 667.51h1.45v1.45h-1.45zM302.56 651.66h1.45v1.45h-1.45zM306.19 675.46h1.45v1.45h-1.45zM301.14 689.77h1.45v1.45h-1.45zM294.98 669.32h1.45v1.45h-1.45zM295.6 677.21h1.45v1.45h-1.45zM293.66 660.36h1.45v1.45h-1.45zM297.94 666.42h1.45v1.45h-1.45zM293.66 689.8h1.45v1.45h-1.45zM310.04 662.01h1.45v1.45h-1.45zM295.77 671.41h1.45v1.45h-1.45zM302.12 677.21h1.45v1.45h-1.45zM304.34 692.82h1.45v1.45h-1.45zM339.1 685.06h1.45v1.45h-1.45zM316.62 695.83h1.45v1.45h-1.45zM294.02 675.93h1.45v1.45h-1.45zM305.94 683.16h1.45v1.45h-1.45zM293.17 661.03h1.45v1.45h-1.45zM311.36 665.86h1.45v1.45h-1.45zM300.66 676.77h1.45v1.45h-1.45zM329.54 668.96h1.45v1.45h-1.45zM298.87 664.73h1.45v1.45h-1.45zM305.99 660.32h1.45v1.45h-1.45zM310.41 668.2h1.45v1.45h-1.45zM303.02 674.72h1.45v1.45h-1.45zM293.27 664.02h1.45v1.45h-1.45zM300.54 658.61h1.45v1.45h-1.45zM295.39 645.41h1.45v1.45h-1.45zM305.65 685.87h1.45v1.45h-1.45zM305.12 692.09h1.45v1.45h-1.45zM293.67 666.61h1.45v1.45h-1.45zM299.66 651.05h1.45v1.45h-1.45zM322.79 665.12h1.45v1.45h-1.45zM300.9 686.24h1.45v1.45h-1.45zM312.92 678.07h1.45v1.45h-1.45zM293.39 664.05h1.45v1.45h-1.45zM292.94 652.86h1.45v1.45h-1.45zM301.44 673.07h1.45v1.45h-1.45zM295.63 654.44h1.45v1.45h-1.45zM294.07 671.29h1.45v1.45h-1.45zM303.07 668.26h1.45v1.45h-1.45zM314.47 679.97h1.45v1.45h-1.45zM313.22 659.19h1.45v1.45h-1.45zM298.5 652.63h1.45v1.45h-1.45zM293.26 675.6h1.45v1.45h-1.45zM303.88 695.8h1.45v1.45h-1.45zM309.19 663.22h1.45v1.45h-1.45zM306.62 686.42h1.45v1.45h-1.45zM306.06 669.68h1.45v1.45h-1.45zM302.04 661.45h1.45v1.45h-1.45zM304.06 684.65h1.45v1.45h-1.45zM300.57 656.18h1.45v1.45h-1.45zM295.87 675.79h1.45v1.45h-1.45zM323.85 681.15h1.45v1.45h-1.45zM302.34 665.07h1.45v1.45h-1.45zM308.07 656.21h1.45v1.45h-1.45zM295.15 680.91h1.45v1.45h-1.45zM298.39 668.07h1.45v1.45h-1.45zM293.36 654.07h1.45v1.45h-1.45zM301.83 675.52h1.45v1.45h-1.45zM309.51 681.59h1.45v1.45h-1.45zM293.73 673.96h1.45v1.45h-1.45zM300.59 656.35h1.45v1.45h-1.45zM296.67 661.63h1.45v1.45h-1.45zM299.83 669.73h1.45v1.45h-1.45zM298.38 676.18h1.45v1.45h-1.45zM294.33 672.6h1.45v1.45h-1.45zM320.14 694.7h1.45v1.45h-1.45zM306.27 657.95h1.45v1.45h-1.45zM294.89 675.49h1.45v1.45h-1.45zM294.58 657.38h1.45v1.45h-1.45zM301.41 666.15h1.45v1.45h-1.45zM302.7 694.75h1.45v1.45h-1.45zM298.38 670.33h1.45v1.45h-1.45zM300 673.17h1.45v1.45h-1.45zM297.1 671.87h1.45v1.45h-1.45zM297.91 684.31h1.45v1.45h-1.45zM294.7 665.79h1.45v1.45h-1.45zM309.53 690.36h1.45v1.45h-1.45zM300.27 670.5h1.45v1.45h-1.45zM294.28 678.69h1.45v1.45h-1.45zM329.88 699.32h1.45v1.45h-1.45zM313.34 670.55h1.45v1.45h-1.45zM293.47 683.59h1.45v1.45h-1.45zM304.37 677.56h1.45v1.45h-1.45zM292.88 650.78h1.45v1.45h-1.45zM301.88 671.56h1.45v1.45h-1.45zM297.22 679.77h1.45v1.45h-1.45zM296.09 667.86h1.45v1.45h-1.45zM299.77 682.54h1.45v1.45h-1.45zM348.35 665.69h1.45v1.45h-1.45zM302.52 677.01h1.45v1.45h-1.45zM305.35 679.21h1.45v1.45h-1.45zM296.23 634.34h1.45v1.45h-1.45zM293.81 682.79h1.45v1.45h-1.45zM306.83 682.08h1.45v1.45h-1.45zM294.86 666.49h1.45v1.45h-1.45zM295.4 683.65h1.45v1.45h-1.45zM294 679.96h1.45v1.45h-1.45zM294.55 675.09h1.45v1.45h-1.45zM296.98 668h1.45v1.45h-1.45zM295.69 674.79h1.45v1.45h-1.45zM293.24 675.72h1.45v1.45h-1.45zM320.7 675.25h1.45v1.45h-1.45zM305 676.43h1.45v1.45h-1.45zM298.54 659.53h1.45v1.45h-1.45zM318.9 688.15h1.45v1.45h-1.45zM296.64 682.1h1.45v1.45h-1.45zM303.19 670.58h1.45v1.45h-1.45zM303.97 681.22h1.45v1.45h-1.45zM293.68 654.58h1.45v1.45h-1.45zM292.95 654.13h1.45v1.45h-1.45zM303.57 658.59h1.45v1.45h-1.45zM294.61 672.3h1.45v1.45h-1.45zM298.03 660.3h1.45v1.45h-1.45zM301.1 703.61h1.45v1.45h-1.45zM297.94 689.09h1.45v1.45h-1.45zM295.79 669.16h1.45v1.45h-1.45zM297.78 684.8h1.45v1.45h-1.45zM297.77 655.63h1.45v1.45h-1.45zM299.37 690.33h1.45v1.45h-1.45zM295.06 686.7h1.45v1.45h-1.45zM292.99 676.14h1.45v1.45h-1.45zM295.87 684.35h1.45v1.45h-1.45zM303.63 670.9h1.45v1.45h-1.45zM369.52 686.48h1.45v1.45h-1.45zM300.66 666.41h1.45v1.45h-1.45zM382.37 679.88h1.45v1.45h-1.45zM307.32 680.75h1.45v1.45h-1.45zM305.49 681.81h1.45v1.45h-1.45zM293.08 655.55h1.45v1.45h-1.45zM293.34 663.74h1.45v1.45h-1.45zM294.92 660.17h1.45v1.45h-1.45zM299.75 665.99h1.45v1.45h-1.45zM305.94 652.9h1.45v1.45h-1.45zM356.18 692.33h1.45v1.45h-1.45zM294.95 670.06h1.45v1.45h-1.45zM300.71 663.86h1.45v1.45h-1.45zM292.99 685.95h1.45v1.45h-1.45zM297.71 658.37h1.45v1.45h-1.45zM302.41 675.47h1.45v1.45h-1.45zM293.19 663.92h1.45v1.45h-1.45zM318.72 656.59h1.45v1.45h-1.45zM332.5 689.21h1.45v1.45h-1.45zM316.52 680.87h1.45v1.45h-1.45zM294.45 659.98h1.45v1.45h-1.45zM339.19 684.31h1.45v1.45h-1.45zM295.74 670.2h1.45v1.45h-1.45zM296.13 682.16h1.45v1.45h-1.45zM306.37 687.28h1.45v1.45h-1.45zM313.53 687.26h1.45v1.45h-1.45zM314.04 664.77h1.45v1.45h-1.45zM294.82 677.86h1.45v1.45h-1.45zM293.81 673.55h1.45v1.45h-1.45zM294.44 672.98h1.45v1.45h-1.45zM304.29 659.48h1.45v1.45h-1.45zM296.5 647.08h1.45v1.45h-1.45zM294.14 679.09h1.45v1.45h-1.45zM314.81 655.23h1.45v1.45h-1.45zM377.57 693.89h1.45v1.45h-1.45zM297.81 664.77h1.45v1.45h-1.45zM296.57 642.77h1.45v1.45h-1.45zM294.97 662.25h1.45v1.45h-1.45zM297.93 677.23h1.45v1.45h-1.45zM296.39 648.72h1.45v1.45h-1.45zM307.64 683.53h1.45v1.45h-1.45zM308.67 677.91h1.45v1.45h-1.45zM294.65 645.3h1.45v1.45h-1.45zM295.18 646.21h1.45v1.45h-1.45zM296.91 667.15h1.45v1.45h-1.45zM293.73 674.14h1.45v1.45h-1.45zM359.38 695.57h1.45v1.45h-1.45zM296.5 660.97h1.45v1.45h-1.45zM312.46 669.8h1.45v1.45h-1.45zM306.49 665.9h1.45v1.45h-1.45zM300.28 689.75h1.45v1.45h-1.45zM297.03 671.69h1.45v1.45h-1.45zM293.07 707.09h1.45v1.45h-1.45zM338.93 682.27h1.45v1.45h-1.45zM294.41 660.97h1.45v1.45h-1.45zM302.3 664.56h1.45v1.45h-1.45zM310.05 675.21h1.45v1.45h-1.45zM296.38 663.24h1.45v1.45h-1.45zM300.13 657.38h1.45v1.45h-1.45zM304.13 649.25h1.45v1.45h-1.45zM299.77 648.48h1.45v1.45h-1.45zM294.13 701.05h1.45v1.45h-1.45zM295.49 685.34h1.45v1.45h-1.45zM299.83 677.73h1.45v1.45h-1.45zM296.11 680.11h1.45v1.45h-1.45zM297.33 659.18h1.45v1.45h-1.45zM299.91 656.05h1.45v1.45h-1.45zM293.35 672.21h1.45v1.45h-1.45zM303.97 684.5h1.45v1.45h-1.45zM297.45 679.73h1.45v1.45h-1.45zM298.06 692.17h1.45v1.45h-1.45zM297.4 655.82h1.45v1.45h-1.45zM297.24 685.13h1.45v1.45h-1.45zM306.33 673.14h1.45v1.45h-1.45zM321.24 644.25h1.45v1.45h-1.45zM293.85 677.38h1.45v1.45h-1.45zM297.67 679.26h1.45v1.45h-1.45zM296.22 689.14h1.45v1.45h-1.45zM307.72 672.27h1.45v1.45h-1.45zM297.3 668.42h1.45v1.45h-1.45zM292.97 679.79h1.45v1.45h-1.45zM294.73 672.81h1.45v1.45h-1.45zM296.82 695.55h1.45v1.45h-1.45zM293.7 677.41h1.45v1.45h-1.45zM300.86 673.59h1.45v1.45h-1.45zM295.47 684.99h1.45v1.45h-1.45zM300.68 659.08h1.45v1.45h-1.45zM294.64 680.65h1.45v1.45h-1.45zM298.47 673.07h1.45v1.45h-1.45zM299.32 680.7h1.45v1.45h-1.45zM299.23 673.29h1.45v1.45h-1.45zM295.6 668.92h1.45v1.45h-1.45zM353.53 669.88h1.45v1.45h-1.45zM301.45 644.63h1.45v1.45h-1.45zM310.69 668.86h1.45v1.45h-1.45zM312.56 692.13h1.45v1.45h-1.45zM298.14 663.04h1.45v1.45h-1.45zM298.12 696.01h1.45v1.45h-1.45zM293.68 668.38h1.45v1.45h-1.45zM296.09 652.77h1.45v1.45h-1.45zM299.46 675.33h1.45v1.45h-1.45zM312.99 653.39h1.45v1.45h-1.45zM296.47 683.15h1.45v1.45h-1.45zM297.84 672.38h1.45v1.45h-1.45zM299.65 665.74h1.45v1.45h-1.45zM294.29 699.75h1.45v1.45h-1.45zM294.35 675.3h1.45v1.45h-1.45zM303.89 689.71h1.45v1.45h-1.45zM306.14 662.95h1.45v1.45h-1.45zM302.42 651.35h1.45v1.45h-1.45zM294.03 673.58h1.45v1.45h-1.45zM297.42 656.51h1.45v1.45h-1.45zM307.15 676.79h1.45v1.45h-1.45zM294.04 654.71h1.45v1.45h-1.45zM293.32 669.03h1.45v1.45h-1.45zM300.59 670.05h1.45v1.45h-1.45zM296.02 667.94h1.45v1.45h-1.45zM298.24 677.58h1.45v1.45h-1.45zM299.48 676.02h1.45v1.45h-1.45zM294.39 657.17h1.45v1.45h-1.45zM294.84 659.23h1.45v1.45h-1.45zM297.87 674.91h1.45v1.45h-1.45zM304.82 674.76h1.45v1.45h-1.45z" fill="#ee3a2f" fill-opacity="0.47"/>
<path d="M295.87 703.82h1.45v1.45h-1.45zM301.76 684.01h1.45v1.45h-1.45zM308.37 688.27h1.45v1.45h-1.45zM296.23 640.85h1.45v1.45h-1.45zM295.77 675.29h1.45v1.45h-1.45zM296.2 674.64h1.45v1.45h-1.45zM314.05 683.16h1.45v1.45h-1.45zM297.33 681.34h1.45v1.45h-1.45zM299.52 663.84h1.45v1.45h-1.45zM302.09 666.11h1.45v1.45h-1.45zM303.96 669.32h1.45v1.45h-1.45zM302.77 680.15h1.45v1.45h-1.45zM311.82 652.31h1.45v1.45h-1.45zM299.79 657.86h1.45v1.45h-1.45zM293.99 656.12h1.45v1.45h-1.45zM301 653.15h1.45v1.45h-1.45zM293.8 698.43h1.45v1.45h-1.45zM303.05 652.95h1.45v1.45h-1.45zM292.98 686.11h1.45v1.45h-1.45zM302.98 646.94h1.45v1.45h-1.45zM295.65 666.31h1.45v1.45h-1.45zM298.37 684.17h1.45v1.45h-1.45zM299.38 675.19h1.45v1.45h-1.45zM297.77 659.32h1.45v1.45h-1.45zM301.11 666.7h1.45v1.45h-1.45zM299.38 673.13h1.45v1.45h-1.45zM298.29 676.5h1.45v1.45h-1.45zM301.28 665.43h1.45v1.45h-1.45zM298.48 685.05h1.45v1.45h-1.45zM293.22 661.99h1.45v1.45h-1.45zM293.45 687.88h1.45v1.45h-1.45zM298.87 686.78h1.45v1.45h-1.45zM295.51 673.59h1.45v1.45h-1.45zM294.42 683.76h1.45v1.45h-1.45zM302.91 658.17h1.45v1.45h-1.45zM332.29 673.41h1.45v1.45h-1.45zM296.36 678.6h1.45v1.45h-1.45zM301.16 682.06h1.45v1.45h-1.45zM296.28 667.26h1.45v1.45h-1.45zM296.91 666.87h1.45v1.45h-1.45zM296.74 661.02h1.45v1.45h-1.45zM296.76 669.1h1.45v1.45h-1.45zM313.23 684.5h1.45v1.45h-1.45zM295.67 664.23h1.45v1.45h-1.45zM297.02 663.74h1.45v1.45h-1.45zM296.69 676.03h1.45v1.45h-1.45zM300.41 652.78h1.45v1.45h-1.45zM296.96 654.83h1.45v1.45h-1.45zM299.1 648.47h1.45v1.45h-1.45zM293.68 670.4h1.45v1.45h-1.45zM298.88 671.74h1.45v1.45h-1.45zM296.06 687.72h1.45v1.45h-1.45zM304.51 673.2h1.45v1.45h-1.45zM309.09 676.65h1.45v1.45h-1.45zM295.9 684.38h1.45v1.45h-1.45zM294.28 702.48h1.45v1.45h-1.45zM299.9 664.28h1.45v1.45h-1.45zM316.42 682.88h1.45v1.45h-1.45zM295.36 681.76h1.45v1.45h-1.45zM300.05 654.97h1.45v1.45h-1.45zM296.36 680.69h1.45v1.45h-1.45zM299.73 673.68h1.45v1.45h-1.45zM297 689.13h1.45v1.45h-1.45zM315.26 654.09h1.45v1.45h-1.45zM305.21 643.52h1.45v1.45h-1.45zM309.22 672.05h1.45v1.45h-1.45zM295.18 664.19h1.45v1.45h-1.45zM300.99 661.13h1.45v1.45h-1.45zM298.85 679.66h1.45v1.45h-1.45zM306.38 683.14h1.45v1.45h-1.45zM296.71 682.62h1.45v1.45h-1.45zM309.52 688.45h1.45v1.45h-1.45zM293.43 647.66h1.45v1.45h-1.45zM294.31 672.3h1.45v1.45h-1.45zM299.96 676.64h1.45v1.45h-1.45zM300.92 678.41h1.45v1.45h-1.45zM294.99 671.2h1.45v1.45h-1.45zM322.82 690.97h1.45v1.45h-1.45zM298.86 687.55h1.45v1.45h-1.45zM300.77 693.54h1.45v1.45h-1.45zM295.24 672.47h1.45v1.45h-1.45zM313.71 682h1.45v1.45h-1.45zM305.29 662.01h1.45v1.45h-1.45zM300.25 685.89h1.45v1.45h-1.45zM295.47 668.32h1.45v1.45h-1.45zM300.22 687.07h1.45v1.45h-1.45zM310.71 681.67h1.45v1.45h-1.45zM293.38 668.39h1.45v1.45h-1.45zM298.45 663.96h1.45v1.45h-1.45zM295.36 667.18h1.45v1.45h-1.45zM305.94 689.99h1.45v1.45h-1.45zM298.64 686.3h1.45v1.45h-1.45zM292.91 673.88h1.45v1.45h-1.45zM296.22 679.4h1.45v1.45h-1.45zM295.99 677.42h1.45v1.45h-1.45zM303.97 660.21h1.45v1.45h-1.45zM299.5 682.05h1.45v1.45h-1.45zM311.03 666.95h1.45v1.45h-1.45zM300.03 668.68h1.45v1.45h-1.45zM294.82 659.59h1.45v1.45h-1.45zM299.11 655.66h1.45v1.45h-1.45zM337.03 692.6h1.45v1.45h-1.45zM296.08 675.13h1.45v1.45h-1.45zM305.22 653.98h1.45v1.45h-1.45zM295.95 682.29h1.45v1.45h-1.45zM294.02 653.13h1.45v1.45h-1.45zM293.04 670.43h1.45v1.45h-1.45zM301.49 663.18h1.45v1.45h-1.45zM299.44 674.25h1.45v1.45h-1.45zM297.78 685.01h1.45v1.45h-1.45zM300.1 678.14h1.45v1.45h-1.45zM302.91 680.08h1.45v1.45h-1.45zM294.75 677.58h1.45v1.45h-1.45zM294.37 694.25h1.45v1.45h-1.45zM316.82 669.51h1.45v1.45h-1.45zM296.02 667.69h1.45v1.45h-1.45zM302.53 665.43h1.45v1.45h-1.45zM310.2 659.43h1.45v1.45h-1.45zM307.63 662.49h1.45v1.45h-1.45zM295.27 683.04h1.45v1.45h-1.45zM298.56 645.32h1.45v1.45h-1.45zM300.57 673.32h1.45v1.45h-1.45zM305.76 668.03h1.45v1.45h-1.45zM302.65 673.13h1.45v1.45h-1.45zM317.85 702.32h1.45v1.45h-1.45zM311.64 660.34h1.45v1.45h-1.45zM295.64 655.46h1.45v1.45h-1.45zM298.85 644.73h1.45v1.45h-1.45zM304.83 698.22h1.45v1.45h-1.45zM296.93 665.99h1.45v1.45h-1.45zM313.47 666.36h1.45v1.45h-1.45zM322.93 666.56h1.45v1.45h-1.45zM295.62 692.66h1.45v1.45h-1.45zM296.14 675.75h1.45v1.45h-1.45zM305.13 655.62h1.45v1.45h-1.45zM300.65 679.5h1.45v1.45h-1.45zM292.99 692.47h1.45v1.45h-1.45zM304.61 666.3h1.45v1.45h-1.45zM297.22 659.94h1.45v1.45h-1.45zM302.9 657.61h1.45v1.45h-1.45zM293.73 671.58h1.45v1.45h-1.45zM312.94 661.14h1.45v1.45h-1.45zM305.5 679.31h1.45v1.45h-1.45zM300.92 660.3h1.45v1.45h-1.45zM300.32 671.08h1.45v1.45h-1.45zM297.3 667.59h1.45v1.45h-1.45zM300.12 697.11h1.45v1.45h-1.45zM295.08 687.86h1.45v1.45h-1.45zM309.17 623.48h1.45v1.45h-1.45zM301.12 674.88h1.45v1.45h-1.45zM303.19 672.15h1.45v1.45h-1.45zM296.16 698.92h1.45v1.45h-1.45zM303.33 657.56h1.45v1.45h-1.45zM296.36 674.58h1.45v1.45h-1.45zM293.5 670.67h1.45v1.45h-1.45zM295.83 664.04h1.45v1.45h-1.45zM301.28 673.57h1.45v1.45h-1.45zM313.21 673.61h1.45v1.45h-1.45zM300.28 674.63h1.45v1.45h-1.45zM304.64 684.34h1.45v1.45h-1.45zM296.33 662.06h1.45v1.45h-1.45zM295.42 655.3h1.45v1.45h-1.45zM296.64 657.78h1.45v1.45h-1.45zM292.97 656.52h1.45v1.45h-1.45zM301.06 667.97h1.45v1.45h-1.45zM303.53 660.02h1.45v1.45h-1.45zM293.42 690.98h1.45v1.45h-1.45zM303.17 644.94h1.45v1.45h-1.45zM297.27 688.28h1.45v1.45h-1.45zM296.83 670.85h1.45v1.45h-1.45zM304.93 676.76h1.45v1.45h-1.45zM299.84 682.15h1.45v1.45h-1.45zM297.29 685.6h1.45v1.45h-1.45zM299.35 664.29h1.45v1.45h-1.45zM294.41 676.36h1.45v1.45h-1.45zM297.31 667.65h1.45v1.45h-1.45zM300.56 673.95h1.45v1.45h-1.45zM294.61 649.26h1.45v1.45h-1.45zM298.11 697.43h1.45v1.45h-1.45zM309.4 663.93h1.45v1.45h-1.45zM318.84 663.51h1.45v1.45h-1.45zM301.89 689.28h1.45v1.45h-1.45zM299.66 662.37h1.45v1.45h-1.45zM305.1 653.98h1.45v1.45h-1.45zM294.51 686.86h1.45v1.45h-1.45zM303.97 660.98h1.45v1.45h-1.45zM304.23 688.76h1.45v1.45h-1.45zM382.76 694.19h1.45v1.45h-1.45zM294.98 657.37h1.45v1.45h-1.45zM299.72 662.23h1.45v1.45h-1.45zM306.46 683.6h1.45v1.45h-1.45zM299.01 679.1h1.45v1.45h-1.45zM315.45 677.57h1.45v1.45h-1.45zM315.43 672.11h1.45v1.45h-1.45zM295.96 686.91h1.45v1.45h-1.45zM325.24 670.67h1.45v1.45h-1.45zM303.52 663.68h1.45v1.45h-1.45zM299.38 674.68h1.45v1.45h-1.45zM294.41 662.98h1.45v1.45h-1.45zM307.3 672.72h1.45v1.45h-1.45zM299.06 664.46h1.45v1.45h-1.45zM301.42 656.25h1.45v1.45h-1.45zM337.43 658.03h1.45v1.45h-1.45zM293.23 673.64h1.45v1.45h-1.45zM327.48 653.6h1.45v1.45h-1.45zM293.16 681.26h1.45v1.45h-1.45zM330.01 660.52h1.45v1.45h-1.45zM307.41 668.08h1.45v1.45h-1.45zM298.22 679.8h1.45v1.45h-1.45zM297.05 658.05h1.45v1.45h-1.45zM297.49 649.39h1.45v1.45h-1.45zM308.67 654.14h1.45v1.45h-1.45zM308.7 694.92h1.45v1.45h-1.45zM299.51 671.57h1.45v1.45h-1.45zM293.07 669.35h1.45v1.45h-1.45zM297.74 691.97h1.45v1.45h-1.45zM300.24 661.12h1.45v1.45h-1.45zM331.15 671.96h1.45v1.45h-1.45zM298.76 658.54h1.45v1.45h-1.45zM297.38 679.53h1.45v1.45h-1.45zM293.73 679.39h1.45v1.45h-1.45zM294.34 651.6h1.45v1.45h-1.45zM326.43 680.46h1.45v1.45h-1.45zM293.58 648.09h1.45v1.45h-1.45zM295.92 663.28h1.45v1.45h-1.45zM294.42 657.84h1.45v1.45h-1.45zM316.16 677.52h1.45v1.45h-1.45zM297.2 698.31h1.45v1.45h-1.45zM361.27 677.94h1.45v1.45h-1.45zM303.33 660.78h1.45v1.45h-1.45zM295.71 668.28h1.45v1.45h-1.45zM294.32 671.08h1.45v1.45h-1.45zM304.6 672.32h1.45v1.45h-1.45zM295.57 673.08h1.45v1.45h-1.45zM304.26 673.83h1.45v1.45h-1.45zM296.31 672.58h1.45v1.45h-1.45zM294.22 677.26h1.45v1.45h-1.45zM304.59 677.14h1.45v1.45h-1.45zM301.43 688.82h1.45v1.45h-1.45zM304.08 662.74h1.45v1.45h-1.45zM313.56 666.28h1.45v1.45h-1.45zM298.84 691.15h1.45v1.45h-1.45zM294.03 658.42h1.45v1.45h-1.45zM301.28 654.52h1.45v1.45h-1.45zM300.78 669.69h1.45v1.45h-1.45zM293.16 680.26h1.45v1.45h-1.45zM302.65 647.4h1.45v1.45h-1.45zM294.22 684.34h1.45v1.45h-1.45zM313.16 689.03h1.45v1.45h-1.45zM296.44 658.19h1.45v1.45h-1.45zM293.24 668.39h1.45v1.45h-1.45zM305.5 686.1h1.45v1.45h-1.45zM294.7 671.71h1.45v1.45h-1.45zM392.34 681.6h1.45v1.45h-1.45zM302.17 651.16h1.45v1.45h-1.45zM296.71 648.98h1.45v1.45h-1.45zM298.16 662.35h1.45v1.45h-1.45zM296.71 662.43h1.45v1.45h-1.45zM304.47 674.61h1.45v1.45h-1.45zM297.79 685.65h1.45v1.45h-1.45zM373.52 663.7h1.45v1.45h-1.45zM293.81 665.63h1.45v1.45h-1.45zM301 676.15h1.45v1.45h-1.45zM335.91 658.53h1.45v1.45h-1.45zM298.57 677.97h1.45v1.45h-1.45zM300.24 673.81h1.45v1.45h-1.45zM292.88 677.48h1.45v1.45h-1.45zM296.78 657.51h1.45v1.45h-1.45zM310.74 671.37h1.45v1.45h-1.45z" fill="#ee3a2f" fill-opacity="0.47"/>
<path d="M294.19 663.19h1.45v1.45h-1.45zM294.62 667.39h1.45v1.45h-1.45zM298.05 664.93h1.45v1.45h-1.45zM308.08 698.03h1.45v1.45h-1.45zM313.49 675.73h1.45v1.45h-1.45zM301.67 650.98h1.45v1.45h-1.45zM306.1 658.72h1.45v1.45h-1.45zM298.93 677.56h1.45v1.45h-1.45zM295.95 670.69h1.45v1.45h-1.45zM304.41 664.06h1.45v1.45h-1.45zM309.85 680.79h1.45v1.45h-1.45zM301.72 678.95h1.45v1.45h-1.45zM296.94 675.41h1.45v1.45h-1.45zM294.95 666.06h1.45v1.45h-1.45zM303.76 681.98h1.45v1.45h-1.45zM304.91 676.4h1.45v1.45h-1.45zM297 679.39h1.45v1.45h-1.45zM304.89 663.86h1.45v1.45h-1.45zM300.53 659.27h1.45v1.45h-1.45zM303.35 675.8h1.45v1.45h-1.45zM349.23 683.47h1.45v1.45h-1.45zM305.91 655.03h1.45v1.45h-1.45zM293.95 664.21h1.45v1.45h-1.45zM295.81 658.58h1.45v1.45h-1.45zM308.83 675.13h1.45v1.45h-1.45zM301.96 662.26h1.45v1.45h-1.45zM298.31 658.48h1.45v1.45h-1.45zM322.41 668.63h1.45v1.45h-1.45zM303.95 670.98h1.45v1.45h-1.45zM298.13 682.97h1.45v1.45h-1.45zM301 679.26h1.45v1.45h-1.45zM293.42 665.94h1.45v1.45h-1.45zM305.33 677.78h1.45v1.45h-1.45zM314.45 676.2h1.45v1.45h-1.45zM296.87 669.89h1.45v1.45h-1.45zM302.51 671.32h1.45v1.45h-1.45zM307.81 696.02h1.45v1.45h-1.45zM299.77 687.14h1.45v1.45h-1.45zM304.09 665.76h1.45v1.45h-1.45zM294.99 664.66h1.45v1.45h-1.45zM299.61 669.97h1.45v1.45h-1.45zM296.31 675.95h1.45v1.45h-1.45zM301.63 645.66h1.45v1.45h-1.45zM307.36 672.29h1.45v1.45h-1.45zM321.06 671.22h1.45v1.45h-1.45zM294.43 655.39h1.45v1.45h-1.45zM305.55 673.91h1.45v1.45h-1.45zM308.29 672.41h1.45v1.45h-1.45zM297.64 669.83h1.45v1.45h-1.45zM297.11 674.56h1.45v1.45h-1.45zM294.62 673.69h1.45v1.45h-1.45zM295.13 688.02h1.45v1.45h-1.45zM320.72 675.33h1.45v1.45h-1.45zM294.8 674.78h1.45v1.45h-1.45zM302.33 658.38h1.45v1.45h-1.45zM303.13 665.72h1.45v1.45h-1.45zM352.61 670.48h1.45v1.45h-1.45zM304.64 678.65h1.45v1.45h-1.45zM297.32 689.08h1.45v1.45h-1.45zM296.92 699.04h1.45v1.45h-1.45zM294.71 686.13h1.45v1.45h-1.45zM302.68 668.61h1.45v1.45h-1.45zM296.76 666.58h1.45v1.45h-1.45zM298.54 670.5h1.45v1.45h-1.45zM295.64 676.86h1.45v1.45h-1.45zM298.3 684.36h1.45v1.45h-1.45zM316.37 653.81h1.45v1.45h-1.45zM365.12 674.56h1.45v1.45h-1.45zM294.4 662.83h1.45v1.45h-1.45zM301.85 685.06h1.45v1.45h-1.45zM300.59 661.52h1.45v1.45h-1.45zM300.53 684.79h1.45v1.45h-1.45zM293.55 672.63h1.45v1.45h-1.45zM299.11 676.65h1.45v1.45h-1.45zM295.91 666.41h1.45v1.45h-1.45zM297.57 659.18h1.45v1.45h-1.45zM295.92 693.09h1.45v1.45h-1.45zM293.28 667.46h1.45v1.45h-1.45zM295.59 662.28h1.45v1.45h-1.45zM299.17 667.96h1.45v1.45h-1.45zM305.99 660.96h1.45v1.45h-1.45zM298.19 673.29h1.45v1.45h-1.45zM293.95 663.95h1.45v1.45h-1.45zM296.04 656.46h1.45v1.45h-1.45zM346.17 678.97h1.45v1.45h-1.45zM295.64 664.76h1.45v1.45h-1.45zM303.13 675.16h1.45v1.45h-1.45zM302.79 676.02h1.45v1.45h-1.45zM293.83 672.37h1.45v1.45h-1.45zM302.06 673.98h1.45v1.45h-1.45zM307.22 668.7h1.45v1.45h-1.45zM298.24 641.93h1.45v1.45h-1.45zM294.74 670.1h1.45v1.45h-1.45zM303.52 665.55h1.45v1.45h-1.45zM309.22 694.28h1.45v1.45h-1.45zM342.42 695.24h1.45v1.45h-1.45zM299.76 676.88h1.45v1.45h-1.45zM357.69 694.38h1.45v1.45h-1.45zM306.01 667.95h1.45v1.45h-1.45zM295.45 669.85h1.45v1.45h-1.45zM299.91 679.78h1.45v1.45h-1.45zM300.17 686.25h1.45v1.45h-1.45zM308.19 668.28h1.45v1.45h-1.45zM310.47 651.23h1.45v1.45h-1.45zM306.87 655.72h1.45v1.45h-1.45zM311.2 660.63h1.45v1.45h-1.45zM294.58 672.23h1.45v1.45h-1.45zM293.06 673.36h1.45v1.45h-1.45zM301.84 665.25h1.45v1.45h-1.45zM302.63 675.26h1.45v1.45h-1.45zM297.83 682.8h1.45v1.45h-1.45zM299.77 657.82h1.45v1.45h-1.45zM293.31 696.8h1.45v1.45h-1.45zM303.1 685.53h1.45v1.45h-1.45zM303.46 661.84h1.45v1.45h-1.45zM297.45 677.17h1.45v1.45h-1.45zM296.6 688.96h1.45v1.45h-1.45zM300.58 677.96h1.45v1.45h-1.45zM303.57 688.32h1.45v1.45h-1.45zM300.27 669.67h1.45v1.45h-1.45zM303.77 676.75h1.45v1.45h-1.45zM305.7 673.07h1.45v1.45h-1.45zM295.35 680.9h1.45v1.45h-1.45zM301.88 662.81h1.45v1.45h-1.45zM298.31 682.29h1.45v1.45h-1.45zM302.48 663.51h1.45v1.45h-1.45zM303.44 665.3h1.45v1.45h-1.45zM296.3 677.34h1.45v1.45h-1.45zM294.81 677.58h1.45v1.45h-1.45zM294.21 675.86h1.45v1.45h-1.45zM309.15 677.91h1.45v1.45h-1.45zM297.81 684.61h1.45v1.45h-1.45zM313.43 672.78h1.45v1.45h-1.45zM294.04 671.22h1.45v1.45h-1.45zM296.46 683.59h1.45v1.45h-1.45zM302.5 685.06h1.45v1.45h-1.45zM299.6 659.06h1.45v1.45h-1.45zM296.37 663.88h1.45v1.45h-1.45zM296.82 655.03h1.45v1.45h-1.45zM296.78 664.03h1.45v1.45h-1.45zM293.86 641.56h1.45v1.45h-1.45zM295.78 670.96h1.45v1.45h-1.45zM293.87 669.2h1.45v1.45h-1.45zM298.08 674.79h1.45v1.45h-1.45zM300.02 649.33h1.45v1.45h-1.45zM294.26 658.5h1.45v1.45h-1.45zM304.36 648.08h1.45v1.45h-1.45zM301.25 678.99h1.45v1.45h-1.45zM319.47 665.75h1.45v1.45h-1.45zM295.22 695.92h1.45v1.45h-1.45zM298.45 678.29h1.45v1.45h-1.45zM316.4 667.97h1.45v1.45h-1.45zM294.48 671.23h1.45v1.45h-1.45zM298.67 680.19h1.45v1.45h-1.45zM298.63 680.55h1.45v1.45h-1.45zM295.08 668.78h1.45v1.45h-1.45zM313.33 684.1h1.45v1.45h-1.45zM305.46 676.28h1.45v1.45h-1.45zM294.12 677.25h1.45v1.45h-1.45zM295.28 667.1h1.45v1.45h-1.45zM301.87 656.68h1.45v1.45h-1.45zM308.12 676.05h1.45v1.45h-1.45zM297.56 679.56h1.45v1.45h-1.45zM306.09 706.31h1.45v1.45h-1.45zM305.48 667.41h1.45v1.45h-1.45zM299.12 680.79h1.45v1.45h-1.45zM297.23 696h1.45v1.45h-1.45zM300.96 639.12h1.45v1.45h-1.45zM294.75 675.04h1.45v1.45h-1.45zM293.21 678.97h1.45v1.45h-1.45zM295.94 654.28h1.45v1.45h-1.45zM304.39 678.77h1.45v1.45h-1.45zM343.82 668.7h1.45v1.45h-1.45zM293.72 675.05h1.45v1.45h-1.45zM301.77 672.24h1.45v1.45h-1.45zM300.91 682.16h1.45v1.45h-1.45zM341.7 684.41h1.45v1.45h-1.45zM301.19 672.26h1.45v1.45h-1.45zM294.52 662.41h1.45v1.45h-1.45zM317.17 679.6h1.45v1.45h-1.45zM296.86 695.24h1.45v1.45h-1.45zM293.56 690.64h1.45v1.45h-1.45zM295.81 663.63h1.45v1.45h-1.45zM298.19 683.82h1.45v1.45h-1.45zM301.13 679.61h1.45v1.45h-1.45zM294.84 696.85h1.45v1.45h-1.45zM300.45 680.91h1.45v1.45h-1.45zM295.5 655.91h1.45v1.45h-1.45zM310.43 669.45h1.45v1.45h-1.45zM299.01 659.47h1.45v1.45h-1.45zM301.58 664.65h1.45v1.45h-1.45zM308.77 635.57h1.45v1.45h-1.45zM305.73 678.96h1.45v1.45h-1.45zM298.61 677.41h1.45v1.45h-1.45zM299 673.55h1.45v1.45h-1.45zM303.19 682.97h1.45v1.45h-1.45zM298.81 641.24h1.45v1.45h-1.45zM309.81 695.19h1.45v1.45h-1.45zM298.06 678.14h1.45v1.45h-1.45zM299.01 677.25h1.45v1.45h-1.45zM296.23 678.81h1.45v1.45h-1.45zM301.09 648.81h1.45v1.45h-1.45zM299.82 687.47h1.45v1.45h-1.45zM306.2 680.79h1.45v1.45h-1.45zM306.93 673.95h1.45v1.45h-1.45zM335.79 682.26h1.45v1.45h-1.45zM301.18 663.76h1.45v1.45h-1.45zM306.23 683.77h1.45v1.45h-1.45zM296.35 669.48h1.45v1.45h-1.45zM301.8 657.82h1.45v1.45h-1.45zM293.35 675.25h1.45v1.45h-1.45zM299.56 670.05h1.45v1.45h-1.45zM294.3 687.79h1.45v1.45h-1.45zM297.54 693.75h1.45v1.45h-1.45zM295.73 665.26h1.45v1.45h-1.45zM298.81 678.02h1.45v1.45h-1.45zM300.4 653.93h1.45v1.45h-1.45zM297.06 665.7h1.45v1.45h-1.45zM298.17 662.1h1.45v1.45h-1.45zM378.23 681.56h1.45v1.45h-1.45zM297.7 654.78h1.45v1.45h-1.45zM294.79 672.98h1.45v1.45h-1.45zM347.89 706.02h1.45v1.45h-1.45zM307.95 665.23h1.45v1.45h-1.45zM341.01 667.1h1.45v1.45h-1.45zM300.99 675.16h1.45v1.45h-1.45zM295.76 673.97h1.45v1.45h-1.45zM293.1 676.09h1.45v1.45h-1.45zM306.61 686.29h1.45v1.45h-1.45zM303.58 670.67h1.45v1.45h-1.45zM298.65 694.56h1.45v1.45h-1.45zM297.05 691.51h1.45v1.45h-1.45zM296.12 648.72h1.45v1.45h-1.45zM304.25 663.83h1.45v1.45h-1.45zM305.91 655.05h1.45v1.45h-1.45zM300.93 678.51h1.45v1.45h-1.45zM304.22 669.11h1.45v1.45h-1.45zM296.12 679.64h1.45v1.45h-1.45zM298.09 672.42h1.45v1.45h-1.45zM296.34 655.46h1.45v1.45h-1.45zM299.58 672.61h1.45v1.45h-1.45zM297.31 649.13h1.45v1.45h-1.45zM298.67 695.62h1.45v1.45h-1.45zM309.17 677.56h1.45v1.45h-1.45zM300.59 692.15h1.45v1.45h-1.45zM300.11 672.41h1.45v1.45h-1.45zM293.92 654.19h1.45v1.45h-1.45zM302.9 665.07h1.45v1.45h-1.45zM305.16 688.99h1.45v1.45h-1.45zM313.43 674.48h1.45v1.45h-1.45zM293.13 673.32h1.45v1.45h-1.45zM298.92 675.17h1.45v1.45h-1.45zM295.94 672.26h1.45v1.45h-1.45zM293.75 662.08h1.45v1.45h-1.45zM295.47 663.02h1.45v1.45h-1.45zM304.25 678.88h1.45v1.45h-1.45zM295.05 661.37h1.45v1.45h-1.45zM386.19 682.08h1.45v1.45h-1.45zM299.47 662.29h1.45v1.45h-1.45zM299.7 664.52h1.45v1.45h-1.45zM299.02 672.94h1.45v1.45h-1.45zM297.39 675.72h1.45v1.45h-1.45zM293.3 669.33h1.45v1.45h-1.45zM296 674.52h1.45v1.45h-1.45zM310.47 663.34h1.45v1.45h-1.45zM297.25 660.88h1.45v1.45h-1.45zM304.76 678.85h1.45v1.45h-1.45zM296.68 675.31h1.45v1.45h-1.45zM314.25 666.63h1.45v1.45h-1.45z" fill="#ee3a2f" fill-opacity="0.47"/>
<path d="M295.35 682.22h1.45v1.45h-1.45zM299.75 683.46h1.45v1.45h-1.45zM294.59 680.14h1.45v1.45h-1.45zM295.89 659.44h1.45v1.45h-1.45zM297.07 666.93h1.45v1.45h-1.45zM305.58 682.14h1.45v1.45h-1.45zM301.85 680.53h1.45v1.45h-1.45zM298.15 670.94h1.45v1.45h-1.45zM299.7 677.01h1.45v1.45h-1.45zM295.13 674.59h1.45v1.45h-1.45zM293.2 654.65h1.45v1.45h-1.45zM392.12 685.71h1.45v1.45h-1.45zM294.78 669.16h1.45v1.45h-1.45zM295.82 691.78h1.45v1.45h-1.45zM303.29 685.54h1.45v1.45h-1.45zM299.94 659.34h1.45v1.45h-1.45zM301.48 669.99h1.45v1.45h-1.45zM328.51 664.25h1.45v1.45h-1.45zM293.73 700.17h1.45v1.45h-1.45zM301.54 681.66h1.45v1.45h-1.45zM294.74 663.29h1.45v1.45h-1.45zM302.59 659.68h1.45v1.45h-1.45zM296.94 690.32h1.45v1.45h-1.45zM310.84 678.35h1.45v1.45h-1.45zM300.37 679.46h1.45v1.45h-1.45zM294.17 671.14h1.45v1.45h-1.45zM294.27 674.17h1.45v1.45h-1.45zM309.56 655.14h1.45v1.45h-1.45zM299.57 686.55h1.45v1.45h-1.45zM297.11 677.4h1.45v1.45h-1.45zM307.95 681.44h1.45v1.45h-1.45zM300.41 664.19h1.45v1.45h-1.45zM305.16 666.32h1.45v1.45h-1.45zM294.7 676.46h1.45v1.45h-1.45zM304.87 685.47h1.45v1.45h-1.45zM320.47 678.78h1.45v1.45h-1.45zM304.77 671.92h1.45v1.45h-1.45zM303.95 668.06h1.45v1.45h-1.45zM295 677.28h1.45v1.45h-1.45zM303.81 664.49h1.45v1.45h-1.45zM296.92 676.68h1.45v1.45h-1.45zM304.97 679.29h1.45v1.45h-1.45zM293.83 651.28h1.45v1.45h-1.45zM302.84 689.05h1.45v1.45h-1.45zM299.7 691.19h1.45v1.45h-1.45zM296.96 687.06h1.45v1.45h-1.45zM304.75 656.33h1.45v1.45h-1.45zM295.87 671.25h1.45v1.45h-1.45zM304.67 670.53h1.45v1.45h-1.45zM307.79 669.63h1.45v1.45h-1.45zM301.46 686.53h1.45v1.45h-1.45zM294.66 691.01h1.45v1.45h-1.45zM300.52 661.93h1.45v1.45h-1.45zM302.15 689.5h1.45v1.45h-1.45zM293.62 670.03h1.45v1.45h-1.45zM296.05 679.81h1.45v1.45h-1.45zM299.71 671.55h1.45v1.45h-1.45zM294.13 647.07h1.45v1.45h-1.45zM293.5 656.02h1.45v1.45h-1.45zM307.21 677.06h1.45v1.45h-1.45zM303.5 664.59h1.45v1.45h-1.45zM295.15 677.31h1.45v1.45h-1.45zM298.86 671.33h1.45v1.45h-1.45zM315.14 673.53h1.45v1.45h-1.45zM301.98 678.55h1.45v1.45h-1.45zM308.06 672.14h1.45v1.45h-1.45zM301.27 662.11h1.45v1.45h-1.45zM297.94 638.64h1.45v1.45h-1.45zM295.79 691.53h1.45v1.45h-1.45zM301.67 681.87h1.45v1.45h-1.45zM293.53 680.82h1.45v1.45h-1.45zM295.52 679.95h1.45v1.45h-1.45zM306.61 700.12h1.45v1.45h-1.45zM294.31 662.76h1.45v1.45h-1.45zM315.94 676.99h1.45v1.45h-1.45zM294.47 675.15h1.45v1.45h-1.45zM300.8 677.15h1.45v1.45h-1.45zM307.74 661.02h1.45v1.45h-1.45zM292.9 669.02h1.45v1.45h-1.45zM301.73 669.34h1.45v1.45h-1.45zM300.35 645.36h1.45v1.45h-1.45zM296.96 688.82h1.45v1.45h-1.45zM303.51 650.34h1.45v1.45h-1.45zM327.59 670.5h1.45v1.45h-1.45zM292.89 662.36h1.45v1.45h-1.45zM316.79 689.95h1.45v1.45h-1.45zM303.44 692.09h1.45v1.45h-1.45zM302.85 670.28h1.45v1.45h-1.45zM300.2 670.22h1.45v1.45h-1.45zM295.83 688.89h1.45v1.45h-1.45zM299.45 672.88h1.45v1.45h-1.45zM301.87 690.61h1.45v1.45h-1.45zM299.64 680.36h1.45v1.45h-1.45zM296.61 667.48h1.45v1.45h-1.45zM302.01 670.83h1.45v1.45h-1.45zM299.78 654.3h1.45v1.45h-1.45zM323.13 667.47h1.45v1.45h-1.45zM299.84 680.32h1.45v1.45h-1.45zM302.29 686.9h1.45v1.45h-1.45zM296.18 682.3h1.45v1.45h-1.45zM292.91 664.62h1.45v1.45h-1.45zM294.86 658.99h1.45v1.45h-1.45zM304.85 681.5h1.45v1.45h-1.45zM307.96 669.15h1.45v1.45h-1.45zM297.49 674.53h1.45v1.45h-1.45zM297.14 689.72h1.45v1.45h-1.45zM295.59 674.96h1.45v1.45h-1.45zM306.4 679.75h1.45v1.45h-1.45zM303.83 667.82h1.45v1.45h-1.45zM298.88 670.45h1.45v1.45h-1.45zM296.38 670.67h1.45v1.45h-1.45zM311.14 653.45h1.45v1.45h-1.45zM294.53 690.38h1.45v1.45h-1.45zM295.77 665.57h1.45v1.45h-1.45zM302.62 687.17h1.45v1.45h-1.45zM296.89 677.72h1.45v1.45h-1.45zM297.37 672.66h1.45v1.45h-1.45zM294.5 656.38h1.45v1.45h-1.45zM300.51 703.49h1.45v1.45h-1.45zM298.1 661.8h1.45v1.45h-1.45zM294.06 678.67h1.45v1.45h-1.45zM293.3 665.56h1.45v1.45h-1.45zM296.66 657.17h1.45v1.45h-1.45zM351.67 679.47h1.45v1.45h-1.45zM295.07 669.72h1.45v1.45h-1.45zM302.29 657.93h1.45v1.45h-1.45zM309.68 688.64h1.45v1.45h-1.45zM295.35 650.72h1.45v1.45h-1.45zM295.42 682.51h1.45v1.45h-1.45zM300.76 686.52h1.45v1.45h-1.45zM299.39 685.54h1.45v1.45h-1.45zM324.13 687.29h1.45v1.45h-1.45zM296.96 683.33h1.45v1.45h-1.45zM299.61 672.27h1.45v1.45h-1.45zM302.4 686.68h1.45v1.45h-1.45zM292.88 670.26h1.45v1.45h-1.45zM298.9 668.97h1.45v1.45h-1.45zM303.23 668.83h1.45v1.45h-1.45zM293.08 675.02h1.45v1.45h-1.45zM305.27 666.87h1.45v1.45h-1.45zM300.54 661.49h1.45v1.45h-1.45zM306.81 685.5h1.45v1.45h-1.45zM307.19 659.72h1.45v1.45h-1.45zM293.19 656.96h1.45v1.45h-1.45zM318.92 683.02h1.45v1.45h-1.45zM297.83 660.12h1.45v1.45h-1.45zM296.09 661.74h1.45v1.45h-1.45zM302.66 679.37h1.45v1.45h-1.45zM302.06 676.64h1.45v1.45h-1.45zM300.67 679.65h1.45v1.45h-1.45zM308.1 670.65h1.45v1.45h-1.45zM298.34 695.36h1.45v1.45h-1.45zM294.48 667.57h1.45v1.45h-1.45zM323.13 673.48h1.45v1.45h-1.45zM297.22 681.53h1.45v1.45h-1.45zM300.47 685.76h1.45v1.45h-1.45zM297.59 661.26h1.45v1.45h-1.45zM299.38 677.91h1.45v1.45h-1.45zM306.62 667.17h1.45v1.45h-1.45zM302.26 685.71h1.45v1.45h-1.45zM319.8 677.46h1.45v1.45h-1.45zM307.44 676.94h1.45v1.45h-1.45zM309.92 660.37h1.45v1.45h-1.45zM297.3 665.94h1.45v1.45h-1.45zM295.69 686.42h1.45v1.45h-1.45zM301.81 693.65h1.45v1.45h-1.45zM300.85 693.49h1.45v1.45h-1.45zM295.06 662.15h1.45v1.45h-1.45zM317.52 677.13h1.45v1.45h-1.45zM293.05 661.76h1.45v1.45h-1.45zM296.03 681.31h1.45v1.45h-1.45zM307.74 658.42h1.45v1.45h-1.45zM334.94 703.74h1.45v1.45h-1.45zM370.96 666.89h1.45v1.45h-1.45zM293.61 673.1h1.45v1.45h-1.45zM295.77 687.99h1.45v1.45h-1.45zM296.94 670.15h1.45v1.45h-1.45zM297.63 678.79h1.45v1.45h-1.45zM295.2 678.3h1.45v1.45h-1.45zM294.47 661.13h1.45v1.45h-1.45zM298.89 661.03h1.45v1.45h-1.45zM308.77 696.8h1.45v1.45h-1.45zM292.94 689.05h1.45v1.45h-1.45zM302.09 651.93h1.45v1.45h-1.45zM299.07 664.88h1.45v1.45h-1.45zM293.59 673.91h1.45v1.45h-1.45zM293.45 690.04h1.45v1.45h-1.45zM300.09 663.92h1.45v1.45h-1.45zM297.1 679.67h1.45v1.45h-1.45zM294.76 683.7h1.45v1.45h-1.45zM298.2 694.67h1.45v1.45h-1.45zM295.02 666.46h1.45v1.45h-1.45zM293.7 678.51h1.45v1.45h-1.45zM301.3 655.26h1.45v1.45h-1.45zM299.32 665.49h1.45v1.45h-1.45zM300.64 666.09h1.45v1.45h-1.45zM292.98 644.21h1.45v1.45h-1.45zM296.01 659.7h1.45v1.45h-1.45zM300.44 684.5h1.45v1.45h-1.45zM302.69 673.58h1.45v1.45h-1.45zM318.81 677.02h1.45v1.45h-1.45zM310.84 669.22h1.45v1.45h-1.45zM295.44 653.4h1.45v1.45h-1.45zM309.08 656.68h1.45v1.45h-1.45zM302.88 655.21h1.45v1.45h-1.45zM295.07 658.59h1.45v1.45h-1.45zM308.46 671.46h1.45v1.45h-1.45zM298.09 677.99h1.45v1.45h-1.45zM294.15 672.2h1.45v1.45h-1.45zM298.52 658.2h1.45v1.45h-1.45zM302.9 663.08h1.45v1.45h-1.45zM294.11 659.82h1.45v1.45h-1.45zM299.78 669.98h1.45v1.45h-1.45zM294.36 667.98h1.45v1.45h-1.45zM307.13 676.41h1.45v1.45h-1.45zM293.87 643.26h1.45v1.45h-1.45zM296.81 681.22h1.45v1.45h-1.45zM299.71 693.87h1.45v1.45h-1.45zM296.34 695.95h1.45v1.45h-1.45zM295.64 679.09h1.45v1.45h-1.45zM298.05 670.04h1.45v1.45h-1.45zM299.08 677.3h1.45v1.45h-1.45zM307.26 664.34h1.45v1.45h-1.45zM300.21 667.99h1.45v1.45h-1.45zM296.43 690.01h1.45v1.45h-1.45zM298.03 686.01h1.45v1.45h-1.45zM298.63 656.46h1.45v1.45h-1.45zM303.05 666.62h1.45v1.45h-1.45zM296.15 673.1h1.45v1.45h-1.45zM305.66 676.33h1.45v1.45h-1.45zM322.47 670.47h1.45v1.45h-1.45zM301.31 676.56h1.45v1.45h-1.45zM315.54 695.81h1.45v1.45h-1.45zM299.6 676.6h1.45v1.45h-1.45zM304.66 686.48h1.45v1.45h-1.45zM324.7 670.24h1.45v1.45h-1.45zM324.72 680.19h1.45v1.45h-1.45zM301.9 664.6h1.45v1.45h-1.45zM353.59 682.43h1.45v1.45h-1.45zM297.45 674.7h1.45v1.45h-1.45zM297.63 671.88h1.45v1.45h-1.45zM296.41 652.12h1.45v1.45h-1.45zM297.1 665.71h1.45v1.45h-1.45zM302.57 647.17h1.45v1.45h-1.45zM295.2 668.26h1.45v1.45h-1.45zM293.26 669.06h1.45v1.45h-1.45zM293.93 669.23h1.45v1.45h-1.45zM298.44 658.92h1.45v1.45h-1.45zM309.18 664.27h1.45v1.45h-1.45zM294.33 690.51h1.45v1.45h-1.45zM299 690.68h1.45v1.45h-1.45zM317.87 676.11h1.45v1.45h-1.45zM298.97 691.34h1.45v1.45h-1.45zM301.97 682.66h1.45v1.45h-1.45zM298.52 679.14h1.45v1.45h-1.45zM298.01 683.15h1.45v1.45h-1.45zM294.59 660.53h1.45v1.45h-1.45zM302.18 679.43h1.45v1.45h-1.45zM313.37 667.69h1.45v1.45h-1.45zM309.36 697.14h1.45v1.45h-1.45zM294.38 663.46h1.45v1.45h-1.45zM302.66 692.73h1.45v1.45h-1.45zM296.83 648.84h1.45v1.45h-1.45zM300.45 687.43h1.45v1.45h-1.45zM304.56 656.63h1.45v1.45h-1.45zM294.45 687.71h1.45v1.45h-1.45zM302.33 678.82h1.45v1.45h-1.45zM310.08 652.8h1.45v1.45h-1.45zM302.87 698.28h1.45v1.45h-1.45z" fill="#ee3a2f" fill-opacity="0.47"/>
<path d="M293.9 669.8 L297.62 670.6 L301.34 671.41 L305.06 672.21 L308.78 673.01 L312.5 673.81 L316.22 674.6 L319.94 675.4 L323.66 676.19 L327.38 676.98 L331.1 677.77 L334.82 678.55 L338.54 679.32 L342.26 680.07 L345.98 680.81 L349.7 681.53 L353.42 682.23 L357.14 682.92 L360.86 683.59 L364.58 684.24 L368.3 684.87 L372.02 685.49 L375.74 686.09 L379.46 686.68 L383.18 687.25 L386.9 687.8 L390.62 688.33 L394.34 688.85 L398.06 689.35 L401.78 689.83 L405.5 690.3 L405.5 698.3 L401.78 697.19 L398.06 696.1 L394.34 695.03 L390.62 693.98 L386.9 692.94 L383.18 691.91 L379.46 690.91 L375.74 689.92 L372.02 688.95 L368.3 687.99 L364.58 687.05 L360.86 686.13 L357.14 685.23 L353.42 684.34 L349.7 683.47 L345.98 682.62 L342.26 681.78 L338.54 680.96 L334.82 680.16 L331.1 679.37 L327.38 678.58 L323.66 677.8 L319.94 677.02 L316.22 676.24 L312.5 675.46 L308.78 674.68 L305.06 673.91 L301.34 673.14 L297.62 672.37 L293.9 671.6Z" fill="#a0a0a0" fill-opacity="0.6"/>
<line x1="293.9" y1="670.7" x2="405.5" y2="694.3" stroke="#151515" stroke-width="0.85" />
<path d="M288.1 620 V721.1 H412" fill="none" stroke="#000" stroke-width="1.3"/>
<line x1="285.5" y1="623.9" x2="288.1" y2="623.9" stroke="#000" stroke-width="1" />
<text font-size="8.6" font-weight="bold" text-anchor="end" stroke="#000" stroke-width="0.18" transform="translate(284.5 626.7) scale(1 1.12)">2</text>
<line x1="285.5" y1="645.8" x2="288.1" y2="645.8" stroke="#000" stroke-width="1" />
<text font-size="8.6" font-weight="bold" text-anchor="end" stroke="#000" stroke-width="0.18" transform="translate(284.5 648.6) scale(1 1.12)">1</text>
<line x1="285.5" y1="667.65" x2="288.1" y2="667.65" stroke="#000" stroke-width="1" />
<text font-size="8.6" font-weight="bold" text-anchor="end" stroke="#000" stroke-width="0.18" transform="translate(284.5 670.45) scale(1 1.12)">0</text>
<line x1="285.5" y1="689.5" x2="288.1" y2="689.5" stroke="#000" stroke-width="1" />
<text font-size="8.6" font-weight="bold" text-anchor="end" stroke="#000" stroke-width="0.18" transform="translate(284.5 692.3) scale(1 1.12)">-1</text>
<line x1="285.5" y1="711.4" x2="288.1" y2="711.4" stroke="#000" stroke-width="1" />
<text font-size="8.6" font-weight="bold" text-anchor="end" stroke="#000" stroke-width="0.18" transform="translate(284.5 714.2) scale(1 1.12)">-2</text>
<line x1="291.8" y1="721.1" x2="291.8" y2="723.5" stroke="#000" stroke-width="1" />
<text font-size="8.6" font-weight="bold" text-anchor="middle" stroke="#000" stroke-width="0.18" transform="translate(291.8 730) scale(1 1.12)">0</text>
<line x1="320.1" y1="721.1" x2="320.1" y2="723.5" stroke="#000" stroke-width="1" />
<text font-size="8.6" font-weight="bold" text-anchor="middle" stroke="#000" stroke-width="0.18" transform="translate(320.1 730) scale(1 1.12)">1</text>
<line x1="348.2" y1="721.1" x2="348.2" y2="723.5" stroke="#000" stroke-width="1" />
<text font-size="8.6" font-weight="bold" text-anchor="middle" stroke="#000" stroke-width="0.18" transform="translate(348.2 730) scale(1 1.12)">2</text>
<line x1="376.6" y1="721.1" x2="376.6" y2="723.5" stroke="#000" stroke-width="1" />
<text font-size="8.6" font-weight="bold" text-anchor="middle" stroke="#000" stroke-width="0.18" transform="translate(376.6 730) scale(1 1.12)">3</text>
<line x1="404.7" y1="721.1" x2="404.7" y2="723.5" stroke="#000" stroke-width="1" />
<text font-size="8.6" font-weight="bold" text-anchor="middle" stroke="#000" stroke-width="0.18" transform="translate(404.7 730) scale(1 1.12)">4</text>
<text font-size="5.6" fill="#1a1a1a" transform="translate(325.4 625) scale(1 1.12)"><tspan font-style="italic">R</tspan> = −0.28, <tspan font-style="italic">p</tspan> &lt; 2.2e-16</text>
<text font-size="8.4" font-weight="bold" text-anchor="middle" stroke="#000" stroke-width="0.18" transform="translate(273.6 670.5) scale(0.89 1) rotate(-90)">Log<tspan font-size="5.6" dy="1.8">2</tspan><tspan dy="-1.8"> H3K36me3 signal (KO/WT)</tspan></text>
<text font-size="8.4" font-weight="bold" stroke="#000" stroke-width="0.18" transform="translate(286.8 742.6) scale(1 1.12)">Log<tspan font-size="5.6" dy="1.8">2</tspan><tspan dy="-1.8"> Gene expression (KO/WT)</tspan></text>
<text font-size="21.5" font-weight="bold" stroke="#000" stroke-width="0.18" transform="translate(436 525.3) scale(0.9 1)">o</text>
<text font-size="9.5" font-weight="bold" text-anchor="middle" fill="#ff1a1a" stroke="#ff1a1a" stroke-width="0.18" transform="translate(567.2 522.9) scale(1 1.12)">H3K36me3</text>
<path d="M487.1 622.31 487.46 622.68 487.83 623.25 488.19 623.49 488.55 623.67 488.91 623.68 489.28 623.32 489.64 623.17 490 622.89 490.36 623.29 490.73 623.08 491.09 623.41 491.45 623.19 491.82 623.48 492.18 623.36 492.54 623.34 492.9 623.77 493.27 624.09 493.63 623.68 493.99 623.39 494.35 623.23 494.72 622.35 495.08 622.16 495.44 621.95 495.81 622.17 496.17 622.15 496.53 622.44 496.89 622.78 497.26 623.09 497.62 622.94 497.98 623.51 498.35 623.46 498.71 623.14 499.07 622.98 499.43 622.84 499.8 622.53 500.16 622.54 500.52 622.19 500.88 622.36 501.25 622.51 501.61 622.56 501.97 622.47 502.34 622.27 502.7 622.17 503.06 622 503.42 621.42 503.79 620.68 504.15 620.62 504.51 620.46 504.87 620.16 505.24 619.7 505.6 619.95 505.96 619.21 506.33 618.6 506.69 617.73 507.05 617.62 507.41 616.85 507.78 616.17 508.14 615.05 508.5 613.65 508.86 612 509.23 610.46 509.59 608.97 509.95 607.66 510.32 606.65 510.68 605.38 511.04 603.88 511.4 602.44 511.77 599.74 512.13 596.31 512.49 592.5 512.85 588.85 513.22 585.24 513.58 581.24 513.94 577.25 514.31 573.05 514.67 569.21 515.03 564.98 515.39 561.6 515.76 558.7 516.12 556.27 516.48 553.76 516.85 551.09 517.21 548.38 517.57 545.35 517.93 545.14 518.3 546.81 518.66 550.18 519.02 553.65 519.38 557.15 519.75 560.48 520.11 563.6 520.47 567.41 520.84 571.22 521.2 575.64 521.56 579.61 521.92 583.55 522.29 587.51 522.65 591.44 523.01 594.6 523.37 596.57 523.74 597.88 524.1 598.64 524.46 599.33 524.83 599.23 525.19 599.76 525.55 600.21 525.91 600.74 526.28 601.52 526.64 602.45 527 602.57 527.36 602.68 527.73 602.59 528.09 602.62 528.45 602.95 528.82 602.92 529.18 602.9 529.54 603.25 529.9 603.6 530.27 603.42 530.63 603.78 530.99 604.11 531.35 604.27 531.72 603.75 532.08 603.86 532.44 603.77 532.81 603.13 533.17 602.87 533.53 603.06 533.89 602.51 534.26 603.18 534.62 603.36 534.98 603.55 535.35 603.81 535.71 604.64 536.07 604.06 536.43 604.62 536.8 604.23 537.16 604.03 537.52 603.42 537.88 603.23 538.25 602.91 538.61 603.54 538.97 603.97 539.34 604.16 539.7 604.08 540.06 603.79 540.42 603.45 540.79 603.07 541.15 603 541.51 603.14 541.87 603.07 542.24 602.99 542.6 602.81 542.96 602.95 543.33 602.81 543.69 603.13 544.05 603.22 544.41 603.51 544.78 603.45 545.14 603.19 545.5 602.57 545.86 602.12 546.23 601.31 546.59 600.17 546.95 600.55 547.32 600.74 547.68 600.75 548.04 600.8 548.4 601.41 548.77 600.96 549.13 600.7 549.49 600.72 549.85 600.24 550.22 599.92 550.58 599.33 550.94 599.45 551.31 598.81 551.67 598.66 552.03 598.03 552.39 598.24 552.76 598.25 553.12 598.31 553.48 598.14 553.85 597.99 554.21 598.58 554.57 597.92 554.93 597.34 555.3 597.51 555.66 597.82 556.02 597.27 556.38 597.08 556.75 596.97 557.11 596.81 557.47 596.23 557.84 595.68 558.2 595.49 558.56 595.59 558.92 595 559.29 594.76 559.65 594.47 560.01 594.3 560.37 593.56 560.74 593.38 561.1 593.41 561.46 593.11 561.83 593.36 562.19 593.7 562.55 594 562.91 593.79 563.28 593.74 563.64 593.11 564 593.03 564.36 592.51 564.73 592.69 565.09 592.3 565.45 592.28 565.82 591.88 566.18 591.66 566.54 591.44 566.9 591.61 567.27 591.13 567.63 590.68 567.99 590.73 568.35 589.98 568.72 589.67 569.08 589.29 569.44 589.27 569.81 588.67 570.17 588.59 570.53 588.62 570.89 588.99 571.26 588.64 571.62 588.56 571.98 588.01 572.35 587.49 572.71 587.14 573.07 586.83 573.43 586.47 573.8 586.72 574.16 586.34 574.52 585.98 574.88 586.37 575.25 586.53 575.61 586.46 575.97 586.86 576.34 586.73 576.7 586.39 577.06 586.16 577.42 585.7 577.79 585.49 578.15 584.98 578.51 584.7 578.87 584.28 579.24 584.12 579.6 583.33 579.96 583.44 580.33 583.38 580.69 583.78 581.05 583.4 581.41 583.6 581.78 583.42 582.14 583.03 582.5 582.57 582.86 582.89 583.23 582.67 583.59 582.63 583.95 583.14 584.32 583.09 584.68 583.01 585.04 582.67 585.4 582.81 585.77 582.1 586.13 581.95 586.49 581.6 586.85 581.72 587.22 581.17 587.58 580.89 587.94 580.49 588.31 580.47 588.67 580.39 589.03 580.65 589.39 581.2 589.76 581.81 590.12 581.65 590.48 581.38 590.85 581.29 591.21 580.62 591.57 580.35 591.93 580.62 592.3 580.46 592.66 580.35 593.02 580.71 593.38 580.35 593.75 579.8 594.11 579.72 594.47 579.41 594.84 578.67 595.2 578.39 595.56 578.14 595.92 577.76 596.29 577.18 596.65 577.21 597.01 576.68 597.37 576.52 597.74 576.02 598.1 575.93 598.46 575.58 598.83 575.59 599.19 575.5 599.55 575.76 599.91 575.67 600.28 575.33 600.64 574.76 601 574.04 601.36 573.5 601.73 573.17 602.09 573.2 602.45 573.28 602.82 573.39 603.18 573.57 603.54 573.28 603.9 572.93 604.27 572.67 604.63 572.51 604.99 572.13 605.35 571.76 605.72 571.47 606.08 571.16 606.44 571.33 606.81 571.53 607.17 571.51 607.53 571.24 607.89 571.26 608.26 570.39 608.62 570.18 608.98 570.14 609.35 570.06 609.71 570.13 610.07 570.57 610.43 570.17 610.8 570.24 611.16 569.81 611.52 569.25 611.88 568.62 612.25 568.07 612.61 567.89 612.97 568.75 613.34 568.69 613.7 568.9 614.06 569.65 614.42 569.54 614.79 569.17 615.15 569.43 615.51 569.78 615.87 569.49 616.24 569.87 616.6 570.14 616.96 570.55 617.33 570.46 617.69 570.78 618.05 570.87 618.41 570.72 618.78 570.57 619.14 570.4 619.5 570.83 619.86 571.54 620.23 573.14 620.59 574.29 620.95 575.67 621.32 577.62 621.68 580.21 622.04 582.83 622.4 586.44 622.77 588.3 623.13 588.28 623.49 586.9 623.85 585.75 624.22 584.06 624.58 582.95 624.94 581.39 625.31 580.31 625.67 579.7 626.03 580.14 626.39 580.42 626.76 580.72 627.12 580.8 627.48 581.07 627.85 581.2 628.21 580.9 628.57 580.86 628.93 580.82 629.3 581.09 629.66 581.01 630.02 581.42 630.38 581.68 630.75 581.84 631.11 581.9 631.47 582.39 631.84 582.61 632.2 582.99 632.56 583.62 632.92 584.22 633.29 584.63 633.65 585.11 634.01 585.45 634.37 585.8 634.74 586.89 635.1 587.18 635.46 587.73 635.83 588.42 636.19 588.69 636.55 588.61 636.91 589.11 637.28 589.23 637.64 589.78 638 590.41 638.36 590.65 638.73 590.79 639.09 591.4 639.45 591.83 639.82 592.3 640.18 592.38 640.54 592.94 640.9 593.58 641.27 593.54 641.63 593.8 641.99 594.73 642.35 595.38 642.72 595.68 643.08 596.38 643.44 597.22 643.81 597.68 644.17 598.14 644.53 598.07 644.89 598.53 645.26 598.31 645.62 598.72 645.98 598.74 646.35 599.48 646.71 599.63 647.07 600.07 647.43 600.18 647.8 600.55 648.16 601.1 648.52 601.4 648.88 601.83 649.25 602.35 649.61 602.83 649.97 602.59 650.34 602.5 650.7 603.07 651.06 603.02 651.42 603.2 651.79 603.35 652.15 603.62 652.51 603.22 652.87 603.43 653.24 603.35 653.6 603.71" fill="none" stroke="#2222ff" stroke-width="1.25" stroke-linejoin="round" />
<path d="M487.1 614.68 487.46 614.47 487.83 614.83 488.19 615.02 488.55 614.69 488.91 614.62 489.28 614.59 489.64 614.58 490 614.56 490.36 614.59 490.73 614.38 491.09 614.64 491.45 614.78 491.82 614.99 492.18 614.96 492.54 615.26 492.9 614.95 493.27 614.45 493.63 614.27 493.99 614.62 494.35 614.59 494.72 614.89 495.08 615.42 495.44 615.63 495.81 615.32 496.17 615.31 496.53 615.09 496.89 614.83 497.26 614.73 497.62 614.76 497.98 614.21 498.35 614.2 498.71 614.01 499.07 613.82 499.43 613.7 499.8 613.75 500.16 613.39 500.52 613.57 500.88 613.74 501.25 613.88 501.61 614.09 501.97 614.83 502.34 614.7 502.7 614.35 503.06 614.25 503.42 614.05 503.79 613.57 504.15 613.28 504.51 613.2 504.87 612.73 505.24 612.2 505.6 611.57 505.96 611.11 506.33 610.14 506.69 609.36 507.05 608.57 507.41 608 507.78 606.75 508.14 605.87 508.5 604.21 508.86 603.01 509.23 601.05 509.59 599.36 509.95 597.65 510.32 596.11 510.68 594.16 511.04 592.86 511.4 591.01 511.77 588.57 512.13 585.96 512.49 582.34 512.85 578.43 513.22 574.48 513.58 570.31 513.94 566.25 514.31 562.81 514.67 559.33 515.03 556.14 515.39 552.6 515.76 548.48 516.12 545.06 516.48 541.45 516.85 538.01 517.21 534.59 517.57 531.83 517.93 531.24 518.3 534.03 518.66 539.4 519.02 545.14 519.38 550.94 519.75 556.84 520.11 561.05 520.47 565.15 520.84 568.4 521.2 571.59 521.56 574.8 521.92 578.62 522.29 581.8 522.65 585.02 523.01 587.08 523.37 588.87 523.74 589.79 524.1 590.61 524.46 591.53 524.83 592.81 525.19 593.07 525.55 593.56 525.91 594.11 526.28 594.25 526.64 594.12 527 594.23 527.36 594.38 527.73 594.48 528.09 594.88 528.45 594.78 528.82 595.15 529.18 594.75 529.54 594.54 529.9 594.57 530.27 594.95 530.63 594.9 530.99 595.53 531.35 595.73 531.72 595.32 532.08 594.93 532.44 594.44 532.81 593.96 533.17 593.49 533.53 593.34 533.89 593.1 534.26 592.82 534.62 593.26 534.98 593.56 535.35 593.17 535.71 593.42 536.07 593.6 536.43 592.48 536.8 592.15 537.16 592.57 537.52 592.51 537.88 592.8 538.25 593 538.61 592.94 538.97 592.95 539.34 592.86 539.7 592.6 540.06 592.73 540.42 592.93 540.79 592.4 541.15 591.86 541.51 592.07 541.87 592.05 542.24 591.94 542.6 592.18 542.96 592.34 543.33 591.76 543.69 591.6 544.05 591.11 544.41 590.88 544.78 590.77 545.14 590.88 545.5 590.84 545.86 591.13 546.23 590.81 546.59 590.64 546.95 590.49 547.32 590.21 547.68 589.13 548.04 589.19 548.4 589.02 548.77 588.52 549.13 588.17 549.49 588.38 549.85 588.38 550.22 588.35 550.58 588.33 550.94 588.5 551.31 588.67 551.67 587.99 552.03 587.32 552.39 586.75 552.76 586.37 553.12 585.86 553.48 586.02 553.85 586.07 554.21 585.96 554.57 585.21 554.93 584.88 555.3 584.86 555.66 584.37 556.02 584.02 556.38 584.03 556.75 584.18 557.11 583.45 557.47 583.15 557.84 582.98 558.2 582.78 558.56 582.27 558.92 582.29 559.29 582.88 559.65 583.1 560.01 583.06 560.37 582.82 560.74 582.19 561.1 581.55 561.46 581.31 561.83 581.14 562.19 580.89 562.55 581.01 562.91 580.61 563.28 580.07 563.64 579.62 564 579.44 564.36 579.08 564.73 579.2 565.09 579.11 565.45 579.03 565.82 579.14 566.18 579.2 566.54 579.12 566.9 578.84 567.27 579.04 567.63 578.7 567.99 578.21 568.35 577.81 568.72 577.6 569.08 576.97 569.44 576.77 569.81 577.11 570.17 576.74 570.53 576.96 570.89 577.02 571.26 577.34 571.62 577.07 571.98 577.39 572.35 577.53 572.71 577.23 573.07 576.71 573.43 576.22 573.8 575.78 574.16 575.36 574.52 575.35 574.88 575.27 575.25 575.26 575.61 575.05 575.97 574.71 576.34 574.3 576.7 573.72 577.06 573.21 577.42 573.09 577.79 572.97 578.15 572.65 578.51 572.54 578.87 572.14 579.24 571.65 579.6 571.39 579.96 571.31 580.33 571.54 580.69 572.02 581.05 572.43 581.41 572.36 581.78 572.4 582.14 572.36 582.5 572.68 582.86 572.55 583.23 572.82 583.59 573.05 583.95 573.04 584.32 573.1 584.68 572.99 585.04 572.32 585.4 572.18 585.77 571.85 586.13 571.04 586.49 570.78 586.85 569.93 587.22 569.52 587.58 569.51 587.94 569.28 588.31 568.29 588.67 568.81 589.03 568.82 589.39 568.11 589.76 567.4 590.12 567.25 590.48 566.51 590.85 565.59 591.21 565.34 591.57 565.33 591.93 564.63 592.3 564.24 592.66 563.81 593.02 563.6 593.38 562.99 593.75 562.83 594.11 562.47 594.47 562.2 594.84 561.03 595.2 561.04 595.56 560.96 595.92 560.85 596.29 560.59 596.65 560.75 597.01 560.46 597.37 560.53 597.74 560.2 598.1 560.24 598.46 560.8 598.83 560.98 599.19 560.93 599.55 561.49 599.91 561.77 600.28 561.88 600.64 561.54 601 562.15 601.36 562.81 601.73 563.17 602.09 563.17 602.45 563.61 602.82 563.05 603.18 562.39 603.54 561.89 603.9 561.34 604.27 560.99 604.63 560.68 604.99 560.24 605.35 560.03 605.72 559.97 606.08 559.66 606.44 559.67 606.81 559.39 607.17 558.45 607.53 557.51 607.89 557.14 608.26 556.42 608.62 556.21 608.98 556.13 609.35 556.17 609.71 555.82 610.07 555.74 610.43 555.43 610.8 555.74 611.16 555.87 611.52 555.9 611.88 556.13 612.25 556.4 612.61 556.39 612.97 556.24 613.34 556.24 613.7 556.12 614.06 555.91 614.42 556 614.79 556.77 615.15 557.19 615.51 557.41 615.87 557.92 616.24 558.46 616.6 558.66 616.96 559.23 617.33 559.52 617.69 560.39 618.05 560.58 618.41 560.83 618.78 560.84 619.14 561.18 619.5 561.13 619.86 562.9 620.23 564.68 620.59 566.12 620.95 567.72 621.32 570.35 621.68 572.48 622.04 575.91 622.4 580.68 622.77 583.12 623.13 582.86 623.49 580.58 623.85 577.35 624.22 574.59 624.58 572.73 624.94 571.99 625.31 571.35 625.67 571.46 626.03 571.24 626.39 571.18 626.76 570.93 627.12 570.82 627.48 570.31 627.85 570.35 628.21 570.2 628.57 569.46 628.93 569.78 629.3 569.9 629.66 570.28 630.02 571.01 630.38 571.88 630.75 572.03 631.11 572.88 631.47 573.35 631.84 573.59 632.2 574.45 632.56 575.1 632.92 575.61 633.29 576.6 633.65 577.29 634.01 577.36 634.37 578.07 634.74 578.73 635.1 578.82 635.46 579.76 635.83 580.28 636.19 580.9 636.55 581.4 636.91 582.03 637.28 581.85 637.64 582.21 638 582.17 638.36 582.35 638.73 582.55 639.09 583.25 639.45 583.23 639.82 583.83 640.18 584.15 640.54 584.25 640.9 583.95 641.27 584.72 641.63 584.38 641.99 584.87 642.35 584.95 642.72 585.46 643.08 585.64 643.44 586.48 643.81 586.2 644.17 586.89 644.53 587.31 644.89 588 645.26 588.23 645.62 588.8 645.98 588.47 646.35 588.53 646.71 588.74 647.07 588.76 647.43 588.86 647.8 589.43 648.16 589.89 648.52 589.31 648.88 590 649.25 590.43 649.61 590.81 649.97 590.8 650.34 591.82 650.7 591.5 651.06 591.73 651.42 591.78 651.79 591.68 652.15 591.39 652.51 591.84 652.87 591.78 653.24 591.85 653.6 592.25" fill="none" stroke="#ff2020" stroke-width="1.25" stroke-linejoin="round" />
<rect x="486.6" y="526.3" width="167.5" height="101.7" fill="none" stroke="#666" stroke-width="0.9" />
<line x1="484.2" y1="627.4" x2="486.6" y2="627.4" stroke="#000" stroke-width="0.8" />
<text font-size="6.9" font-weight="bold" text-anchor="end" stroke="#000" stroke-width="0.18" transform="translate(483 629.9) scale(1 1.12)">2000</text>
<line x1="484.2" y1="604.3" x2="486.6" y2="604.3" stroke="#000" stroke-width="0.8" />
<text font-size="6.9" font-weight="bold" text-anchor="end" stroke="#000" stroke-width="0.18" transform="translate(483 606.8) scale(1 1.12)">4000</text>
<line x1="484.2" y1="581.2" x2="486.6" y2="581.2" stroke="#000" stroke-width="0.8" />
<text font-size="6.9" font-weight="bold" text-anchor="end" stroke="#000" stroke-width="0.18" transform="translate(483 583.7) scale(1 1.12)">6000</text>
<line x1="484.2" y1="558.1" x2="486.6" y2="558.1" stroke="#000" stroke-width="0.8" />
<text font-size="6.9" font-weight="bold" text-anchor="end" stroke="#000" stroke-width="0.18" transform="translate(483 560.6) scale(1 1.12)">8000</text>
<line x1="484.2" y1="535" x2="486.6" y2="535" stroke="#000" stroke-width="0.8" />
<text font-size="6.9" font-weight="bold" text-anchor="end" stroke="#000" stroke-width="0.18" transform="translate(483 537.5) scale(1 1.12)">10000</text>
<line x1="486.6" y1="628" x2="486.6" y2="630.3" stroke="#000" stroke-width="0.8" />
<line x1="517.9" y1="628" x2="517.9" y2="630.3" stroke="#000" stroke-width="0.8" />
<line x1="622.8" y1="628" x2="622.8" y2="630.3" stroke="#000" stroke-width="0.8" />
<line x1="654.1" y1="628" x2="654.1" y2="630.3" stroke="#000" stroke-width="0.8" />
<text font-size="6.9" font-weight="bold" text-anchor="middle" stroke="#000" stroke-width="0.18" transform="translate(487.9 638.8) scale(1 1.12)">-3.0</text>
<text font-size="6.9" font-weight="bold" text-anchor="middle" stroke="#000" stroke-width="0.18" transform="translate(518.8 638.8) scale(1 1.12)">TSS</text>
<text font-size="6.9" font-weight="bold" text-anchor="middle" stroke="#000" stroke-width="0.18" transform="translate(621.3 638.8) scale(1 1.12)">TES</text>
<text font-size="6.9" font-weight="bold" text-anchor="end" stroke="#000" stroke-width="0.18" transform="translate(657.6 638.8) scale(1 1.12)">3.0 Kb</text>
<text font-size="8.3" font-weight="bold" text-anchor="middle" stroke="#000" stroke-width="0.18" transform="translate(459.4 579) scale(0.89 1) rotate(-90)">H3K36me3 Norm. RRPM</text>
<line x1="578.2" y1="533.8" x2="590.1" y2="533.8" stroke="#ff2020" stroke-width="1.1" />
<text font-size="6.9" font-weight="bold" stroke="#000" stroke-width="0.18" transform="translate(592 536.9) scale(1 1.12)">Upregulated</text>
<line x1="578.2" y1="542.6" x2="590.1" y2="542.6" stroke="#2222ff" stroke-width="1.1" />
<text font-size="6.9" font-weight="bold" stroke="#000" stroke-width="0.18" transform="translate(592 545.7) scale(1 1.12)">Downregulated</text></svg>
</body></html>
